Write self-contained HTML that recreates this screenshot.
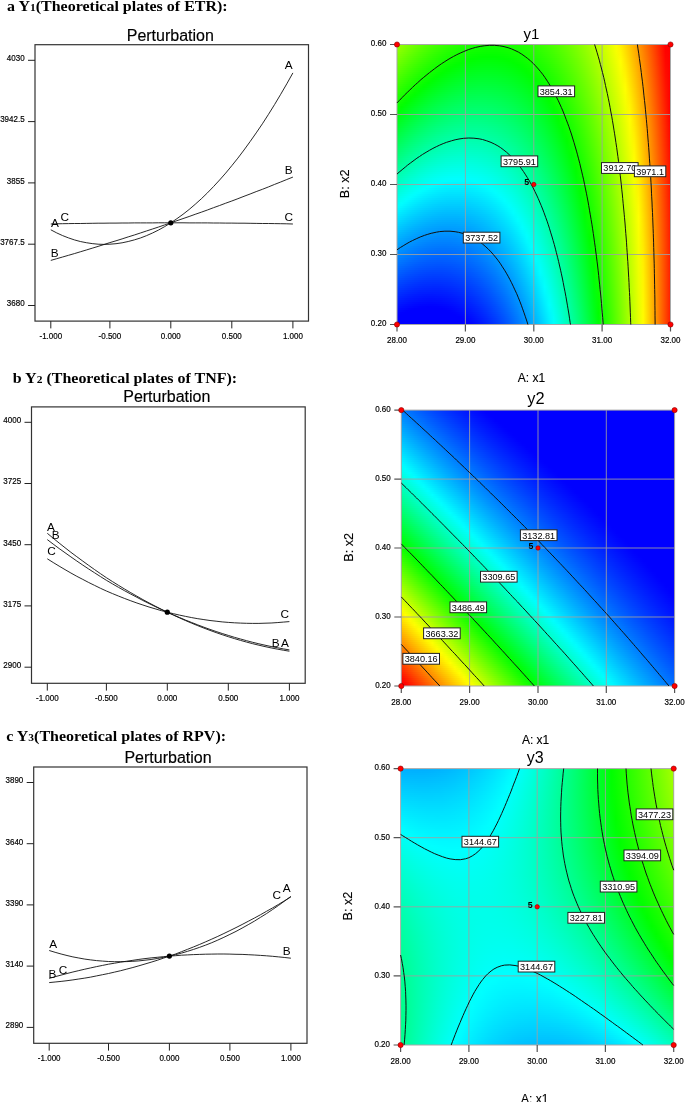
<!DOCTYPE html><html><head><meta charset="utf-8"><title>Perturbation and contour plots</title><style>
html,body{margin:0;padding:0;background:#fff}#r{position:relative;width:685px;height:1102px;overflow:hidden;background:#fff}.m{position:absolute;overflow:hidden}.m i{display:block;height:2px}svg{position:absolute;left:0;top:0}text{font-family:'Liberation Sans',Arial,sans-serif;fill:#000}.h{font-family:"Liberation Serif","Times New Roman",serif;font-weight:bold;font-size:16px}.t{font-size:8.7px;stroke:#000;stroke-width:.18px}.ti{font-size:16px;stroke:#000;stroke-width:.15px}.cl{font-size:9.4px}.ax{font-size:12px;stroke:#000;stroke-width:.12px}.pl{font-size:11.8px}.ct{font-size:15px}
</style></head><body><div id="r">
<div class="m" style="left:397px;top:44px;width:273px;height:280px">
<i style="background:linear-gradient(90deg,#9bff00,#8fff00,#83ff00,#78ff00,#6dff00,#63ff00,#5aff00,#51ff00,#49ff00,#41ff00,#3aff00,#34ff00,#2eff00,#29ff00,#24ff00,#20ff00,#1cff00,#1aff00,#17ff00,#16ff00,#15ff00,#14ff00,#14ff00,#15ff00,#17ff00,#19ff00,#1bff00,#1eff00,#2f0,#26ff00,#2bff00,#31ff00,#37ff00,#3eff00,#45ff00,#4dff00,#56ff00,#5fff00,#69ff00,#73ff00,#7eff00,#89ff00,#96ff00,#a2ff00,#b0ff00,#beff00,#cf0,#dbff00,#ebff00,#fbff00,#ffef00,#ffda00,#ffc500,#ffae00,#ff9700,#ff8000,#ff6700,#ff4e00,#ff3400,#ff1a00,#f00,#f00)"></i>
<i style="background:linear-gradient(90deg,#97ff00,#8aff00,#7eff00,#73ff00,#69ff00,#5fff00,#5f0,#4dff00,#4f0,#3dff00,#36ff00,#30ff00,#2aff00,#25ff00,#20ff00,#1cff00,#19ff00,#16ff00,#14ff00,#12ff00,#1f0,#1f0,#1f0,#12ff00,#13ff00,#15ff00,#18ff00,#1bff00,#1fff00,#23ff00,#28ff00,#2eff00,#34ff00,#3bff00,#43ff00,#4bff00,#53ff00,#5cff00,#6f0,#71ff00,#7cff00,#87ff00,#93ff00,#a0ff00,#aeff00,#bcff00,#caff00,#d9ff00,#e9ff00,#faff00,#fff100,#ffdc00,#ffc600,#ffb000,#f90,#ff8100,#ff6900,#ff4f00,#ff3500,#ff1b00,#f00,#f00)"></i>
<i style="background:linear-gradient(90deg,#92ff00,#86ff00,#7aff00,#6fff00,#64ff00,#5aff00,#51ff00,#48ff00,#40ff00,#39ff00,#32ff00,#2cff00,#26ff00,#21ff00,#1cff00,#18ff00,#15ff00,#12ff00,#10ff00,#0fff00,#0eff00,#0dff00,#0eff00,#0fff00,#10ff00,#12ff00,#15ff00,#18ff00,#1cff00,#21ff00,#26ff00,#2bff00,#32ff00,#38ff00,#40ff00,#48ff00,#51ff00,#5aff00,#64ff00,#6eff00,#79ff00,#85ff00,#91ff00,#9eff00,#acff00,#baff00,#c8ff00,#d8ff00,#e8ff00,#f8ff00,#fff300,#ffde00,#ffc800,#ffb200,#ff9b00,#ff8300,#ff6a00,#ff5100,#ff3700,#ff1c00,#ff0100,#f00)"></i>
<i style="background:linear-gradient(90deg,#8dff00,#81ff00,#75ff00,#6aff00,#60ff00,#56ff00,#4dff00,#4f0,#3cff00,#35ff00,#2eff00,#27ff00,#2f0,#1dff00,#18ff00,#14ff00,#1f0,#0fff00,#0dff00,#0bff00,#0aff00,#0aff00,#0aff00,#0bff00,#0dff00,#0fff00,#12ff00,#15ff00,#19ff00,#1eff00,#23ff00,#28ff00,#2fff00,#36ff00,#3dff00,#45ff00,#4eff00,#58ff00,#62ff00,#6cff00,#7f0,#83ff00,#8fff00,#9cff00,#af0,#b8ff00,#c7ff00,#d6ff00,#e6ff00,#f6ff00,#fff500,#ffe000,#ffca00,#ffb300,#ff9c00,#ff8400,#ff6b00,#ff5200,#ff3800,#ff1d00,#ff0200,#f00)"></i>
<i style="background:linear-gradient(90deg,#8f0,#7cff00,#71ff00,#6f0,#5bff00,#51ff00,#48ff00,#40ff00,#38ff00,#30ff00,#2aff00,#23ff00,#1eff00,#19ff00,#14ff00,#1f0,#0eff00,#0bff00,#09ff00,#08ff00,#07ff00,#07ff00,#07ff00,#08ff00,#0aff00,#0cff00,#0fff00,#12ff00,#16ff00,#1bff00,#20ff00,#26ff00,#2cff00,#3f0,#3bff00,#43ff00,#4cff00,#5f0,#5fff00,#6aff00,#75ff00,#81ff00,#8dff00,#9aff00,#a8ff00,#b6ff00,#c5ff00,#d4ff00,#e4ff00,#f5ff00,#fff700,#ffe100,#fc0,#ffb500,#ff9e00,#ff8600,#ff6d00,#ff5300,#ff3900,#ff1e00,#ff0300,#f00)"></i>
<i style="background:linear-gradient(90deg,#84ff00,#7f0,#6cff00,#61ff00,#57ff00,#4dff00,#4f0,#3bff00,#3f0,#2cff00,#25ff00,#1fff00,#1aff00,#15ff00,#1f0,#0dff00,#0aff00,#07ff00,#05ff00,#04ff00,#03ff00,#03ff00,#04ff00,#05ff00,#06ff00,#09ff00,#0cff00,#0fff00,#13ff00,#18ff00,#1dff00,#23ff00,#29ff00,#31ff00,#38ff00,#40ff00,#49ff00,#53ff00,#5dff00,#68ff00,#73ff00,#7fff00,#8bff00,#98ff00,#a6ff00,#b4ff00,#c3ff00,#d2ff00,#e3ff00,#f3ff00,#fff800,#ffe300,#ffcd00,#ffb700,#ff9f00,#ff8700,#ff6e00,#f50,#ff3a00,#ff1f00,#ff0400,#f00)"></i>
<i style="background:linear-gradient(90deg,#7fff00,#73ff00,#67ff00,#5cff00,#52ff00,#49ff00,#40ff00,#37ff00,#2fff00,#28ff00,#21ff00,#1bff00,#16ff00,#1f0,#0dff00,#09ff00,#06ff00,#04ff00,#02ff00,#0f0,#0f0,#0f0,#0f0,#01ff00,#03ff00,#06ff00,#09ff00,#0cff00,#10ff00,#15ff00,#1aff00,#20ff00,#27ff00,#2eff00,#36ff00,#3eff00,#47ff00,#50ff00,#5bff00,#65ff00,#71ff00,#7dff00,#89ff00,#96ff00,#a4ff00,#b2ff00,#c1ff00,#d1ff00,#e1ff00,#f2ff00,#fffa00,#ffe500,#ffcf00,#ffb800,#ffa100,#f80,#ff7000,#ff5600,#ff3c00,#ff2100,#ff0500,#f00)"></i>
<i style="background:linear-gradient(90deg,#7aff00,#6eff00,#63ff00,#58ff00,#4eff00,#4f0,#3bff00,#3f0,#2bff00,#24ff00,#1dff00,#17ff00,#12ff00,#0dff00,#09ff00,#05ff00,#02ff00,#0f0,#00ff02,#00ff04,#00ff04,#00ff04,#00ff04,#00ff02,#0f0,#02ff00,#05ff00,#09ff00,#0dff00,#12ff00,#17ff00,#1dff00,#24ff00,#2bff00,#3f0,#3bff00,#4f0,#4eff00,#58ff00,#63ff00,#6eff00,#7aff00,#87ff00,#94ff00,#a2ff00,#b0ff00,#bfff00,#cfff00,#dfff00,#f0ff00,#fffc00,#ffe700,#ffd100,#ffba00,#ffa200,#ff8a00,#ff7100,#ff5700,#ff3d00,#f20,#ff0600,#f00)"></i>
<i style="background:linear-gradient(90deg,#75ff00,#69ff00,#5eff00,#53ff00,#49ff00,#40ff00,#37ff00,#2fff00,#27ff00,#20ff00,#19ff00,#13ff00,#0eff00,#09ff00,#05ff00,#02ff00,#00ff02,#00ff04,#00ff07,#00ff08,#00ff09,#00ff09,#00ff08,#00ff06,#00ff04,#00ff01,#02ff00,#06ff00,#0aff00,#0fff00,#15ff00,#1bff00,#21ff00,#29ff00,#31ff00,#39ff00,#42ff00,#4cff00,#56ff00,#61ff00,#6cff00,#78ff00,#85ff00,#92ff00,#a0ff00,#afff00,#beff00,#cdff00,#deff00,#ef0,#fffe00,#ffe800,#ffd200,#fb0,#ffa400,#ff8b00,#ff7200,#ff5900,#ff3e00,#ff2300,#ff0700,#f00)"></i>
<i style="background:linear-gradient(90deg,#71ff00,#65ff00,#5aff00,#4fff00,#45ff00,#3bff00,#3f0,#2aff00,#23ff00,#1cff00,#15ff00,#0fff00,#0aff00,#05ff00,#01ff00,#00ff03,#00ff06,#00ff09,#00ff0b,#00ff0c,#00ff0d,#00ff0d,#00ff0c,#00ff0a,#00ff08,#00ff05,#00ff01,#03ff00,#07ff00,#0cff00,#12ff00,#18ff00,#1fff00,#26ff00,#2eff00,#37ff00,#40ff00,#49ff00,#54ff00,#5fff00,#6aff00,#76ff00,#83ff00,#90ff00,#9eff00,#adff00,#bcff00,#cf0,#dcff00,#edff00,#feff00,#ffea00,#ffd400,#ffbd00,#ffa500,#ff8d00,#ff7400,#ff5a00,#ff3f00,#ff2400,#ff0800,#f00)"></i>
<i style="background:linear-gradient(90deg,#6cff00,#60ff00,#5f0,#4aff00,#40ff00,#37ff00,#2eff00,#26ff00,#1eff00,#17ff00,#1f0,#0bff00,#06ff00,#01ff00,#00ff03,#00ff07,#00ff0b,#00ff0d,#00ff0f,#0f1,#0f1,#0f1,#00ff10,#00ff0e,#00ff0c,#00ff08,#00ff05,#0f0,#04ff00,#09ff00,#0fff00,#15ff00,#1cff00,#23ff00,#2bff00,#34ff00,#3dff00,#47ff00,#51ff00,#5cff00,#68ff00,#74ff00,#81ff00,#8eff00,#9cff00,#abff00,#baff00,#caff00,#daff00,#ebff00,#fdff00,#ffec00,#ffd600,#ffbe00,#ffa700,#ff8e00,#ff7500,#ff5b00,#ff4000,#ff2500,#ff0900,#f00)"></i>
<i style="background:linear-gradient(90deg,#67ff00,#5bff00,#50ff00,#46ff00,#3cff00,#3f0,#2aff00,#2f0,#1aff00,#13ff00,#0dff00,#07ff00,#02ff00,#00ff03,#00ff08,#00ff0c,#00ff0f,#00ff12,#00ff14,#00ff15,#00ff15,#00ff15,#00ff14,#00ff12,#00ff10,#00ff0c,#00ff08,#00ff04,#02ff00,#07ff00,#0cff00,#13ff00,#19ff00,#21ff00,#29ff00,#32ff00,#3bff00,#45ff00,#4fff00,#5aff00,#6f0,#72ff00,#7fff00,#8cff00,#9aff00,#a9ff00,#b8ff00,#c8ff00,#d9ff00,#eaff00,#fbff00,#fe0,#ffd700,#ffc000,#ffa800,#ff9000,#ff7600,#ff5c00,#ff4200,#ff2600,#ff0a00,#f00)"></i>
<i style="background:linear-gradient(90deg,#63ff00,#57ff00,#4cff00,#41ff00,#37ff00,#2eff00,#26ff00,#1dff00,#16ff00,#0fff00,#09ff00,#03ff00,#00ff02,#00ff08,#00ff0c,#00ff10,#00ff14,#00ff16,#00ff18,#00ff19,#00ff19,#00ff19,#00ff18,#00ff16,#00ff13,#00ff10,#00ff0c,#00ff07,#00ff02,#04ff00,#09ff00,#10ff00,#17ff00,#1eff00,#26ff00,#2fff00,#38ff00,#42ff00,#4dff00,#58ff00,#64ff00,#70ff00,#7dff00,#8aff00,#9f0,#a7ff00,#b7ff00,#c7ff00,#d7ff00,#e8ff00,#faff00,#ffef00,#ffd900,#ffc200,#fa0,#ff9100,#ff7800,#ff5e00,#ff4300,#ff2700,#ff0b00,#f00)"></i>
<i style="background:linear-gradient(90deg,#5eff00,#52ff00,#47ff00,#3dff00,#3f0,#2aff00,#21ff00,#19ff00,#12ff00,#0bff00,#05ff00,#00ff01,#00ff07,#00ff0c,#0f1,#00ff15,#00ff18,#00ff1b,#00ff1c,#00ff1d,#00ff1e,#00ff1d,#00ff1c,#00ff1a,#00ff17,#00ff14,#00ff10,#00ff0b,#00ff05,#01ff00,#07ff00,#0dff00,#14ff00,#1cff00,#24ff00,#2dff00,#36ff00,#40ff00,#4bff00,#56ff00,#62ff00,#6eff00,#7bff00,#89ff00,#97ff00,#a6ff00,#b5ff00,#c5ff00,#d5ff00,#e7ff00,#f8ff00,#fff100,#ffda00,#ffc300,#ffab00,#ff9200,#ff7900,#ff5f00,#f40,#ff2800,#ff0c00,#f00)"></i>
<i style="background:linear-gradient(90deg,#59ff00,#4eff00,#43ff00,#38ff00,#2fff00,#25ff00,#1dff00,#15ff00,#0eff00,#07ff00,#01ff00,#00ff06,#00ff0c,#0f1,#00ff16,#00ff1a,#00ff1d,#00ff1f,#00ff21,#0f2,#0f2,#00ff21,#00ff20,#00ff1e,#00ff1b,#00ff18,#00ff13,#00ff0e,#00ff09,#00ff02,#04ff00,#0aff00,#1f0,#19ff00,#21ff00,#2aff00,#34ff00,#3eff00,#48ff00,#54ff00,#5fff00,#6cff00,#79ff00,#87ff00,#95ff00,#a4ff00,#b3ff00,#c3ff00,#d4ff00,#e5ff00,#f7ff00,#fff300,#ffdc00,#ffc500,#ffad00,#ff9400,#ff7a00,#ff6000,#ff4500,#ff2900,#ff0d00,#f00)"></i>
<i style="background:linear-gradient(90deg,#54ff00,#49ff00,#3eff00,#34ff00,#2aff00,#21ff00,#19ff00,#1f0,#09ff00,#03ff00,#00ff04,#00ff0b,#0f1,#00ff16,#00ff1a,#00ff1e,#00ff21,#00ff23,#00ff25,#00ff26,#00ff26,#00ff25,#00ff24,#0f2,#00ff1f,#00ff1b,#00ff17,#00ff12,#00ff0c,#00ff06,#01ff00,#08ff00,#0fff00,#17ff00,#1fff00,#28ff00,#31ff00,#3bff00,#46ff00,#51ff00,#5dff00,#6aff00,#7f0,#85ff00,#93ff00,#a2ff00,#b1ff00,#c2ff00,#d2ff00,#e4ff00,#f5ff00,#fff400,#ffde00,#ffc600,#ffae00,#ff9500,#ff7c00,#ff6100,#ff4600,#ff2a00,#ff0e00,#f00)"></i>
<i style="background:linear-gradient(90deg,#50ff00,#4f0,#3aff00,#2fff00,#26ff00,#1dff00,#14ff00,#0dff00,#05ff00,#00ff02,#00ff09,#00ff0f,#00ff15,#00ff1a,#00ff1f,#00ff23,#00ff26,#00ff28,#00ff29,#00ff2a,#00ff2a,#00ff29,#00ff28,#00ff26,#00ff23,#00ff1f,#00ff1b,#00ff16,#00ff10,#00ff09,#00ff02,#05ff00,#0cff00,#14ff00,#1cff00,#25ff00,#2fff00,#39ff00,#4f0,#4fff00,#5bff00,#68ff00,#75ff00,#83ff00,#91ff00,#a0ff00,#b0ff00,#c0ff00,#d1ff00,#e2ff00,#f4ff00,#fff600,#ffdf00,#ffc800,#ffaf00,#ff9600,#ff7d00,#ff6200,#ff4700,#ff2c00,#ff0f00,#f00)"></i>
<i style="background:linear-gradient(90deg,#4bff00,#40ff00,#35ff00,#2bff00,#21ff00,#18ff00,#10ff00,#08ff00,#01ff00,#00ff07,#00ff0e,#00ff14,#00ff1a,#00ff1f,#00ff24,#00ff27,#00ff2a,#00ff2c,#00ff2d,#00ff2e,#00ff2e,#00ff2d,#00ff2c,#00ff2a,#00ff27,#00ff23,#00ff1e,#00ff19,#00ff13,#00ff0d,#00ff05,#02ff00,#0aff00,#1f0,#1aff00,#23ff00,#2dff00,#37ff00,#42ff00,#4dff00,#59ff00,#6f0,#73ff00,#81ff00,#8fff00,#9eff00,#aeff00,#beff00,#cfff00,#e1ff00,#f3ff00,#fff800,#ffe100,#ffc900,#ffb100,#ff9800,#ff7e00,#ff6400,#ff4800,#ff2d00,#ff1000,#f00)"></i>
<i style="background:linear-gradient(90deg,#46ff00,#3bff00,#30ff00,#26ff00,#1dff00,#14ff00,#0cff00,#04ff00,#00ff04,#00ff0c,#00ff13,#00ff19,#00ff1f,#00ff24,#00ff28,#00ff2c,#00ff2e,#00ff30,#00ff32,#00ff32,#00ff32,#00ff31,#00ff30,#00ff2d,#00ff2a,#00ff27,#0f2,#00ff1d,#00ff17,#00ff10,#00ff09,#0f0,#07ff00,#0fff00,#17ff00,#21ff00,#2aff00,#35ff00,#3fff00,#4bff00,#57ff00,#64ff00,#71ff00,#7fff00,#8dff00,#9dff00,#acff00,#bdff00,#cdff00,#dfff00,#f1ff00,#fff900,#ffe200,#ffcb00,#ffb200,#f90,#ff7f00,#ff6500,#ff4a00,#ff2e00,#f10,#f00)"></i>
<i style="background:linear-gradient(90deg,#42ff00,#37ff00,#2cff00,#2f0,#19ff00,#10ff00,#08ff00,#0f0,#00ff09,#0f1,#00ff18,#00ff1e,#00ff24,#00ff29,#00ff2d,#00ff30,#0f3,#00ff35,#00ff36,#00ff37,#00ff36,#00ff35,#00ff34,#00ff31,#00ff2e,#00ff2a,#00ff26,#00ff20,#00ff1a,#00ff13,#00ff0c,#00ff04,#04ff00,#0cff00,#15ff00,#1eff00,#28ff00,#32ff00,#3dff00,#49ff00,#5f0,#62ff00,#6fff00,#7dff00,#8cff00,#9bff00,#abff00,#bf0,#cf0,#df0,#f0ff00,#fffb00,#ffe400,#fc0,#ffb400,#ff9b00,#ff8100,#f60,#ff4b00,#ff2f00,#ff1200,#f00)"></i>
<i style="background:linear-gradient(90deg,#3dff00,#32ff00,#27ff00,#1eff00,#14ff00,#0bff00,#03ff00,#00ff05,#00ff0e,#00ff15,#00ff1c,#00ff23,#00ff28,#00ff2d,#00ff31,#00ff35,#00ff37,#00ff39,#00ff3a,#00ff3b,#00ff3a,#00ff39,#00ff38,#00ff35,#00ff32,#00ff2e,#00ff29,#00ff24,#00ff1e,#00ff17,#00ff0f,#00ff07,#02ff00,#0aff00,#12ff00,#1cff00,#26ff00,#30ff00,#3bff00,#47ff00,#53ff00,#60ff00,#6dff00,#7bff00,#8aff00,#9f0,#a9ff00,#b9ff00,#caff00,#dcff00,#ef0,#fffd00,#ffe500,#ffce00,#ffb500,#ff9c00,#ff8200,#ff6700,#ff4c00,#ff3000,#ff1300,#f00)"></i>
<i style="background:linear-gradient(90deg,#39ff00,#2dff00,#23ff00,#19ff00,#10ff00,#07ff00,#00ff01,#00ff0a,#00ff13,#00ff1a,#00ff21,#00ff28,#00ff2d,#00ff32,#00ff36,#00ff39,#00ff3c,#00ff3d,#00ff3f,#00ff3f,#00ff3f,#00ff3d,#00ff3c,#00ff39,#00ff36,#00ff32,#00ff2d,#00ff27,#00ff21,#00ff1a,#00ff13,#00ff0a,#00ff01,#07ff00,#10ff00,#19ff00,#23ff00,#2eff00,#39ff00,#45ff00,#51ff00,#5eff00,#6bff00,#79ff00,#8f0,#97ff00,#a7ff00,#b8ff00,#c9ff00,#daff00,#edff00,#fffe00,#ffe700,#ffcf00,#ffb600,#ff9d00,#ff8300,#ff6800,#ff4d00,#ff3100,#ff1400,#f00)"></i>
<i style="background:linear-gradient(90deg,#34ff00,#29ff00,#1eff00,#15ff00,#0bff00,#03ff00,#00ff06,#00ff0f,#00ff18,#00ff1f,#00ff26,#00ff2c,#00ff32,#00ff36,#00ff3a,#00ff3e,#00ff40,#00ff42,#00ff43,#00ff43,#00ff43,#00ff41,#00ff40,#00ff3d,#00ff39,#00ff35,#00ff31,#00ff2b,#00ff25,#00ff1e,#00ff16,#00ff0d,#00ff04,#05ff00,#0eff00,#17ff00,#21ff00,#2bff00,#37ff00,#42ff00,#4fff00,#5cff00,#69ff00,#7f0,#86ff00,#96ff00,#a6ff00,#b6ff00,#c7ff00,#d9ff00,#ebff00,#feff00,#ffe900,#ffd100,#ffb800,#ff9e00,#ff8400,#ff6a00,#ff4e00,#ff3200,#ff1500,#f00)"></i>
<i style="background:linear-gradient(90deg,#2fff00,#24ff00,#1aff00,#10ff00,#07ff00,#00ff02,#00ff0c,#00ff15,#00ff1d,#00ff24,#00ff2b,#00ff31,#00ff36,#00ff3b,#00ff3f,#00ff42,#0f4,#00ff46,#00ff47,#00ff47,#00ff47,#00ff45,#00ff43,#00ff41,#00ff3d,#00ff39,#00ff34,#00ff2e,#00ff28,#00ff21,#00ff19,#0f1,#00ff07,#02ff00,#0bff00,#15ff00,#1fff00,#29ff00,#34ff00,#40ff00,#4dff00,#5aff00,#67ff00,#76ff00,#84ff00,#94ff00,#a4ff00,#b4ff00,#c6ff00,#d8ff00,#eaff00,#fdff00,#ffea00,#ffd200,#ffb900,#ffa000,#ff8600,#ff6b00,#ff4f00,#f30,#ff1600,#f00)"></i>
<i style="background:linear-gradient(90deg,#2bff00,#20ff00,#15ff00,#0cff00,#03ff00,#00ff07,#0f1,#00ff1a,#0f2,#00ff29,#00ff30,#00ff36,#00ff3b,#00ff40,#00ff43,#00ff47,#00ff49,#00ff4a,#00ff4b,#00ff4b,#00ff4b,#00ff49,#00ff47,#00ff45,#00ff41,#00ff3d,#00ff38,#00ff32,#00ff2c,#00ff24,#00ff1c,#00ff14,#00ff0a,#0f0,#09ff00,#12ff00,#1cff00,#27ff00,#32ff00,#3eff00,#4bff00,#58ff00,#65ff00,#74ff00,#83ff00,#92ff00,#a2ff00,#b3ff00,#c4ff00,#d6ff00,#e9ff00,#fcff00,#ffec00,#ffd300,#fb0,#ffa100,#ff8700,#ff6c00,#ff5000,#ff3400,#ff1700,#f00)"></i>
<i style="background:linear-gradient(90deg,#26ff00,#1bff00,#1f0,#07ff00,#00ff02,#00ff0c,#00ff16,#00ff1f,#00ff27,#00ff2e,#00ff35,#00ff3b,#00ff40,#0f4,#00ff48,#00ff4b,#00ff4d,#00ff4f,#00ff4f,#00ff50,#00ff4f,#00ff4d,#00ff4b,#00ff48,#00ff45,#00ff40,#00ff3b,#00ff36,#00ff2f,#00ff28,#00ff20,#00ff17,#00ff0d,#00ff03,#06ff00,#10ff00,#1aff00,#25ff00,#30ff00,#3cff00,#49ff00,#56ff00,#64ff00,#72ff00,#81ff00,#90ff00,#a1ff00,#b1ff00,#c3ff00,#d5ff00,#e7ff00,#faff00,#ffed00,#ffd500,#ffbc00,#ffa200,#f80,#ff6d00,#ff5100,#ff3500,#ff1700,#f00)"></i>
<i style="background:linear-gradient(90deg,#21ff00,#17ff00,#0cff00,#03ff00,#00ff07,#00ff12,#00ff1b,#00ff24,#00ff2c,#0f3,#00ff3a,#00ff3f,#00ff45,#00ff49,#00ff4d,#00ff4f,#00ff52,#00ff53,#00ff54,#00ff54,#00ff53,#00ff51,#00ff4f,#00ff4c,#00ff48,#0f4,#00ff3f,#00ff39,#00ff32,#00ff2b,#00ff23,#00ff1a,#0f1,#00ff06,#04ff00,#0dff00,#18ff00,#23ff00,#2eff00,#3aff00,#47ff00,#54ff00,#62ff00,#70ff00,#7fff00,#8fff00,#9fff00,#b0ff00,#c1ff00,#d3ff00,#e6ff00,#f9ff00,#ffef00,#ffd600,#ffbd00,#ffa400,#ff8900,#ff6e00,#ff5200,#ff3600,#ff1800,#f00)"></i>
<i style="background:linear-gradient(90deg,#1dff00,#12ff00,#08ff00,#00ff02,#00ff0d,#00ff17,#00ff20,#00ff29,#00ff31,#00ff38,#00ff3e,#0f4,#00ff49,#00ff4d,#00ff51,#00ff54,#00ff56,#00ff57,#00ff58,#00ff58,#00ff57,#0f5,#00ff53,#00ff50,#00ff4c,#00ff48,#00ff42,#00ff3d,#00ff36,#00ff2e,#00ff26,#00ff1d,#00ff14,#00ff09,#01ff00,#0bff00,#15ff00,#20ff00,#2cff00,#38ff00,#45ff00,#52ff00,#60ff00,#6eff00,#7dff00,#8dff00,#9dff00,#aeff00,#c0ff00,#d2ff00,#e4ff00,#f8ff00,#fff000,#ffd800,#ffbf00,#ffa500,#ff8a00,#ff6f00,#ff5300,#ff3700,#ff1900,#f00)"></i>
<i style="background:linear-gradient(90deg,#18ff00,#0eff00,#04ff00,#00ff07,#00ff12,#00ff1c,#00ff25,#00ff2e,#00ff36,#00ff3d,#00ff43,#00ff49,#00ff4e,#00ff52,#00ff56,#00ff58,#00ff5a,#00ff5c,#00ff5c,#00ff5c,#00ff5b,#00ff59,#00ff57,#00ff54,#00ff50,#00ff4b,#00ff46,#00ff40,#00ff39,#00ff32,#00ff29,#00ff20,#00ff17,#00ff0c,#00ff01,#09ff00,#13ff00,#1eff00,#2aff00,#36ff00,#43ff00,#50ff00,#5eff00,#6cff00,#7cff00,#8bff00,#9cff00,#adff00,#beff00,#d0ff00,#e3ff00,#f6ff00,#fff200,#ffd900,#ffc000,#ffa600,#ff8c00,#ff7000,#ff5400,#ff3800,#ff1a00,#f00)"></i>
<i style="background:linear-gradient(90deg,#14ff00,#09ff00,#00ff01,#00ff0d,#00ff17,#00ff21,#00ff2a,#0f3,#00ff3b,#00ff42,#00ff48,#00ff4e,#00ff53,#00ff57,#00ff5a,#00ff5d,#00ff5f,#00ff60,#00ff60,#00ff60,#00ff5f,#00ff5d,#00ff5b,#00ff58,#00ff54,#00ff4f,#00ff4a,#00ff43,#00ff3d,#00ff35,#00ff2d,#00ff24,#00ff1a,#00ff0f,#00ff04,#06ff00,#1f0,#1cff00,#28ff00,#34ff00,#41ff00,#4eff00,#5cff00,#6bff00,#7aff00,#8aff00,#9aff00,#abff00,#bdff00,#cfff00,#e2ff00,#f5ff00,#fff300,#ffdb00,#ffc100,#ffa700,#ff8d00,#ff7100,#f50,#ff3800,#ff1b00,#f00)"></i>
<i style="background:linear-gradient(90deg,#0fff00,#05ff00,#00ff07,#00ff12,#00ff1c,#00ff26,#00ff30,#00ff38,#00ff40,#00ff47,#00ff4d,#00ff52,#00ff57,#00ff5b,#00ff5f,#00ff61,#00ff63,#00ff64,#00ff64,#00ff64,#00ff63,#00ff61,#00ff5f,#00ff5b,#00ff57,#00ff53,#00ff4d,#00ff47,#00ff40,#00ff38,#00ff30,#00ff27,#00ff1d,#00ff12,#00ff07,#04ff00,#0fff00,#1aff00,#25ff00,#32ff00,#3fff00,#4cff00,#5aff00,#69ff00,#78ff00,#8f0,#98ff00,#a9ff00,#bf0,#cdff00,#e0ff00,#f4ff00,#fff500,#ffdc00,#ffc300,#ffa900,#ff8e00,#ff7200,#ff5600,#ff3900,#ff1c00,#f00)"></i>
<i style="background:linear-gradient(90deg,#0bff00,#0f0,#00ff0c,#00ff17,#0f2,#00ff2c,#00ff35,#00ff3d,#00ff45,#00ff4c,#00ff52,#00ff57,#00ff5c,#00ff60,#00ff63,#00ff65,#00ff67,#00ff68,#00ff69,#00ff68,#00ff67,#00ff65,#00ff62,#00ff5f,#00ff5b,#00ff56,#00ff51,#00ff4a,#00ff43,#00ff3c,#0f3,#00ff2a,#00ff20,#00ff15,#00ff0a,#02ff00,#0cff00,#18ff00,#23ff00,#30ff00,#3dff00,#4aff00,#58ff00,#67ff00,#76ff00,#86ff00,#97ff00,#a8ff00,#baff00,#cf0,#dfff00,#f2ff00,#fff600,#fd0,#ffc400,#fa0,#ff8f00,#ff7400,#ff5700,#ff3a00,#ff1d00,#f00)"></i>
<i style="background:linear-gradient(90deg,#06ff00,#00ff05,#0f1,#00ff1d,#00ff27,#00ff31,#00ff3a,#00ff42,#00ff4a,#00ff50,#00ff56,#00ff5c,#00ff60,#00ff64,#00ff67,#00ff6a,#00ff6c,#00ff6d,#00ff6d,#00ff6c,#00ff6b,#00ff69,#0f6,#00ff63,#00ff5f,#00ff5a,#00ff54,#00ff4e,#00ff47,#00ff3f,#00ff36,#00ff2d,#00ff23,#00ff18,#00ff0d,#00ff01,#0aff00,#15ff00,#21ff00,#2eff00,#3bff00,#48ff00,#56ff00,#65ff00,#75ff00,#85ff00,#95ff00,#a6ff00,#b8ff00,#cbff00,#deff00,#f1ff00,#fff700,#ffdf00,#ffc500,#ffab00,#ff9000,#ff7500,#ff5800,#ff3b00,#ff1e00,#f00)"></i>
<i style="background:linear-gradient(90deg,#01ff00,#00ff0b,#00ff17,#0f2,#00ff2c,#00ff36,#00ff3f,#00ff47,#00ff4f,#0f5,#00ff5b,#00ff61,#00ff65,#00ff69,#00ff6c,#00ff6e,#00ff70,#00ff71,#00ff71,#00ff70,#00ff6f,#00ff6d,#00ff6a,#00ff67,#00ff62,#00ff5d,#00ff58,#00ff51,#00ff4a,#00ff42,#00ff3a,#00ff30,#00ff26,#00ff1b,#00ff10,#00ff03,#08ff00,#13ff00,#1fff00,#2bff00,#39ff00,#46ff00,#54ff00,#63ff00,#73ff00,#83ff00,#94ff00,#a5ff00,#b7ff00,#c9ff00,#dcff00,#f0ff00,#fff900,#ffe000,#ffc700,#ffac00,#ff9100,#ff7600,#ff5900,#ff3c00,#ff1e00,#f00)"></i>
<i style="background:linear-gradient(90deg,#00ff04,#00ff10,#00ff1c,#00ff27,#00ff31,#00ff3b,#0f4,#00ff4c,#00ff53,#00ff5a,#00ff60,#00ff65,#00ff6a,#00ff6d,#00ff70,#00ff73,#00ff74,#00ff75,#00ff75,#00ff74,#00ff73,#00ff71,#00ff6e,#00ff6a,#0f6,#00ff61,#00ff5b,#0f5,#00ff4d,#00ff45,#00ff3d,#0f3,#00ff29,#00ff1e,#00ff13,#00ff06,#06ff00,#1f0,#1dff00,#29ff00,#37ff00,#4f0,#53ff00,#62ff00,#71ff00,#81ff00,#92ff00,#a3ff00,#b5ff00,#c8ff00,#dbff00,#efff00,#fffa00,#ffe100,#ffc800,#ffae00,#ff9200,#f70,#ff5a00,#ff3d00,#ff1f00,#ff0100)"></i>
<i style="background:linear-gradient(90deg,#00ff09,#00ff16,#0f2,#00ff2c,#00ff37,#00ff40,#00ff49,#00ff51,#00ff58,#00ff5f,#00ff65,#00ff6a,#00ff6e,#00ff72,#00ff75,#0f7,#00ff78,#00ff79,#00ff79,#00ff78,#0f7,#00ff75,#00ff72,#00ff6e,#00ff6a,#00ff65,#00ff5f,#00ff58,#00ff51,#00ff49,#00ff40,#00ff36,#00ff2c,#00ff21,#00ff15,#00ff09,#03ff00,#0fff00,#1bff00,#27ff00,#35ff00,#42ff00,#51ff00,#60ff00,#6fff00,#80ff00,#90ff00,#a2ff00,#b4ff00,#c6ff00,#daff00,#edff00,#fffc00,#ffe300,#ffc900,#ffaf00,#ff9400,#ff7800,#ff5b00,#ff3e00,#ff2000,#ff0100)"></i>
<i style="background:linear-gradient(90deg,#00ff0f,#00ff1b,#00ff27,#00ff32,#00ff3c,#00ff45,#00ff4e,#00ff56,#00ff5d,#00ff64,#00ff6a,#00ff6f,#00ff73,#00ff76,#00ff79,#00ff7b,#00ff7d,#00ff7d,#00ff7d,#00ff7c,#00ff7b,#00ff79,#00ff76,#00ff72,#00ff6d,#00ff68,#00ff62,#00ff5c,#00ff54,#00ff4c,#00ff43,#00ff3a,#00ff2f,#00ff24,#00ff18,#00ff0c,#01ff00,#0dff00,#19ff00,#25ff00,#3f0,#40ff00,#4fff00,#5eff00,#6eff00,#7eff00,#8fff00,#a0ff00,#b2ff00,#c5ff00,#d8ff00,#ecff00,#fffd00,#ffe400,#ffca00,#ffb000,#ff9500,#ff7900,#ff5c00,#ff3f00,#ff2100,#ff0200)"></i>
<i style="background:linear-gradient(90deg,#00ff14,#00ff21,#00ff2c,#00ff37,#00ff41,#00ff4a,#00ff53,#00ff5b,#00ff62,#00ff69,#00ff6e,#00ff73,#0f7,#00ff7b,#00ff7e,#00ff80,#00ff81,#00ff82,#00ff81,#00ff80,#00ff7f,#00ff7d,#00ff79,#00ff76,#00ff71,#00ff6c,#0f6,#00ff5f,#00ff57,#00ff4f,#00ff46,#00ff3d,#00ff32,#00ff27,#00ff1b,#00ff0f,#00ff01,#0bff00,#17ff00,#23ff00,#31ff00,#3fff00,#4dff00,#5cff00,#6cff00,#7cff00,#8dff00,#9fff00,#b1ff00,#c4ff00,#d7ff00,#ebff00,#ff0,#ffe500,#fc0,#ffb100,#ff9600,#ff7a00,#ff5d00,#ff4000,#f20,#ff0300)"></i>
<i style="background:linear-gradient(90deg,#00ff1a,#00ff26,#00ff32,#00ff3c,#00ff46,#00ff50,#00ff58,#00ff60,#00ff67,#00ff6d,#00ff73,#00ff78,#00ff7c,#00ff7f,#00ff82,#00ff84,#00ff85,#00ff86,#00ff86,#00ff85,#00ff83,#00ff80,#00ff7d,#00ff79,#00ff75,#00ff6f,#00ff69,#00ff62,#00ff5b,#00ff53,#00ff49,#00ff40,#00ff35,#00ff2a,#00ff1e,#0f1,#00ff04,#08ff00,#15ff00,#21ff00,#2fff00,#3dff00,#4bff00,#5aff00,#6aff00,#7bff00,#8cff00,#9dff00,#afff00,#c2ff00,#d6ff00,#eaff00,#feff00,#ffe700,#ffcd00,#ffb200,#ff9700,#ff7b00,#ff5e00,#ff4100,#f20,#ff0300)"></i>
<i style="background:linear-gradient(90deg,#00ff1f,#00ff2c,#00ff37,#00ff42,#00ff4c,#0f5,#00ff5d,#00ff65,#00ff6c,#00ff72,#00ff78,#00ff7c,#00ff81,#00ff84,#00ff86,#0f8,#00ff8a,#00ff8a,#00ff8a,#00ff89,#00ff87,#00ff84,#00ff81,#00ff7d,#00ff78,#00ff73,#00ff6d,#0f6,#00ff5e,#00ff56,#00ff4d,#00ff43,#00ff38,#00ff2d,#00ff21,#00ff14,#00ff07,#06ff00,#12ff00,#1fff00,#2dff00,#3bff00,#49ff00,#59ff00,#69ff00,#79ff00,#8aff00,#9cff00,#aeff00,#c1ff00,#d4ff00,#e8ff00,#fdff00,#ffe800,#ffce00,#ffb300,#ff9800,#ff7c00,#ff5f00,#ff4100,#ff2300,#ff0400)"></i>
<i style="background:linear-gradient(90deg,#00ff25,#00ff31,#00ff3c,#00ff47,#00ff51,#00ff5a,#00ff62,#00ff6a,#00ff71,#0f7,#00ff7c,#00ff81,#00ff85,#0f8,#00ff8b,#00ff8d,#00ff8e,#00ff8e,#00ff8e,#00ff8d,#00ff8b,#0f8,#00ff85,#00ff81,#00ff7c,#00ff76,#00ff70,#00ff69,#00ff61,#00ff59,#00ff50,#00ff46,#00ff3b,#00ff30,#00ff24,#00ff17,#00ff09,#04ff00,#10ff00,#1dff00,#2bff00,#39ff00,#48ff00,#57ff00,#67ff00,#7f0,#89ff00,#9aff00,#adff00,#bfff00,#d3ff00,#e7ff00,#fcff00,#ffe900,#ffcf00,#ffb500,#f90,#ff7d00,#ff6000,#ff4200,#ff2400,#ff0500)"></i>
<i style="background:linear-gradient(90deg,#00ff2a,#00ff36,#00ff42,#00ff4c,#00ff56,#00ff5f,#00ff67,#00ff6f,#00ff76,#00ff7c,#00ff81,#00ff86,#00ff8a,#00ff8d,#00ff8f,#00ff91,#00ff92,#00ff92,#00ff92,#00ff91,#00ff8f,#00ff8c,#00ff89,#00ff84,#00ff80,#00ff7a,#00ff74,#00ff6d,#00ff65,#00ff5c,#00ff53,#00ff49,#00ff3e,#0f3,#00ff27,#00ff1a,#00ff0c,#02ff00,#0eff00,#1bff00,#29ff00,#37ff00,#46ff00,#5f0,#65ff00,#76ff00,#87ff00,#9f0,#abff00,#beff00,#d2ff00,#e6ff00,#fbff00,#ffeb00,#ffd100,#ffb600,#ff9a00,#ff7e00,#ff6100,#ff4300,#ff2500,#ff0600)"></i>
<i style="background:linear-gradient(90deg,#00ff30,#00ff3c,#00ff47,#00ff51,#00ff5b,#00ff64,#00ff6c,#00ff74,#00ff7a,#00ff81,#00ff86,#00ff8a,#00ff8e,#00ff91,#00ff94,#00ff95,#00ff96,#00ff96,#00ff96,#00ff95,#00ff93,#00ff90,#00ff8c,#0f8,#00ff83,#00ff7d,#0f7,#00ff70,#00ff68,#00ff5f,#00ff56,#00ff4c,#00ff41,#00ff36,#00ff29,#00ff1c,#00ff0f,#0f0,#0cff00,#19ff00,#27ff00,#35ff00,#4f0,#54ff00,#64ff00,#74ff00,#85ff00,#97ff00,#af0,#bdff00,#d0ff00,#e5ff00,#faff00,#ffec00,#ffd200,#ffb700,#ff9b00,#ff7f00,#ff6200,#f40,#ff2500,#ff0600)"></i>
<i style="background:linear-gradient(90deg,#00ff35,#00ff41,#00ff4c,#00ff57,#00ff60,#00ff69,#00ff71,#00ff79,#00ff7f,#00ff85,#00ff8a,#00ff8f,#00ff93,#00ff96,#00ff98,#00ff9a,#00ff9a,#00ff9b,#00ff9a,#0f9,#00ff96,#00ff94,#00ff90,#00ff8c,#00ff87,#00ff81,#00ff7a,#00ff73,#00ff6b,#00ff63,#00ff59,#00ff4f,#0f4,#00ff39,#00ff2c,#00ff1f,#0f1,#00ff03,#0aff00,#17ff00,#25ff00,#3f0,#42ff00,#52ff00,#62ff00,#73ff00,#84ff00,#96ff00,#a8ff00,#bf0,#cfff00,#e3ff00,#f8ff00,#ffed00,#ffd300,#ffb800,#ff9c00,#ff8000,#ff6300,#ff4500,#ff2600,#ff0700)"></i>
<i style="background:linear-gradient(90deg,#00ff3b,#00ff47,#00ff52,#00ff5c,#00ff65,#00ff6e,#00ff76,#00ff7e,#00ff84,#00ff8a,#00ff8f,#00ff94,#00ff97,#00ff9a,#00ff9c,#00ff9e,#00ff9f,#00ff9f,#00ff9e,#00ff9c,#00ff9a,#00ff97,#00ff94,#00ff8f,#00ff8a,#00ff84,#00ff7e,#0f7,#00ff6f,#0f6,#00ff5c,#00ff52,#00ff47,#00ff3b,#00ff2f,#0f2,#00ff14,#00ff05,#08ff00,#15ff00,#23ff00,#32ff00,#41ff00,#50ff00,#60ff00,#71ff00,#82ff00,#94ff00,#a7ff00,#baff00,#ceff00,#e2ff00,#f7ff00,#ffef00,#ffd400,#ffb900,#ff9d00,#ff8100,#ff6400,#ff4600,#ff2700,#ff0800)"></i>
<i style="background:linear-gradient(90deg,#00ff40,#00ff4c,#00ff57,#00ff61,#00ff6b,#00ff73,#00ff7b,#00ff82,#00ff89,#00ff8f,#00ff94,#00ff98,#00ff9c,#00ff9f,#00ffa1,#00ffa2,#00ffa3,#00ffa3,#00ffa2,#00ffa0,#00ff9e,#00ff9b,#00ff97,#00ff93,#00ff8e,#0f8,#00ff81,#00ff7a,#00ff72,#00ff69,#00ff5f,#0f5,#00ff4a,#00ff3e,#00ff32,#00ff25,#00ff17,#00ff08,#06ff00,#13ff00,#21ff00,#30ff00,#3fff00,#4eff00,#5fff00,#6fff00,#81ff00,#93ff00,#a6ff00,#b9ff00,#cdff00,#e1ff00,#f6ff00,#fff000,#ffd500,#ffba00,#ff9e00,#ff8200,#ff6400,#ff4600,#ff2800,#ff0800)"></i>
<i style="background:linear-gradient(90deg,#00ff46,#00ff51,#00ff5c,#0f6,#00ff70,#00ff78,#00ff80,#00ff87,#00ff8e,#00ff94,#0f9,#00ff9d,#00ffa0,#00ffa3,#00ffa5,#00ffa6,#00ffa7,#00ffa7,#00ffa6,#00ffa4,#00ffa2,#00ff9f,#00ff9b,#00ff97,#00ff91,#00ff8b,#00ff85,#00ff7d,#00ff75,#00ff6c,#00ff62,#00ff58,#00ff4d,#00ff41,#00ff35,#00ff27,#00ff19,#00ff0a,#04ff00,#1f0,#1fff00,#2eff00,#3dff00,#4dff00,#5dff00,#6eff00,#7fff00,#92ff00,#a4ff00,#b7ff00,#cbff00,#e0ff00,#f5ff00,#fff100,#ffd700,#fb0,#ff9f00,#ff8300,#ff6500,#ff4700,#ff2800,#ff0900)"></i>
<i style="background:linear-gradient(90deg,#00ff4b,#00ff57,#00ff61,#00ff6b,#00ff75,#00ff7d,#00ff85,#00ff8c,#00ff93,#00ff98,#00ff9d,#00ffa1,#00ffa5,#00ffa7,#00ffa9,#00ffab,#00ffab,#00ffab,#0fa,#00ffa8,#00ffa6,#00ffa3,#00ff9f,#00ff9a,#00ff95,#00ff8f,#0f8,#00ff81,#00ff78,#00ff6f,#0f6,#00ff5b,#00ff50,#0f4,#00ff37,#00ff2a,#00ff1c,#00ff0d,#02ff00,#10ff00,#1eff00,#2cff00,#3bff00,#4bff00,#5bff00,#6cff00,#7eff00,#90ff00,#a3ff00,#b6ff00,#caff00,#dfff00,#f4ff00,#fff200,#ffd800,#ffbc00,#ffa000,#ff8400,#f60,#ff4800,#ff2900,#ff0a00)"></i>
<i style="background:linear-gradient(90deg,#00ff51,#00ff5c,#00ff67,#00ff71,#00ff7a,#00ff82,#00ff8a,#00ff91,#00ff97,#00ff9d,#00ffa2,#00ffa6,#00ffa9,#00ffac,#00ffae,#00ffaf,#00ffaf,#00ffaf,#00ffae,#00ffac,#0fa,#00ffa7,#00ffa3,#00ff9e,#0f9,#00ff92,#00ff8b,#00ff84,#00ff7c,#00ff72,#00ff69,#00ff5e,#00ff53,#00ff47,#00ff3a,#00ff2d,#00ff1e,#00ff0f,#0f0,#0eff00,#1cff00,#2aff00,#39ff00,#49ff00,#5aff00,#6bff00,#7cff00,#8fff00,#a1ff00,#b5ff00,#c9ff00,#deff00,#f3ff00,#fff400,#ffd900,#ffbe00,#ffa100,#ff8500,#ff6700,#ff4900,#ff2a00,#ff0a00)"></i>
<i style="background:linear-gradient(90deg,#00ff56,#00ff61,#00ff6c,#00ff76,#00ff7f,#00ff87,#00ff8f,#00ff96,#00ff9c,#00ffa2,#00ffa6,#0fa,#00ffae,#00ffb0,#00ffb2,#00ffb3,#00ffb4,#00ffb3,#00ffb2,#00ffb0,#00ffae,#0fa,#00ffa6,#00ffa2,#00ff9c,#00ff96,#00ff8f,#00ff87,#00ff7f,#00ff76,#00ff6c,#00ff61,#00ff56,#00ff4a,#00ff3d,#00ff2f,#00ff21,#00ff12,#00ff02,#0cff00,#1aff00,#28ff00,#38ff00,#48ff00,#58ff00,#69ff00,#7bff00,#8dff00,#a0ff00,#b4ff00,#c8ff00,#dcff00,#f2ff00,#fff500,#ffda00,#ffbf00,#ffa200,#ff8600,#ff6800,#ff4a00,#ff2b00,#ff0b00)"></i>
<i style="background:linear-gradient(90deg,#00ff5b,#00ff67,#00ff71,#00ff7b,#00ff84,#00ff8c,#00ff94,#00ff9b,#00ffa1,#00ffa6,#00ffab,#00ffaf,#00ffb2,#00ffb5,#00ffb6,#00ffb7,#00ffb8,#00ffb7,#00ffb6,#00ffb4,#00ffb1,#00ffae,#0fa,#00ffa5,#00ffa0,#0f9,#00ff92,#00ff8a,#00ff82,#00ff79,#00ff6f,#00ff64,#00ff59,#00ff4c,#00ff40,#00ff32,#00ff24,#00ff14,#00ff05,#0aff00,#18ff00,#27ff00,#36ff00,#46ff00,#57ff00,#68ff00,#79ff00,#8cff00,#9fff00,#b2ff00,#c6ff00,#dbff00,#f1ff00,#fff600,#ffdb00,#ffc000,#ffa300,#ff8600,#ff6900,#ff4a00,#ff2b00,#ff0b00)"></i>
<i style="background:linear-gradient(90deg,#00ff61,#00ff6c,#00ff76,#00ff80,#00ff89,#00ff91,#0f9,#00ffa0,#00ffa6,#00ffab,#00ffb0,#00ffb4,#00ffb7,#00ffb9,#0fb,#00ffbc,#00ffbc,#0fb,#00ffba,#00ffb8,#00ffb5,#00ffb2,#00ffae,#00ffa9,#00ffa3,#00ff9d,#00ff96,#00ff8e,#00ff85,#00ff7c,#00ff72,#00ff67,#00ff5c,#00ff4f,#00ff42,#00ff35,#00ff26,#00ff17,#00ff07,#08ff00,#16ff00,#25ff00,#34ff00,#4f0,#5f0,#6f0,#78ff00,#8aff00,#9dff00,#b1ff00,#c5ff00,#daff00,#efff00,#fff700,#ffdc00,#ffc100,#ffa400,#ff8700,#ff6a00,#ff4b00,#ff2c00,#ff0c00)"></i>
<i style="background:linear-gradient(90deg,#0f6,#00ff71,#00ff7c,#00ff85,#00ff8e,#00ff96,#00ff9e,#00ffa5,#00ffab,#00ffb0,#00ffb4,#00ffb8,#0fb,#00ffbd,#00ffbf,#00ffc0,#00ffc0,#00ffbf,#00ffbe,#00ffbc,#00ffb9,#00ffb6,#00ffb1,#00ffac,#00ffa7,#00ffa0,#0f9,#00ff91,#0f8,#00ff7f,#00ff75,#00ff6a,#00ff5e,#00ff52,#00ff45,#00ff37,#00ff29,#00ff19,#00ff09,#06ff00,#14ff00,#23ff00,#3f0,#43ff00,#53ff00,#65ff00,#7f0,#89ff00,#9cff00,#b0ff00,#c4ff00,#d9ff00,#ef0,#fff800,#fd0,#ffc200,#ffa500,#f80,#ff6a00,#ff4c00,#ff2d00,#ff0d00)"></i>
<i style="background:linear-gradient(90deg,#00ff6c,#0f7,#00ff81,#00ff8a,#00ff93,#00ff9b,#00ffa3,#00ffa9,#00ffaf,#00ffb4,#00ffb9,#00ffbd,#00ffc0,#00ffc2,#00ffc3,#00ffc4,#00ffc4,#00ffc3,#00ffc2,#00ffc0,#00ffbd,#00ffb9,#00ffb5,#00ffb0,#0fa,#00ffa4,#00ff9c,#00ff94,#00ff8c,#00ff82,#00ff78,#00ff6d,#00ff61,#0f5,#00ff48,#00ff3a,#00ff2b,#00ff1c,#00ff0c,#04ff00,#12ff00,#21ff00,#31ff00,#41ff00,#52ff00,#63ff00,#75ff00,#8f0,#9bff00,#afff00,#c3ff00,#d8ff00,#edff00,#fffa00,#ffdf00,#ffc300,#ffa600,#ff8900,#ff6b00,#ff4d00,#ff2d00,#ff0d00)"></i>
<i style="background:linear-gradient(90deg,#00ff71,#00ff7c,#00ff86,#00ff90,#00ff98,#00ffa0,#00ffa8,#00ffae,#00ffb4,#00ffb9,#00ffbd,#00ffc1,#00ffc4,#00ffc6,#00ffc8,#00ffc8,#00ffc8,#00ffc7,#00ffc6,#00ffc4,#00ffc1,#00ffbd,#00ffb9,#00ffb3,#00ffae,#00ffa7,#00ffa0,#00ff98,#00ff8f,#00ff85,#00ff7b,#00ff70,#00ff64,#00ff58,#00ff4a,#00ff3d,#00ff2e,#00ff1e,#00ff0e,#02ff00,#1f0,#20ff00,#2fff00,#3fff00,#50ff00,#62ff00,#74ff00,#86ff00,#9f0,#adff00,#c2ff00,#d7ff00,#ecff00,#fffb00,#ffe000,#ffc400,#ffa700,#ff8a00,#ff6c00,#ff4d00,#ff2e00,#ff0e00)"></i>
<i style="background:linear-gradient(90deg,#00ff76,#00ff81,#00ff8b,#00ff95,#00ff9d,#00ffa5,#00ffad,#00ffb3,#00ffb9,#00ffbe,#00ffc2,#00ffc6,#00ffc8,#00ffca,#0fc,#0fc,#0fc,#00ffcb,#00ffca,#00ffc8,#00ffc5,#00ffc1,#00ffbc,#00ffb7,#00ffb1,#0fa,#00ffa3,#00ff9b,#00ff92,#0f8,#00ff7e,#00ff73,#00ff67,#00ff5a,#00ff4d,#00ff3f,#00ff30,#00ff21,#0f1,#0f0,#0fff00,#1eff00,#2dff00,#3eff00,#4fff00,#60ff00,#72ff00,#85ff00,#98ff00,#acff00,#c0ff00,#d6ff00,#ebff00,#fffc00,#ffe100,#ffc500,#ffa800,#ff8b00,#ff6d00,#ff4e00,#ff2f00,#ff0e00)"></i>
<i style="background:linear-gradient(90deg,#00ff7c,#00ff86,#00ff91,#00ff9a,#00ffa2,#0fa,#00ffb1,#00ffb8,#00ffbd,#00ffc2,#00ffc7,#00ffca,#00ffcd,#00ffcf,#00ffd0,#00ffd1,#00ffd0,#00ffd0,#00ffce,#00ffcb,#00ffc8,#00ffc5,#00ffc0,#0fb,#00ffb5,#00ffae,#00ffa6,#00ff9e,#00ff95,#00ff8b,#00ff81,#00ff76,#00ff6a,#00ff5d,#00ff50,#00ff42,#0f3,#00ff23,#00ff13,#00ff02,#0dff00,#1cff00,#2cff00,#3cff00,#4dff00,#5fff00,#71ff00,#83ff00,#97ff00,#abff00,#bfff00,#d4ff00,#eaff00,#fffd00,#ffe200,#ffc600,#ffa900,#ff8c00,#ff6e00,#ff4f00,#ff2f00,#ff0f00)"></i>
<i style="background:linear-gradient(90deg,#00ff81,#00ff8c,#00ff96,#00ff9f,#00ffa7,#00ffaf,#00ffb6,#00ffbd,#00ffc2,#00ffc7,#00ffcb,#00ffcf,#00ffd1,#00ffd3,#00ffd4,#00ffd5,#00ffd5,#00ffd4,#00ffd2,#00ffcf,#0fc,#00ffc8,#00ffc4,#00ffbe,#00ffb8,#00ffb1,#0fa,#00ffa1,#00ff98,#00ff8e,#00ff84,#00ff79,#00ff6d,#00ff60,#00ff53,#0f4,#00ff35,#00ff26,#00ff15,#00ff04,#0bff00,#1aff00,#2aff00,#3aff00,#4bff00,#5dff00,#6fff00,#82ff00,#96ff00,#af0,#beff00,#d3ff00,#e9ff00,#fffe00,#ffe300,#ffc700,#fa0,#ff8d00,#ff6e00,#ff4f00,#ff3000,#ff0f00)"></i>
<i style="background:linear-gradient(90deg,#00ff86,#00ff91,#00ff9b,#00ffa4,#00ffad,#00ffb4,#0fb,#00ffc1,#00ffc7,#0fc,#00ffd0,#00ffd3,#00ffd6,#00ffd7,#00ffd9,#00ffd9,#00ffd9,#00ffd8,#00ffd6,#00ffd3,#00ffd0,#0fc,#00ffc7,#00ffc2,#0fb,#00ffb5,#00ffad,#00ffa4,#00ff9b,#00ff91,#00ff87,#00ff7c,#00ff70,#00ff63,#0f5,#00ff47,#00ff38,#00ff28,#00ff18,#00ff07,#09ff00,#19ff00,#28ff00,#39ff00,#4aff00,#5cff00,#6eff00,#81ff00,#94ff00,#a8ff00,#bdff00,#d2ff00,#e8ff00,#ff0,#ffe400,#ffc800,#ffab00,#ff8d00,#ff6f00,#ff5000,#ff3000,#ff1000)"></i>
<i style="background:linear-gradient(90deg,#00ff8c,#00ff96,#00ffa0,#00ffa9,#00ffb2,#00ffb9,#00ffc0,#00ffc6,#0fc,#00ffd0,#00ffd4,#00ffd8,#00ffda,#00ffdc,#0fd,#0fd,#0fd,#00ffdc,#00ffda,#00ffd7,#00ffd4,#00ffd0,#00ffcb,#00ffc5,#00ffbf,#00ffb8,#00ffb0,#00ffa8,#00ff9e,#00ff95,#00ff8a,#00ff7e,#00ff72,#00ff65,#00ff58,#00ff4a,#00ff3a,#00ff2b,#00ff1a,#00ff09,#07ff00,#17ff00,#27ff00,#37ff00,#48ff00,#5aff00,#6cff00,#7fff00,#93ff00,#a7ff00,#bcff00,#d1ff00,#e7ff00,#feff00,#ffe500,#ffc900,#ffac00,#ff8e00,#ff7000,#ff5100,#ff3100,#f10)"></i>
<i style="background:linear-gradient(90deg,#00ff91,#00ff9c,#00ffa5,#00ffae,#00ffb7,#00ffbe,#00ffc5,#00ffcb,#00ffd0,#00ffd5,#00ffd9,#00ffdc,#00ffde,#00ffe0,#00ffe1,#00ffe1,#00ffe1,#00ffe0,#00ffde,#00ffdb,#00ffd7,#00ffd3,#00ffce,#00ffc9,#00ffc2,#0fb,#00ffb3,#00ffab,#00ffa2,#00ff98,#00ff8d,#00ff81,#00ff75,#00ff68,#00ff5b,#00ff4c,#00ff3d,#00ff2d,#00ff1c,#00ff0b,#06ff00,#15ff00,#25ff00,#36ff00,#47ff00,#59ff00,#6bff00,#7eff00,#92ff00,#a6ff00,#bf0,#d0ff00,#e6ff00,#fdff00,#ffe600,#ffca00,#ffad00,#ff8f00,#ff7100,#ff5200,#ff3200,#f10)"></i>
<i style="background:linear-gradient(90deg,#00ff96,#00ffa1,#0fa,#00ffb3,#00ffbc,#00ffc3,#00ffca,#00ffd0,#00ffd5,#00ffda,#0fd,#00ffe0,#00ffe3,#00ffe4,#00ffe5,#00ffe5,#00ffe5,#00ffe4,#00ffe1,#00ffdf,#00ffdb,#00ffd7,#00ffd2,#0fc,#00ffc6,#00ffbf,#00ffb7,#00ffae,#00ffa5,#00ff9b,#00ff90,#00ff84,#00ff78,#00ff6b,#00ff5d,#00ff4f,#00ff3f,#00ff30,#00ff1f,#00ff0d,#04ff00,#13ff00,#23ff00,#34ff00,#45ff00,#57ff00,#6aff00,#7dff00,#90ff00,#a5ff00,#baff00,#cfff00,#e5ff00,#fcff00,#ffe700,#ffcb00,#ffae00,#ff9000,#ff7100,#ff5200,#ff3200,#ff1200)"></i>
<i style="background:linear-gradient(90deg,#00ff9c,#00ffa6,#00ffb0,#00ffb8,#00ffc1,#00ffc8,#00ffcf,#00ffd5,#00ffda,#00ffde,#00ffe2,#00ffe5,#00ffe7,#00ffe9,#00ffe9,#00ffea,#00ffe9,#00ffe7,#00ffe5,#00ffe3,#00ffdf,#00ffdb,#00ffd6,#00ffd0,#00ffc9,#00ffc2,#00ffba,#00ffb1,#00ffa8,#00ff9e,#00ff93,#00ff87,#00ff7b,#00ff6e,#00ff60,#00ff51,#00ff42,#00ff32,#00ff21,#00ff10,#02ff00,#12ff00,#2f0,#32ff00,#4f0,#56ff00,#68ff00,#7bff00,#8fff00,#a3ff00,#b8ff00,#ceff00,#e4ff00,#fbff00,#ffe800,#fc0,#ffaf00,#ff9100,#ff7200,#ff5300,#f30,#ff1200)"></i>
<i style="background:linear-gradient(90deg,#00ffa1,#00ffab,#00ffb5,#00ffbd,#00ffc6,#00ffcd,#00ffd3,#00ffd9,#00ffde,#00ffe3,#00ffe6,#00ffe9,#00ffeb,#00ffed,#0fe,#0fe,#00ffed,#00ffeb,#00ffe9,#00ffe6,#00ffe3,#00ffde,#00ffd9,#00ffd3,#00ffcd,#00ffc5,#00ffbd,#00ffb4,#00ffab,#00ffa1,#00ff96,#00ff8a,#00ff7e,#00ff70,#00ff62,#00ff54,#0f4,#00ff34,#00ff23,#00ff12,#0f0,#10ff00,#20ff00,#31ff00,#42ff00,#54ff00,#67ff00,#7aff00,#8eff00,#a2ff00,#b7ff00,#cdff00,#e3ff00,#faff00,#ffe900,#ffcd00,#ffb000,#ff9200,#ff7300,#ff5400,#f30,#ff1300)"></i>
<i style="background:linear-gradient(90deg,#00ffa6,#00ffb0,#00ffba,#00ffc3,#00ffca,#00ffd2,#00ffd8,#00ffde,#00ffe3,#00ffe7,#00ffeb,#0fe,#00fff0,#00fff1,#00fff2,#00fff2,#00fff1,#00ffef,#00ffed,#00ffea,#00ffe6,#00ffe2,#0fd,#00ffd7,#00ffd0,#00ffc9,#00ffc1,#00ffb8,#00ffae,#00ffa4,#0f9,#00ff8d,#00ff80,#00ff73,#00ff65,#00ff56,#00ff47,#00ff37,#00ff26,#00ff14,#00ff02,#0eff00,#1eff00,#2fff00,#41ff00,#53ff00,#6f0,#79ff00,#8dff00,#a1ff00,#b6ff00,#cf0,#e2ff00,#f9ff00,#ffea00,#ffce00,#ffb000,#ff9200,#ff7400,#ff5400,#ff3400,#ff1300)"></i>
<i style="background:linear-gradient(90deg,#00ffac,#00ffb6,#00ffbf,#00ffc8,#00ffcf,#00ffd7,#0fd,#00ffe3,#00ffe8,#00ffec,#00ffef,#00fff2,#00fff4,#00fff5,#00fff6,#00fff6,#00fff5,#00fff3,#00fff1,#0fe,#00ffea,#00ffe6,#00ffe0,#00ffda,#00ffd3,#0fc,#00ffc4,#0fb,#00ffb1,#00ffa7,#00ff9c,#00ff90,#00ff83,#00ff76,#00ff68,#00ff59,#00ff49,#00ff39,#00ff28,#00ff16,#00ff04,#0dff00,#1dff00,#2eff00,#3fff00,#51ff00,#64ff00,#7f0,#8bff00,#a0ff00,#b5ff00,#cbff00,#e1ff00,#f8ff00,#ffeb00,#ffcf00,#ffb100,#ff9300,#ff7400,#f50,#ff3500,#ff1400)"></i>
<i style="background:linear-gradient(90deg,#00ffb1,#0fb,#00ffc4,#00ffcd,#00ffd4,#00ffdb,#00ffe2,#00ffe7,#00ffec,#00fff0,#00fff4,#00fff7,#00fff9,#00fffa,#00fffa,#00fffa,#00fff9,#00fff7,#00fff5,#00fff2,#0fe,#00ffe9,#00ffe4,#00ffde,#00ffd7,#00ffcf,#00ffc7,#00ffbe,#00ffb4,#0fa,#00ff9e,#00ff93,#00ff86,#00ff78,#00ff6a,#00ff5b,#00ff4c,#00ff3b,#00ff2a,#00ff19,#00ff06,#0bff00,#1bff00,#2cff00,#3eff00,#50ff00,#63ff00,#76ff00,#8aff00,#9fff00,#b4ff00,#caff00,#e0ff00,#f7ff00,#ffec00,#ffd000,#ffb200,#ff9400,#ff7500,#f50,#ff3500,#ff1400)"></i>
<i style="background:linear-gradient(90deg,#00ffb6,#00ffc0,#00ffc9,#00ffd2,#00ffd9,#00ffe0,#00ffe7,#00ffec,#00fff1,#00fff5,#00fff8,#00fffb,#00fffd,#00fffe,#00fffe,#00fffe,#00fffd,#00fffb,#00fff9,#00fff5,#00fff1,#00ffed,#00ffe7,#00ffe1,#00ffda,#00ffd3,#00ffca,#00ffc1,#00ffb7,#00ffad,#00ffa1,#00ff95,#00ff89,#00ff7b,#00ff6d,#00ff5e,#00ff4e,#00ff3e,#00ff2d,#00ff1b,#00ff08,#09ff00,#1aff00,#2bff00,#3cff00,#4fff00,#61ff00,#75ff00,#89ff00,#9eff00,#b3ff00,#c9ff00,#dfff00,#f6ff00,#ffed00,#ffd100,#ffb300,#ff9500,#ff7600,#ff5600,#ff3600,#ff1500)"></i>
<i style="background:linear-gradient(90deg,#0fb,#00ffc5,#00ffce,#00ffd7,#00ffde,#00ffe5,#00ffeb,#00fff1,#00fff6,#00fffa,#00fffd,#0ff,#00fdff,#00fcff,#00fcff,#00fcff,#00fdff,#0ff,#00fffd,#00fff9,#00fff5,#00fff0,#00ffeb,#00ffe5,#00ffde,#00ffd6,#00ffcd,#00ffc4,#00ffba,#00ffb0,#00ffa4,#00ff98,#00ff8b,#00ff7e,#00ff6f,#00ff60,#00ff51,#00ff40,#00ff2f,#00ff1d,#00ff0a,#08ff00,#18ff00,#29ff00,#3bff00,#4dff00,#60ff00,#74ff00,#8f0,#9cff00,#b2ff00,#c8ff00,#deff00,#f5ff00,#fe0,#ffd100,#ffb400,#ff9500,#ff7600,#ff5700,#ff3600,#ff1500)"></i>
<i style="background:linear-gradient(90deg,#00ffc1,#00ffca,#00ffd3,#00ffdc,#00ffe3,#00ffea,#00fff0,#00fff6,#00fffa,#00fffe,#00fdff,#00faff,#00f9ff,#00f8ff,#00f8ff,#00f8ff,#00f9ff,#00fbff,#00feff,#00fffd,#00fff9,#00fff4,#0fe,#00ffe8,#00ffe1,#00ffd9,#00ffd1,#00ffc7,#00ffbd,#00ffb3,#00ffa7,#00ff9b,#00ff8e,#00ff80,#00ff72,#00ff63,#00ff53,#00ff43,#00ff31,#00ff1f,#00ff0c,#06ff00,#16ff00,#28ff00,#39ff00,#4cff00,#5fff00,#72ff00,#86ff00,#9bff00,#b1ff00,#c7ff00,#df0,#f4ff00,#ffef00,#ffd200,#ffb500,#ff9600,#f70,#ff5700,#ff3700,#ff1500)"></i>
<i style="background:linear-gradient(90deg,#00ffc6,#00ffcf,#00ffd8,#00ffe1,#00ffe8,#00ffef,#00fff5,#00fffa,#0ff,#00fcff,#00f9ff,#00f6ff,#00f5ff,#00f4ff,#00f4ff,#00f4ff,#00f5ff,#00f7ff,#00faff,#00fdff,#00fffc,#00fff8,#00fff2,#00ffeb,#00ffe4,#00ffdc,#00ffd4,#00ffca,#00ffc0,#00ffb6,#0fa,#00ff9e,#00ff91,#00ff83,#00ff75,#00ff65,#0f5,#00ff45,#0f3,#00ff21,#00ff0e,#04ff00,#15ff00,#26ff00,#38ff00,#4aff00,#5dff00,#71ff00,#85ff00,#9aff00,#b0ff00,#c6ff00,#dcff00,#f3ff00,#fff000,#ffd300,#ffb600,#ff9700,#ff7800,#ff5800,#ff3700,#ff1600)"></i>
<i style="background:linear-gradient(90deg,#00ffcb,#00ffd5,#00ffde,#00ffe6,#00ffed,#00fff4,#00fffa,#0ff,#00fbff,#00f7ff,#00f4ff,#00f2ff,#00f1ff,#00f0ff,#00f0ff,#00f0ff,#00f2ff,#00f4ff,#00f6ff,#00faff,#00feff,#00fffb,#00fff5,#00ffef,#00ffe8,#00ffe0,#00ffd7,#00ffce,#00ffc3,#00ffb9,#00ffad,#00ffa1,#00ff94,#00ff86,#0f7,#00ff68,#00ff58,#00ff47,#00ff36,#00ff23,#0f1,#03ff00,#13ff00,#25ff00,#36ff00,#49ff00,#5cff00,#70ff00,#84ff00,#9f0,#aeff00,#c5ff00,#dbff00,#f3ff00,#fff100,#ffd400,#ffb600,#ff9800,#ff7800,#ff5800,#ff3800,#ff1600)"></i>
<i style="background:linear-gradient(90deg,#00ffd0,#00ffda,#00ffe3,#00ffeb,#00fff2,#00fff9,#00fffe,#00fbff,#00f6ff,#00f3ff,#00f0ff,#0ef,#00ecff,#00ecff,#00ecff,#00ecff,#0ef,#00f0ff,#00f3ff,#00f6ff,#00faff,#0ff,#00fff9,#00fff2,#00ffeb,#00ffe3,#00ffda,#00ffd1,#00ffc6,#00ffbc,#00ffb0,#00ffa3,#00ff96,#0f8,#00ff7a,#00ff6a,#00ff5a,#00ff49,#00ff38,#00ff26,#00ff13,#01ff00,#12ff00,#23ff00,#35ff00,#48ff00,#5bff00,#6fff00,#83ff00,#98ff00,#adff00,#c4ff00,#daff00,#f2ff00,#fff200,#ffd500,#ffb700,#ff9800,#ff7900,#ff5900,#ff3800,#ff1700)"></i>
<i style="background:linear-gradient(90deg,#00ffd5,#00ffdf,#00ffe8,#00fff0,#00fff7,#00fffd,#00fbff,#00f6ff,#00f2ff,#0ef,#00ecff,#00eaff,#00e8ff,#00e8ff,#00e8ff,#00e8ff,#00eaff,#00ecff,#00efff,#00f3ff,#00f7ff,#00fcff,#00fffc,#00fff6,#0fe,#00ffe6,#0fd,#00ffd4,#00ffc9,#00ffbe,#00ffb3,#00ffa6,#0f9,#00ff8b,#00ff7c,#00ff6d,#00ff5d,#00ff4c,#00ff3a,#00ff28,#00ff15,#00ff01,#10ff00,#2f0,#34ff00,#46ff00,#59ff00,#6dff00,#82ff00,#97ff00,#acff00,#c3ff00,#d9ff00,#f1ff00,#fff300,#ffd600,#ffb800,#f90,#ff7a00,#ff5a00,#ff3900,#ff1700)"></i>
<i style="background:linear-gradient(90deg,#00ffdb,#00ffe4,#00ffed,#00fff5,#00fffc,#00fcff,#00f6ff,#00f2ff,#0ef,#00eaff,#00e7ff,#00e5ff,#00e4ff,#00e4ff,#00e4ff,#00e5ff,#00e6ff,#00e8ff,#00ebff,#00efff,#00f3ff,#00f8ff,#00feff,#00fff9,#00fff2,#00ffe9,#00ffe1,#00ffd7,#0fc,#00ffc1,#00ffb6,#00ffa9,#00ff9c,#00ff8e,#00ff7f,#00ff6f,#00ff5f,#00ff4e,#00ff3c,#00ff2a,#00ff17,#00ff03,#0fff00,#20ff00,#32ff00,#45ff00,#58ff00,#6cff00,#81ff00,#96ff00,#abff00,#c2ff00,#d9ff00,#f0ff00,#fff400,#ffd700,#ffb900,#ff9a00,#ff7a00,#ff5a00,#ff3900,#ff1800)"></i>
<i style="background:linear-gradient(90deg,#00ffe0,#00ffe9,#00fff2,#00fffa,#00fdff,#00f7ff,#00f2ff,#00edff,#00e9ff,#00e6ff,#00e3ff,#00e1ff,#00e0ff,#00e0ff,#00e0ff,#00e1ff,#00e2ff,#00e5ff,#00e8ff,#00ebff,#00f0ff,#00f5ff,#00fbff,#00fffc,#00fff5,#00ffed,#00ffe4,#00ffda,#00ffcf,#00ffc4,#00ffb8,#00ffac,#00ff9e,#00ff90,#00ff81,#00ff72,#00ff61,#00ff50,#00ff3f,#00ff2c,#00ff19,#00ff05,#0dff00,#1fff00,#31ff00,#43ff00,#57ff00,#6bff00,#7fff00,#95ff00,#af0,#c1ff00,#d8ff00,#efff00,#fff500,#ffd800,#ffb900,#ff9b00,#ff7b00,#ff5b00,#ff3a00,#ff1800)"></i>
<i style="background:linear-gradient(90deg,#00ffe5,#0fe,#00fff7,#00fffe,#00f9ff,#00f3ff,#00edff,#00e9ff,#00e5ff,#00e2ff,#00dfff,#0df,#00dcff,#00dcff,#00dcff,#0df,#00dfff,#00e1ff,#00e4ff,#00e8ff,#00ecff,#00f2ff,#00f8ff,#00feff,#00fff8,#00fff0,#00ffe7,#0fd,#00ffd2,#00ffc7,#0fb,#00ffae,#00ffa1,#00ff93,#00ff84,#00ff74,#00ff64,#00ff53,#00ff41,#00ff2e,#00ff1b,#00ff07,#0bff00,#1dff00,#2fff00,#42ff00,#56ff00,#6aff00,#7eff00,#93ff00,#a9ff00,#c0ff00,#d7ff00,#ef0,#fff600,#ffd900,#ffba00,#ff9b00,#ff7c00,#ff5b00,#ff3a00,#ff1800)"></i>
<i style="background:linear-gradient(90deg,#00ffea,#00fff3,#00fffc,#00fbff,#00f4ff,#0ef,#00e9ff,#00e4ff,#00e0ff,#0df,#00dbff,#00d9ff,#00d8ff,#00d8ff,#00d8ff,#00d9ff,#00dbff,#0df,#00e0ff,#00e4ff,#00e9ff,#0ef,#00f4ff,#00fbff,#00fffc,#00fff3,#00ffea,#00ffe0,#00ffd5,#00ffca,#00ffbe,#00ffb1,#00ffa4,#00ff95,#00ff86,#0f7,#0f6,#0f5,#00ff43,#00ff30,#00ff1d,#00ff09,#0aff00,#1cff00,#2eff00,#41ff00,#54ff00,#68ff00,#7dff00,#92ff00,#a8ff00,#bfff00,#d6ff00,#edff00,#fff700,#ffd900,#fb0,#ff9c00,#ff7c00,#ff5c00,#ff3b00,#ff1900)"></i>
<i style="background:linear-gradient(90deg,#00ffef,#00fff8,#00fdff,#00f6ff,#00efff,#00eaff,#00e4ff,#00e0ff,#00dcff,#00d9ff,#00d7ff,#00d5ff,#00d4ff,#00d4ff,#00d4ff,#00d5ff,#00d7ff,#00daff,#0df,#00e1ff,#00e5ff,#00ebff,#00f1ff,#00f8ff,#0ff,#00fff6,#00ffed,#00ffe3,#00ffd8,#00ffcd,#00ffc1,#00ffb4,#00ffa6,#00ff98,#00ff89,#00ff79,#00ff68,#00ff57,#00ff45,#00ff32,#00ff1f,#00ff0b,#08ff00,#1aff00,#2cff00,#3fff00,#53ff00,#67ff00,#7cff00,#91ff00,#a7ff00,#beff00,#d5ff00,#edff00,#fff800,#ffda00,#ffbc00,#ff9d00,#ff7d00,#ff5c00,#ff3b00,#ff1900)"></i>
<i style="background:linear-gradient(90deg,#00fff5,#00fffd,#00f9ff,#00f1ff,#00ebff,#00e5ff,#00e0ff,#00dbff,#00d8ff,#00d5ff,#00d2ff,#00d1ff,#00d0ff,#00d0ff,#00d0ff,#00d1ff,#00d3ff,#00d6ff,#00d9ff,#0df,#00e2ff,#00e7ff,#0ef,#00f4ff,#00fcff,#00fffa,#00fff0,#00ffe6,#00ffdb,#00ffd0,#00ffc4,#00ffb7,#00ffa9,#00ff9b,#00ff8b,#00ff7b,#00ff6b,#00ff59,#00ff47,#00ff35,#00ff21,#00ff0d,#07ff00,#19ff00,#2bff00,#3eff00,#52ff00,#6f0,#7bff00,#90ff00,#a6ff00,#bdff00,#d4ff00,#ecff00,#fff900,#ffdb00,#ffbd00,#ff9d00,#ff7d00,#ff5d00,#ff3b00,#ff1900)"></i>
<i style="background:linear-gradient(90deg,#00fffa,#00fcff,#00f4ff,#00edff,#00e6ff,#00e0ff,#00dbff,#00d7ff,#00d3ff,#00d0ff,#00ceff,#00cdff,#0cf,#0cf,#0cf,#00ceff,#00d0ff,#00d2ff,#00d6ff,#00daff,#00dfff,#00e4ff,#00eaff,#00f1ff,#00f9ff,#00fffd,#00fff3,#00ffe9,#00ffde,#00ffd3,#00ffc6,#00ffb9,#00ffac,#00ff9d,#00ff8e,#00ff7e,#00ff6d,#00ff5c,#00ff4a,#00ff37,#00ff23,#00ff0f,#05ff00,#17ff00,#2aff00,#3dff00,#50ff00,#65ff00,#7aff00,#8fff00,#a5ff00,#bcff00,#d3ff00,#ebff00,#fffa00,#ffdc00,#ffbd00,#ff9e00,#ff7e00,#ff5d00,#ff3c00,#ff1a00)"></i>
<i style="background:linear-gradient(90deg,#0ff,#00f7ff,#00efff,#00e8ff,#00e1ff,#00dcff,#00d7ff,#00d3ff,#00cfff,#0cf,#00caff,#00c8ff,#00c8ff,#00c8ff,#00c8ff,#00caff,#0cf,#00cfff,#00d2ff,#00d6ff,#00dbff,#00e1ff,#00e7ff,#0ef,#00f6ff,#00feff,#00fff6,#00ffec,#00ffe1,#00ffd6,#00ffc9,#00ffbc,#00ffae,#00ffa0,#00ff90,#00ff80,#00ff6f,#00ff5e,#00ff4c,#00ff39,#00ff25,#0f1,#04ff00,#16ff00,#28ff00,#3bff00,#4fff00,#64ff00,#78ff00,#8eff00,#a4ff00,#bf0,#d2ff00,#eaff00,#fffb00,#fd0,#ffbe00,#ff9f00,#ff7f00,#ff5e00,#ff3c00,#ff1a00)"></i>
<i style="background:linear-gradient(90deg,#00faff,#00f2ff,#00eaff,#00e3ff,#0df,#00d7ff,#00d2ff,#00ceff,#00cbff,#00c8ff,#00c6ff,#00c4ff,#00c4ff,#00c4ff,#00c4ff,#00c6ff,#00c8ff,#00cbff,#00ceff,#00d3ff,#00d8ff,#0df,#00e4ff,#00ebff,#00f3ff,#00fbff,#00fffa,#00ffef,#00ffe4,#00ffd8,#0fc,#00ffbf,#00ffb1,#00ffa2,#00ff93,#00ff83,#00ff72,#00ff60,#00ff4e,#00ff3b,#00ff27,#00ff12,#02ff00,#14ff00,#27ff00,#3aff00,#4eff00,#62ff00,#7f0,#8dff00,#a3ff00,#baff00,#d1ff00,#e9ff00,#fffb00,#fd0,#ffbf00,#ff9f00,#ff7f00,#ff5e00,#ff3d00,#ff1b00)"></i>
<i style="background:linear-gradient(90deg,#00f5ff,#00edff,#00e5ff,#00deff,#00d8ff,#00d3ff,#00ceff,#00caff,#00c6ff,#00c4ff,#00c2ff,#00c0ff,#00c0ff,#00c0ff,#00c1ff,#00c2ff,#00c4ff,#00c7ff,#00cbff,#00cfff,#00d4ff,#00daff,#00e0ff,#00e8ff,#00efff,#00f8ff,#00fffd,#00fff2,#00ffe7,#00ffdb,#00ffcf,#00ffc1,#00ffb3,#00ffa5,#00ff95,#00ff85,#00ff74,#00ff62,#00ff50,#00ff3d,#00ff29,#00ff14,#01ff00,#13ff00,#26ff00,#39ff00,#4dff00,#61ff00,#76ff00,#8cff00,#a2ff00,#b9ff00,#d1ff00,#e9ff00,#fffc00,#ffde00,#ffbf00,#ffa000,#ff8000,#ff5f00,#ff3d00,#ff1b00)"></i>
<i style="background:linear-gradient(90deg,#00f0ff,#00e8ff,#00e1ff,#00daff,#00d4ff,#00ceff,#00c9ff,#00c5ff,#00c2ff,#00bfff,#00bdff,#00bcff,#00bcff,#00bcff,#00bdff,#00beff,#00c1ff,#00c4ff,#00c7ff,#0cf,#00d1ff,#00d7ff,#0df,#00e4ff,#00ecff,#00f5ff,#00feff,#00fff5,#00ffea,#00ffde,#00ffd2,#00ffc4,#00ffb6,#00ffa7,#00ff98,#00ff87,#00ff76,#00ff65,#00ff52,#00ff3f,#00ff2b,#00ff16,#00ff01,#1f0,#24ff00,#38ff00,#4bff00,#60ff00,#75ff00,#8bff00,#a1ff00,#b8ff00,#d0ff00,#e8ff00,#fffd00,#ffdf00,#ffc000,#ffa100,#ff8000,#ff5f00,#ff3e00,#ff1b00)"></i>
<i style="background:linear-gradient(90deg,#00ebff,#00e3ff,#00dcff,#00d5ff,#00cfff,#00caff,#00c5ff,#00c1ff,#00beff,#0bf,#00b9ff,#00b8ff,#00b8ff,#00b8ff,#00b9ff,#0bf,#00bdff,#00c0ff,#00c4ff,#00c8ff,#00cdff,#00d3ff,#00daff,#00e1ff,#00e9ff,#00f2ff,#00fbff,#00fff8,#00ffed,#00ffe1,#00ffd4,#00ffc7,#00ffb9,#0fa,#00ff9a,#00ff8a,#00ff79,#00ff67,#00ff54,#00ff41,#00ff2d,#00ff18,#00ff03,#10ff00,#23ff00,#36ff00,#4aff00,#5fff00,#74ff00,#8aff00,#a0ff00,#b7ff00,#cfff00,#e7ff00,#fffe00,#ffe000,#ffc100,#ffa100,#ff8100,#ff6000,#ff3e00,#ff1b00)"></i>
<i style="background:linear-gradient(90deg,#00e7ff,#00deff,#00d7ff,#00d0ff,#00caff,#00c5ff,#00c0ff,#00bdff,#00b9ff,#00b7ff,#00b5ff,#00b4ff,#00b4ff,#00b4ff,#00b5ff,#00b7ff,#00b9ff,#00bcff,#00c0ff,#00c5ff,#00caff,#00d0ff,#00d7ff,#00deff,#00e6ff,#00efff,#00f8ff,#00fffb,#00fff0,#00ffe4,#00ffd7,#00ffca,#0fb,#00ffac,#00ff9d,#00ff8c,#00ff7b,#00ff69,#00ff56,#00ff43,#00ff2f,#00ff1a,#00ff04,#0fff00,#21ff00,#35ff00,#49ff00,#5eff00,#73ff00,#89ff00,#9fff00,#b6ff00,#ceff00,#e6ff00,#ff0,#ffe100,#ffc200,#ffa200,#ff8100,#ff6000,#ff3e00,#ff1c00)"></i>
<i style="background:linear-gradient(90deg,#00e2ff,#00daff,#00d2ff,#0cf,#00c6ff,#00c1ff,#00bcff,#00b8ff,#00b5ff,#00b3ff,#00b1ff,#00b0ff,#00b0ff,#00b0ff,#00b1ff,#00b3ff,#00b6ff,#00b9ff,#00bdff,#00c1ff,#00c7ff,#00cdff,#00d3ff,#00dbff,#00e3ff,#00ecff,#00f6ff,#00fffe,#00fff3,#00ffe7,#00ffda,#0fc,#00ffbe,#00ffaf,#00ff9f,#00ff8e,#00ff7d,#00ff6b,#00ff58,#00ff45,#00ff31,#00ff1c,#00ff06,#0dff00,#20ff00,#34ff00,#48ff00,#5dff00,#72ff00,#8f0,#9eff00,#b5ff00,#cdff00,#e6ff00,#feff00,#ffe100,#ffc200,#ffa200,#ff8200,#ff6100,#ff3f00,#ff1c00)"></i>
<i style="background:linear-gradient(90deg,#0df,#00d5ff,#00ceff,#00c7ff,#00c1ff,#00bcff,#00b8ff,#00b4ff,#00b1ff,#00aeff,#00adff,#00acff,#00acff,#00acff,#00adff,#00afff,#00b2ff,#00b5ff,#00b9ff,#00beff,#00c3ff,#00c9ff,#00d0ff,#00d8ff,#00e0ff,#00e9ff,#00f3ff,#00fdff,#00fff6,#00ffe9,#00ffdc,#00ffcf,#00ffc0,#00ffb1,#00ffa1,#00ff91,#00ff7f,#00ff6d,#00ff5b,#00ff47,#0f3,#00ff1e,#00ff08,#0cff00,#1fff00,#32ff00,#47ff00,#5bff00,#71ff00,#87ff00,#9dff00,#b5ff00,#cf0,#e5ff00,#feff00,#ffe200,#ffc300,#ffa300,#ff8200,#ff6100,#ff3f00,#ff1c00)"></i>
<i style="background:linear-gradient(90deg,#00d8ff,#00d0ff,#00c9ff,#00c2ff,#00bdff,#00b8ff,#00b3ff,#00afff,#00adff,#0af,#00a9ff,#00a8ff,#00a8ff,#00a8ff,#0af,#00acff,#00aeff,#00b2ff,#00b6ff,#00baff,#00c0ff,#00c6ff,#00cdff,#00d5ff,#0df,#00e6ff,#00f0ff,#00faff,#00fff9,#00ffec,#00ffdf,#00ffd1,#00ffc3,#00ffb4,#00ffa4,#00ff93,#00ff82,#00ff70,#00ff5d,#00ff49,#00ff35,#00ff20,#00ff0a,#0aff00,#1dff00,#31ff00,#45ff00,#5aff00,#70ff00,#86ff00,#9cff00,#b4ff00,#cf0,#e4ff00,#fdff00,#ffe300,#ffc400,#ffa400,#ff8300,#ff6200,#ff3f00,#ff1d00)"></i>
<i style="background:linear-gradient(90deg,#00d3ff,#00cbff,#00c4ff,#00beff,#00b8ff,#00b3ff,#00afff,#00abff,#00a8ff,#00a6ff,#00a5ff,#00a4ff,#00a4ff,#00a4ff,#00a6ff,#00a8ff,#00abff,#00aeff,#00b2ff,#00b7ff,#00bdff,#00c3ff,#00caff,#00d2ff,#00daff,#00e3ff,#00edff,#00f7ff,#00fffb,#00ffef,#00ffe2,#00ffd4,#00ffc6,#00ffb6,#00ffa6,#00ff95,#00ff84,#00ff72,#00ff5f,#00ff4b,#00ff37,#00ff21,#00ff0c,#09ff00,#1cff00,#30ff00,#4f0,#59ff00,#6fff00,#85ff00,#9bff00,#b3ff00,#cbff00,#e3ff00,#fcff00,#ffe400,#ffc400,#ffa400,#ff8300,#ff6200,#ff4000,#ff1d00)"></i>
<i style="background:linear-gradient(90deg,#00ceff,#00c6ff,#00bfff,#00b9ff,#00b3ff,#00afff,#0af,#00a7ff,#00a4ff,#00a2ff,#00a0ff,#00a0ff,#00a0ff,#00a1ff,#00a2ff,#00a4ff,#00a7ff,#0af,#00afff,#00b4ff,#00b9ff,#00c0ff,#00c7ff,#00ceff,#00d7ff,#00e0ff,#00eaff,#00f4ff,#00fffe,#00fff2,#00ffe5,#00ffd7,#00ffc8,#00ffb9,#00ffa9,#00ff98,#00ff86,#00ff74,#00ff61,#00ff4d,#00ff39,#00ff23,#00ff0d,#08ff00,#1bff00,#2fff00,#43ff00,#58ff00,#6eff00,#84ff00,#9bff00,#b2ff00,#caff00,#e3ff00,#fcff00,#ffe400,#ffc500,#ffa500,#ff8400,#ff6200,#ff4000,#ff1d00)"></i>
<i style="background:linear-gradient(90deg,#00c9ff,#00c2ff,#0bf,#00b4ff,#00afff,#0af,#00a6ff,#00a2ff,#00a0ff,#009eff,#009cff,#009cff,#009cff,#009dff,#009eff,#00a0ff,#00a3ff,#00a7ff,#00abff,#00b0ff,#00b6ff,#00bcff,#00c3ff,#00cbff,#00d4ff,#0df,#00e7ff,#00f2ff,#00fdff,#00fff5,#00ffe7,#00ffd9,#00ffcb,#0fb,#00ffab,#00ff9a,#0f8,#00ff76,#00ff63,#00ff4f,#00ff3a,#00ff25,#00ff0f,#06ff00,#1aff00,#2dff00,#42ff00,#57ff00,#6dff00,#83ff00,#9aff00,#b1ff00,#c9ff00,#e2ff00,#fbff00,#ffe500,#ffc500,#ffa500,#ff8400,#ff6300,#ff4000,#ff1d00)"></i>
<i style="background:linear-gradient(90deg,#00c5ff,#00bdff,#00b6ff,#00b0ff,#0af,#00a6ff,#00a2ff,#009eff,#009cff,#009aff,#0098ff,#0098ff,#0098ff,#09f,#009aff,#009dff,#00a0ff,#00a3ff,#00a8ff,#00adff,#00b3ff,#00b9ff,#00c0ff,#00c8ff,#00d1ff,#00daff,#00e4ff,#00efff,#00faff,#00fff7,#00ffea,#00ffdc,#00ffcd,#00ffbe,#00ffad,#00ff9c,#00ff8b,#00ff78,#00ff65,#00ff51,#00ff3c,#00ff27,#0f1,#05ff00,#18ff00,#2cff00,#41ff00,#56ff00,#6cff00,#82ff00,#9f0,#b0ff00,#c8ff00,#e1ff00,#faff00,#ffe600,#ffc600,#ffa600,#ff8500,#ff6300,#ff4100,#ff1e00)"></i>
<i style="background:linear-gradient(90deg,#00c0ff,#00b8ff,#00b1ff,#00abff,#00a6ff,#00a1ff,#009dff,#009aff,#0097ff,#0095ff,#0094ff,#0094ff,#0094ff,#0095ff,#0097ff,#09f,#009cff,#00a0ff,#00a4ff,#00a9ff,#00afff,#00b6ff,#00bdff,#00c5ff,#00ceff,#00d7ff,#00e1ff,#00ecff,#00f8ff,#00fffa,#00ffed,#00ffdf,#00ffd0,#00ffc0,#00ffb0,#00ff9f,#00ff8d,#00ff7a,#00ff67,#00ff53,#00ff3e,#00ff29,#00ff13,#04ff00,#17ff00,#2bff00,#40ff00,#5f0,#6aff00,#81ff00,#98ff00,#afff00,#c8ff00,#e0ff00,#faff00,#ffe600,#ffc700,#ffa600,#ff8500,#ff6400,#ff4100,#ff1e00)"></i>
<i style="background:linear-gradient(90deg,#0bf,#00b3ff,#00adff,#00a7ff,#00a1ff,#009dff,#09f,#0096ff,#0093ff,#0091ff,#0090ff,#0090ff,#0090ff,#0091ff,#0093ff,#0095ff,#0098ff,#009cff,#00a1ff,#00a6ff,#00acff,#00b3ff,#00baff,#00c2ff,#00cbff,#00d4ff,#00deff,#00e9ff,#00f5ff,#00fffd,#00ffef,#00ffe1,#00ffd2,#00ffc2,#00ffb2,#00ffa1,#00ff8f,#00ff7c,#00ff69,#0f5,#00ff40,#00ff2b,#00ff14,#02ff00,#16ff00,#2aff00,#3eff00,#54ff00,#69ff00,#80ff00,#97ff00,#afff00,#c7ff00,#e0ff00,#f9ff00,#ffe700,#ffc700,#ffa700,#ff8600,#ff6400,#ff4100,#ff1e00)"></i>
<i style="background:linear-gradient(90deg,#00b6ff,#00afff,#00a8ff,#00a2ff,#009dff,#0098ff,#0094ff,#0091ff,#008fff,#008dff,#008cff,#008cff,#008cff,#008dff,#008fff,#0092ff,#0095ff,#09f,#009dff,#00a3ff,#00a9ff,#00afff,#00b7ff,#00bfff,#00c8ff,#00d1ff,#00dcff,#00e6ff,#00f2ff,#00feff,#00fff2,#00ffe4,#00ffd5,#00ffc5,#00ffb4,#00ffa3,#00ff91,#00ff7e,#00ff6b,#00ff57,#00ff42,#00ff2c,#00ff16,#01ff00,#14ff00,#28ff00,#3dff00,#53ff00,#68ff00,#7fff00,#96ff00,#aeff00,#c6ff00,#dfff00,#f8ff00,#ffe800,#ffc800,#ffa700,#ff8600,#ff6400,#ff4200,#ff1e00)"></i>
<i style="background:linear-gradient(90deg,#00b1ff,#0af,#00a3ff,#009dff,#0098ff,#0094ff,#0090ff,#008dff,#008bff,#0089ff,#08f,#08f,#08f,#0089ff,#008bff,#008eff,#0091ff,#0095ff,#009aff,#009fff,#00a5ff,#00acff,#00b4ff,#00bcff,#00c5ff,#00ceff,#00d9ff,#00e4ff,#00efff,#00fcff,#00fff5,#00ffe6,#00ffd7,#00ffc7,#00ffb7,#00ffa5,#00ff93,#00ff81,#00ff6d,#00ff59,#0f4,#00ff2e,#00ff18,#00ff01,#13ff00,#27ff00,#3cff00,#51ff00,#67ff00,#7eff00,#95ff00,#adff00,#c5ff00,#deff00,#f8ff00,#ffe800,#ffc900,#ffa800,#ff8700,#ff6500,#ff4200,#ff1f00)"></i>
<i style="background:linear-gradient(90deg,#00acff,#00a5ff,#009fff,#09f,#0094ff,#008fff,#008cff,#0089ff,#0086ff,#0085ff,#0084ff,#0084ff,#0084ff,#0086ff,#08f,#008aff,#008eff,#0092ff,#0096ff,#009cff,#00a2ff,#00a9ff,#00b0ff,#00b9ff,#00c2ff,#00cbff,#00d6ff,#00e1ff,#00edff,#00f9ff,#00fff7,#00ffe9,#00ffda,#00ffca,#00ffb9,#00ffa8,#00ff96,#00ff83,#00ff6f,#00ff5b,#00ff46,#00ff30,#00ff19,#00ff02,#12ff00,#26ff00,#3bff00,#50ff00,#6f0,#7dff00,#94ff00,#acff00,#c5ff00,#deff00,#f7ff00,#ffe900,#ffc900,#ffa800,#ff8700,#ff6500,#ff4200,#ff1f00)"></i>
<i style="background:linear-gradient(90deg,#00a8ff,#00a0ff,#009aff,#0094ff,#008fff,#008bff,#0087ff,#0084ff,#0082ff,#0081ff,#0080ff,#0080ff,#0080ff,#0082ff,#0084ff,#0087ff,#008aff,#008eff,#0093ff,#0098ff,#009fff,#00a6ff,#00adff,#00b6ff,#00bfff,#00c9ff,#00d3ff,#00deff,#00eaff,#00f7ff,#00fffa,#00ffeb,#00ffdc,#0fc,#0fb,#0fa,#00ff98,#00ff85,#00ff71,#00ff5d,#00ff48,#00ff32,#00ff1b,#00ff04,#1f0,#25ff00,#3aff00,#4fff00,#65ff00,#7cff00,#93ff00,#abff00,#c4ff00,#df0,#f7ff00,#ffea00,#ffca00,#ffa900,#f80,#ff6500,#ff4300,#ff1f00)"></i>
<i style="background:linear-gradient(90deg,#00a3ff,#009cff,#0095ff,#0090ff,#008bff,#0087ff,#0083ff,#0080ff,#007eff,#007dff,#007cff,#007cff,#007dff,#007eff,#0080ff,#0083ff,#0086ff,#008bff,#008fff,#0095ff,#009bff,#00a2ff,#0af,#00b3ff,#00bcff,#00c6ff,#00d0ff,#00dbff,#00e7ff,#00f4ff,#00fffd,#0fe,#00ffdf,#00ffce,#00ffbe,#00ffac,#00ff9a,#00ff87,#00ff73,#00ff5f,#00ff49,#0f3,#00ff1d,#00ff05,#0fff00,#24ff00,#39ff00,#4eff00,#64ff00,#7bff00,#93ff00,#abff00,#c3ff00,#dcff00,#f6ff00,#ffea00,#ffca00,#ffa900,#f80,#f60,#ff4300,#ff1f00)"></i>
<i style="background:linear-gradient(90deg,#009eff,#0097ff,#0091ff,#008bff,#0086ff,#0082ff,#007fff,#007cff,#007aff,#0079ff,#0078ff,#0078ff,#0079ff,#007aff,#007cff,#007fff,#0083ff,#0087ff,#008cff,#0092ff,#0098ff,#009fff,#00a7ff,#00b0ff,#00b9ff,#00c3ff,#00cdff,#00d9ff,#00e5ff,#00f1ff,#0ff,#00fff0,#00ffe1,#00ffd1,#00ffc0,#00ffae,#00ff9c,#00ff89,#00ff75,#00ff61,#00ff4b,#00ff35,#00ff1e,#00ff07,#0eff00,#23ff00,#38ff00,#4dff00,#63ff00,#7aff00,#92ff00,#af0,#c2ff00,#dcff00,#f5ff00,#ffeb00,#ffcb00,#fa0,#f80,#f60,#ff4300,#ff1f00)"></i>
<i style="background:linear-gradient(90deg,#09f,#0092ff,#008cff,#0087ff,#0082ff,#007eff,#007aff,#0078ff,#0076ff,#0074ff,#0074ff,#0074ff,#0075ff,#0076ff,#0079ff,#007cff,#007fff,#0084ff,#0089ff,#008eff,#0095ff,#009cff,#00a4ff,#00adff,#00b6ff,#00c0ff,#00cbff,#00d6ff,#00e2ff,#00efff,#00fcff,#00fff3,#00ffe3,#00ffd3,#00ffc2,#00ffb1,#00ff9e,#00ff8b,#0f7,#00ff62,#00ff4d,#00ff37,#00ff20,#00ff09,#0dff00,#21ff00,#36ff00,#4cff00,#62ff00,#79ff00,#91ff00,#a9ff00,#c2ff00,#dbff00,#f5ff00,#ffec00,#ffcb00,#fa0,#ff8900,#f60,#ff4300,#ff2000)"></i>
<i style="background:linear-gradient(90deg,#0095ff,#008eff,#08f,#0082ff,#007dff,#0079ff,#0076ff,#0073ff,#0072ff,#0070ff,#0070ff,#0070ff,#0071ff,#0073ff,#0075ff,#0078ff,#007cff,#0080ff,#0085ff,#008bff,#0092ff,#09f,#00a1ff,#0af,#00b3ff,#00bdff,#00c8ff,#00d3ff,#00dfff,#00ecff,#00faff,#00fff5,#00ffe6,#00ffd6,#00ffc5,#00ffb3,#00ffa0,#00ff8d,#00ff79,#00ff64,#00ff4f,#00ff39,#0f2,#00ff0a,#0cff00,#20ff00,#35ff00,#4bff00,#61ff00,#78ff00,#90ff00,#a8ff00,#c1ff00,#daff00,#f4ff00,#ffec00,#fc0,#ffab00,#ff8900,#ff6700,#f40,#ff2000)"></i>
<i style="background:linear-gradient(90deg,#0090ff,#0089ff,#0083ff,#007eff,#0079ff,#0075ff,#0072ff,#006fff,#006dff,#006cff,#006cff,#006cff,#006dff,#006fff,#0071ff,#0074ff,#0078ff,#007dff,#0082ff,#08f,#008eff,#0096ff,#009eff,#00a7ff,#00b0ff,#00baff,#00c5ff,#00d0ff,#0df,#00eaff,#00f7ff,#00fff8,#00ffe8,#00ffd8,#00ffc7,#00ffb5,#00ffa2,#00ff8f,#00ff7b,#0f6,#00ff51,#00ff3a,#00ff23,#00ff0c,#0aff00,#1fff00,#34ff00,#4aff00,#61ff00,#78ff00,#8fff00,#a7ff00,#c0ff00,#daff00,#f4ff00,#ffed00,#fc0,#ffab00,#ff8a00,#ff6700,#f40,#ff2000)"></i>
<i style="background:linear-gradient(90deg,#008bff,#0084ff,#007eff,#0079ff,#0075ff,#0071ff,#006dff,#006bff,#0069ff,#0068ff,#0068ff,#0068ff,#0069ff,#006bff,#006eff,#0071ff,#0075ff,#0079ff,#007eff,#0084ff,#008bff,#0093ff,#009bff,#00a3ff,#00adff,#00b7ff,#00c2ff,#00ceff,#00daff,#00e7ff,#00f5ff,#00fffa,#00ffeb,#00ffda,#00ffc9,#00ffb7,#00ffa4,#00ff91,#00ff7d,#00ff68,#00ff52,#00ff3c,#00ff25,#00ff0d,#09ff00,#1eff00,#3f0,#49ff00,#60ff00,#7f0,#8eff00,#a7ff00,#c0ff00,#d9ff00,#f3ff00,#ffed00,#ffcd00,#ffac00,#ff8a00,#ff6700,#f40,#ff2000)"></i>
<i style="background:linear-gradient(90deg,#0086ff,#0080ff,#007aff,#0075ff,#0070ff,#006cff,#0069ff,#0067ff,#0065ff,#0064ff,#0064ff,#0064ff,#0065ff,#0067ff,#006aff,#006dff,#0071ff,#0076ff,#007bff,#0081ff,#08f,#008fff,#0098ff,#00a0ff,#0af,#00b4ff,#00bfff,#00cbff,#00d7ff,#00e5ff,#00f2ff,#00fffd,#00ffed,#0fd,#00ffcb,#00ffb9,#00ffa7,#00ff93,#00ff7f,#00ff6a,#00ff54,#00ff3e,#00ff27,#00ff0f,#08ff00,#1dff00,#32ff00,#48ff00,#5fff00,#76ff00,#8eff00,#a6ff00,#bfff00,#d8ff00,#f3ff00,#fe0,#ffce00,#ffac00,#ff8a00,#ff6800,#f40,#ff2000)"></i>
<i style="background:linear-gradient(90deg,#0082ff,#007bff,#0075ff,#0070ff,#006cff,#0068ff,#0065ff,#0063ff,#0061ff,#0060ff,#0060ff,#0060ff,#0062ff,#0064ff,#06f,#006aff,#006eff,#0072ff,#0078ff,#007eff,#0085ff,#008cff,#0095ff,#009dff,#00a7ff,#00b2ff,#00bdff,#00c8ff,#00d5ff,#00e2ff,#00f0ff,#0ff,#00fff0,#00ffdf,#00ffce,#0fb,#00ffa9,#00ff95,#00ff81,#00ff6c,#00ff56,#00ff40,#00ff28,#00ff10,#07ff00,#1cff00,#31ff00,#47ff00,#5eff00,#75ff00,#8dff00,#a5ff00,#beff00,#d8ff00,#f2ff00,#ffef00,#ffce00,#ffad00,#ff8b00,#ff6800,#f40,#ff2000)"></i>
<i style="background:linear-gradient(90deg,#007dff,#0076ff,#0071ff,#006cff,#0067ff,#0064ff,#0061ff,#005eff,#005dff,#005cff,#005cff,#005dff,#005eff,#0060ff,#0063ff,#06f,#006aff,#006fff,#0074ff,#007bff,#0082ff,#0089ff,#0091ff,#009bff,#00a4ff,#00afff,#00baff,#00c6ff,#00d2ff,#00e0ff,#0ef,#00fcff,#00fff2,#00ffe1,#00ffd0,#00ffbe,#00ffab,#00ff97,#00ff83,#00ff6e,#00ff58,#00ff41,#00ff2a,#00ff12,#06ff00,#1aff00,#30ff00,#46ff00,#5dff00,#74ff00,#8cff00,#a4ff00,#bdff00,#d7ff00,#f1ff00,#ffef00,#ffcf00,#ffad00,#ff8b00,#ff6800,#ff4500,#ff2000)"></i>
<i style="background:linear-gradient(90deg,#0078ff,#0072ff,#006cff,#0067ff,#0063ff,#005fff,#005cff,#005aff,#0059ff,#0058ff,#0058ff,#0059ff,#005aff,#005cff,#005fff,#0062ff,#0067ff,#006bff,#0071ff,#07f,#007eff,#0086ff,#008eff,#0098ff,#00a1ff,#00acff,#00b7ff,#00c3ff,#00d0ff,#0df,#00ebff,#00faff,#00fff4,#00ffe4,#00ffd2,#00ffc0,#00ffad,#0f9,#00ff85,#00ff6f,#00ff5a,#00ff43,#00ff2c,#00ff13,#04ff00,#19ff00,#2fff00,#45ff00,#5cff00,#73ff00,#8bff00,#a4ff00,#bdff00,#d7ff00,#f1ff00,#fff000,#ffcf00,#ffae00,#ff8b00,#ff6800,#ff4500,#ff2000)"></i>
<i style="background:linear-gradient(90deg,#0073ff,#006dff,#0068ff,#0063ff,#005eff,#005bff,#0058ff,#0056ff,#05f,#0054ff,#0054ff,#05f,#0056ff,#0058ff,#005bff,#005fff,#0063ff,#0068ff,#006eff,#0074ff,#007bff,#0083ff,#008bff,#0095ff,#009eff,#00a9ff,#00b4ff,#00c0ff,#00cdff,#00dbff,#00e9ff,#00f7ff,#00fff7,#00ffe6,#00ffd4,#00ffc2,#00ffaf,#00ff9b,#00ff87,#00ff71,#00ff5b,#00ff45,#00ff2d,#00ff15,#03ff00,#18ff00,#2eff00,#4f0,#5bff00,#72ff00,#8aff00,#a3ff00,#bcff00,#d6ff00,#f0ff00,#fff000,#ffcf00,#ffae00,#ff8c00,#ff6900,#ff4500,#ff2100)"></i>
<i style="background:linear-gradient(90deg,#006fff,#0068ff,#0063ff,#005eff,#005aff,#0057ff,#0054ff,#0052ff,#0051ff,#0050ff,#0050ff,#0051ff,#0052ff,#05f,#0058ff,#005bff,#0060ff,#0065ff,#006aff,#0071ff,#0078ff,#0080ff,#08f,#0092ff,#009cff,#00a6ff,#00b2ff,#00beff,#00cbff,#00d8ff,#00e6ff,#00f5ff,#00fff9,#00ffe8,#00ffd6,#00ffc4,#00ffb1,#00ff9d,#0f8,#00ff73,#00ff5d,#00ff46,#00ff2f,#00ff16,#02ff00,#17ff00,#2dff00,#43ff00,#5aff00,#71ff00,#8aff00,#a2ff00,#bf0,#d5ff00,#f0ff00,#fff100,#ffd000,#ffae00,#ff8c00,#ff6900,#ff4500,#ff2100)"></i>
<i style="background:linear-gradient(90deg,#006aff,#0064ff,#005eff,#005aff,#0056ff,#0052ff,#0050ff,#004eff,#004dff,#004cff,#004cff,#004dff,#004fff,#0051ff,#0054ff,#0058ff,#005cff,#0061ff,#0067ff,#006eff,#0075ff,#007dff,#0085ff,#008fff,#09f,#00a3ff,#00afff,#0bf,#00c8ff,#00d5ff,#00e4ff,#00f3ff,#00fffb,#00ffea,#00ffd9,#00ffc6,#00ffb3,#00ff9f,#00ff8a,#00ff75,#00ff5f,#00ff48,#00ff30,#00ff18,#01ff00,#16ff00,#2cff00,#42ff00,#59ff00,#71ff00,#89ff00,#a1ff00,#bf0,#d5ff00,#efff00,#fff100,#ffd000,#ffaf00,#ff8c00,#ff6900,#ff4500,#ff2100)"></i>
<i style="background:linear-gradient(90deg,#0065ff,#005fff,#005aff,#05f,#0051ff,#004eff,#004bff,#004aff,#0048ff,#0048ff,#0048ff,#0049ff,#004bff,#004dff,#0050ff,#0054ff,#0059ff,#005eff,#0064ff,#006aff,#0072ff,#007aff,#0082ff,#008cff,#0096ff,#00a1ff,#00acff,#00b8ff,#00c5ff,#00d3ff,#00e1ff,#00f0ff,#00fffe,#00ffed,#00ffdb,#00ffc8,#00ffb5,#00ffa1,#00ff8c,#0f7,#00ff60,#00ff4a,#00ff32,#00ff19,#0f0,#15ff00,#2bff00,#41ff00,#58ff00,#70ff00,#8f0,#a1ff00,#baff00,#d4ff00,#efff00,#fff200,#ffd100,#ffaf00,#ff8d00,#ff6900,#ff4500,#ff2100)"></i>
<i style="background:linear-gradient(90deg,#0061ff,#005bff,#05f,#0051ff,#004dff,#004aff,#0047ff,#0045ff,#04f,#04f,#04f,#0045ff,#0047ff,#004aff,#004dff,#0051ff,#05f,#005aff,#0060ff,#0067ff,#006eff,#07f,#007fff,#0089ff,#0093ff,#009eff,#00a9ff,#00b6ff,#00c3ff,#00d1ff,#00dfff,#0ef,#00feff,#00ffef,#0fd,#00ffca,#00ffb7,#00ffa3,#00ff8e,#00ff79,#00ff62,#00ff4b,#0f3,#00ff1b,#00ff02,#14ff00,#2aff00,#40ff00,#57ff00,#6fff00,#87ff00,#a0ff00,#baff00,#d4ff00,#ef0,#fff200,#ffd100,#ffaf00,#ff8d00,#ff6a00,#ff4600,#ff2100)"></i>
<i style="background:linear-gradient(90deg,#005cff,#0056ff,#0051ff,#004cff,#0049ff,#0045ff,#0043ff,#0041ff,#0040ff,#0040ff,#0040ff,#0042ff,#0043ff,#0046ff,#0049ff,#004dff,#0052ff,#0057ff,#005dff,#0064ff,#006bff,#0073ff,#007cff,#0086ff,#0090ff,#009bff,#00a7ff,#00b3ff,#00c0ff,#00ceff,#0df,#00ecff,#00fcff,#00fff1,#00ffdf,#00ffcd,#00ffb9,#00ffa5,#00ff90,#00ff7a,#00ff64,#00ff4d,#00ff35,#00ff1c,#00ff03,#13ff00,#29ff00,#3fff00,#56ff00,#6eff00,#86ff00,#9fff00,#b9ff00,#d3ff00,#ef0,#fff300,#ffd200,#ffb000,#ff8d00,#ff6a00,#ff4600,#ff2100)"></i>
<i style="background:linear-gradient(90deg,#0057ff,#0052ff,#004cff,#0048ff,#04f,#0041ff,#003fff,#003dff,#003cff,#003cff,#003dff,#003eff,#0040ff,#0042ff,#0046ff,#004aff,#004eff,#0054ff,#005aff,#0061ff,#0068ff,#0070ff,#0079ff,#0083ff,#008dff,#0098ff,#00a4ff,#00b1ff,#00beff,#0cf,#00daff,#00e9ff,#00f9ff,#00fff3,#00ffe1,#00ffcf,#0fb,#00ffa7,#00ff92,#00ff7c,#0f6,#00ff4e,#00ff37,#00ff1e,#00ff04,#12ff00,#28ff00,#3eff00,#56ff00,#6dff00,#86ff00,#9fff00,#b8ff00,#d2ff00,#edff00,#fff400,#ffd200,#ffb000,#ff8d00,#ff6a00,#ff4600,#ff2100)"></i>
<i style="background:linear-gradient(90deg,#0053ff,#004dff,#0048ff,#04f,#0040ff,#003dff,#003bff,#0039ff,#0038ff,#0038ff,#0039ff,#003aff,#003cff,#003fff,#0042ff,#0046ff,#004bff,#0050ff,#0056ff,#005dff,#0065ff,#006dff,#0076ff,#0080ff,#008aff,#0096ff,#00a1ff,#00aeff,#0bf,#00c9ff,#00d8ff,#00e7ff,#00f7ff,#00fff6,#00ffe4,#00ffd1,#00ffbd,#00ffa9,#00ff94,#00ff7e,#00ff67,#00ff50,#00ff38,#00ff1f,#00ff06,#1f0,#27ff00,#3dff00,#5f0,#6dff00,#85ff00,#9eff00,#b8ff00,#d2ff00,#edff00,#fff400,#ffd300,#ffb100,#ff8e00,#ff6a00,#ff4600,#ff2100)"></i>
<i style="background:linear-gradient(90deg,#004eff,#0048ff,#0043ff,#003fff,#003cff,#0039ff,#0036ff,#0035ff,#0034ff,#0034ff,#0035ff,#0036ff,#0038ff,#003bff,#003eff,#0043ff,#0047ff,#004dff,#0053ff,#005aff,#0062ff,#006aff,#0073ff,#007dff,#08f,#0093ff,#009fff,#00abff,#00b9ff,#00c7ff,#00d5ff,#00e5ff,#00f5ff,#00fff8,#00ffe6,#00ffd3,#00ffbf,#00ffab,#00ff95,#00ff80,#00ff69,#00ff52,#00ff3a,#00ff21,#00ff07,#10ff00,#26ff00,#3cff00,#54ff00,#6cff00,#84ff00,#9dff00,#b7ff00,#d1ff00,#ecff00,#fff500,#ffd300,#ffb100,#ff8e00,#ff6a00,#ff4600,#ff2100)"></i>
<i style="background:linear-gradient(90deg,#0049ff,#04f,#003fff,#003bff,#0037ff,#0034ff,#0032ff,#0031ff,#0030ff,#0030ff,#0031ff,#0032ff,#0034ff,#0037ff,#003bff,#003fff,#04f,#004aff,#0050ff,#0057ff,#005fff,#0067ff,#0070ff,#007aff,#0085ff,#0090ff,#009cff,#00a9ff,#00b6ff,#00c4ff,#00d3ff,#00e3ff,#00f3ff,#00fffa,#00ffe8,#00ffd5,#00ffc1,#00ffad,#00ff97,#00ff81,#00ff6b,#00ff53,#00ff3b,#0f2,#00ff09,#0fff00,#25ff00,#3cff00,#53ff00,#6bff00,#83ff00,#9dff00,#b6ff00,#d1ff00,#ecff00,#fff500,#ffd300,#ffb100,#ff8e00,#ff6b00,#ff4600,#ff2100)"></i>
<i style="background:linear-gradient(90deg,#0045ff,#003fff,#003aff,#0036ff,#03f,#0030ff,#002eff,#002dff,#002cff,#002cff,#002dff,#002fff,#0031ff,#0034ff,#0037ff,#003cff,#0041ff,#0046ff,#004dff,#0054ff,#005cff,#0064ff,#006dff,#07f,#0082ff,#008dff,#09f,#00a6ff,#00b4ff,#00c2ff,#00d1ff,#00e0ff,#00f1ff,#00fffc,#00ffea,#00ffd7,#00ffc3,#00ffae,#0f9,#00ff83,#00ff6c,#0f5,#00ff3d,#00ff24,#00ff0a,#0eff00,#24ff00,#3bff00,#52ff00,#6aff00,#83ff00,#9cff00,#b6ff00,#d0ff00,#ebff00,#fff500,#ffd400,#ffb200,#ff8f00,#ff6b00,#ff4600,#ff2100)"></i>
<i style="background:linear-gradient(90deg,#0040ff,#003bff,#0036ff,#0032ff,#002fff,#002cff,#002aff,#0029ff,#0028ff,#0028ff,#0029ff,#002bff,#002dff,#0030ff,#0034ff,#0038ff,#003dff,#0043ff,#0049ff,#0051ff,#0059ff,#0061ff,#006aff,#0074ff,#007fff,#008bff,#0097ff,#00a4ff,#00b1ff,#00bfff,#00ceff,#00deff,#0ef,#0ff,#00ffec,#00ffd9,#00ffc5,#00ffb0,#00ff9b,#00ff85,#00ff6e,#00ff56,#00ff3e,#00ff25,#00ff0b,#0cff00,#23ff00,#3aff00,#51ff00,#69ff00,#82ff00,#9bff00,#b5ff00,#d0ff00,#ebff00,#fff600,#ffd400,#ffb200,#ff8f00,#ff6b00,#ff4600,#ff2100)"></i>
<i style="background:linear-gradient(90deg,#003cff,#0036ff,#0032ff,#002eff,#002aff,#0028ff,#0026ff,#0025ff,#0024ff,#0024ff,#0025ff,#0027ff,#0029ff,#002cff,#0030ff,#0035ff,#003aff,#0040ff,#0046ff,#004dff,#05f,#005eff,#0068ff,#0072ff,#007cff,#08f,#0094ff,#00a1ff,#00afff,#00bdff,#0cf,#00dcff,#00ecff,#00fdff,#0fe,#00ffdb,#00ffc7,#00ffb2,#00ff9d,#00ff87,#00ff70,#00ff58,#00ff40,#00ff26,#00ff0d,#0bff00,#2f0,#39ff00,#50ff00,#69ff00,#81ff00,#9bff00,#b5ff00,#cfff00,#eaff00,#fff600,#ffd500,#ffb200,#ff8f00,#ff6b00,#ff4600,#ff2100)"></i>
<i style="background:linear-gradient(90deg,#0037ff,#0032ff,#002dff,#0029ff,#0026ff,#0023ff,#02f,#0021ff,#0020ff,#0020ff,#0021ff,#0023ff,#0026ff,#0029ff,#002dff,#0031ff,#0036ff,#003cff,#0043ff,#004aff,#0052ff,#005bff,#0065ff,#006fff,#007aff,#0085ff,#0092ff,#009eff,#00acff,#0bf,#00caff,#00d9ff,#00eaff,#00fbff,#00fff0,#0fd,#00ffc9,#00ffb4,#00ff9f,#0f8,#00ff71,#00ff5a,#00ff41,#00ff28,#00ff0e,#0aff00,#21ff00,#38ff00,#50ff00,#68ff00,#81ff00,#9aff00,#b4ff00,#cfff00,#eaff00,#fff700,#ffd500,#ffb200,#ff8f00,#ff6b00,#ff4700,#ff2100)"></i>
<i style="background:linear-gradient(90deg,#0032ff,#002dff,#0029ff,#0025ff,#02f,#001fff,#001eff,#001dff,#001cff,#001dff,#001eff,#001fff,#02f,#0025ff,#0029ff,#002eff,#03f,#0039ff,#0040ff,#0047ff,#004fff,#0058ff,#0062ff,#006cff,#07f,#0083ff,#008fff,#009cff,#0af,#00b8ff,#00c7ff,#00d7ff,#00e8ff,#00f9ff,#00fff2,#00ffdf,#00ffcb,#00ffb6,#00ffa0,#00ff8a,#00ff73,#00ff5b,#00ff43,#00ff29,#00ff0f,#09ff00,#20ff00,#37ff00,#4fff00,#67ff00,#80ff00,#9f0,#b4ff00,#ceff00,#eaff00,#fff700,#ffd500,#ffb300,#ff8f00,#ff6b00,#ff4700,#ff2100)"></i>
<i style="background:linear-gradient(90deg,#002eff,#0029ff,#0024ff,#0020ff,#001dff,#001bff,#0019ff,#0018ff,#0018ff,#0019ff,#001aff,#001cff,#001eff,#02f,#0026ff,#002aff,#0030ff,#0036ff,#003dff,#04f,#004cff,#05f,#005fff,#0069ff,#0074ff,#0080ff,#008cff,#09f,#00a7ff,#00b6ff,#00c5ff,#00d5ff,#00e6ff,#00f7ff,#00fff5,#00ffe1,#00ffcd,#00ffb8,#00ffa2,#00ff8c,#00ff75,#00ff5d,#0f4,#00ff2b,#0f1,#08ff00,#1fff00,#36ff00,#4eff00,#6f0,#7fff00,#9f0,#b3ff00,#ceff00,#e9ff00,#fff800,#ffd600,#ffb300,#ff9000,#ff6b00,#ff4700,#ff2100)"></i>
<i style="background:linear-gradient(90deg,#0029ff,#0024ff,#0020ff,#001cff,#0019ff,#0017ff,#0015ff,#0014ff,#0014ff,#0015ff,#0016ff,#0018ff,#001bff,#001eff,#02f,#0027ff,#002cff,#0032ff,#0039ff,#0041ff,#0049ff,#0052ff,#005cff,#06f,#0071ff,#007dff,#008aff,#0097ff,#00a5ff,#00b3ff,#00c3ff,#00d3ff,#00e4ff,#00f5ff,#00fff7,#00ffe3,#00ffcf,#00ffba,#00ffa4,#00ff8d,#00ff76,#00ff5e,#00ff45,#00ff2c,#00ff12,#07ff00,#1eff00,#35ff00,#4dff00,#6f0,#7fff00,#98ff00,#b2ff00,#cdff00,#e9ff00,#fff800,#ffd600,#ffb300,#ff9000,#ff6c00,#ff4700,#ff2100)"></i>
<i style="background:linear-gradient(90deg,#0025ff,#0020ff,#001bff,#0018ff,#0015ff,#0013ff,#01f,#0010ff,#0010ff,#01f,#0012ff,#0014ff,#0017ff,#001aff,#001fff,#0023ff,#0029ff,#002fff,#0036ff,#003eff,#0046ff,#004fff,#0059ff,#0063ff,#006fff,#007aff,#0087ff,#0094ff,#00a2ff,#00b1ff,#00c0ff,#00d1ff,#00e1ff,#00f3ff,#00fff9,#00ffe5,#00ffd1,#0fb,#00ffa6,#00ff8f,#00ff78,#00ff60,#00ff47,#00ff2d,#00ff13,#06ff00,#1dff00,#34ff00,#4cff00,#65ff00,#7eff00,#98ff00,#b2ff00,#cdff00,#e8ff00,#fff900,#ffd600,#ffb400,#ff9000,#ff6c00,#ff4700,#ff2100)"></i>
<i style="background:linear-gradient(90deg,#0020ff,#001bff,#0017ff,#0013ff,#01f,#000fff,#000dff,#000cff,#000cff,#000dff,#000eff,#01f,#0013ff,#0017ff,#001bff,#0020ff,#0026ff,#002cff,#03f,#003bff,#0043ff,#004cff,#0056ff,#0061ff,#006cff,#0078ff,#0084ff,#0092ff,#00a0ff,#00afff,#00beff,#00ceff,#00dfff,#00f1ff,#00fffb,#00ffe7,#00ffd3,#00ffbd,#00ffa7,#00ff91,#00ff79,#00ff61,#00ff48,#00ff2f,#00ff14,#05ff00,#1cff00,#34ff00,#4cff00,#64ff00,#7dff00,#97ff00,#b1ff00,#cf0,#e8ff00,#fff900,#ffd700,#ffb400,#ff9000,#ff6c00,#ff4700,#ff2100)"></i>
<i style="background:linear-gradient(90deg,#001cff,#0017ff,#0013ff,#000fff,#000cff,#000aff,#0009ff,#0008ff,#0008ff,#0009ff,#000bff,#000dff,#0010ff,#0013ff,#0018ff,#001dff,#02f,#0029ff,#0030ff,#0038ff,#0040ff,#0049ff,#0053ff,#005eff,#0069ff,#0075ff,#0082ff,#008fff,#009dff,#00acff,#00bcff,#0cf,#0df,#00efff,#00fffd,#00ffe9,#00ffd4,#00ffbf,#00ffa9,#00ff92,#00ff7b,#00ff63,#00ff4a,#00ff30,#00ff16,#04ff00,#1bff00,#3f0,#4bff00,#63ff00,#7dff00,#96ff00,#b1ff00,#cf0,#e8ff00,#fff900,#ffd700,#ffb400,#ff9000,#ff6c00,#ff4700,#ff2100)"></i>
<i style="background:linear-gradient(90deg,#0017ff,#0012ff,#000eff,#000bff,#0008ff,#0006ff,#0005ff,#0004ff,#0004ff,#0005ff,#0007ff,#0009ff,#000cff,#0010ff,#0014ff,#0019ff,#001fff,#0025ff,#002dff,#0034ff,#003dff,#0046ff,#0050ff,#005bff,#06f,#0073ff,#007fff,#008dff,#009bff,#0af,#00baff,#00caff,#00dbff,#00edff,#0ff,#00ffeb,#00ffd6,#00ffc1,#00ffab,#00ff94,#00ff7c,#00ff64,#00ff4b,#00ff31,#00ff17,#04ff00,#1aff00,#32ff00,#4aff00,#63ff00,#7cff00,#96ff00,#b0ff00,#cbff00,#e7ff00,#fffa00,#ffd700,#ffb400,#ff9000,#ff6c00,#ff4700,#ff2100)"></i>
<i style="background:linear-gradient(90deg,#0013ff,#000eff,#000aff,#0007ff,#0004ff,#0002ff,#0001ff,#00f,#0001ff,#0001ff,#0003ff,#0005ff,#0008ff,#000cff,#01f,#0016ff,#001cff,#02f,#0029ff,#0031ff,#003aff,#0043ff,#004dff,#0058ff,#0064ff,#0070ff,#007dff,#008aff,#09f,#00a8ff,#00b7ff,#00c8ff,#00d9ff,#00ebff,#00fdff,#00ffed,#00ffd8,#00ffc3,#00ffad,#00ff96,#00ff7e,#0f6,#00ff4d,#0f3,#00ff18,#03ff00,#1aff00,#31ff00,#49ff00,#62ff00,#7bff00,#95ff00,#b0ff00,#cbff00,#e7ff00,#fffa00,#ffd800,#ffb500,#ff9100,#ff6c00,#ff4700,#ff2100)"></i>
<i style="background:linear-gradient(90deg,#000eff,#0009ff,#0006ff,#0002ff,#00f,#00f,#00f,#00f,#00f,#00f,#00f,#0002ff,#0005ff,#0009ff,#000dff,#0012ff,#0018ff,#001fff,#0026ff,#002eff,#0037ff,#0040ff,#004bff,#05f,#0061ff,#006dff,#007aff,#08f,#0096ff,#00a5ff,#00b5ff,#00c6ff,#00d7ff,#00e9ff,#00fbff,#00ffef,#00ffda,#00ffc5,#00ffae,#00ff97,#00ff80,#00ff67,#00ff4e,#00ff34,#00ff19,#02ff00,#19ff00,#30ff00,#48ff00,#61ff00,#7bff00,#95ff00,#afff00,#cbff00,#e6ff00,#fffb00,#ffd800,#ffb500,#ff9100,#ff6c00,#ff4700,#ff2100)"></i>
<i style="background:linear-gradient(90deg,#000aff,#0005ff,#0001ff,#00f,#00f,#00f,#00f,#00f,#00f,#00f,#00f,#00f,#0001ff,#0005ff,#000aff,#000fff,#0015ff,#001cff,#0023ff,#002bff,#0034ff,#003eff,#0048ff,#0053ff,#005eff,#006bff,#0078ff,#0085ff,#0094ff,#00a3ff,#00b3ff,#00c3ff,#00d5ff,#00e7ff,#00f9ff,#00fff1,#00ffdc,#00ffc6,#00ffb0,#0f9,#00ff81,#00ff69,#00ff4f,#00ff35,#00ff1b,#01ff00,#18ff00,#2fff00,#48ff00,#61ff00,#7aff00,#94ff00,#afff00,#caff00,#e6ff00,#fffb00,#ffd800,#ffb500,#ff9100,#ff6c00,#ff4700,#ff2100)"></i>
<i style="background:linear-gradient(90deg,#0005ff,#0001ff,#00f,#00f,#00f,#00f,#00f,#00f,#00f,#00f,#00f,#00f,#00f,#0002ff,#0006ff,#000cff,#0012ff,#0018ff,#0020ff,#0028ff,#0031ff,#003bff,#0045ff,#0050ff,#005cff,#0068ff,#0075ff,#0083ff,#0091ff,#00a1ff,#00b1ff,#00c1ff,#00d3ff,#00e5ff,#00f7ff,#00fff3,#00ffde,#00ffc8,#00ffb2,#00ff9b,#00ff83,#00ff6a,#00ff51,#00ff37,#00ff1c,#0f0,#17ff00,#2fff00,#47ff00,#60ff00,#79ff00,#94ff00,#aeff00,#caff00,#e6ff00,#fffb00,#ffd900,#ffb500,#ff9100,#ff6c00,#ff4700,#ff2000)"></i>
<i style="background:linear-gradient(90deg,#0001ff,#00f,#00f,#00f,#00f,#00f,#00f,#00f,#00f,#00f,#00f,#00f,#00f,#00f,#0003ff,#0008ff,#000eff,#0015ff,#001dff,#0025ff,#002eff,#0038ff,#0042ff,#004dff,#0059ff,#0065ff,#0073ff,#0080ff,#008fff,#009eff,#00aeff,#00bfff,#00d1ff,#00e3ff,#00f5ff,#00fff5,#00ffe0,#00ffca,#00ffb3,#00ff9c,#00ff84,#00ff6c,#00ff52,#00ff38,#00ff1d,#00ff02,#16ff00,#2eff00,#46ff00,#5fff00,#79ff00,#93ff00,#aeff00,#c9ff00,#e5ff00,#fffc00,#ffd900,#ffb500,#ff9100,#ff6c00,#ff4700,#ff2000)"></i>
<i style="background:linear-gradient(90deg,#00f,#00f,#00f,#00f,#00f,#00f,#00f,#00f,#00f,#00f,#00f,#00f,#00f,#00f,#00f,#0005ff,#000bff,#0012ff,#001aff,#02f,#002bff,#0035ff,#003fff,#004aff,#0056ff,#0063ff,#0070ff,#007eff,#008dff,#009cff,#00acff,#00bdff,#00ceff,#00e1ff,#00f4ff,#00fff7,#00ffe1,#0fc,#00ffb5,#00ff9e,#00ff86,#00ff6d,#00ff53,#00ff39,#00ff1e,#00ff03,#15ff00,#2dff00,#45ff00,#5fff00,#78ff00,#93ff00,#adff00,#c9ff00,#e5ff00,#fffc00,#ffd900,#ffb600,#ff9100,#ff6c00,#ff4700,#ff2000)"></i>
<i style="background:linear-gradient(90deg,#00f,#00f,#00f,#00f,#00f,#00f,#00f,#00f,#00f,#00f,#00f,#00f,#00f,#00f,#00f,#0002ff,#0008ff,#000fff,#0017ff,#001fff,#0028ff,#0032ff,#003cff,#0048ff,#0054ff,#0060ff,#006eff,#007cff,#008aff,#009aff,#0af,#0bf,#0cf,#00dfff,#00f2ff,#00fff8,#00ffe3,#00ffcd,#00ffb7,#00ff9f,#00ff87,#00ff6e,#0f5,#00ff3b,#00ff20,#00ff04,#14ff00,#2cff00,#45ff00,#5eff00,#78ff00,#92ff00,#adff00,#c8ff00,#e5ff00,#fffc00,#ffd900,#ffb600,#ff9100,#ff6c00,#ff4700,#ff2000)"></i>
<i style="background:linear-gradient(90deg,#00f,#00f,#00f,#00f,#00f,#00f,#00f,#00f,#00f,#00f,#00f,#00f,#00f,#00f,#00f,#00f,#0005ff,#000cff,#0013ff,#001cff,#0025ff,#002fff,#003aff,#0045ff,#0051ff,#005eff,#006bff,#0079ff,#08f,#0098ff,#00a8ff,#00b9ff,#00caff,#0df,#00f0ff,#00fffa,#00ffe5,#00ffcf,#00ffb8,#00ffa1,#00ff89,#00ff70,#00ff56,#00ff3c,#00ff21,#00ff05,#13ff00,#2bff00,#4f0,#5dff00,#7f0,#91ff00,#acff00,#c8ff00,#e4ff00,#fffd00,#ffda00,#ffb600,#ff9100,#ff6c00,#ff4700,#ff2000)"></i>
<i style="background:linear-gradient(90deg,#00f,#00f,#00f,#00f,#00f,#00f,#00f,#00f,#00f,#00f,#00f,#00f,#00f,#00f,#00f,#00f,#0001ff,#0008ff,#0010ff,#0019ff,#02f,#002cff,#0037ff,#0042ff,#004eff,#005bff,#0069ff,#07f,#0086ff,#0095ff,#00a6ff,#00b7ff,#00c8ff,#00dbff,#0ef,#00fffc,#00ffe7,#00ffd1,#00ffba,#00ffa3,#00ff8a,#00ff71,#00ff58,#00ff3d,#0f2,#00ff06,#13ff00,#2bff00,#43ff00,#5dff00,#76ff00,#91ff00,#acff00,#c8ff00,#e4ff00,#fffd00,#ffda00,#ffb600,#ff9200,#ff6c00,#ff4600,#ff2000)"></i>
</div>
<div class="m" style="left:401px;top:410px;width:274px;height:276px">
<i style="background:linear-gradient(90deg,#0081ff,#0079ff,#0070ff,#0068ff,#0060ff,#0058ff,#0050ff,#0049ff,#0041ff,#003aff,#03f,#002dff,#0026ff,#0020ff,#001aff,#0014ff,#000eff,#0009ff,#0003ff,#00f,#00f,#00f,#00f,#00f,#00f,#00f,#00f,#00f,#00f,#00f,#00f,#00f,#00f,#00f,#00f,#00f,#00f,#00f,#00f,#00f,#00f,#00f,#00f,#00f,#00f,#00f,#00f,#00f,#00f,#00f,#00f,#00f,#00f,#00f,#00f,#00f,#00f,#00f,#00f,#00f,#00f,#00f)"></i>
<i style="background:linear-gradient(90deg,#0086ff,#007dff,#0074ff,#006cff,#0064ff,#005cff,#0054ff,#004cff,#0045ff,#003eff,#0037ff,#0030ff,#0029ff,#0023ff,#001dff,#0017ff,#01f,#000cff,#0006ff,#0001ff,#00f,#00f,#00f,#00f,#00f,#00f,#00f,#00f,#00f,#00f,#00f,#00f,#00f,#00f,#00f,#00f,#00f,#00f,#00f,#00f,#00f,#00f,#00f,#00f,#00f,#00f,#00f,#00f,#00f,#00f,#00f,#00f,#00f,#00f,#00f,#00f,#00f,#00f,#00f,#00f,#00f,#00f)"></i>
<i style="background:linear-gradient(90deg,#008aff,#0081ff,#0078ff,#0070ff,#0068ff,#0060ff,#0058ff,#0050ff,#0049ff,#0041ff,#003aff,#03f,#002dff,#0026ff,#0020ff,#001aff,#0014ff,#000eff,#0009ff,#0004ff,#00f,#00f,#00f,#00f,#00f,#00f,#00f,#00f,#00f,#00f,#00f,#00f,#00f,#00f,#00f,#00f,#00f,#00f,#00f,#00f,#00f,#00f,#00f,#00f,#00f,#00f,#00f,#00f,#00f,#00f,#00f,#00f,#00f,#00f,#00f,#00f,#00f,#00f,#00f,#00f,#00f,#00f)"></i>
<i style="background:linear-gradient(90deg,#008eff,#0085ff,#007dff,#0074ff,#006cff,#0064ff,#005cff,#0054ff,#004cff,#0045ff,#003eff,#0037ff,#0030ff,#002aff,#0023ff,#001dff,#0017ff,#01f,#000cff,#0006ff,#0001ff,#00f,#00f,#00f,#00f,#00f,#00f,#00f,#00f,#00f,#00f,#00f,#00f,#00f,#00f,#00f,#00f,#00f,#00f,#00f,#00f,#00f,#00f,#00f,#00f,#00f,#00f,#00f,#00f,#00f,#00f,#00f,#00f,#00f,#00f,#00f,#00f,#00f,#00f,#00f,#00f,#00f)"></i>
<i style="background:linear-gradient(90deg,#0093ff,#008aff,#0081ff,#0078ff,#0070ff,#0068ff,#005fff,#0058ff,#0050ff,#0049ff,#0041ff,#003aff,#03f,#002dff,#0026ff,#0020ff,#001aff,#0014ff,#000fff,#0009ff,#0004ff,#00f,#00f,#00f,#00f,#00f,#00f,#00f,#00f,#00f,#00f,#00f,#00f,#00f,#00f,#00f,#00f,#00f,#00f,#00f,#00f,#00f,#00f,#00f,#00f,#00f,#00f,#00f,#00f,#00f,#00f,#00f,#00f,#00f,#00f,#00f,#00f,#00f,#00f,#00f,#00f,#00f)"></i>
<i style="background:linear-gradient(90deg,#0097ff,#008eff,#0085ff,#007cff,#0074ff,#006cff,#0063ff,#005bff,#0054ff,#004cff,#0045ff,#003eff,#0037ff,#0030ff,#002aff,#0023ff,#001dff,#0017ff,#01f,#000cff,#0007ff,#0001ff,#00f,#00f,#00f,#00f,#00f,#00f,#00f,#00f,#00f,#00f,#00f,#00f,#00f,#00f,#00f,#00f,#00f,#00f,#00f,#00f,#00f,#00f,#00f,#00f,#00f,#00f,#00f,#00f,#00f,#00f,#00f,#00f,#00f,#00f,#00f,#00f,#00f,#00f,#00f,#00f)"></i>
<i style="background:linear-gradient(90deg,#009cff,#0092ff,#0089ff,#0081ff,#0078ff,#0070ff,#0067ff,#005fff,#0058ff,#0050ff,#0049ff,#0041ff,#003aff,#03f,#002dff,#0026ff,#0020ff,#001aff,#0014ff,#000fff,#0009ff,#0004ff,#00f,#00f,#00f,#00f,#00f,#00f,#00f,#00f,#00f,#00f,#00f,#00f,#00f,#00f,#00f,#00f,#00f,#00f,#00f,#00f,#00f,#00f,#00f,#00f,#00f,#00f,#00f,#00f,#00f,#00f,#00f,#00f,#00f,#00f,#00f,#00f,#00f,#00f,#00f,#00f)"></i>
<i style="background:linear-gradient(90deg,#00a0ff,#0097ff,#008eff,#0085ff,#007cff,#0074ff,#006bff,#0063ff,#005bff,#0054ff,#004cff,#0045ff,#003eff,#0037ff,#0030ff,#002aff,#0023ff,#001dff,#0017ff,#0012ff,#000cff,#0007ff,#0002ff,#00f,#00f,#00f,#00f,#00f,#00f,#00f,#00f,#00f,#00f,#00f,#00f,#00f,#00f,#00f,#00f,#00f,#00f,#00f,#00f,#00f,#00f,#00f,#00f,#00f,#00f,#00f,#00f,#00f,#00f,#00f,#00f,#00f,#00f,#00f,#00f,#00f,#00f,#00f)"></i>
<i style="background:linear-gradient(90deg,#00a5ff,#009bff,#0092ff,#0089ff,#0080ff,#0078ff,#006fff,#0067ff,#005fff,#0057ff,#0050ff,#0048ff,#0041ff,#003aff,#03f,#002dff,#0026ff,#0020ff,#001aff,#0014ff,#000fff,#0009ff,#0004ff,#00f,#00f,#00f,#00f,#00f,#00f,#00f,#00f,#00f,#00f,#00f,#00f,#00f,#00f,#00f,#00f,#00f,#00f,#00f,#00f,#00f,#00f,#00f,#00f,#00f,#00f,#00f,#00f,#00f,#00f,#00f,#00f,#00f,#00f,#00f,#00f,#00f,#00f,#00f)"></i>
<i style="background:linear-gradient(90deg,#00a9ff,#00a0ff,#0096ff,#008dff,#0085ff,#007cff,#0073ff,#006bff,#0063ff,#005bff,#0054ff,#004cff,#0045ff,#003eff,#0037ff,#0030ff,#002aff,#0023ff,#001dff,#0017ff,#0012ff,#000cff,#0007ff,#0002ff,#00f,#00f,#00f,#00f,#00f,#00f,#00f,#00f,#00f,#00f,#00f,#00f,#00f,#00f,#00f,#00f,#00f,#00f,#00f,#00f,#00f,#00f,#00f,#00f,#00f,#00f,#00f,#00f,#00f,#00f,#00f,#00f,#00f,#00f,#00f,#00f,#00f,#00f)"></i>
<i style="background:linear-gradient(90deg,#00aeff,#00a4ff,#009bff,#0092ff,#0089ff,#0080ff,#07f,#006fff,#0067ff,#005fff,#0057ff,#0050ff,#0048ff,#0041ff,#003aff,#03f,#002dff,#0026ff,#0020ff,#001aff,#0015ff,#000fff,#000aff,#0004ff,#00f,#00f,#00f,#00f,#00f,#00f,#00f,#00f,#00f,#00f,#00f,#00f,#00f,#00f,#00f,#00f,#00f,#00f,#00f,#00f,#00f,#00f,#00f,#00f,#00f,#00f,#00f,#00f,#00f,#00f,#00f,#00f,#00f,#00f,#00f,#00f,#00f,#00f)"></i>
<i style="background:linear-gradient(90deg,#00b2ff,#00a9ff,#009fff,#0096ff,#008dff,#0084ff,#007cff,#0073ff,#006bff,#0063ff,#005bff,#0053ff,#004cff,#0045ff,#003eff,#0037ff,#0030ff,#002aff,#0023ff,#001dff,#0017ff,#0012ff,#000cff,#0007ff,#0002ff,#00f,#00f,#00f,#00f,#00f,#00f,#00f,#00f,#00f,#00f,#00f,#00f,#00f,#00f,#00f,#00f,#00f,#00f,#00f,#00f,#00f,#00f,#00f,#00f,#00f,#00f,#00f,#00f,#00f,#00f,#00f,#00f,#00f,#00f,#00f,#00f,#00f)"></i>
<i style="background:linear-gradient(90deg,#00b7ff,#00adff,#00a4ff,#009aff,#0091ff,#08f,#0080ff,#07f,#006fff,#0067ff,#005fff,#0057ff,#004fff,#0048ff,#0041ff,#003aff,#03f,#002dff,#0026ff,#0020ff,#001aff,#0015ff,#000fff,#000aff,#0004ff,#00f,#00f,#00f,#00f,#00f,#00f,#00f,#00f,#00f,#00f,#00f,#00f,#00f,#00f,#00f,#00f,#00f,#00f,#00f,#00f,#00f,#00f,#00f,#00f,#00f,#00f,#00f,#00f,#00f,#00f,#00f,#00f,#00f,#00f,#00f,#00f,#00f)"></i>
<i style="background:linear-gradient(90deg,#00bcff,#00b2ff,#00a8ff,#009fff,#0096ff,#008dff,#0084ff,#007bff,#0073ff,#006bff,#0063ff,#005bff,#0053ff,#004cff,#04f,#003dff,#0037ff,#0030ff,#002aff,#0023ff,#001dff,#0017ff,#0012ff,#000cff,#0007ff,#0002ff,#00f,#00f,#00f,#00f,#00f,#00f,#00f,#00f,#00f,#00f,#00f,#00f,#00f,#00f,#00f,#00f,#00f,#00f,#00f,#00f,#00f,#00f,#00f,#00f,#00f,#00f,#00f,#00f,#00f,#00f,#00f,#00f,#00f,#00f,#00f,#00f)"></i>
<i style="background:linear-gradient(90deg,#00c0ff,#00b7ff,#00adff,#00a3ff,#009aff,#0091ff,#08f,#007fff,#07f,#006fff,#06f,#005fff,#0057ff,#004fff,#0048ff,#0041ff,#003aff,#03f,#002dff,#0026ff,#0020ff,#001aff,#0015ff,#000fff,#000aff,#0005ff,#00f,#00f,#00f,#00f,#00f,#00f,#00f,#00f,#00f,#00f,#00f,#00f,#00f,#00f,#00f,#00f,#00f,#00f,#00f,#00f,#00f,#00f,#00f,#00f,#00f,#00f,#00f,#00f,#00f,#00f,#00f,#00f,#00f,#00f,#00f,#00f)"></i>
<i style="background:linear-gradient(90deg,#00c5ff,#0bf,#00b1ff,#00a8ff,#009eff,#0095ff,#008cff,#0083ff,#007bff,#0072ff,#006aff,#0062ff,#005aff,#0053ff,#004bff,#04f,#003dff,#0036ff,#0030ff,#0029ff,#0023ff,#001dff,#0017ff,#0012ff,#000cff,#0007ff,#0002ff,#00f,#00f,#00f,#00f,#00f,#00f,#00f,#00f,#00f,#00f,#00f,#00f,#00f,#00f,#00f,#00f,#00f,#00f,#00f,#00f,#00f,#00f,#00f,#00f,#00f,#00f,#00f,#00f,#00f,#00f,#00f,#00f,#00f,#00f,#00f)"></i>
<i style="background:linear-gradient(90deg,#00caff,#00c0ff,#00b6ff,#00acff,#00a3ff,#009aff,#0091ff,#08f,#007fff,#0076ff,#006eff,#06f,#005eff,#0057ff,#004fff,#0048ff,#0041ff,#003aff,#03f,#002dff,#0026ff,#0020ff,#001aff,#0015ff,#000fff,#000aff,#0005ff,#00f,#00f,#00f,#00f,#00f,#00f,#00f,#00f,#00f,#00f,#00f,#00f,#00f,#00f,#00f,#00f,#00f,#00f,#00f,#00f,#00f,#00f,#00f,#00f,#00f,#00f,#00f,#00f,#00f,#00f,#00f,#00f,#00f,#00f,#00f)"></i>
<i style="background:linear-gradient(90deg,#00cfff,#00c5ff,#0bf,#00b1ff,#00a7ff,#009eff,#0095ff,#008cff,#0083ff,#007bff,#0072ff,#006aff,#0062ff,#005aff,#0053ff,#004bff,#04f,#003dff,#0036ff,#0030ff,#0029ff,#0023ff,#001dff,#0017ff,#0012ff,#000cff,#0007ff,#0002ff,#00f,#00f,#00f,#00f,#00f,#00f,#00f,#00f,#00f,#00f,#00f,#00f,#00f,#00f,#00f,#00f,#00f,#00f,#00f,#00f,#00f,#00f,#00f,#00f,#00f,#00f,#00f,#00f,#00f,#00f,#00f,#00f,#00f,#00f)"></i>
<i style="background:linear-gradient(90deg,#00d4ff,#00c9ff,#00bfff,#00b5ff,#00acff,#00a2ff,#09f,#0090ff,#0087ff,#007fff,#0076ff,#006eff,#06f,#005eff,#0056ff,#004fff,#0047ff,#0040ff,#003aff,#03f,#002cff,#0026ff,#0020ff,#001aff,#0014ff,#000fff,#000aff,#0005ff,#00f,#00f,#00f,#00f,#00f,#00f,#00f,#00f,#00f,#00f,#00f,#00f,#00f,#00f,#00f,#00f,#00f,#00f,#00f,#00f,#00f,#00f,#00f,#00f,#00f,#00f,#00f,#00f,#00f,#00f,#00f,#00f,#00f,#00f)"></i>
<i style="background:linear-gradient(90deg,#00d9ff,#00ceff,#00c4ff,#00baff,#00b0ff,#00a7ff,#009dff,#0094ff,#008bff,#0083ff,#007aff,#0072ff,#006aff,#0062ff,#005aff,#0052ff,#004bff,#04f,#003dff,#0036ff,#0030ff,#0029ff,#0023ff,#001dff,#0017ff,#0012ff,#000cff,#0007ff,#0002ff,#00f,#00f,#00f,#00f,#00f,#00f,#00f,#00f,#00f,#00f,#00f,#00f,#00f,#00f,#00f,#00f,#00f,#00f,#00f,#00f,#00f,#00f,#00f,#00f,#00f,#00f,#00f,#00f,#00f,#00f,#00f,#00f,#00f)"></i>
<i style="background:linear-gradient(90deg,#0df,#00d3ff,#00c9ff,#00bfff,#00b5ff,#00abff,#00a2ff,#09f,#0090ff,#0087ff,#007eff,#0076ff,#006dff,#0065ff,#005eff,#0056ff,#004eff,#0047ff,#0040ff,#0039ff,#03f,#002cff,#0026ff,#0020ff,#001aff,#0014ff,#000fff,#000aff,#0005ff,#00f,#00f,#00f,#00f,#00f,#00f,#00f,#00f,#00f,#00f,#00f,#00f,#00f,#00f,#00f,#00f,#00f,#00f,#00f,#00f,#00f,#00f,#00f,#00f,#00f,#00f,#00f,#00f,#00f,#00f,#00f,#00f,#00f)"></i>
<i style="background:linear-gradient(90deg,#00e2ff,#00d8ff,#00ceff,#00c3ff,#00baff,#00b0ff,#00a6ff,#009dff,#0094ff,#008bff,#0082ff,#007aff,#0071ff,#0069ff,#0061ff,#005aff,#0052ff,#004bff,#04f,#003dff,#0036ff,#002fff,#0029ff,#0023ff,#001dff,#0017ff,#0012ff,#000cff,#0007ff,#0002ff,#00f,#00f,#00f,#00f,#00f,#00f,#00f,#00f,#00f,#00f,#00f,#00f,#00f,#00f,#00f,#00f,#00f,#00f,#00f,#00f,#00f,#00f,#00f,#00f,#00f,#00f,#00f,#00f,#00f,#00f,#00f,#00f)"></i>
<i style="background:linear-gradient(90deg,#00e7ff,#0df,#00d2ff,#00c8ff,#00beff,#00b4ff,#00abff,#00a1ff,#0098ff,#008fff,#0086ff,#007eff,#0075ff,#006dff,#0065ff,#005dff,#0056ff,#004eff,#0047ff,#0040ff,#0039ff,#0032ff,#002cff,#0026ff,#0020ff,#001aff,#0014ff,#000fff,#000aff,#0005ff,#00f,#00f,#00f,#00f,#00f,#00f,#00f,#00f,#00f,#00f,#00f,#00f,#00f,#00f,#00f,#00f,#00f,#00f,#00f,#00f,#00f,#00f,#00f,#00f,#00f,#00f,#00f,#00f,#00f,#00f,#00f,#00f)"></i>
<i style="background:linear-gradient(90deg,#00ecff,#00e2ff,#00d7ff,#00cdff,#00c3ff,#00b9ff,#00afff,#00a6ff,#009cff,#0093ff,#008aff,#0082ff,#0079ff,#0071ff,#0069ff,#0061ff,#0059ff,#0052ff,#004aff,#0043ff,#003cff,#0036ff,#002fff,#0029ff,#0023ff,#001dff,#0017ff,#01f,#000cff,#0007ff,#0002ff,#00f,#00f,#00f,#00f,#00f,#00f,#00f,#00f,#00f,#00f,#00f,#00f,#00f,#00f,#00f,#00f,#00f,#00f,#00f,#00f,#00f,#00f,#00f,#00f,#00f,#00f,#00f,#00f,#00f,#00f,#00f)"></i>
<i style="background:linear-gradient(90deg,#00f1ff,#00e7ff,#00dcff,#00d2ff,#00c7ff,#00bdff,#00b4ff,#0af,#00a1ff,#0098ff,#008fff,#0086ff,#007dff,#0075ff,#006dff,#0065ff,#005dff,#05f,#004eff,#0047ff,#0040ff,#0039ff,#0032ff,#002cff,#0026ff,#0020ff,#001aff,#0014ff,#000fff,#0009ff,#0004ff,#00f,#00f,#00f,#00f,#00f,#00f,#00f,#00f,#00f,#00f,#00f,#00f,#00f,#00f,#00f,#00f,#00f,#00f,#00f,#00f,#00f,#00f,#00f,#00f,#00f,#00f,#00f,#00f,#00f,#00f,#00f)"></i>
<i style="background:linear-gradient(90deg,#00f6ff,#00ecff,#00e1ff,#00d6ff,#0cf,#00c2ff,#00b8ff,#00afff,#00a5ff,#009cff,#0093ff,#008aff,#0081ff,#0079ff,#0070ff,#0068ff,#0060ff,#0059ff,#0051ff,#004aff,#0043ff,#003cff,#0035ff,#002fff,#0029ff,#02f,#001dff,#0017ff,#01f,#000cff,#0007ff,#0002ff,#00f,#00f,#00f,#00f,#00f,#00f,#00f,#00f,#00f,#00f,#00f,#00f,#00f,#00f,#00f,#00f,#00f,#00f,#00f,#00f,#00f,#00f,#00f,#00f,#00f,#00f,#00f,#00f,#00f,#00f)"></i>
<i style="background:linear-gradient(90deg,#00fbff,#00f1ff,#00e6ff,#00dbff,#00d1ff,#00c7ff,#00bdff,#00b3ff,#00a9ff,#00a0ff,#0097ff,#008eff,#0085ff,#007dff,#0074ff,#006cff,#0064ff,#005cff,#05f,#004dff,#0046ff,#003fff,#0038ff,#0032ff,#002cff,#0025ff,#001fff,#001aff,#0014ff,#000fff,#0009ff,#0004ff,#00f,#00f,#00f,#00f,#00f,#00f,#00f,#00f,#00f,#00f,#00f,#00f,#00f,#00f,#00f,#00f,#00f,#00f,#00f,#00f,#00f,#00f,#00f,#00f,#00f,#00f,#00f,#00f,#00f,#00f)"></i>
<i style="background:linear-gradient(90deg,#00fffd,#00f6ff,#00ebff,#00e0ff,#00d6ff,#00cbff,#00c1ff,#00b8ff,#00aeff,#00a4ff,#009bff,#0092ff,#0089ff,#0081ff,#0078ff,#0070ff,#0068ff,#0060ff,#0058ff,#0051ff,#004aff,#0043ff,#003cff,#0035ff,#002fff,#0028ff,#02f,#001cff,#0017ff,#01f,#000cff,#0007ff,#0002ff,#00f,#00f,#00f,#00f,#00f,#00f,#00f,#00f,#00f,#00f,#00f,#00f,#00f,#00f,#00f,#00f,#00f,#00f,#00f,#00f,#00f,#00f,#00f,#00f,#00f,#00f,#00f,#00f,#00f)"></i>
<i style="background:linear-gradient(90deg,#00fff7,#00fbff,#00f0ff,#00e5ff,#00daff,#00d0ff,#00c6ff,#00bcff,#00b2ff,#00a9ff,#009fff,#0096ff,#008dff,#0085ff,#007cff,#0074ff,#006cff,#0064ff,#005cff,#0054ff,#004dff,#0046ff,#003fff,#0038ff,#0032ff,#002bff,#0025ff,#001fff,#0019ff,#0014ff,#000eff,#0009ff,#0004ff,#00f,#00f,#00f,#00f,#00f,#00f,#00f,#00f,#00f,#00f,#00f,#00f,#00f,#00f,#00f,#00f,#00f,#00f,#00f,#00f,#00f,#00f,#00f,#00f,#00f,#00f,#00f,#00f,#00f)"></i>
<i style="background:linear-gradient(90deg,#00fff2,#00fffe,#00f5ff,#00eaff,#00dfff,#00d5ff,#00cbff,#00c1ff,#00b7ff,#00adff,#00a4ff,#009bff,#0092ff,#0089ff,#0080ff,#0078ff,#006fff,#0067ff,#0060ff,#0058ff,#0050ff,#0049ff,#0042ff,#003bff,#0035ff,#002eff,#0028ff,#02f,#001cff,#0016ff,#01f,#000cff,#0007ff,#0002ff,#00f,#00f,#00f,#00f,#00f,#00f,#00f,#00f,#00f,#00f,#00f,#00f,#00f,#00f,#00f,#00f,#00f,#00f,#00f,#00f,#00f,#00f,#00f,#00f,#00f,#00f,#00f,#00f)"></i>
<i style="background:linear-gradient(90deg,#00ffec,#00fff8,#00faff,#00efff,#00e4ff,#00daff,#00cfff,#00c5ff,#0bf,#00b2ff,#00a8ff,#009fff,#0096ff,#008dff,#0084ff,#007cff,#0073ff,#006bff,#0063ff,#005bff,#0054ff,#004dff,#0045ff,#003fff,#0038ff,#0031ff,#002bff,#0025ff,#001fff,#0019ff,#0014ff,#000eff,#0009ff,#0004ff,#00f,#00f,#00f,#00f,#00f,#00f,#00f,#00f,#00f,#00f,#00f,#00f,#00f,#00f,#00f,#00f,#00f,#00f,#00f,#00f,#00f,#00f,#00f,#00f,#00f,#00f,#00f,#00f)"></i>
<i style="background:linear-gradient(90deg,#00ffe6,#00fff3,#0ff,#00f4ff,#00e9ff,#00deff,#00d4ff,#00caff,#00c0ff,#00b6ff,#00acff,#00a3ff,#009aff,#0091ff,#08f,#007fff,#07f,#006fff,#0067ff,#005fff,#0057ff,#0050ff,#0049ff,#0042ff,#003bff,#0034ff,#002eff,#0028ff,#02f,#001cff,#0016ff,#01f,#000bff,#0006ff,#0002ff,#00f,#00f,#00f,#00f,#00f,#00f,#00f,#00f,#00f,#00f,#00f,#00f,#00f,#00f,#00f,#00f,#00f,#00f,#00f,#00f,#00f,#00f,#00f,#00f,#00f,#00f,#00f)"></i>
<i style="background:linear-gradient(90deg,#00ffe0,#00ffed,#00fff9,#00f9ff,#0ef,#00e3ff,#00d9ff,#00cfff,#00c4ff,#0bf,#00b1ff,#00a7ff,#009eff,#0095ff,#008cff,#0083ff,#007bff,#0073ff,#006bff,#0063ff,#005bff,#0053ff,#004cff,#0045ff,#003eff,#0037ff,#0031ff,#002bff,#0024ff,#001fff,#0019ff,#0013ff,#000eff,#0009ff,#0004ff,#00f,#00f,#00f,#00f,#00f,#00f,#00f,#00f,#00f,#00f,#00f,#00f,#00f,#00f,#00f,#00f,#00f,#00f,#00f,#00f,#00f,#00f,#00f,#00f,#00f,#00f,#00f)"></i>
<i style="background:linear-gradient(90deg,#00ffda,#00ffe7,#00fff4,#00feff,#00f3ff,#00e8ff,#00deff,#00d3ff,#00c9ff,#00bfff,#00b5ff,#00acff,#00a2ff,#09f,#0090ff,#0087ff,#007fff,#0076ff,#006eff,#06f,#005eff,#0057ff,#004fff,#0048ff,#0041ff,#003aff,#0034ff,#002dff,#0027ff,#0021ff,#001bff,#0016ff,#0010ff,#000bff,#0006ff,#0001ff,#00f,#00f,#00f,#00f,#00f,#00f,#00f,#00f,#00f,#00f,#00f,#00f,#00f,#00f,#00f,#00f,#00f,#00f,#00f,#00f,#00f,#00f,#00f,#00f,#00f,#00f)"></i>
<i style="background:linear-gradient(90deg,#00ffd4,#00ffe1,#0fe,#00fffb,#00f8ff,#00edff,#00e2ff,#00d8ff,#00ceff,#00c4ff,#00baff,#00b0ff,#00a7ff,#009dff,#0094ff,#008bff,#0083ff,#007aff,#0072ff,#006aff,#0062ff,#005aff,#0053ff,#004cff,#0045ff,#003eff,#0037ff,#0030ff,#002aff,#0024ff,#001eff,#0018ff,#0013ff,#000eff,#0009ff,#0004ff,#00f,#00f,#00f,#00f,#00f,#00f,#00f,#00f,#00f,#00f,#00f,#00f,#00f,#00f,#00f,#00f,#00f,#00f,#00f,#00f,#00f,#00f,#00f,#00f,#00f,#00f)"></i>
<i style="background:linear-gradient(90deg,#00ffce,#00ffdb,#00ffe8,#00fff5,#00fdff,#00f2ff,#00e7ff,#0df,#00d2ff,#00c8ff,#00beff,#00b5ff,#00abff,#00a2ff,#0098ff,#008fff,#0087ff,#007eff,#0076ff,#006eff,#06f,#005eff,#0056ff,#004fff,#0048ff,#0041ff,#003aff,#03f,#002dff,#0027ff,#0021ff,#001bff,#0016ff,#0010ff,#000bff,#0006ff,#0001ff,#00f,#00f,#00f,#00f,#00f,#00f,#00f,#00f,#00f,#00f,#00f,#00f,#00f,#00f,#00f,#00f,#00f,#00f,#00f,#00f,#00f,#00f,#00f,#00f,#00f)"></i>
<i style="background:linear-gradient(90deg,#00ffc8,#00ffd5,#00ffe2,#00ffef,#00fffc,#00f7ff,#00ecff,#00e1ff,#00d7ff,#00cdff,#00c3ff,#00b9ff,#00afff,#00a6ff,#009dff,#0094ff,#008bff,#0082ff,#007aff,#0071ff,#0069ff,#0061ff,#005aff,#0052ff,#004bff,#04f,#003dff,#0037ff,#0030ff,#002aff,#0024ff,#001eff,#0018ff,#0013ff,#000dff,#0008ff,#0003ff,#00f,#00f,#00f,#00f,#00f,#00f,#00f,#00f,#00f,#00f,#00f,#00f,#00f,#00f,#00f,#00f,#00f,#00f,#00f,#00f,#00f,#00f,#00f,#00f,#00f)"></i>
<i style="background:linear-gradient(90deg,#00ffc1,#00ffcf,#00ffdc,#00ffe9,#00fff6,#00fcff,#00f1ff,#00e6ff,#00dcff,#00d1ff,#00c7ff,#00bdff,#00b4ff,#0af,#00a1ff,#0098ff,#008fff,#0086ff,#007dff,#0075ff,#006dff,#0065ff,#005dff,#0056ff,#004eff,#0047ff,#0040ff,#003aff,#03f,#002dff,#0027ff,#0021ff,#001bff,#0015ff,#0010ff,#000bff,#0006ff,#0001ff,#00f,#00f,#00f,#00f,#00f,#00f,#00f,#00f,#00f,#00f,#00f,#00f,#00f,#00f,#00f,#00f,#00f,#00f,#00f,#00f,#00f,#00f,#00f,#00f)"></i>
<i style="background:linear-gradient(90deg,#0fb,#00ffc9,#00ffd6,#00ffe3,#00fff0,#00fffd,#00f6ff,#00ebff,#00e1ff,#00d6ff,#0cf,#00c2ff,#00b8ff,#00aeff,#00a5ff,#009cff,#0093ff,#008aff,#0081ff,#0079ff,#0071ff,#0069ff,#0061ff,#0059ff,#0052ff,#004bff,#04f,#003dff,#0036ff,#0030ff,#0029ff,#0023ff,#001dff,#0018ff,#0012ff,#000dff,#0008ff,#0003ff,#00f,#00f,#00f,#00f,#00f,#00f,#00f,#00f,#00f,#00f,#00f,#00f,#00f,#00f,#00f,#00f,#00f,#00f,#00f,#00f,#00f,#00f,#00f,#00f)"></i>
<i style="background:linear-gradient(90deg,#00ffb5,#00ffc3,#00ffd0,#0fd,#00ffea,#00fff7,#00fbff,#00f0ff,#00e5ff,#00dbff,#00d1ff,#00c6ff,#00bdff,#00b3ff,#00a9ff,#00a0ff,#0097ff,#008eff,#0085ff,#007dff,#0074ff,#006cff,#0064ff,#005dff,#05f,#004eff,#0047ff,#0040ff,#0039ff,#03f,#002cff,#0026ff,#0020ff,#001aff,#0015ff,#0010ff,#000aff,#0005ff,#0001ff,#00f,#00f,#00f,#00f,#00f,#00f,#00f,#00f,#00f,#00f,#00f,#00f,#00f,#00f,#00f,#00f,#00f,#00f,#00f,#00f,#00f,#00f,#00f)"></i>
<i style="background:linear-gradient(90deg,#00ffaf,#00ffbd,#00ffca,#00ffd7,#00ffe4,#00fff1,#00fffe,#00f5ff,#00eaff,#00e0ff,#00d5ff,#00cbff,#00c1ff,#00b7ff,#00aeff,#00a4ff,#009bff,#0092ff,#0089ff,#0081ff,#0078ff,#0070ff,#0068ff,#0060ff,#0059ff,#0051ff,#004aff,#0043ff,#003cff,#0036ff,#002fff,#0029ff,#0023ff,#001dff,#0017ff,#0012ff,#000dff,#0008ff,#0003ff,#00f,#00f,#00f,#00f,#00f,#00f,#00f,#00f,#00f,#00f,#00f,#00f,#00f,#00f,#00f,#00f,#00f,#00f,#00f,#00f,#00f,#00f,#00f)"></i>
<i style="background:linear-gradient(90deg,#00ffa9,#00ffb6,#00ffc4,#00ffd1,#00ffdf,#00ffec,#00fff8,#00faff,#00efff,#00e4ff,#00daff,#00d0ff,#00c6ff,#00bcff,#00b2ff,#00a8ff,#009fff,#0096ff,#008dff,#0085ff,#007cff,#0074ff,#006cff,#0064ff,#005cff,#05f,#004dff,#0046ff,#003fff,#0039ff,#0032ff,#002cff,#0026ff,#0020ff,#001aff,#0014ff,#000fff,#000aff,#0005ff,#00f,#00f,#00f,#00f,#00f,#00f,#00f,#00f,#00f,#00f,#00f,#00f,#00f,#00f,#00f,#00f,#00f,#00f,#00f,#00f,#00f,#00f,#00f)"></i>
<i style="background:linear-gradient(90deg,#00ffa2,#00ffb0,#00ffbe,#00ffcb,#00ffd9,#00ffe6,#00fff3,#0ff,#00f4ff,#00e9ff,#00dfff,#00d4ff,#00caff,#00c0ff,#00b6ff,#00adff,#00a3ff,#009aff,#0091ff,#08f,#0080ff,#07f,#006fff,#0067ff,#0060ff,#0058ff,#0051ff,#0049ff,#0042ff,#003cff,#0035ff,#002fff,#0028ff,#02f,#001dff,#0017ff,#0012ff,#000cff,#0007ff,#0003ff,#00f,#00f,#00f,#00f,#00f,#00f,#00f,#00f,#00f,#00f,#00f,#00f,#00f,#00f,#00f,#00f,#00f,#00f,#00f,#00f,#00f,#00f)"></i>
<i style="background:linear-gradient(90deg,#00ff9c,#0fa,#00ffb8,#00ffc5,#00ffd3,#00ffe0,#00ffed,#00fffa,#00f9ff,#0ef,#00e3ff,#00d9ff,#00cfff,#00c5ff,#0bf,#00b1ff,#00a8ff,#009eff,#0095ff,#008cff,#0084ff,#007bff,#0073ff,#006bff,#0063ff,#005bff,#0054ff,#004dff,#0046ff,#003fff,#0038ff,#0031ff,#002bff,#0025ff,#001fff,#001aff,#0014ff,#000fff,#000aff,#0005ff,#00f,#00f,#00f,#00f,#00f,#00f,#00f,#00f,#00f,#00f,#00f,#00f,#00f,#00f,#00f,#00f,#00f,#00f,#00f,#00f,#00f,#00f)"></i>
<i style="background:linear-gradient(90deg,#00ff96,#00ffa4,#00ffb2,#00ffbf,#00ffcd,#00ffda,#00ffe7,#00fff4,#00feff,#00f3ff,#00e8ff,#00deff,#00d3ff,#00c9ff,#00bfff,#00b5ff,#00acff,#00a2ff,#09f,#0090ff,#08f,#007fff,#07f,#006fff,#0067ff,#005fff,#0057ff,#0050ff,#0049ff,#0042ff,#003bff,#0034ff,#002eff,#0028ff,#02f,#001cff,#0017ff,#01f,#000cff,#0007ff,#0002ff,#00f,#00f,#00f,#00f,#00f,#00f,#00f,#00f,#00f,#00f,#00f,#00f,#00f,#00f,#00f,#00f,#00f,#00f,#00f,#00f,#00f)"></i>
<i style="background:linear-gradient(90deg,#00ff8f,#00ff9d,#00ffab,#00ffb9,#00ffc7,#00ffd4,#00ffe1,#0fe,#00fffb,#00f8ff,#00edff,#00e2ff,#00d8ff,#00ceff,#00c4ff,#00baff,#00b0ff,#00a7ff,#009dff,#0094ff,#008cff,#0083ff,#007aff,#0072ff,#006aff,#0062ff,#005bff,#0053ff,#004cff,#0045ff,#003eff,#0037ff,#0031ff,#002bff,#0025ff,#001fff,#0019ff,#0014ff,#000eff,#0009ff,#0004ff,#00f,#00f,#00f,#00f,#00f,#00f,#00f,#00f,#00f,#00f,#00f,#00f,#00f,#00f,#00f,#00f,#00f,#00f,#00f,#00f,#00f)"></i>
<i style="background:linear-gradient(90deg,#00ff89,#00ff97,#00ffa5,#00ffb3,#00ffc1,#00ffce,#00ffdb,#00ffe8,#00fff5,#00fdff,#00f2ff,#00e7ff,#00dcff,#00d2ff,#00c8ff,#00beff,#00b4ff,#00abff,#00a2ff,#0098ff,#008fff,#0087ff,#007eff,#0076ff,#006eff,#06f,#005eff,#0057ff,#004fff,#0048ff,#0041ff,#003aff,#0034ff,#002dff,#0027ff,#0021ff,#001cff,#0016ff,#01f,#000cff,#0007ff,#0002ff,#00f,#00f,#00f,#00f,#00f,#00f,#00f,#00f,#00f,#00f,#00f,#00f,#00f,#00f,#00f,#00f,#00f,#00f,#00f,#00f)"></i>
<i style="background:linear-gradient(90deg,#00ff82,#00ff91,#00ff9f,#00ffad,#0fb,#00ffc8,#00ffd5,#00ffe3,#00ffef,#00fffc,#00f7ff,#00ecff,#00e1ff,#00d7ff,#00cdff,#00c3ff,#00b9ff,#00afff,#00a6ff,#009cff,#0093ff,#008bff,#0082ff,#007aff,#0071ff,#0069ff,#0062ff,#005aff,#0052ff,#004bff,#04f,#003dff,#0037ff,#0030ff,#002aff,#0024ff,#001eff,#0019ff,#0013ff,#000eff,#0009ff,#0004ff,#00f,#00f,#00f,#00f,#00f,#00f,#00f,#00f,#00f,#00f,#00f,#00f,#00f,#00f,#00f,#00f,#00f,#00f,#00f,#00f)"></i>
<i style="background:linear-gradient(90deg,#00ff7c,#00ff8a,#0f9,#00ffa7,#00ffb4,#00ffc2,#00ffd0,#0fd,#00ffea,#00fff6,#00fbff,#00f1ff,#00e6ff,#00dbff,#00d1ff,#00c7ff,#00bdff,#00b3ff,#0af,#00a1ff,#0097ff,#008fff,#0086ff,#007dff,#0075ff,#006dff,#0065ff,#005dff,#0056ff,#004eff,#0047ff,#0040ff,#003aff,#03f,#002dff,#0027ff,#0021ff,#001bff,#0016ff,#0010ff,#000bff,#0006ff,#0001ff,#00f,#00f,#00f,#00f,#00f,#00f,#00f,#00f,#00f,#00f,#00f,#00f,#00f,#00f,#00f,#00f,#00f,#00f,#00f)"></i>
<i style="background:linear-gradient(90deg,#00ff75,#00ff84,#00ff92,#00ffa0,#00ffae,#00ffbc,#00ffca,#00ffd7,#00ffe4,#00fff1,#00fffd,#00f5ff,#00ebff,#00e0ff,#00d6ff,#00cbff,#00c1ff,#00b8ff,#00aeff,#00a5ff,#009cff,#0093ff,#008aff,#0081ff,#0079ff,#0071ff,#0069ff,#0061ff,#0059ff,#0052ff,#004bff,#04f,#003dff,#0036ff,#0030ff,#0029ff,#0023ff,#001eff,#0018ff,#0013ff,#000dff,#0008ff,#0004ff,#00f,#00f,#00f,#00f,#00f,#00f,#00f,#00f,#00f,#00f,#00f,#00f,#00f,#00f,#00f,#00f,#00f,#00f,#00f)"></i>
<i style="background:linear-gradient(90deg,#00ff6f,#00ff7d,#00ff8c,#00ff9a,#00ffa8,#00ffb6,#00ffc4,#00ffd1,#00ffde,#00ffeb,#00fff8,#00faff,#00efff,#00e5ff,#00daff,#00d0ff,#00c6ff,#00bcff,#00b2ff,#00a9ff,#00a0ff,#0097ff,#008eff,#0085ff,#007cff,#0074ff,#006cff,#0064ff,#005dff,#05f,#004eff,#0047ff,#0040ff,#0039ff,#03f,#002cff,#0026ff,#0020ff,#001bff,#0015ff,#0010ff,#000bff,#0006ff,#0001ff,#00f,#00f,#00f,#00f,#00f,#00f,#00f,#00f,#00f,#00f,#00f,#00f,#00f,#00f,#00f,#00f,#00f,#00f)"></i>
<i style="background:linear-gradient(90deg,#00ff68,#0f7,#00ff85,#00ff94,#00ffa2,#00ffb0,#00ffbe,#00ffcb,#00ffd8,#00ffe5,#00fff2,#0ff,#00f4ff,#00e9ff,#00dfff,#00d5ff,#00caff,#00c0ff,#00b7ff,#00adff,#00a4ff,#009bff,#0092ff,#0089ff,#0080ff,#0078ff,#0070ff,#0068ff,#0060ff,#0058ff,#0051ff,#004aff,#0043ff,#003cff,#0035ff,#002fff,#0029ff,#0023ff,#001dff,#0017ff,#0012ff,#000dff,#0008ff,#0003ff,#00f,#00f,#00f,#00f,#00f,#00f,#00f,#00f,#00f,#00f,#00f,#00f,#00f,#00f,#00f,#00f,#00f,#00f)"></i>
<i style="background:linear-gradient(90deg,#00ff61,#00ff70,#00ff7f,#00ff8d,#00ff9c,#0fa,#00ffb8,#00ffc5,#00ffd2,#00ffe0,#00ffed,#00fff9,#00f9ff,#0ef,#00e4ff,#00d9ff,#00cfff,#00c5ff,#0bf,#00b1ff,#00a8ff,#009fff,#0096ff,#008dff,#0084ff,#007cff,#0073ff,#006bff,#0063ff,#005cff,#0054ff,#004dff,#0046ff,#003fff,#0038ff,#0032ff,#002cff,#0026ff,#0020ff,#001aff,#0014ff,#000fff,#000aff,#0005ff,#00f,#00f,#00f,#00f,#00f,#00f,#00f,#00f,#00f,#00f,#00f,#00f,#00f,#00f,#00f,#00f,#00f,#00f)"></i>
<i style="background:linear-gradient(90deg,#00ff5b,#00ff6a,#00ff78,#00ff87,#00ff95,#00ffa3,#00ffb1,#00ffbf,#00ffcd,#00ffda,#00ffe7,#00fff4,#00feff,#00f3ff,#00e8ff,#00deff,#00d3ff,#00c9ff,#00bfff,#00b6ff,#00acff,#00a3ff,#009aff,#0091ff,#08f,#007fff,#07f,#006fff,#0067ff,#005fff,#0058ff,#0050ff,#0049ff,#0042ff,#003bff,#0035ff,#002eff,#0028ff,#02f,#001cff,#0017ff,#0012ff,#000cff,#0007ff,#0003ff,#00f,#00f,#00f,#00f,#00f,#00f,#00f,#00f,#00f,#00f,#00f,#00f,#00f,#00f,#00f,#00f,#00f)"></i>
<i style="background:linear-gradient(90deg,#00ff54,#00ff63,#00ff72,#00ff81,#00ff8f,#00ff9d,#00ffab,#00ffb9,#00ffc7,#00ffd4,#00ffe1,#0fe,#00fffb,#00f8ff,#00edff,#00e2ff,#00d8ff,#00ceff,#00c4ff,#00baff,#00b0ff,#00a7ff,#009eff,#0095ff,#008cff,#0083ff,#007bff,#0072ff,#006aff,#0063ff,#005bff,#0053ff,#004cff,#0045ff,#003eff,#0038ff,#0031ff,#002bff,#0025ff,#001fff,#0019ff,#0014ff,#000fff,#000aff,#0005ff,#00f,#00f,#00f,#00f,#00f,#00f,#00f,#00f,#00f,#00f,#00f,#00f,#00f,#00f,#00f,#00f,#00f)"></i>
<i style="background:linear-gradient(90deg,#00ff4d,#00ff5c,#00ff6b,#00ff7a,#00ff89,#00ff97,#00ffa5,#00ffb3,#00ffc1,#00ffce,#00ffdb,#00ffe8,#00fff5,#00fdff,#00f2ff,#00e7ff,#0df,#00d2ff,#00c8ff,#00beff,#00b4ff,#00abff,#00a2ff,#09f,#0090ff,#0087ff,#007eff,#0076ff,#006eff,#06f,#005eff,#0057ff,#004fff,#0048ff,#0041ff,#003bff,#0034ff,#002eff,#0028ff,#02f,#001cff,#0016ff,#01f,#000cff,#0007ff,#0002ff,#00f,#00f,#00f,#00f,#00f,#00f,#00f,#00f,#00f,#00f,#00f,#00f,#00f,#00f,#00f,#00f)"></i>
<i style="background:linear-gradient(90deg,#00ff46,#00ff56,#00ff65,#00ff74,#00ff82,#00ff91,#00ff9f,#00ffad,#0fb,#00ffc8,#00ffd6,#00ffe3,#00ffef,#00fffc,#00f7ff,#00ecff,#00e1ff,#00d7ff,#00cdff,#00c3ff,#00b9ff,#00afff,#00a6ff,#009dff,#0094ff,#008bff,#0082ff,#007aff,#0071ff,#0069ff,#0062ff,#005aff,#0053ff,#004bff,#04f,#003dff,#0037ff,#0030ff,#002aff,#0024ff,#001eff,#0019ff,#0013ff,#000eff,#0009ff,#0004ff,#00f,#00f,#00f,#00f,#00f,#00f,#00f,#00f,#00f,#00f,#00f,#00f,#00f,#00f,#00f,#00f)"></i>
<i style="background:linear-gradient(90deg,#00ff3f,#00ff4f,#00ff5e,#00ff6d,#00ff7c,#00ff8a,#0f9,#00ffa7,#00ffb5,#00ffc2,#00ffd0,#0fd,#00ffea,#00fff7,#00fbff,#00f0ff,#00e6ff,#00dbff,#00d1ff,#00c7ff,#00bdff,#00b3ff,#0af,#00a1ff,#0097ff,#008fff,#0086ff,#007dff,#0075ff,#006dff,#0065ff,#005dff,#0056ff,#004fff,#0047ff,#0040ff,#003aff,#03f,#002dff,#0027ff,#0021ff,#001bff,#0016ff,#0010ff,#000bff,#0006ff,#0001ff,#00f,#00f,#00f,#00f,#00f,#00f,#00f,#00f,#00f,#00f,#00f,#00f,#00f,#00f,#00f)"></i>
<i style="background:linear-gradient(90deg,#00ff39,#00ff48,#00ff57,#0f6,#00ff75,#00ff84,#00ff92,#00ffa1,#00ffaf,#00ffbc,#00ffca,#00ffd7,#00ffe4,#00fff1,#00fffe,#00f5ff,#00eaff,#00e0ff,#00d6ff,#00cbff,#00c1ff,#00b8ff,#00aeff,#00a5ff,#009bff,#0092ff,#008aff,#0081ff,#0079ff,#0070ff,#0068ff,#0061ff,#0059ff,#0052ff,#004aff,#0043ff,#003dff,#0036ff,#0030ff,#0029ff,#0023ff,#001eff,#0018ff,#0013ff,#000dff,#0008ff,#0004ff,#00f,#00f,#00f,#00f,#00f,#00f,#00f,#00f,#00f,#00f,#00f,#00f,#00f,#00f,#00f)"></i>
<i style="background:linear-gradient(90deg,#00ff32,#00ff41,#00ff51,#00ff60,#00ff6f,#00ff7e,#00ff8c,#00ff9a,#00ffa8,#00ffb6,#00ffc4,#00ffd1,#00ffde,#00ffeb,#00fff8,#00faff,#00efff,#00e5ff,#00daff,#00d0ff,#00c6ff,#00bcff,#00b2ff,#00a9ff,#009fff,#0096ff,#008dff,#0085ff,#007cff,#0074ff,#006cff,#0064ff,#005cff,#05f,#004eff,#0047ff,#0040ff,#0039ff,#0032ff,#002cff,#0026ff,#0020ff,#001aff,#0015ff,#0010ff,#000bff,#0006ff,#0001ff,#00f,#00f,#00f,#00f,#00f,#00f,#00f,#00f,#00f,#00f,#00f,#00f,#00f,#00f)"></i>
<i style="background:linear-gradient(90deg,#00ff2b,#00ff3a,#00ff4a,#00ff59,#00ff68,#0f7,#00ff86,#00ff94,#00ffa2,#00ffb0,#00ffbe,#00ffcb,#00ffd9,#00ffe6,#00fff3,#0ff,#00f4ff,#00e9ff,#00dfff,#00d4ff,#00caff,#00c0ff,#00b6ff,#00adff,#00a3ff,#009aff,#0091ff,#0089ff,#0080ff,#0078ff,#006fff,#0068ff,#0060ff,#0058ff,#0051ff,#004aff,#0043ff,#003cff,#0035ff,#002fff,#0029ff,#0023ff,#001dff,#0017ff,#0012ff,#000dff,#0008ff,#0003ff,#00f,#00f,#00f,#00f,#00f,#00f,#00f,#00f,#00f,#00f,#00f,#00f,#00f,#00f)"></i>
<i style="background:linear-gradient(90deg,#00ff24,#00ff34,#00ff43,#00ff53,#00ff62,#00ff71,#00ff7f,#00ff8e,#00ff9c,#0fa,#00ffb8,#00ffc6,#00ffd3,#00ffe0,#00ffed,#00fffa,#00f9ff,#0ef,#00e3ff,#00d9ff,#00cfff,#00c4ff,#0bf,#00b1ff,#00a8ff,#009eff,#0095ff,#008cff,#0084ff,#007bff,#0073ff,#006bff,#0063ff,#005bff,#0054ff,#004dff,#0046ff,#003fff,#0038ff,#0032ff,#002bff,#0025ff,#001fff,#001aff,#0014ff,#000fff,#000aff,#0005ff,#00f,#00f,#00f,#00f,#00f,#00f,#00f,#00f,#00f,#00f,#00f,#00f,#00f,#00f)"></i>
<i style="background:linear-gradient(90deg,#00ff1d,#00ff2d,#00ff3c,#00ff4c,#00ff5b,#00ff6a,#00ff79,#0f8,#00ff96,#00ffa4,#00ffb2,#00ffc0,#00ffcd,#00ffda,#00ffe7,#00fff4,#00fdff,#00f3ff,#00e8ff,#0df,#00d3ff,#00c9ff,#00bfff,#00b5ff,#00acff,#00a2ff,#09f,#0090ff,#0087ff,#007fff,#07f,#006eff,#0067ff,#005fff,#0057ff,#0050ff,#0049ff,#0042ff,#003bff,#0034ff,#002eff,#0028ff,#02f,#001cff,#0017ff,#01f,#000cff,#0007ff,#0002ff,#00f,#00f,#00f,#00f,#00f,#00f,#00f,#00f,#00f,#00f,#00f,#00f,#00f)"></i>
<i style="background:linear-gradient(90deg,#00ff16,#00ff26,#00ff36,#00ff45,#00ff54,#00ff64,#00ff73,#00ff81,#00ff90,#00ff9e,#00ffac,#00ffba,#00ffc7,#00ffd5,#00ffe2,#00ffef,#00fffb,#00f7ff,#00ecff,#00e2ff,#00d7ff,#00cdff,#00c3ff,#00b9ff,#00b0ff,#00a6ff,#009dff,#0094ff,#008bff,#0083ff,#007aff,#0072ff,#006aff,#0062ff,#005aff,#0053ff,#004cff,#0045ff,#003eff,#0037ff,#0031ff,#002bff,#0024ff,#001fff,#0019ff,#0014ff,#000eff,#0009ff,#0004ff,#00f,#00f,#00f,#00f,#00f,#00f,#00f,#00f,#00f,#00f,#00f,#00f,#00f)"></i>
<i style="background:linear-gradient(90deg,#00ff0f,#00ff1f,#00ff2f,#00ff3e,#00ff4e,#00ff5d,#00ff6c,#00ff7b,#00ff89,#00ff98,#00ffa6,#00ffb4,#00ffc1,#00ffcf,#00ffdc,#00ffe9,#00fff6,#00fcff,#00f1ff,#00e6ff,#00dcff,#00d2ff,#00c8ff,#00beff,#00b4ff,#0af,#00a1ff,#0098ff,#008fff,#0086ff,#007eff,#0076ff,#006dff,#0065ff,#005eff,#0056ff,#004fff,#0048ff,#0041ff,#003aff,#0034ff,#002dff,#0027ff,#0021ff,#001bff,#0016ff,#0010ff,#000bff,#0006ff,#0002ff,#00f,#00f,#00f,#00f,#00f,#00f,#00f,#00f,#00f,#00f,#00f,#00f)"></i>
<i style="background:linear-gradient(90deg,#00ff08,#00ff18,#00ff28,#00ff38,#00ff47,#00ff56,#0f6,#00ff74,#00ff83,#00ff91,#00ffa0,#00ffae,#0fb,#00ffc9,#00ffd6,#00ffe3,#00fff0,#00fffd,#00f6ff,#00ebff,#00e1ff,#00d6ff,#0cf,#00c2ff,#00b8ff,#00afff,#00a5ff,#009cff,#0093ff,#008aff,#0082ff,#0079ff,#0071ff,#0069ff,#0061ff,#0059ff,#0052ff,#004bff,#04f,#003dff,#0036ff,#0030ff,#002aff,#0024ff,#001eff,#0018ff,#0013ff,#000eff,#0008ff,#0004ff,#00f,#00f,#00f,#00f,#00f,#00f,#00f,#00f,#00f,#00f,#00f,#00f)"></i>
<i style="background:linear-gradient(90deg,#0f0,#0f1,#00ff21,#00ff31,#00ff40,#00ff50,#00ff5f,#00ff6e,#00ff7d,#00ff8b,#00ff9a,#00ffa8,#00ffb5,#00ffc3,#00ffd1,#00ffde,#00ffeb,#00fff7,#00fbff,#00f0ff,#00e5ff,#00dbff,#00d0ff,#00c6ff,#00bcff,#00b3ff,#00a9ff,#00a0ff,#0097ff,#008eff,#0085ff,#007dff,#0074ff,#006cff,#0064ff,#005dff,#05f,#004eff,#0047ff,#0040ff,#0039ff,#03f,#002cff,#0026ff,#0020ff,#001bff,#0015ff,#0010ff,#000bff,#0006ff,#0001ff,#00f,#00f,#00f,#00f,#00f,#00f,#00f,#00f,#00f,#00f,#00f)"></i>
<i style="background:linear-gradient(90deg,#07ff00,#00ff0a,#00ff1a,#00ff2a,#00ff3a,#00ff49,#00ff58,#00ff67,#00ff76,#00ff85,#00ff93,#00ffa2,#00ffaf,#00ffbd,#00ffcb,#00ffd8,#00ffe5,#00fff2,#0ff,#00f4ff,#00eaff,#00dfff,#00d5ff,#00cbff,#00c1ff,#00b7ff,#00adff,#00a4ff,#009bff,#0092ff,#0089ff,#0080ff,#0078ff,#0070ff,#0068ff,#0060ff,#0058ff,#0051ff,#004aff,#0043ff,#003cff,#0035ff,#002fff,#0029ff,#0023ff,#001dff,#0017ff,#0012ff,#000dff,#0008ff,#0003ff,#00f,#00f,#00f,#00f,#00f,#00f,#00f,#00f,#00f,#00f,#00f)"></i>
<i style="background:linear-gradient(90deg,#0eff00,#00ff03,#00ff13,#00ff23,#0f3,#00ff42,#00ff52,#00ff61,#00ff70,#00ff7f,#00ff8d,#00ff9b,#00ffa9,#00ffb7,#00ffc5,#00ffd2,#00ffdf,#00ffec,#00fff9,#00f9ff,#0ef,#00e4ff,#00d9ff,#00cfff,#00c5ff,#0bf,#00b1ff,#00a8ff,#009fff,#0096ff,#008dff,#0084ff,#007cff,#0073ff,#006bff,#0063ff,#005cff,#0054ff,#004dff,#0046ff,#003fff,#0038ff,#0032ff,#002bff,#0025ff,#001fff,#001aff,#0014ff,#000fff,#000aff,#0005ff,#00f,#00f,#00f,#00f,#00f,#00f,#00f,#00f,#00f,#00f,#00f)"></i>
<i style="background:linear-gradient(90deg,#15ff00,#05ff00,#00ff0c,#00ff1c,#00ff2c,#00ff3c,#00ff4b,#00ff5a,#00ff69,#00ff78,#00ff87,#00ff95,#00ffa3,#00ffb1,#00ffbf,#00ffcd,#00ffda,#00ffe7,#00fff4,#00feff,#00f3ff,#00e8ff,#00deff,#00d3ff,#00c9ff,#00bfff,#00b6ff,#00acff,#00a3ff,#09f,#0090ff,#08f,#007fff,#07f,#006fff,#0067ff,#005fff,#0057ff,#0050ff,#0049ff,#0042ff,#003bff,#0034ff,#002eff,#0028ff,#02f,#001cff,#0017ff,#01f,#000cff,#0007ff,#0002ff,#00f,#00f,#00f,#00f,#00f,#00f,#00f,#00f,#00f,#00f)"></i>
<i style="background:linear-gradient(90deg,#1cff00,#0cff00,#00ff05,#00ff15,#00ff25,#00ff35,#0f4,#00ff54,#00ff63,#00ff72,#00ff81,#00ff8f,#00ff9d,#00ffab,#00ffb9,#00ffc7,#00ffd4,#00ffe1,#0fe,#00fffb,#00f8ff,#00edff,#00e2ff,#00d8ff,#00ceff,#00c4ff,#00baff,#00b0ff,#00a7ff,#009dff,#0094ff,#008bff,#0083ff,#007aff,#0072ff,#006aff,#0062ff,#005bff,#0053ff,#004cff,#0045ff,#003eff,#0037ff,#0031ff,#002bff,#0024ff,#001fff,#0019ff,#0013ff,#000eff,#0009ff,#0004ff,#00f,#00f,#00f,#00f,#00f,#00f,#00f,#00f,#00f,#00f)"></i>
<i style="background:linear-gradient(90deg,#23ff00,#13ff00,#02ff00,#00ff0e,#00ff1e,#00ff2e,#00ff3e,#00ff4d,#00ff5c,#00ff6b,#00ff7a,#00ff89,#00ff97,#00ffa5,#00ffb3,#00ffc1,#00ffce,#00ffdc,#00ffe9,#00fff5,#00fcff,#00f1ff,#00e7ff,#00dcff,#00d2ff,#00c8ff,#00beff,#00b4ff,#00abff,#00a1ff,#0098ff,#008fff,#0086ff,#007eff,#0076ff,#006dff,#06f,#005eff,#0056ff,#004fff,#0048ff,#0041ff,#003aff,#03f,#002dff,#0027ff,#0021ff,#001bff,#0016ff,#0010ff,#000bff,#0006ff,#0001ff,#00f,#00f,#00f,#00f,#00f,#00f,#00f,#00f,#00f)"></i>
<i style="background:linear-gradient(90deg,#2aff00,#1aff00,#09ff00,#00ff07,#00ff17,#00ff27,#00ff37,#00ff46,#00ff56,#00ff65,#00ff74,#00ff83,#00ff91,#00ff9f,#00ffad,#0fb,#00ffc9,#00ffd6,#00ffe3,#00fff0,#00fffd,#00f6ff,#00ebff,#00e1ff,#00d6ff,#0cf,#00c2ff,#00b8ff,#00afff,#00a5ff,#009cff,#0093ff,#008aff,#0082ff,#0079ff,#0071ff,#0069ff,#0061ff,#0059ff,#0052ff,#004bff,#04f,#003dff,#0036ff,#0030ff,#002aff,#0023ff,#001eff,#0018ff,#0013ff,#000dff,#0008ff,#0003ff,#00f,#00f,#00f,#00f,#00f,#00f,#00f,#00f,#00f)"></i>
<i style="background:linear-gradient(90deg,#32ff00,#21ff00,#1f0,#0f0,#00ff10,#00ff20,#00ff30,#00ff40,#00ff4f,#00ff5e,#00ff6d,#00ff7c,#00ff8b,#0f9,#00ffa7,#00ffb5,#00ffc3,#00ffd0,#0fd,#00ffea,#00fff7,#00fbff,#00f0ff,#00e5ff,#00dbff,#00d0ff,#00c6ff,#00bcff,#00b3ff,#00a9ff,#00a0ff,#0097ff,#008eff,#0085ff,#007dff,#0074ff,#006cff,#0064ff,#005dff,#05f,#004eff,#0047ff,#0040ff,#0039ff,#0032ff,#002cff,#0026ff,#0020ff,#001aff,#0015ff,#000fff,#000aff,#0005ff,#0001ff,#00f,#00f,#00f,#00f,#00f,#00f,#00f,#00f)"></i>
<i style="background:linear-gradient(90deg,#39ff00,#28ff00,#18ff00,#07ff00,#00ff09,#00ff19,#00ff29,#00ff39,#00ff49,#00ff58,#00ff67,#00ff76,#00ff85,#00ff93,#00ffa1,#00ffaf,#00ffbd,#00ffca,#00ffd8,#00ffe5,#00fff2,#00fffe,#00f5ff,#00eaff,#00dfff,#00d5ff,#00cbff,#00c1ff,#00b7ff,#00adff,#00a4ff,#009bff,#0092ff,#0089ff,#0080ff,#0078ff,#0070ff,#0068ff,#0060ff,#0058ff,#0051ff,#004aff,#0043ff,#003cff,#0035ff,#002fff,#0029ff,#0023ff,#001dff,#0017ff,#0012ff,#000cff,#0007ff,#0003ff,#00f,#00f,#00f,#00f,#00f,#00f,#00f,#00f)"></i>
<i style="background:linear-gradient(90deg,#40ff00,#2fff00,#1fff00,#0eff00,#00ff02,#00ff12,#0f2,#00ff32,#00ff42,#00ff51,#00ff61,#00ff70,#00ff7e,#00ff8d,#00ff9b,#00ffa9,#00ffb7,#00ffc5,#00ffd2,#00ffdf,#00ffec,#00fff9,#00f9ff,#0ef,#00e4ff,#00d9ff,#00cfff,#00c5ff,#0bf,#00b1ff,#00a8ff,#009fff,#0096ff,#008dff,#0084ff,#007bff,#0073ff,#006bff,#0063ff,#005bff,#0054ff,#004dff,#0046ff,#003fff,#0038ff,#0031ff,#002bff,#0025ff,#001fff,#0019ff,#0014ff,#000fff,#0009ff,#0005ff,#00f,#00f,#00f,#00f,#00f,#00f,#00f,#00f)"></i>
<i style="background:linear-gradient(90deg,#48ff00,#37ff00,#26ff00,#15ff00,#05ff00,#00ff0b,#00ff1c,#00ff2b,#00ff3b,#00ff4b,#00ff5a,#00ff69,#00ff78,#00ff87,#00ff95,#00ffa3,#00ffb1,#00ffbf,#0fc,#00ffda,#00ffe7,#00fff4,#00feff,#00f3ff,#00e8ff,#00deff,#00d3ff,#00c9ff,#00bfff,#00b5ff,#00acff,#00a3ff,#09f,#0090ff,#08f,#007fff,#07f,#006eff,#06f,#005fff,#0057ff,#0050ff,#0049ff,#0042ff,#003bff,#0034ff,#002eff,#0028ff,#02f,#001cff,#0016ff,#01f,#000cff,#0007ff,#0002ff,#00f,#00f,#00f,#00f,#00f,#00f,#00f)"></i>
<i style="background:linear-gradient(90deg,#4fff00,#3eff00,#2dff00,#1cff00,#0cff00,#00ff04,#00ff15,#00ff25,#00ff35,#0f4,#00ff54,#00ff63,#00ff72,#00ff80,#00ff8f,#00ff9d,#00ffab,#00ffb9,#00ffc7,#00ffd4,#00ffe1,#0fe,#00fffb,#00f8ff,#00edff,#00e2ff,#00d8ff,#00cdff,#00c3ff,#00baff,#00b0ff,#00a6ff,#009dff,#0094ff,#008bff,#0083ff,#007aff,#0072ff,#006aff,#0062ff,#005aff,#0053ff,#004cff,#04f,#003eff,#0037ff,#0030ff,#002aff,#0024ff,#001eff,#0018ff,#0013ff,#000eff,#0009ff,#0004ff,#00f,#00f,#00f,#00f,#00f,#00f,#00f)"></i>
<i style="background:linear-gradient(90deg,#57ff00,#45ff00,#34ff00,#24ff00,#13ff00,#03ff00,#00ff0e,#00ff1e,#00ff2e,#00ff3d,#00ff4d,#00ff5c,#00ff6b,#00ff7a,#00ff89,#00ff97,#00ffa5,#00ffb3,#00ffc1,#00ffce,#00ffdc,#00ffe9,#00fff5,#00fcff,#00f1ff,#00e7ff,#00dcff,#00d2ff,#00c8ff,#00beff,#00b4ff,#0af,#00a1ff,#0098ff,#008fff,#0086ff,#007eff,#0075ff,#006dff,#0065ff,#005dff,#0056ff,#004fff,#0047ff,#0040ff,#003aff,#03f,#002dff,#0026ff,#0021ff,#001bff,#0015ff,#0010ff,#000bff,#0006ff,#0001ff,#00f,#00f,#00f,#00f,#00f,#00f)"></i>
<i style="background:linear-gradient(90deg,#5eff00,#4dff00,#3cff00,#2bff00,#1aff00,#0aff00,#00ff07,#00ff17,#00ff27,#00ff37,#00ff46,#00ff56,#00ff65,#00ff74,#00ff82,#00ff91,#00ff9f,#00ffad,#0fb,#00ffc9,#00ffd6,#00ffe3,#00fff0,#00fffd,#00f6ff,#00ebff,#00e1ff,#00d6ff,#0cf,#00c2ff,#00b8ff,#00aeff,#00a5ff,#009cff,#0093ff,#008aff,#0081ff,#0079ff,#0071ff,#0069ff,#0061ff,#0059ff,#0052ff,#004aff,#0043ff,#003cff,#0036ff,#002fff,#0029ff,#0023ff,#001dff,#0017ff,#0012ff,#000dff,#0008ff,#0003ff,#00f,#00f,#00f,#00f,#00f,#00f)"></i>
<i style="background:linear-gradient(90deg,#65ff00,#54ff00,#43ff00,#32ff00,#21ff00,#1f0,#0f0,#00ff10,#00ff20,#00ff30,#00ff40,#00ff4f,#00ff5e,#00ff6d,#00ff7c,#00ff8b,#0f9,#00ffa7,#00ffb5,#00ffc3,#00ffd0,#00ffde,#00ffeb,#00fff7,#00fbff,#00f0ff,#00e5ff,#00dbff,#00d0ff,#00c6ff,#00bcff,#00b2ff,#00a9ff,#00a0ff,#0097ff,#008eff,#0085ff,#007cff,#0074ff,#006cff,#0064ff,#005cff,#05f,#004dff,#0046ff,#003fff,#0038ff,#0032ff,#002cff,#0025ff,#001fff,#001aff,#0014ff,#000fff,#000aff,#0005ff,#00f,#00f,#00f,#00f,#00f,#00f)"></i>
<i style="background:linear-gradient(90deg,#6dff00,#5cff00,#4aff00,#39ff00,#28ff00,#18ff00,#07ff00,#00ff09,#00ff19,#00ff29,#00ff39,#00ff49,#00ff58,#00ff67,#00ff76,#00ff85,#00ff93,#00ffa1,#00ffaf,#00ffbd,#00ffcb,#00ffd8,#00ffe5,#00fff2,#0ff,#00f4ff,#00eaff,#00dfff,#00d5ff,#00caff,#00c0ff,#00b7ff,#00adff,#00a4ff,#009aff,#0091ff,#08f,#0080ff,#07f,#006fff,#0067ff,#005fff,#0058ff,#0050ff,#0049ff,#0042ff,#003bff,#0035ff,#002eff,#0028ff,#02f,#001cff,#0016ff,#01f,#000cff,#0007ff,#0002ff,#00f,#00f,#00f,#00f,#00f)"></i>
<i style="background:linear-gradient(90deg,#75ff00,#63ff00,#52ff00,#40ff00,#30ff00,#1fff00,#0eff00,#00ff02,#00ff12,#0f2,#00ff32,#00ff42,#00ff51,#00ff61,#00ff70,#00ff7e,#00ff8d,#00ff9b,#00ffa9,#00ffb7,#00ffc5,#00ffd2,#00ffdf,#00ffec,#00fff9,#00f9ff,#0ef,#00e3ff,#00d9ff,#00cfff,#00c5ff,#0bf,#00b1ff,#00a7ff,#009eff,#0095ff,#008cff,#0083ff,#007bff,#0073ff,#006bff,#0063ff,#005bff,#0053ff,#004cff,#0045ff,#003eff,#0037ff,#0031ff,#002aff,#0024ff,#001eff,#0019ff,#0013ff,#000eff,#0009ff,#0004ff,#00f,#00f,#00f,#00f,#00f)"></i>
<i style="background:linear-gradient(90deg,#7cff00,#6aff00,#59ff00,#48ff00,#37ff00,#26ff00,#15ff00,#05ff00,#00ff0b,#00ff1c,#00ff2c,#00ff3b,#00ff4b,#00ff5a,#00ff69,#00ff78,#00ff87,#00ff95,#00ffa3,#00ffb1,#00ffbf,#00ffcd,#00ffda,#00ffe7,#00fff4,#00feff,#00f3ff,#00e8ff,#0df,#00d3ff,#00c9ff,#00bfff,#00b5ff,#00abff,#00a2ff,#09f,#0090ff,#0087ff,#007eff,#0076ff,#006eff,#06f,#005eff,#0056ff,#004fff,#0048ff,#0041ff,#003aff,#03f,#002dff,#0027ff,#0021ff,#001bff,#0015ff,#0010ff,#000bff,#0006ff,#0001ff,#00f,#00f,#00f,#00f)"></i>
<i style="background:linear-gradient(90deg,#84ff00,#72ff00,#60ff00,#4fff00,#3eff00,#2dff00,#1cff00,#0cff00,#00ff04,#00ff15,#00ff25,#00ff35,#0f4,#00ff54,#00ff63,#00ff72,#00ff81,#00ff8f,#00ff9d,#00ffab,#00ffb9,#00ffc7,#00ffd4,#00ffe2,#0fe,#00fffb,#00f7ff,#00ecff,#00e2ff,#00d7ff,#00cdff,#00c3ff,#00b9ff,#00afff,#00a6ff,#009dff,#0094ff,#008bff,#0082ff,#007aff,#0071ff,#0069ff,#0061ff,#005aff,#0052ff,#004bff,#04f,#003dff,#0036ff,#0030ff,#0029ff,#0023ff,#001dff,#0018ff,#0012ff,#000dff,#0008ff,#0003ff,#00f,#00f,#00f,#00f)"></i>
<i style="background:linear-gradient(90deg,#8bff00,#7aff00,#68ff00,#57ff00,#45ff00,#34ff00,#23ff00,#13ff00,#03ff00,#00ff0e,#00ff1e,#00ff2e,#00ff3e,#00ff4d,#00ff5c,#00ff6c,#00ff7a,#00ff89,#00ff97,#00ffa6,#00ffb3,#00ffc1,#00ffcf,#00ffdc,#00ffe9,#00fff6,#00fcff,#00f1ff,#00e6ff,#00dcff,#00d1ff,#00c7ff,#00bdff,#00b3ff,#0af,#00a1ff,#0097ff,#008eff,#0086ff,#007dff,#0075ff,#006cff,#0065ff,#005dff,#05f,#004eff,#0047ff,#0040ff,#0039ff,#0032ff,#002cff,#0026ff,#0020ff,#001aff,#0014ff,#000fff,#000aff,#0005ff,#00f,#00f,#00f,#00f)"></i>
<i style="background:linear-gradient(90deg,#93ff00,#81ff00,#6fff00,#5eff00,#4dff00,#3bff00,#2bff00,#1aff00,#0aff00,#00ff07,#00ff17,#00ff27,#00ff37,#00ff47,#00ff56,#00ff65,#00ff74,#00ff83,#00ff91,#00ffa0,#00ffae,#0fb,#00ffc9,#00ffd6,#00ffe4,#00fff0,#00fffd,#00f6ff,#00ebff,#00e0ff,#00d6ff,#00cbff,#00c1ff,#00b7ff,#00aeff,#00a4ff,#009bff,#0092ff,#0089ff,#0081ff,#0078ff,#0070ff,#0068ff,#0060ff,#0058ff,#0051ff,#0049ff,#0042ff,#003cff,#0035ff,#002eff,#0028ff,#02f,#001cff,#0016ff,#01f,#000cff,#0007ff,#0002ff,#00f,#00f,#00f)"></i>
<i style="background:linear-gradient(90deg,#9bff00,#89ff00,#7f0,#65ff00,#54ff00,#43ff00,#32ff00,#21ff00,#10ff00,#0f0,#00ff10,#00ff20,#00ff30,#00ff40,#00ff50,#00ff5f,#00ff6e,#00ff7d,#00ff8b,#00ff9a,#00ffa8,#00ffb6,#00ffc3,#00ffd1,#00ffde,#00ffeb,#00fff8,#00faff,#00efff,#00e5ff,#00daff,#00d0ff,#00c6ff,#00bcff,#00b2ff,#00a8ff,#009fff,#0096ff,#008dff,#0084ff,#007cff,#0073ff,#006bff,#0063ff,#005bff,#0054ff,#004cff,#0045ff,#003eff,#0038ff,#0031ff,#002bff,#0024ff,#001eff,#0019ff,#0013ff,#000eff,#0009ff,#0004ff,#00f,#00f,#00f)"></i>
<i style="background:linear-gradient(90deg,#a3ff00,#91ff00,#7fff00,#6dff00,#5bff00,#4aff00,#39ff00,#28ff00,#17ff00,#07ff00,#00ff09,#00ff1a,#00ff2a,#00ff39,#00ff49,#00ff58,#00ff67,#00ff76,#00ff85,#00ff94,#00ffa2,#00ffb0,#00ffbe,#00ffcb,#00ffd9,#00ffe6,#00fff3,#0ff,#00f4ff,#00e9ff,#00deff,#00d4ff,#00caff,#00c0ff,#00b6ff,#00acff,#00a3ff,#009aff,#0091ff,#08f,#007fff,#07f,#006eff,#06f,#005fff,#0057ff,#004fff,#0048ff,#0041ff,#003aff,#0034ff,#002dff,#0027ff,#0021ff,#001bff,#0015ff,#0010ff,#000bff,#0006ff,#0001ff,#00f,#00f)"></i>
<i style="background:linear-gradient(90deg,#abff00,#98ff00,#86ff00,#74ff00,#63ff00,#51ff00,#40ff00,#2fff00,#1fff00,#0eff00,#00ff02,#00ff13,#00ff23,#0f3,#00ff42,#00ff52,#00ff61,#00ff70,#00ff7f,#00ff8d,#00ff9c,#0fa,#00ffb8,#00ffc6,#00ffd3,#00ffe0,#00ffed,#00fffa,#00f8ff,#00edff,#00e3ff,#00d8ff,#00ceff,#00c4ff,#00baff,#00b0ff,#00a7ff,#009dff,#0094ff,#008bff,#0083ff,#007aff,#0072ff,#006aff,#0062ff,#005aff,#0052ff,#004bff,#04f,#003dff,#0036ff,#0030ff,#0029ff,#0023ff,#001dff,#0018ff,#0012ff,#000dff,#0007ff,#0003ff,#00f,#00f)"></i>
<i style="background:linear-gradient(90deg,#b2ff00,#a0ff00,#8eff00,#7cff00,#6aff00,#59ff00,#47ff00,#36ff00,#26ff00,#15ff00,#05ff00,#00ff0c,#00ff1c,#00ff2c,#00ff3c,#00ff4b,#00ff5b,#00ff6a,#00ff79,#00ff87,#00ff96,#00ffa4,#00ffb2,#00ffc0,#00ffcd,#00ffdb,#00ffe8,#00fff5,#00fdff,#00f2ff,#00e7ff,#0df,#00d2ff,#00c8ff,#00beff,#00b4ff,#00abff,#00a1ff,#0098ff,#008fff,#0086ff,#007eff,#0075ff,#006dff,#0065ff,#005dff,#05f,#004eff,#0047ff,#0040ff,#0039ff,#0032ff,#002cff,#0026ff,#0020ff,#001aff,#0014ff,#000fff,#0009ff,#0004ff,#00f,#00f)"></i>
<i style="background:linear-gradient(90deg,#baff00,#a8ff00,#96ff00,#83ff00,#72ff00,#60ff00,#4fff00,#3eff00,#2dff00,#1cff00,#0bff00,#00ff05,#00ff15,#00ff25,#00ff35,#00ff45,#00ff54,#00ff63,#00ff72,#00ff81,#00ff90,#00ff9e,#00ffac,#00ffba,#00ffc8,#00ffd5,#00ffe2,#00ffef,#00fffc,#00f7ff,#00ecff,#00e1ff,#00d7ff,#0cf,#00c2ff,#00b8ff,#00afff,#00a5ff,#009cff,#0093ff,#008aff,#0081ff,#0079ff,#0070ff,#0068ff,#0060ff,#0059ff,#0051ff,#004aff,#0043ff,#003cff,#0035ff,#002eff,#0028ff,#02f,#001cff,#0016ff,#01f,#000bff,#0006ff,#0001ff,#00f)"></i>
<i style="background:linear-gradient(90deg,#c2ff00,#b0ff00,#9dff00,#8bff00,#79ff00,#68ff00,#56ff00,#45ff00,#34ff00,#23ff00,#12ff00,#02ff00,#00ff0e,#00ff1f,#00ff2f,#00ff3e,#00ff4e,#00ff5d,#00ff6c,#00ff7b,#00ff8a,#00ff98,#00ffa6,#00ffb4,#00ffc2,#00ffd0,#0fd,#00ffea,#00fff7,#00fbff,#00f0ff,#00e5ff,#00dbff,#00d0ff,#00c6ff,#00bcff,#00b3ff,#00a9ff,#00a0ff,#0096ff,#008dff,#0085ff,#007cff,#0074ff,#006bff,#0063ff,#005cff,#0054ff,#004dff,#0045ff,#003eff,#0038ff,#0031ff,#002bff,#0024ff,#001eff,#0019ff,#0013ff,#000eff,#0008ff,#0003ff,#00f)"></i>
<i style="background:linear-gradient(90deg,#caff00,#b7ff00,#a5ff00,#93ff00,#81ff00,#6fff00,#5dff00,#4cff00,#3bff00,#2aff00,#19ff00,#09ff00,#00ff07,#00ff18,#00ff28,#00ff38,#00ff47,#00ff57,#0f6,#00ff75,#00ff84,#00ff92,#00ffa0,#00ffae,#00ffbc,#00ffca,#00ffd7,#00ffe4,#00fff1,#00fffe,#00f5ff,#00eaff,#00dfff,#00d5ff,#00caff,#00c0ff,#00b7ff,#00adff,#00a3ff,#009aff,#0091ff,#08f,#007fff,#07f,#006fff,#0067ff,#005fff,#0057ff,#0050ff,#0048ff,#0041ff,#003aff,#0034ff,#002dff,#0027ff,#0021ff,#001bff,#0015ff,#0010ff,#000aff,#0005ff,#00f)"></i>
<i style="background:linear-gradient(90deg,#d2ff00,#bfff00,#adff00,#9aff00,#8f0,#76ff00,#65ff00,#53ff00,#42ff00,#31ff00,#20ff00,#10ff00,#00ff01,#0f1,#00ff21,#00ff31,#00ff41,#00ff50,#00ff60,#00ff6f,#00ff7d,#00ff8c,#00ff9a,#00ffa9,#00ffb7,#00ffc4,#00ffd2,#00ffdf,#00ffec,#00fff9,#00f9ff,#0ef,#00e4ff,#00d9ff,#00cfff,#00c5ff,#0bf,#00b1ff,#00a7ff,#009eff,#0095ff,#008cff,#0083ff,#007aff,#0072ff,#006aff,#0062ff,#005aff,#0053ff,#004bff,#04f,#003dff,#0036ff,#0030ff,#0029ff,#0023ff,#001dff,#0017ff,#0012ff,#000cff,#0007ff,#0002ff)"></i>
<i style="background:linear-gradient(90deg,#daff00,#c7ff00,#b5ff00,#a2ff00,#90ff00,#7eff00,#6cff00,#5bff00,#49ff00,#38ff00,#27ff00,#17ff00,#06ff00,#00ff0a,#00ff1a,#00ff2a,#00ff3a,#00ff4a,#00ff59,#00ff68,#0f7,#00ff86,#00ff94,#00ffa3,#00ffb1,#00ffbf,#0fc,#00ffda,#00ffe7,#00fff4,#00feff,#00f3ff,#00e8ff,#0df,#00d3ff,#00c9ff,#00bfff,#00b5ff,#00abff,#00a2ff,#0098ff,#008fff,#0087ff,#007eff,#0075ff,#006dff,#0065ff,#005dff,#0056ff,#004eff,#0047ff,#0040ff,#0039ff,#0032ff,#002cff,#0026ff,#001fff,#001aff,#0014ff,#000eff,#0009ff,#0004ff)"></i>
<i style="background:linear-gradient(90deg,#e2ff00,#cfff00,#bcff00,#af0,#98ff00,#86ff00,#74ff00,#62ff00,#51ff00,#3fff00,#2fff00,#1eff00,#0dff00,#00ff03,#00ff14,#00ff24,#00ff34,#00ff43,#00ff53,#00ff62,#00ff71,#00ff80,#00ff8e,#00ff9d,#00ffab,#00ffb9,#00ffc7,#00ffd4,#00ffe1,#0fe,#00fffb,#00f7ff,#00ecff,#00e2ff,#00d7ff,#00cdff,#00c3ff,#00b9ff,#00afff,#00a6ff,#009cff,#0093ff,#008aff,#0081ff,#0079ff,#0070ff,#0068ff,#0060ff,#0059ff,#0051ff,#004aff,#0043ff,#003cff,#0035ff,#002eff,#0028ff,#02f,#001cff,#0016ff,#0010ff,#000bff,#0006ff)"></i>
<i style="background:linear-gradient(90deg,#eaff00,#d7ff00,#c4ff00,#b2ff00,#9fff00,#8dff00,#7bff00,#69ff00,#58ff00,#47ff00,#36ff00,#25ff00,#14ff00,#04ff00,#00ff0d,#00ff1d,#00ff2d,#00ff3d,#00ff4c,#00ff5c,#00ff6b,#00ff7a,#0f8,#00ff97,#00ffa5,#00ffb3,#00ffc1,#00ffce,#00ffdc,#00ffe9,#00fff6,#00fcff,#00f1ff,#00e6ff,#00dbff,#00d1ff,#00c7ff,#00bdff,#00b3ff,#00a9ff,#00a0ff,#0097ff,#008eff,#0085ff,#007cff,#0074ff,#006cff,#0064ff,#005cff,#0054ff,#004dff,#0045ff,#003eff,#0038ff,#0031ff,#002aff,#0024ff,#001eff,#0018ff,#0013ff,#000dff,#0008ff)"></i>
<i style="background:linear-gradient(90deg,#f2ff00,#dfff00,#cf0,#baff00,#a7ff00,#95ff00,#83ff00,#71ff00,#5fff00,#4eff00,#3dff00,#2cff00,#1bff00,#0bff00,#00ff06,#00ff16,#00ff26,#00ff36,#00ff46,#0f5,#00ff65,#00ff74,#00ff82,#00ff91,#00ff9f,#00ffad,#0fb,#00ffc9,#00ffd6,#00ffe4,#00fff1,#00fffd,#00f5ff,#00ebff,#00e0ff,#00d5ff,#00cbff,#00c1ff,#00b7ff,#00adff,#00a4ff,#009aff,#0091ff,#08f,#0080ff,#07f,#006fff,#0067ff,#005fff,#0057ff,#0050ff,#0048ff,#0041ff,#003aff,#03f,#002dff,#0027ff,#0020ff,#001aff,#0015ff,#000fff,#000aff)"></i>
<i style="background:linear-gradient(90deg,#faff00,#e7ff00,#d4ff00,#c1ff00,#afff00,#9cff00,#8aff00,#78ff00,#67ff00,#5f0,#4f0,#3f0,#2f0,#1f0,#01ff00,#00ff0f,#00ff20,#00ff30,#00ff3f,#00ff4f,#00ff5e,#00ff6d,#00ff7c,#00ff8b,#0f9,#00ffa8,#00ffb5,#00ffc3,#00ffd1,#00ffde,#00ffeb,#00fff8,#00faff,#00efff,#00e4ff,#00daff,#00cfff,#00c5ff,#0bf,#00b1ff,#00a8ff,#009eff,#0095ff,#008cff,#0083ff,#007bff,#0072ff,#006aff,#0062ff,#005aff,#0053ff,#004bff,#04f,#003dff,#0036ff,#002fff,#0029ff,#0023ff,#001dff,#0017ff,#01f,#000cff)"></i>
<i style="background:linear-gradient(90deg,#fffc00,#efff00,#dcff00,#c9ff00,#b7ff00,#a4ff00,#92ff00,#80ff00,#6eff00,#5dff00,#4bff00,#3aff00,#29ff00,#18ff00,#08ff00,#00ff08,#00ff19,#00ff29,#00ff39,#00ff48,#00ff58,#00ff67,#00ff76,#00ff85,#00ff93,#00ffa2,#00ffb0,#00ffbe,#00ffcb,#00ffd9,#00ffe6,#00fff3,#0ff,#00f3ff,#00e9ff,#00deff,#00d3ff,#00c9ff,#00bfff,#00b5ff,#00abff,#00a2ff,#09f,#0090ff,#0087ff,#007eff,#0076ff,#006dff,#0065ff,#005dff,#0056ff,#004eff,#0047ff,#0040ff,#0039ff,#0032ff,#002bff,#0025ff,#001fff,#0019ff,#0013ff,#000eff)"></i>
<i style="background:linear-gradient(90deg,#fff500,#f7ff00,#e4ff00,#d1ff00,#beff00,#acff00,#9aff00,#87ff00,#76ff00,#64ff00,#52ff00,#41ff00,#30ff00,#1fff00,#0fff00,#00ff02,#00ff12,#0f2,#00ff32,#00ff42,#00ff51,#00ff61,#00ff70,#00ff7f,#00ff8d,#00ff9c,#0fa,#00ffb8,#00ffc6,#00ffd3,#00ffe0,#00ffed,#00fffa,#00f8ff,#00edff,#00e2ff,#00d8ff,#00cdff,#00c3ff,#00b9ff,#00afff,#00a6ff,#009cff,#0093ff,#008aff,#0081ff,#0079ff,#0071ff,#0068ff,#0060ff,#0059ff,#0051ff,#004aff,#0042ff,#003bff,#0035ff,#002eff,#0028ff,#0021ff,#001bff,#0016ff,#0010ff)"></i>
<i style="background:linear-gradient(90deg,#fe0,#ff0,#ecff00,#d9ff00,#c6ff00,#b4ff00,#a1ff00,#8fff00,#7dff00,#6bff00,#5aff00,#48ff00,#37ff00,#26ff00,#16ff00,#05ff00,#00ff0b,#00ff1c,#00ff2c,#00ff3b,#00ff4b,#00ff5a,#00ff6a,#00ff79,#00ff87,#00ff96,#00ffa4,#00ffb2,#00ffc0,#00ffce,#00ffdb,#00ffe8,#00fff5,#00fdff,#00f1ff,#00e7ff,#00dcff,#00d2ff,#00c7ff,#00bdff,#00b3ff,#0af,#00a0ff,#0097ff,#008eff,#0085ff,#007cff,#0074ff,#006cff,#0063ff,#005cff,#0054ff,#004cff,#0045ff,#003eff,#0037ff,#0031ff,#002aff,#0024ff,#001eff,#0018ff,#0012ff)"></i>
<i style="background:linear-gradient(90deg,#ffe700,#fff800,#f4ff00,#e1ff00,#ceff00,#bf0,#a9ff00,#97ff00,#85ff00,#73ff00,#61ff00,#50ff00,#3eff00,#2dff00,#1dff00,#0cff00,#00ff04,#00ff15,#00ff25,#00ff35,#00ff45,#00ff54,#00ff63,#00ff72,#00ff81,#00ff90,#00ff9e,#00ffac,#00ffba,#00ffc8,#00ffd6,#00ffe3,#00fff0,#00fffd,#00f6ff,#00ebff,#00e0ff,#00d6ff,#00cbff,#00c1ff,#00b7ff,#00aeff,#00a4ff,#009bff,#0091ff,#0089ff,#0080ff,#07f,#006fff,#0067ff,#005fff,#0057ff,#004fff,#0048ff,#0041ff,#003aff,#03f,#002cff,#0026ff,#0020ff,#001aff,#0014ff)"></i>
<i style="background:linear-gradient(90deg,#ffe000,#fff100,#fcff00,#e9ff00,#d6ff00,#c3ff00,#b1ff00,#9eff00,#8cff00,#7aff00,#68ff00,#57ff00,#46ff00,#34ff00,#24ff00,#13ff00,#02ff00,#00ff0e,#00ff1e,#00ff2e,#00ff3e,#00ff4e,#00ff5d,#00ff6c,#00ff7b,#00ff8a,#00ff98,#00ffa7,#00ffb5,#00ffc2,#00ffd0,#0fd,#00ffeb,#00fff7,#00faff,#00efff,#00e5ff,#00daff,#00d0ff,#00c5ff,#0bf,#00b1ff,#00a8ff,#009eff,#0095ff,#008cff,#0083ff,#007bff,#0072ff,#006aff,#0062ff,#005aff,#0052ff,#004bff,#04f,#003dff,#0036ff,#002fff,#0029ff,#02f,#001cff,#0016ff)"></i>
<i style="background:linear-gradient(90deg,#ffda00,#ffea00,#fffa00,#f1ff00,#deff00,#cbff00,#b8ff00,#a6ff00,#94ff00,#82ff00,#70ff00,#5eff00,#4dff00,#3cff00,#2bff00,#1aff00,#09ff00,#00ff07,#00ff18,#00ff28,#00ff38,#00ff47,#00ff57,#0f6,#00ff75,#00ff84,#00ff92,#00ffa1,#00ffaf,#00ffbd,#00ffca,#00ffd8,#00ffe5,#00fff2,#0ff,#00f4ff,#00e9ff,#00deff,#00d4ff,#00c9ff,#00bfff,#00b5ff,#00acff,#00a2ff,#09f,#0090ff,#0087ff,#007eff,#0075ff,#006dff,#0065ff,#005dff,#05f,#004eff,#0046ff,#003fff,#0038ff,#0032ff,#002bff,#0025ff,#001eff,#0019ff)"></i>
<i style="background:linear-gradient(90deg,#ffd300,#ffe300,#fff400,#f9ff00,#e6ff00,#d3ff00,#c0ff00,#aeff00,#9bff00,#89ff00,#7f0,#65ff00,#54ff00,#43ff00,#32ff00,#21ff00,#10ff00,#0f0,#0f1,#00ff21,#00ff31,#00ff41,#00ff50,#00ff60,#00ff6f,#00ff7e,#00ff8c,#00ff9b,#00ffa9,#00ffb7,#00ffc5,#00ffd2,#00ffe0,#00ffed,#00fffa,#00f8ff,#00edff,#00e3ff,#00d8ff,#00ceff,#00c3ff,#00b9ff,#00b0ff,#00a6ff,#009cff,#0093ff,#008aff,#0081ff,#0079ff,#0070ff,#0068ff,#0060ff,#0058ff,#0051ff,#0049ff,#0042ff,#003bff,#0034ff,#002dff,#0027ff,#0021ff,#001bff)"></i>
<i style="background:linear-gradient(90deg,#fc0,#ffdc00,#ffed00,#fffd00,#ef0,#dbff00,#c8ff00,#b5ff00,#a3ff00,#91ff00,#7fff00,#6dff00,#5bff00,#4aff00,#39ff00,#28ff00,#17ff00,#06ff00,#00ff0a,#00ff1a,#00ff2a,#00ff3a,#00ff4a,#00ff59,#00ff69,#00ff78,#00ff86,#00ff95,#00ffa3,#00ffb1,#00ffbf,#00ffcd,#00ffda,#00ffe8,#00fff5,#00fdff,#00f2ff,#00e7ff,#00dcff,#00d2ff,#00c7ff,#00bdff,#00b3ff,#0af,#00a0ff,#0097ff,#008eff,#0085ff,#007cff,#0074ff,#006bff,#0063ff,#005bff,#0054ff,#004cff,#0045ff,#003eff,#0037ff,#0030ff,#0029ff,#0023ff,#001dff)"></i>
<i style="background:linear-gradient(90deg,#ffc500,#ffd500,#ffe600,#fff600,#f6ff00,#e3ff00,#d0ff00,#bdff00,#abff00,#98ff00,#86ff00,#74ff00,#62ff00,#51ff00,#40ff00,#2fff00,#1eff00,#0dff00,#00ff03,#00ff14,#00ff24,#00ff34,#0f4,#00ff53,#00ff62,#00ff72,#00ff80,#00ff8f,#00ff9d,#00ffac,#00ffba,#00ffc7,#00ffd5,#00ffe2,#00ffef,#00fffc,#00f6ff,#00ebff,#00e1ff,#00d6ff,#0cf,#00c1ff,#00b7ff,#00aeff,#00a4ff,#009bff,#0091ff,#08f,#0080ff,#07f,#006fff,#06f,#005eff,#0057ff,#004fff,#0048ff,#0040ff,#0039ff,#03f,#002cff,#0025ff,#001fff)"></i>
<i style="background:linear-gradient(90deg,#ffbd00,#ffce00,#ffdf00,#ffef00,#feff00,#ebff00,#d8ff00,#c5ff00,#b2ff00,#a0ff00,#8eff00,#7cff00,#6aff00,#58ff00,#47ff00,#36ff00,#25ff00,#14ff00,#04ff00,#00ff0d,#00ff1d,#00ff2d,#00ff3d,#00ff4d,#00ff5c,#00ff6b,#00ff7a,#00ff89,#00ff98,#00ffa6,#00ffb4,#00ffc2,#00ffcf,#0fd,#00ffea,#00fff7,#00fbff,#00f0ff,#00e5ff,#00daff,#00d0ff,#00c5ff,#0bf,#00b1ff,#00a8ff,#009eff,#0095ff,#008cff,#0083ff,#007aff,#0072ff,#006aff,#0061ff,#005aff,#0052ff,#004aff,#0043ff,#003cff,#0035ff,#002eff,#0028ff,#02f)"></i>
<i style="background:linear-gradient(90deg,#ffb600,#ffc700,#ffd800,#ffe800,#fff900,#f3ff00,#e0ff00,#cdff00,#baff00,#a7ff00,#95ff00,#83ff00,#71ff00,#5fff00,#4eff00,#3dff00,#2cff00,#1bff00,#0aff00,#00ff06,#00ff16,#00ff27,#00ff37,#00ff46,#00ff56,#00ff65,#00ff74,#00ff83,#00ff92,#00ffa0,#00ffae,#00ffbc,#00ffca,#00ffd7,#00ffe5,#00fff2,#0ff,#00f4ff,#00e9ff,#00deff,#00d4ff,#00caff,#00bfff,#00b5ff,#00acff,#00a2ff,#09f,#0090ff,#0087ff,#007eff,#0075ff,#006dff,#0065ff,#005dff,#05f,#004dff,#0046ff,#003fff,#0038ff,#0031ff,#002aff,#0024ff)"></i>
<i style="background:linear-gradient(90deg,#ffaf00,#ffc000,#ffd100,#ffe200,#fff200,#fbff00,#e8ff00,#d5ff00,#c2ff00,#afff00,#9dff00,#8bff00,#79ff00,#67ff00,#5f0,#4f0,#3f0,#2f0,#1f0,#01ff00,#00ff10,#00ff20,#00ff30,#00ff40,#00ff50,#00ff5f,#00ff6e,#00ff7d,#00ff8c,#00ff9a,#00ffa9,#00ffb7,#00ffc4,#00ffd2,#00ffdf,#00ffed,#00fff9,#00f9ff,#0ef,#00e3ff,#00d8ff,#00ceff,#00c3ff,#00b9ff,#00afff,#00a6ff,#009cff,#0093ff,#008aff,#0081ff,#0079ff,#0070ff,#0068ff,#0060ff,#0058ff,#0050ff,#0049ff,#0041ff,#003aff,#03f,#002dff,#0026ff)"></i>
<i style="background:linear-gradient(90deg,#ffa800,#ffb900,#ffca00,#ffdb00,#ffeb00,#fffc00,#f0ff00,#df0,#caff00,#b7ff00,#a4ff00,#92ff00,#80ff00,#6eff00,#5cff00,#4bff00,#3aff00,#29ff00,#18ff00,#08ff00,#00ff09,#00ff19,#00ff29,#00ff39,#00ff49,#00ff59,#00ff68,#0f7,#00ff86,#00ff94,#00ffa3,#00ffb1,#00ffbf,#00ffcd,#00ffda,#00ffe7,#00fff4,#00fdff,#00f2ff,#00e7ff,#00dcff,#00d2ff,#00c7ff,#00bdff,#00b3ff,#0af,#00a0ff,#0097ff,#008eff,#0085ff,#007cff,#0073ff,#006bff,#0063ff,#005bff,#0053ff,#004cff,#04f,#003dff,#0036ff,#002fff,#0029ff)"></i>
<i style="background:linear-gradient(90deg,#ffa100,#ffb200,#ffc300,#ffd400,#ffe400,#fff500,#f8ff00,#e5ff00,#d1ff00,#bfff00,#acff00,#9aff00,#87ff00,#75ff00,#64ff00,#52ff00,#41ff00,#30ff00,#1fff00,#0eff00,#00ff02,#00ff13,#00ff23,#0f3,#00ff43,#00ff52,#00ff62,#00ff71,#00ff80,#00ff8e,#00ff9d,#00ffab,#00ffb9,#00ffc7,#00ffd5,#00ffe2,#00ffef,#00fffc,#00f6ff,#00ebff,#00e1ff,#00d6ff,#0cf,#00c1ff,#00b7ff,#00adff,#00a4ff,#009aff,#0091ff,#08f,#007fff,#07f,#006eff,#06f,#005eff,#0056ff,#004eff,#0047ff,#0040ff,#0039ff,#0032ff,#002bff)"></i>
<i style="background:linear-gradient(90deg,#ff9a00,#ffab00,#ffbc00,#ffcd00,#fd0,#fe0,#fffe00,#edff00,#d9ff00,#c6ff00,#b4ff00,#a1ff00,#8fff00,#7dff00,#6bff00,#59ff00,#48ff00,#37ff00,#26ff00,#15ff00,#05ff00,#00ff0c,#00ff1c,#00ff2c,#00ff3c,#00ff4c,#00ff5b,#00ff6b,#00ff7a,#00ff89,#00ff97,#00ffa5,#00ffb4,#00ffc1,#00ffcf,#0fd,#00ffea,#00fff7,#00fbff,#00f0ff,#00e5ff,#00daff,#00d0ff,#00c5ff,#0bf,#00b1ff,#00a8ff,#009eff,#0095ff,#008cff,#0083ff,#007aff,#0071ff,#0069ff,#0061ff,#0059ff,#0051ff,#004aff,#0042ff,#003bff,#0034ff,#002eff)"></i>
<i style="background:linear-gradient(90deg,#ff9300,#ffa400,#ffb500,#ffc600,#ffd700,#ffe700,#fff800,#f5ff00,#e1ff00,#ceff00,#bf0,#a9ff00,#96ff00,#84ff00,#72ff00,#61ff00,#4fff00,#3eff00,#2dff00,#1cff00,#0bff00,#00ff05,#00ff16,#00ff26,#00ff36,#00ff46,#0f5,#00ff65,#00ff74,#00ff83,#00ff91,#00ffa0,#00ffae,#00ffbc,#00ffca,#00ffd7,#00ffe5,#00fff2,#00fffe,#00f4ff,#00e9ff,#00deff,#00d4ff,#00c9ff,#00bfff,#00b5ff,#00abff,#00a2ff,#0098ff,#008fff,#0086ff,#007dff,#0075ff,#006cff,#0064ff,#005cff,#0054ff,#004dff,#0045ff,#003eff,#0037ff,#0030ff)"></i>
<i style="background:linear-gradient(90deg,#ff8b00,#ff9d00,#ffae00,#ffbf00,#ffd000,#ffe000,#fff100,#fdff00,#e9ff00,#d6ff00,#c3ff00,#b0ff00,#9eff00,#8cff00,#7aff00,#68ff00,#56ff00,#45ff00,#34ff00,#23ff00,#12ff00,#02ff00,#00ff0f,#00ff1f,#00ff2f,#00ff3f,#00ff4f,#00ff5e,#00ff6e,#00ff7d,#00ff8b,#00ff9a,#00ffa8,#00ffb6,#00ffc4,#00ffd2,#00ffdf,#00ffec,#00fff9,#00f9ff,#0ef,#00e3ff,#00d8ff,#00ceff,#00c3ff,#00b9ff,#00afff,#00a6ff,#009cff,#0093ff,#008aff,#0081ff,#0078ff,#0070ff,#0067ff,#005fff,#0057ff,#004fff,#0048ff,#0041ff,#003aff,#03f)"></i>
<i style="background:linear-gradient(90deg,#ff8400,#ff9500,#ffa700,#ffb800,#ffc900,#ffd900,#ffea00,#fffa00,#f1ff00,#deff00,#cbff00,#b8ff00,#a6ff00,#93ff00,#81ff00,#6fff00,#5eff00,#4cff00,#3bff00,#2aff00,#19ff00,#08ff00,#00ff08,#00ff19,#00ff29,#00ff39,#00ff49,#00ff58,#00ff67,#00ff76,#00ff85,#00ff94,#00ffa2,#00ffb1,#00ffbf,#0fc,#00ffda,#00ffe7,#00fff4,#00fdff,#00f2ff,#00e7ff,#00dcff,#00d2ff,#00c7ff,#00bdff,#00b3ff,#00a9ff,#00a0ff,#0096ff,#008dff,#0084ff,#007bff,#0073ff,#006aff,#0062ff,#005aff,#0052ff,#004bff,#0043ff,#003cff,#0035ff)"></i>
<i style="background:linear-gradient(90deg,#ff7d00,#ff8e00,#ffa000,#ffb100,#ffc200,#ffd200,#ffe300,#fff400,#f9ff00,#e6ff00,#d3ff00,#c0ff00,#adff00,#9bff00,#89ff00,#7f0,#65ff00,#53ff00,#42ff00,#31ff00,#20ff00,#0fff00,#00ff01,#00ff12,#0f2,#00ff32,#00ff42,#00ff52,#00ff61,#00ff70,#00ff7f,#00ff8e,#00ff9d,#00ffab,#00ffb9,#00ffc7,#00ffd4,#00ffe2,#00ffef,#00fffc,#00f6ff,#00ebff,#00e1ff,#00d6ff,#00cbff,#00c1ff,#00b7ff,#00adff,#00a3ff,#009aff,#0091ff,#08f,#007fff,#0076ff,#006eff,#0065ff,#005dff,#05f,#004eff,#0046ff,#003fff,#0038ff)"></i>
<i style="background:linear-gradient(90deg,#ff7500,#ff8700,#ff9800,#fa0,#fb0,#fc0,#ffdc00,#ffed00,#fffd00,#ef0,#dbff00,#c8ff00,#b5ff00,#a2ff00,#90ff00,#7eff00,#6cff00,#5aff00,#49ff00,#38ff00,#27ff00,#16ff00,#05ff00,#00ff0b,#00ff1c,#00ff2c,#00ff3c,#00ff4b,#00ff5b,#00ff6a,#00ff79,#0f8,#00ff97,#00ffa5,#00ffb3,#00ffc1,#00ffcf,#00ffdc,#00ffea,#00fff7,#00fbff,#00f0ff,#00e5ff,#00daff,#00cfff,#00c5ff,#0bf,#00b1ff,#00a7ff,#009eff,#0094ff,#008bff,#0082ff,#0079ff,#0071ff,#0068ff,#0060ff,#0058ff,#0051ff,#0049ff,#0042ff,#003aff)"></i>
<i style="background:linear-gradient(90deg,#ff6e00,#ff8000,#ff9100,#ffa200,#ffb400,#ffc500,#ffd500,#ffe600,#fff600,#f6ff00,#e3ff00,#cfff00,#bdff00,#af0,#98ff00,#85ff00,#73ff00,#62ff00,#50ff00,#3fff00,#2eff00,#1dff00,#0cff00,#00ff04,#00ff15,#00ff25,#00ff35,#00ff45,#0f5,#00ff64,#00ff73,#00ff82,#00ff91,#00ff9f,#00ffae,#00ffbc,#00ffca,#00ffd7,#00ffe4,#00fff2,#0ff,#00f4ff,#00e9ff,#00deff,#00d4ff,#00c9ff,#00bfff,#00b5ff,#00abff,#00a1ff,#0098ff,#008fff,#0086ff,#007dff,#0074ff,#006cff,#0063ff,#005bff,#0053ff,#004cff,#04f,#003dff)"></i>
<i style="background:linear-gradient(90deg,#ff6700,#ff7800,#ff8a00,#ff9b00,#ffad00,#ffbe00,#ffce00,#ffdf00,#fff000,#feff00,#eaff00,#d7ff00,#c4ff00,#b2ff00,#9fff00,#8dff00,#7bff00,#69ff00,#57ff00,#46ff00,#35ff00,#24ff00,#13ff00,#02ff00,#00ff0e,#00ff1f,#00ff2f,#00ff3f,#00ff4e,#00ff5e,#00ff6d,#00ff7c,#00ff8b,#00ff9a,#00ffa8,#00ffb6,#00ffc4,#00ffd2,#00ffdf,#00ffec,#00fff9,#00f9ff,#00edff,#00e3ff,#00d8ff,#00cdff,#00c3ff,#00b9ff,#00afff,#00a5ff,#009cff,#0092ff,#0089ff,#0080ff,#07f,#006fff,#06f,#005eff,#0056ff,#004fff,#0047ff,#0040ff)"></i>
<i style="background:linear-gradient(90deg,#ff5f00,#ff7100,#ff8300,#ff9400,#ffa500,#ffb700,#ffc700,#ffd800,#ffe900,#fff900,#f2ff00,#dfff00,#cf0,#b9ff00,#a7ff00,#94ff00,#82ff00,#70ff00,#5eff00,#4dff00,#3cff00,#2bff00,#1aff00,#09ff00,#00ff07,#00ff18,#00ff28,#00ff38,#00ff48,#00ff58,#00ff67,#00ff76,#00ff85,#00ff94,#00ffa2,#00ffb0,#00ffbe,#0fc,#00ffda,#00ffe7,#00fff4,#00fdff,#00f2ff,#00e7ff,#00dcff,#00d1ff,#00c7ff,#00bdff,#00b3ff,#00a9ff,#009fff,#0096ff,#008dff,#0084ff,#007bff,#0072ff,#006aff,#0061ff,#0059ff,#0052ff,#004aff,#0042ff)"></i>
<i style="background:linear-gradient(90deg,#ff5800,#ff6a00,#ff7b00,#ff8d00,#ff9e00,#ffaf00,#ffc100,#ffd100,#ffe200,#fff200,#faff00,#e7ff00,#d4ff00,#c1ff00,#aeff00,#9cff00,#8aff00,#7f0,#6f0,#54ff00,#43ff00,#31ff00,#21ff00,#10ff00,#00ff01,#0f1,#0f2,#00ff32,#00ff42,#00ff51,#00ff61,#00ff70,#00ff7f,#00ff8e,#00ff9c,#00ffab,#00ffb9,#00ffc7,#00ffd4,#00ffe2,#00ffef,#00fffc,#00f6ff,#00ebff,#00e0ff,#00d6ff,#00cbff,#00c1ff,#00b7ff,#00adff,#00a3ff,#09f,#0090ff,#0087ff,#007eff,#0075ff,#006dff,#0064ff,#005cff,#0054ff,#004dff,#0045ff)"></i>
<i style="background:linear-gradient(90deg,#ff5000,#ff6200,#ff7400,#ff8600,#ff9700,#ffa800,#ffba00,#ffca00,#ffdb00,#ffec00,#fffc00,#efff00,#dcff00,#c9ff00,#b6ff00,#a3ff00,#91ff00,#7fff00,#6dff00,#5bff00,#4aff00,#38ff00,#27ff00,#17ff00,#06ff00,#00ff0b,#00ff1b,#00ff2b,#00ff3b,#00ff4b,#00ff5b,#00ff6a,#00ff79,#0f8,#00ff97,#00ffa5,#00ffb3,#00ffc1,#00ffcf,#0fd,#00ffea,#00fff7,#00fbff,#00efff,#00e4ff,#00daff,#00cfff,#00c5ff,#00baff,#00b0ff,#00a7ff,#009dff,#0094ff,#008aff,#0081ff,#0079ff,#0070ff,#0068ff,#005fff,#0057ff,#0050ff,#0048ff)"></i>
<i style="background:linear-gradient(90deg,#ff4900,#ff5b00,#ff6d00,#ff7e00,#ff9000,#ffa100,#ffb200,#ffc300,#ffd400,#ffe500,#fff500,#f7ff00,#e4ff00,#d1ff00,#beff00,#abff00,#98ff00,#86ff00,#74ff00,#62ff00,#51ff00,#3fff00,#2eff00,#1dff00,#0dff00,#00ff04,#00ff14,#00ff25,#00ff35,#00ff45,#00ff54,#00ff64,#00ff73,#00ff82,#00ff91,#00ff9f,#00ffae,#00ffbc,#00ffca,#00ffd7,#00ffe5,#00fff2,#0ff,#00f4ff,#00e9ff,#00deff,#00d3ff,#00c9ff,#00beff,#00b4ff,#0af,#00a1ff,#0097ff,#008eff,#0085ff,#007cff,#0073ff,#006bff,#0062ff,#005aff,#0052ff,#004bff)"></i>
<i style="background:linear-gradient(90deg,#ff4100,#ff5300,#ff6500,#f70,#ff8900,#ff9a00,#ffab00,#ffbd00,#ffcd00,#ffde00,#ffef00,#ff0,#ecff00,#d8ff00,#c5ff00,#b3ff00,#a0ff00,#8eff00,#7cff00,#6aff00,#58ff00,#46ff00,#35ff00,#24ff00,#13ff00,#03ff00,#00ff0e,#00ff1e,#00ff2e,#00ff3e,#00ff4e,#00ff5e,#00ff6d,#00ff7c,#00ff8b,#00ff9a,#00ffa8,#00ffb6,#00ffc4,#00ffd2,#00ffdf,#00ffed,#00fffa,#00f8ff,#00edff,#00e2ff,#00d7ff,#00cdff,#00c2ff,#00b8ff,#00aeff,#00a4ff,#009bff,#0092ff,#08f,#007fff,#07f,#006eff,#06f,#005dff,#05f,#004eff)"></i>
<i style="background:linear-gradient(90deg,#ff3a00,#ff4c00,#ff5e00,#ff7000,#ff8100,#ff9300,#ffa400,#ffb600,#ffc600,#ffd700,#ffe800,#fff800,#f3ff00,#e0ff00,#cdff00,#baff00,#a8ff00,#95ff00,#83ff00,#71ff00,#5fff00,#4eff00,#3cff00,#2bff00,#1aff00,#0aff00,#00ff07,#00ff18,#00ff28,#00ff38,#00ff48,#00ff57,#00ff67,#00ff76,#00ff85,#00ff94,#00ffa2,#00ffb1,#00ffbf,#0fc,#00ffda,#00ffe7,#00fff5,#00fdff,#00f1ff,#00e6ff,#00dcff,#00d1ff,#00c6ff,#00bcff,#00b2ff,#00a8ff,#009fff,#0095ff,#008cff,#0083ff,#007aff,#0071ff,#0069ff,#0060ff,#0058ff,#0050ff)"></i>
<i style="background:linear-gradient(90deg,#ff3200,#f40,#ff5600,#ff6800,#ff7a00,#ff8c00,#ff9d00,#ffae00,#ffc000,#ffd000,#ffe100,#fff200,#fbff00,#e8ff00,#d5ff00,#c2ff00,#afff00,#9dff00,#8aff00,#78ff00,#6f0,#5f0,#43ff00,#32ff00,#21ff00,#10ff00,#0f0,#0f1,#00ff21,#00ff32,#00ff42,#00ff51,#00ff61,#00ff70,#00ff7f,#00ff8e,#00ff9d,#00ffab,#00ffb9,#00ffc7,#00ffd5,#00ffe2,#00ffef,#00fffd,#00f6ff,#00ebff,#00e0ff,#00d5ff,#00caff,#00c0ff,#00b6ff,#00acff,#00a2ff,#09f,#008fff,#0086ff,#007dff,#0074ff,#006cff,#0063ff,#005bff,#0053ff)"></i>
<i style="background:linear-gradient(90deg,#ff2a00,#ff3d00,#ff4f00,#ff6100,#ff7300,#ff8500,#ff9600,#ffa700,#ffb900,#ffca00,#ffda00,#ffeb00,#fffb00,#f0ff00,#df0,#caff00,#b7ff00,#a4ff00,#92ff00,#7fff00,#6eff00,#5cff00,#4aff00,#39ff00,#28ff00,#17ff00,#06ff00,#00ff0a,#00ff1b,#00ff2b,#00ff3b,#00ff4b,#00ff5b,#00ff6a,#00ff79,#0f8,#00ff97,#00ffa5,#00ffb4,#00ffc2,#00ffcf,#0fd,#00ffea,#00fff7,#00faff,#00efff,#00e4ff,#00d9ff,#00cfff,#00c4ff,#00baff,#00b0ff,#00a6ff,#009cff,#0093ff,#008aff,#0081ff,#0078ff,#006fff,#0067ff,#005eff,#0056ff)"></i>
<i style="background:linear-gradient(90deg,#ff2300,#ff3500,#ff4700,#ff5a00,#ff6c00,#ff7d00,#ff8f00,#ffa000,#ffb200,#ffc300,#ffd300,#ffe400,#fff500,#f8ff00,#e5ff00,#d1ff00,#beff00,#acff00,#9f0,#87ff00,#75ff00,#63ff00,#51ff00,#40ff00,#2fff00,#1eff00,#0dff00,#00ff04,#00ff14,#00ff25,#00ff35,#00ff45,#00ff54,#00ff64,#00ff73,#00ff82,#00ff91,#00ffa0,#00ffae,#00ffbc,#00ffca,#00ffd8,#00ffe5,#00fff2,#0ff,#00f3ff,#00e8ff,#0df,#00d3ff,#00c8ff,#00beff,#00b4ff,#0af,#00a0ff,#0096ff,#008dff,#0084ff,#007bff,#0072ff,#006aff,#0061ff,#0059ff)"></i>
<i style="background:linear-gradient(90deg,#ff1b00,#ff2e00,#ff4000,#ff5200,#ff6400,#ff7600,#f80,#f90,#fa0,#ffbc00,#ffcd00,#fd0,#fe0,#fffe00,#ecff00,#d9ff00,#c6ff00,#b3ff00,#a1ff00,#8eff00,#7cff00,#6aff00,#58ff00,#47ff00,#36ff00,#25ff00,#14ff00,#03ff00,#00ff0e,#00ff1e,#00ff2e,#00ff3e,#00ff4e,#00ff5e,#00ff6d,#00ff7c,#00ff8b,#00ff9a,#00ffa8,#00ffb6,#00ffc4,#00ffd2,#00ffe0,#00ffed,#00fffa,#00f8ff,#00edff,#00e2ff,#00d7ff,#0cf,#00c2ff,#00b7ff,#00adff,#00a4ff,#009aff,#0091ff,#0087ff,#007eff,#0076ff,#006dff,#0064ff,#005cff)"></i>
<i style="background:linear-gradient(90deg,#ff1300,#ff2600,#ff3800,#ff4b00,#ff5d00,#ff6f00,#ff8000,#ff9200,#ffa300,#ffb500,#ffc600,#ffd600,#ffe700,#fff800,#f4ff00,#e1ff00,#ceff00,#bf0,#a8ff00,#96ff00,#83ff00,#71ff00,#60ff00,#4eff00,#3dff00,#2bff00,#1aff00,#0aff00,#00ff07,#00ff17,#00ff28,#00ff38,#00ff48,#00ff58,#00ff67,#00ff76,#00ff85,#00ff94,#00ffa3,#00ffb1,#00ffbf,#00ffcd,#00ffdb,#00ffe8,#00fff5,#00fcff,#00f1ff,#00e6ff,#00dbff,#00d0ff,#00c6ff,#0bf,#00b1ff,#00a7ff,#009eff,#0094ff,#008bff,#0082ff,#0079ff,#0070ff,#0068ff,#005fff)"></i>
<i style="background:linear-gradient(90deg,#ff0b00,#ff1e00,#ff3100,#ff4300,#f50,#ff6700,#ff7900,#ff8b00,#ff9c00,#ffae00,#ffbf00,#ffd000,#ffe000,#fff100,#fcff00,#e9ff00,#d6ff00,#c3ff00,#b0ff00,#9dff00,#8bff00,#79ff00,#67ff00,#5f0,#4f0,#32ff00,#21ff00,#10ff00,#0f0,#0f1,#00ff21,#00ff32,#00ff42,#00ff51,#00ff61,#00ff70,#00ff7f,#00ff8e,#00ff9d,#00ffab,#00ffb9,#00ffc7,#00ffd5,#00ffe3,#00fff0,#00fffd,#00f5ff,#00eaff,#00dfff,#00d4ff,#00caff,#00bfff,#00b5ff,#00abff,#00a1ff,#0098ff,#008eff,#0085ff,#007cff,#0073ff,#006bff,#0062ff)"></i>
<i style="background:linear-gradient(90deg,#ff0400,#ff1700,#ff2900,#ff3c00,#ff4e00,#ff6000,#ff7200,#ff8400,#ff9500,#ffa700,#ffb800,#ffc900,#ffda00,#ffea00,#fffb00,#f1ff00,#df0,#caff00,#b7ff00,#a5ff00,#92ff00,#80ff00,#6eff00,#5cff00,#4bff00,#39ff00,#28ff00,#17ff00,#06ff00,#00ff0a,#00ff1b,#00ff2b,#00ff3b,#00ff4b,#00ff5b,#00ff6a,#00ff79,#0f8,#00ff97,#00ffa6,#00ffb4,#00ffc2,#00ffd0,#0fd,#00ffeb,#00fff8,#00faff,#0ef,#00e3ff,#00d8ff,#00ceff,#00c3ff,#00b9ff,#00afff,#00a5ff,#009bff,#0092ff,#0089ff,#007fff,#07f,#006eff,#0065ff)"></i>
<i style="background:linear-gradient(90deg,#f00,#ff0f00,#f20,#ff3400,#ff4600,#ff5900,#ff6b00,#ff7c00,#ff8e00,#ff9f00,#ffb100,#ffc200,#ffd300,#ffe300,#fff400,#f9ff00,#e5ff00,#d2ff00,#bfff00,#acff00,#9aff00,#87ff00,#75ff00,#63ff00,#52ff00,#40ff00,#2fff00,#1eff00,#0dff00,#00ff04,#00ff14,#00ff25,#00ff35,#00ff45,#0f5,#00ff64,#00ff73,#00ff82,#00ff91,#00ffa0,#00ffae,#00ffbc,#00ffca,#00ffd8,#00ffe6,#00fff3,#00feff,#00f3ff,#00e8ff,#0df,#00d2ff,#00c7ff,#00bdff,#00b3ff,#00a9ff,#009fff,#0095ff,#008cff,#0083ff,#007aff,#0071ff,#0068ff)"></i>
<i style="background:linear-gradient(90deg,#f00,#ff0700,#ff1a00,#ff2d00,#ff3f00,#ff5100,#ff6300,#ff7500,#ff8700,#ff9800,#fa0,#fb0,#fc0,#fd0,#ffed00,#fffe00,#edff00,#daff00,#c7ff00,#b4ff00,#a1ff00,#8fff00,#7cff00,#6aff00,#59ff00,#47ff00,#36ff00,#25ff00,#14ff00,#03ff00,#00ff0e,#00ff1e,#00ff2e,#00ff3e,#00ff4e,#00ff5e,#00ff6d,#00ff7c,#00ff8b,#00ff9a,#00ffa9,#00ffb7,#00ffc5,#00ffd3,#00ffe0,#0fe,#00fffb,#00f7ff,#00ecff,#00e1ff,#00d6ff,#00cbff,#00c1ff,#00b7ff,#00acff,#00a3ff,#09f,#0090ff,#0086ff,#007dff,#0074ff,#006cff)"></i>
<i style="background:linear-gradient(90deg,#f00,#f00,#ff1200,#ff2500,#ff3700,#ff4a00,#ff5c00,#ff6e00,#ff8000,#ff9100,#ffa300,#ffb400,#ffc500,#ffd600,#ffe700,#fff700,#f5ff00,#e2ff00,#ceff00,#bf0,#a9ff00,#96ff00,#84ff00,#72ff00,#60ff00,#4eff00,#3dff00,#2cff00,#1bff00,#0aff00,#00ff07,#00ff18,#00ff28,#00ff38,#00ff48,#00ff58,#00ff67,#0f7,#00ff86,#00ff94,#00ffa3,#00ffb1,#00ffc0,#00ffcd,#00ffdb,#00ffe9,#00fff6,#00fbff,#00f0ff,#00e5ff,#00daff,#00cfff,#00c5ff,#00baff,#00b0ff,#00a6ff,#009dff,#0093ff,#008aff,#0081ff,#0078ff,#006fff)"></i>
</div>
<div class="m" style="left:401px;top:769px;width:273px;height:276px">
<i style="background:linear-gradient(90deg,#00b1ff,#00b0ff,#00b0ff,#00b0ff,#00b0ff,#00b0ff,#00b1ff,#00b2ff,#00b3ff,#00b5ff,#00b7ff,#00b9ff,#00bcff,#00bfff,#00c2ff,#00c6ff,#00c9ff,#00ceff,#00d2ff,#00d7ff,#00dcff,#00e1ff,#00e7ff,#00edff,#00f4ff,#00faff,#00fffc,#00fff4,#00ffeb,#00ffe2,#00ffd9,#00ffcf,#00ffc5,#00ffba,#00ffaf,#00ffa4,#00ff98,#00ff8c,#00ff80,#00ff73,#0f6,#00ff58,#00ff4b,#00ff3d,#00ff2e,#00ff1f,#00ff10,#0f0,#0aff00,#15ff00,#1fff00,#2bff00,#36ff00,#41ff00,#4dff00,#59ff00,#65ff00,#71ff00,#7eff00,#8bff00,#98ff00,#a5ff00)"></i>
<i style="background:linear-gradient(90deg,#00b4ff,#00b3ff,#00b3ff,#00b2ff,#00b2ff,#00b3ff,#00b3ff,#00b4ff,#00b6ff,#00b7ff,#00b9ff,#0bf,#00beff,#00c1ff,#00c4ff,#00c7ff,#00cbff,#00cfff,#00d4ff,#00d9ff,#00deff,#00e3ff,#00e9ff,#00efff,#00f5ff,#00fcff,#00fffb,#00fff3,#00ffea,#00ffe1,#00ffd8,#00ffce,#00ffc4,#00ffb9,#00ffae,#00ffa3,#00ff98,#00ff8c,#00ff7f,#00ff73,#0f6,#00ff58,#00ff4b,#00ff3c,#00ff2e,#00ff1f,#00ff10,#0f0,#0aff00,#14ff00,#1fff00,#2aff00,#35ff00,#41ff00,#4cff00,#58ff00,#64ff00,#71ff00,#7dff00,#8aff00,#97ff00,#a5ff00)"></i>
<i style="background:linear-gradient(90deg,#00b7ff,#00b6ff,#00b5ff,#00b5ff,#00b5ff,#00b5ff,#00b6ff,#00b7ff,#00b8ff,#00baff,#0bf,#00beff,#00c0ff,#00c3ff,#00c6ff,#00c9ff,#00cdff,#00d1ff,#00d6ff,#00daff,#00dfff,#00e4ff,#00eaff,#00f0ff,#00f6ff,#00fdff,#00fffa,#00fff1,#00ffe9,#00ffe0,#00ffd7,#00ffcd,#00ffc3,#00ffb8,#00ffae,#00ffa2,#00ff97,#00ff8b,#00ff7f,#00ff72,#00ff65,#00ff58,#00ff4a,#00ff3c,#00ff2e,#00ff1f,#00ff10,#00ff01,#0aff00,#14ff00,#1fff00,#2aff00,#35ff00,#40ff00,#4cff00,#58ff00,#64ff00,#70ff00,#7dff00,#89ff00,#96ff00,#a4ff00)"></i>
<i style="background:linear-gradient(90deg,#00baff,#00b9ff,#00b8ff,#00b8ff,#00b8ff,#00b8ff,#00b8ff,#00b9ff,#00baff,#00bcff,#00beff,#00c0ff,#00c2ff,#00c5ff,#00c8ff,#00cbff,#00cfff,#00d3ff,#00d7ff,#00dcff,#00e1ff,#00e6ff,#00ebff,#00f1ff,#00f8ff,#00feff,#00fff8,#00fff0,#00ffe8,#00ffdf,#00ffd5,#0fc,#00ffc2,#00ffb8,#00ffad,#00ffa2,#00ff96,#00ff8b,#00ff7e,#00ff72,#00ff65,#00ff58,#00ff4a,#00ff3c,#00ff2e,#00ff1f,#00ff10,#00ff01,#09ff00,#14ff00,#1fff00,#29ff00,#34ff00,#40ff00,#4bff00,#57ff00,#63ff00,#6fff00,#7cff00,#89ff00,#96ff00,#a3ff00)"></i>
<i style="background:linear-gradient(90deg,#00bdff,#00bcff,#0bf,#00baff,#00baff,#00baff,#0bf,#00bcff,#00bdff,#00beff,#00c0ff,#00c2ff,#00c4ff,#00c7ff,#00caff,#00cdff,#00d1ff,#00d5ff,#00d9ff,#0df,#00e2ff,#00e7ff,#00edff,#00f3ff,#00f9ff,#0ff,#00fff7,#00ffef,#00ffe6,#00ffde,#00ffd4,#00ffcb,#00ffc1,#00ffb7,#00ffac,#00ffa1,#00ff96,#00ff8a,#00ff7e,#00ff72,#00ff65,#00ff58,#00ff4a,#00ff3c,#00ff2e,#00ff20,#0f1,#00ff01,#09ff00,#14ff00,#1eff00,#29ff00,#34ff00,#3fff00,#4bff00,#57ff00,#63ff00,#6fff00,#7bff00,#8f0,#95ff00,#a2ff00)"></i>
<i style="background:linear-gradient(90deg,#00c0ff,#00beff,#00beff,#00bdff,#00bdff,#00bdff,#00bdff,#00beff,#00bfff,#00c0ff,#00c2ff,#00c4ff,#00c6ff,#00c9ff,#0cf,#00cfff,#00d3ff,#00d6ff,#00dbff,#00dfff,#00e4ff,#00e9ff,#0ef,#00f4ff,#00faff,#00fffd,#00fff6,#0fe,#00ffe5,#0fd,#00ffd4,#00ffca,#00ffc0,#00ffb6,#00ffac,#00ffa1,#00ff95,#00ff8a,#00ff7e,#00ff71,#00ff65,#00ff58,#00ff4a,#00ff3c,#00ff2e,#00ff20,#0f1,#00ff02,#09ff00,#13ff00,#1eff00,#29ff00,#34ff00,#3fff00,#4aff00,#56ff00,#62ff00,#6eff00,#7aff00,#87ff00,#94ff00,#a1ff00)"></i>
<i style="background:linear-gradient(90deg,#00c2ff,#00c1ff,#00c0ff,#00c0ff,#00bfff,#00bfff,#00c0ff,#00c0ff,#00c1ff,#00c3ff,#00c4ff,#00c6ff,#00c8ff,#00cbff,#00ceff,#00d1ff,#00d4ff,#00d8ff,#00dcff,#00e1ff,#00e5ff,#00eaff,#00f0ff,#00f5ff,#00fbff,#00fffc,#00fff5,#00ffed,#00ffe4,#00ffdc,#00ffd3,#00ffc9,#00ffbf,#00ffb5,#00ffab,#00ffa0,#00ff95,#00ff89,#00ff7d,#00ff71,#00ff65,#00ff58,#00ff4a,#00ff3c,#00ff2e,#00ff20,#0f1,#00ff02,#09ff00,#13ff00,#1dff00,#28ff00,#3f0,#3eff00,#4aff00,#5f0,#61ff00,#6dff00,#7aff00,#86ff00,#93ff00,#a0ff00)"></i>
<i style="background:linear-gradient(90deg,#00c5ff,#00c4ff,#00c3ff,#00c2ff,#00c2ff,#00c2ff,#00c2ff,#00c3ff,#00c4ff,#00c5ff,#00c6ff,#00c8ff,#00caff,#00cdff,#00d0ff,#00d3ff,#00d6ff,#00daff,#00deff,#00e2ff,#00e7ff,#00ecff,#00f1ff,#00f7ff,#00fcff,#00fffb,#00fff3,#00ffeb,#00ffe3,#00ffdb,#00ffd2,#00ffc8,#00ffbf,#00ffb5,#0fa,#00ffa0,#00ff94,#00ff89,#00ff7d,#00ff71,#00ff64,#00ff57,#00ff4a,#00ff3d,#00ff2f,#00ff20,#00ff12,#00ff02,#08ff00,#13ff00,#1dff00,#28ff00,#3f0,#3eff00,#49ff00,#5f0,#60ff00,#6dff00,#79ff00,#85ff00,#92ff00,#9fff00)"></i>
<i style="background:linear-gradient(90deg,#00c8ff,#00c7ff,#00c6ff,#00c5ff,#00c4ff,#00c4ff,#00c4ff,#00c5ff,#00c6ff,#00c7ff,#00c8ff,#00caff,#0cf,#00cfff,#00d1ff,#00d4ff,#00d8ff,#00dbff,#00dfff,#00e4ff,#00e8ff,#00edff,#00f2ff,#00f8ff,#00feff,#00fffa,#00fff2,#00ffea,#00ffe2,#00ffda,#00ffd1,#00ffc8,#00ffbe,#00ffb4,#0fa,#00ff9f,#00ff94,#00ff89,#00ff7d,#00ff71,#00ff64,#00ff57,#00ff4a,#00ff3d,#00ff2f,#00ff21,#00ff12,#00ff03,#08ff00,#12ff00,#1dff00,#27ff00,#32ff00,#3dff00,#48ff00,#54ff00,#60ff00,#6cff00,#78ff00,#84ff00,#91ff00,#9eff00)"></i>
<i style="background:linear-gradient(90deg,#00cbff,#00c9ff,#00c8ff,#00c7ff,#00c7ff,#00c7ff,#00c7ff,#00c7ff,#00c8ff,#00c9ff,#00cbff,#0cf,#00ceff,#00d1ff,#00d3ff,#00d6ff,#00d9ff,#0df,#00e1ff,#00e5ff,#00eaff,#0ef,#00f4ff,#00f9ff,#0ff,#00fff8,#00fff1,#00ffe9,#00ffe1,#00ffd9,#00ffd0,#00ffc7,#00ffbd,#00ffb3,#00ffa9,#00ff9f,#00ff94,#0f8,#00ff7d,#00ff71,#00ff64,#00ff57,#00ff4a,#00ff3d,#00ff2f,#00ff21,#00ff12,#00ff03,#08ff00,#12ff00,#1cff00,#27ff00,#31ff00,#3dff00,#48ff00,#53ff00,#5fff00,#6bff00,#7f0,#84ff00,#90ff00,#9dff00)"></i>
<i style="background:linear-gradient(90deg,#00cdff,#0cf,#00cbff,#00caff,#00c9ff,#00c9ff,#00c9ff,#00caff,#00caff,#00cbff,#00cdff,#00ceff,#00d0ff,#00d2ff,#00d5ff,#00d8ff,#00dbff,#00dfff,#00e2ff,#00e6ff,#00ebff,#00f0ff,#00f5ff,#00faff,#00fffe,#00fff7,#00fff0,#00ffe8,#00ffe0,#00ffd8,#00ffcf,#00ffc6,#00ffbd,#00ffb3,#00ffa9,#00ff9e,#00ff93,#0f8,#00ff7c,#00ff70,#00ff64,#00ff57,#00ff4a,#00ff3d,#00ff2f,#00ff21,#00ff13,#00ff04,#07ff00,#1f0,#1cff00,#26ff00,#31ff00,#3cff00,#47ff00,#53ff00,#5eff00,#6aff00,#76ff00,#83ff00,#8fff00,#9cff00)"></i>
<i style="background:linear-gradient(90deg,#00d0ff,#00cfff,#00cdff,#0cf,#0cf,#00cbff,#00cbff,#0cf,#0cf,#00cdff,#00cfff,#00d0ff,#00d2ff,#00d4ff,#00d7ff,#00daff,#0df,#00e0ff,#00e4ff,#00e8ff,#00ecff,#00f1ff,#00f6ff,#00fbff,#00fffd,#00fff6,#00ffef,#00ffe7,#00ffdf,#00ffd7,#00ffce,#00ffc5,#00ffbc,#00ffb2,#00ffa8,#00ff9e,#00ff93,#0f8,#00ff7c,#00ff70,#00ff64,#00ff58,#00ff4b,#00ff3d,#00ff30,#0f2,#00ff13,#00ff04,#07ff00,#1f0,#1bff00,#26ff00,#30ff00,#3bff00,#46ff00,#52ff00,#5dff00,#69ff00,#75ff00,#82ff00,#8eff00,#9bff00)"></i>
<i style="background:linear-gradient(90deg,#00d3ff,#00d1ff,#00d0ff,#00cfff,#00ceff,#00ceff,#00ceff,#00ceff,#00cfff,#00cfff,#00d1ff,#00d2ff,#00d4ff,#00d6ff,#00d8ff,#00dbff,#00deff,#00e2ff,#00e5ff,#00e9ff,#0ef,#00f2ff,#00f7ff,#00fcff,#00fffc,#00fff5,#0fe,#00ffe6,#00ffde,#00ffd6,#00ffce,#00ffc5,#0fb,#00ffb2,#00ffa8,#00ff9d,#00ff93,#0f8,#00ff7c,#00ff70,#00ff64,#00ff58,#00ff4b,#00ff3d,#00ff30,#0f2,#00ff14,#00ff05,#07ff00,#10ff00,#1bff00,#25ff00,#30ff00,#3bff00,#46ff00,#51ff00,#5dff00,#68ff00,#75ff00,#81ff00,#8dff00,#9aff00)"></i>
<i style="background:linear-gradient(90deg,#00d5ff,#00d4ff,#00d2ff,#00d1ff,#00d1ff,#00d0ff,#00d0ff,#00d0ff,#00d1ff,#00d1ff,#00d3ff,#00d4ff,#00d6ff,#00d8ff,#00daff,#0df,#00e0ff,#00e3ff,#00e7ff,#00ebff,#00efff,#00f4ff,#00f8ff,#00feff,#00fffa,#00fff4,#00ffed,#00ffe5,#0fd,#00ffd5,#00ffcd,#00ffc4,#0fb,#00ffb1,#00ffa7,#00ff9d,#00ff92,#00ff87,#00ff7c,#00ff70,#00ff64,#00ff58,#00ff4b,#00ff3e,#00ff30,#0f2,#00ff14,#00ff05,#06ff00,#10ff00,#1aff00,#25ff00,#2fff00,#3aff00,#45ff00,#50ff00,#5cff00,#68ff00,#74ff00,#80ff00,#8cff00,#9f0)"></i>
<i style="background:linear-gradient(90deg,#00d8ff,#00d6ff,#00d5ff,#00d4ff,#00d3ff,#00d2ff,#00d2ff,#00d2ff,#00d3ff,#00d3ff,#00d5ff,#00d6ff,#00d8ff,#00daff,#00dcff,#00deff,#00e1ff,#00e5ff,#00e8ff,#00ecff,#00f0ff,#00f5ff,#00faff,#0ff,#00fff9,#00fff3,#00ffec,#00ffe4,#0fd,#00ffd5,#0fc,#00ffc3,#00ffba,#00ffb1,#00ffa7,#00ff9d,#00ff92,#00ff87,#00ff7c,#00ff70,#00ff64,#00ff58,#00ff4b,#00ff3e,#00ff31,#00ff23,#00ff15,#00ff06,#06ff00,#10ff00,#1aff00,#24ff00,#2eff00,#39ff00,#4f0,#50ff00,#5bff00,#67ff00,#73ff00,#7fff00,#8bff00,#98ff00)"></i>
<i style="background:linear-gradient(90deg,#00dbff,#00d9ff,#00d7ff,#00d6ff,#00d5ff,#00d5ff,#00d4ff,#00d4ff,#00d5ff,#00d5ff,#00d6ff,#00d8ff,#00d9ff,#00dbff,#00deff,#00e0ff,#00e3ff,#00e6ff,#00eaff,#00edff,#00f2ff,#00f6ff,#00fbff,#00fffe,#00fff8,#00fff1,#00ffeb,#00ffe3,#00ffdc,#00ffd4,#00ffcb,#00ffc3,#00ffba,#00ffb0,#00ffa6,#00ff9c,#00ff92,#00ff87,#00ff7c,#00ff70,#00ff64,#00ff58,#00ff4b,#00ff3e,#00ff31,#00ff23,#00ff15,#00ff07,#05ff00,#0fff00,#19ff00,#23ff00,#2eff00,#39ff00,#4f0,#4fff00,#5aff00,#6f0,#72ff00,#7eff00,#8aff00,#97ff00)"></i>
<i style="background:linear-gradient(90deg,#0df,#00dbff,#00daff,#00d9ff,#00d8ff,#00d7ff,#00d7ff,#00d7ff,#00d7ff,#00d7ff,#00d8ff,#00daff,#00dbff,#0df,#00dfff,#00e2ff,#00e4ff,#00e8ff,#00ebff,#00efff,#00f3ff,#00f7ff,#00fcff,#00fffd,#00fff7,#00fff0,#00ffea,#00ffe2,#00ffdb,#00ffd3,#00ffcb,#00ffc2,#00ffb9,#00ffb0,#00ffa6,#00ff9c,#00ff92,#00ff87,#00ff7c,#00ff70,#00ff64,#00ff58,#00ff4c,#00ff3f,#00ff31,#00ff24,#00ff16,#00ff07,#05ff00,#0fff00,#18ff00,#23ff00,#2dff00,#38ff00,#43ff00,#4eff00,#59ff00,#65ff00,#71ff00,#7dff00,#89ff00,#96ff00)"></i>
<i style="background:linear-gradient(90deg,#00e0ff,#00deff,#00dcff,#00dbff,#00daff,#00d9ff,#00d9ff,#00d9ff,#00d9ff,#00d9ff,#00daff,#00dbff,#0df,#00dfff,#00e1ff,#00e3ff,#00e6ff,#00e9ff,#00ecff,#00f0ff,#00f4ff,#00f8ff,#00fdff,#00fffc,#00fff6,#00ffef,#00ffe9,#00ffe2,#00ffda,#00ffd2,#00ffca,#00ffc2,#00ffb9,#00ffaf,#00ffa6,#00ff9c,#00ff92,#00ff87,#00ff7c,#00ff70,#00ff65,#00ff58,#00ff4c,#00ff3f,#00ff32,#00ff24,#00ff16,#00ff08,#04ff00,#0eff00,#18ff00,#2f0,#2cff00,#37ff00,#42ff00,#4dff00,#58ff00,#64ff00,#70ff00,#7cff00,#8f0,#95ff00)"></i>
<i style="background:linear-gradient(90deg,#00e2ff,#00e0ff,#00dfff,#0df,#00dcff,#00dbff,#00dbff,#00dbff,#00dbff,#00dbff,#00dcff,#0df,#00dfff,#00e0ff,#00e2ff,#00e5ff,#00e7ff,#00eaff,#0ef,#00f1ff,#00f5ff,#00f9ff,#00feff,#00fffb,#00fff5,#0fe,#00ffe8,#00ffe1,#00ffd9,#00ffd2,#00ffca,#00ffc1,#00ffb8,#00ffaf,#00ffa6,#00ff9c,#00ff91,#00ff87,#00ff7c,#00ff70,#00ff65,#00ff59,#00ff4c,#00ff3f,#00ff32,#00ff25,#00ff17,#00ff09,#04ff00,#0dff00,#17ff00,#21ff00,#2cff00,#36ff00,#41ff00,#4cff00,#57ff00,#63ff00,#6fff00,#7bff00,#87ff00,#93ff00)"></i>
<i style="background:linear-gradient(90deg,#00e5ff,#00e3ff,#00e1ff,#00e0ff,#00deff,#00deff,#0df,#0df,#0df,#0df,#00deff,#00dfff,#00e0ff,#00e2ff,#00e4ff,#00e6ff,#00e9ff,#00ecff,#00efff,#00f2ff,#00f6ff,#00faff,#0ff,#00fffa,#00fff4,#00ffed,#00ffe7,#00ffe0,#00ffd9,#00ffd1,#00ffc9,#00ffc1,#00ffb8,#00ffaf,#00ffa5,#00ff9b,#00ff91,#00ff87,#00ff7c,#00ff71,#00ff65,#00ff59,#00ff4d,#00ff40,#0f3,#00ff25,#00ff18,#00ff0a,#03ff00,#0dff00,#17ff00,#21ff00,#2bff00,#36ff00,#40ff00,#4bff00,#57ff00,#62ff00,#6eff00,#7aff00,#86ff00,#92ff00)"></i>
<i style="background:linear-gradient(90deg,#00e7ff,#00e5ff,#00e3ff,#00e2ff,#00e1ff,#00e0ff,#00dfff,#00dfff,#00dfff,#00dfff,#00e0ff,#00e1ff,#00e2ff,#00e4ff,#00e6ff,#00e8ff,#00eaff,#00edff,#00f0ff,#00f4ff,#00f7ff,#00fcff,#00fffe,#00fff8,#00fff3,#00ffed,#00ffe6,#00ffdf,#00ffd8,#00ffd0,#00ffc8,#00ffc0,#00ffb7,#00ffae,#00ffa5,#00ff9b,#00ff91,#00ff87,#00ff7c,#00ff71,#00ff65,#00ff59,#00ff4d,#00ff40,#0f3,#00ff26,#00ff18,#00ff0a,#03ff00,#0cff00,#16ff00,#20ff00,#2aff00,#35ff00,#3fff00,#4aff00,#56ff00,#61ff00,#6dff00,#79ff00,#85ff00,#91ff00)"></i>
<i style="background:linear-gradient(90deg,#00eaff,#00e8ff,#00e6ff,#00e4ff,#00e3ff,#00e2ff,#00e1ff,#00e1ff,#00e1ff,#00e1ff,#00e2ff,#00e2ff,#00e4ff,#00e5ff,#00e7ff,#00e9ff,#00ecff,#0ef,#00f1ff,#00f5ff,#00f9ff,#00fdff,#00fffd,#00fff7,#00fff2,#00ffec,#00ffe5,#00ffde,#00ffd7,#00ffd0,#00ffc8,#00ffc0,#00ffb7,#00ffae,#00ffa5,#00ff9b,#00ff91,#00ff87,#00ff7c,#00ff71,#00ff65,#00ff5a,#00ff4d,#00ff41,#00ff34,#00ff27,#00ff19,#00ff0b,#02ff00,#0cff00,#15ff00,#1fff00,#2aff00,#34ff00,#3fff00,#4aff00,#5f0,#60ff00,#6cff00,#7f0,#83ff00,#90ff00)"></i>
<i style="background:linear-gradient(90deg,#00ecff,#00eaff,#00e8ff,#00e6ff,#00e5ff,#00e4ff,#00e3ff,#00e3ff,#00e3ff,#00e3ff,#00e3ff,#00e4ff,#00e5ff,#00e7ff,#00e9ff,#00ebff,#00edff,#00f0ff,#00f3ff,#00f6ff,#00faff,#00feff,#00fffc,#00fff6,#00fff1,#00ffeb,#00ffe4,#00ffde,#00ffd7,#00ffcf,#00ffc7,#00ffbf,#00ffb7,#00ffae,#00ffa5,#00ff9b,#00ff91,#00ff87,#00ff7c,#00ff71,#0f6,#00ff5a,#00ff4e,#00ff41,#00ff35,#00ff27,#00ff1a,#00ff0c,#02ff00,#0bff00,#15ff00,#1fff00,#29ff00,#3f0,#3eff00,#49ff00,#54ff00,#5fff00,#6bff00,#76ff00,#82ff00,#8fff00)"></i>
<i style="background:linear-gradient(90deg,#00efff,#00ecff,#00eaff,#00e8ff,#00e7ff,#00e6ff,#00e5ff,#00e5ff,#00e4ff,#00e5ff,#00e5ff,#00e6ff,#00e7ff,#00e8ff,#00eaff,#00ecff,#0ef,#00f1ff,#00f4ff,#00f7ff,#00fbff,#0ff,#00fffb,#00fff5,#00fff0,#00ffea,#00ffe4,#0fd,#00ffd6,#00ffcf,#00ffc7,#00ffbf,#00ffb6,#00ffae,#00ffa4,#00ff9b,#00ff91,#00ff87,#00ff7c,#00ff71,#0f6,#00ff5a,#00ff4e,#00ff42,#00ff35,#00ff28,#00ff1b,#00ff0d,#01ff00,#0aff00,#14ff00,#1eff00,#28ff00,#32ff00,#3dff00,#48ff00,#53ff00,#5eff00,#69ff00,#75ff00,#81ff00,#8dff00)"></i>
<i style="background:linear-gradient(90deg,#00f1ff,#00efff,#00ecff,#00ebff,#00e9ff,#00e8ff,#00e7ff,#00e7ff,#00e6ff,#00e6ff,#00e7ff,#00e7ff,#00e8ff,#00eaff,#00ebff,#00edff,#00f0ff,#00f2ff,#00f5ff,#00f8ff,#00fcff,#00fffe,#00fffa,#00fff4,#00ffef,#00ffe9,#00ffe3,#00ffdc,#00ffd5,#00ffce,#00ffc7,#00ffbf,#00ffb6,#00ffad,#00ffa4,#00ff9b,#00ff91,#00ff87,#00ff7c,#00ff72,#0f6,#00ff5b,#00ff4f,#00ff42,#00ff36,#00ff29,#00ff1b,#00ff0e,#0f0,#0aff00,#13ff00,#1dff00,#27ff00,#31ff00,#3cff00,#47ff00,#52ff00,#5dff00,#68ff00,#74ff00,#80ff00,#8cff00)"></i>
<i style="background:linear-gradient(90deg,#00f3ff,#00f1ff,#00efff,#00edff,#00ebff,#00eaff,#00e9ff,#00e8ff,#00e8ff,#00e8ff,#00e8ff,#00e9ff,#00eaff,#00ebff,#00edff,#00efff,#00f1ff,#00f3ff,#00f6ff,#00f9ff,#00fdff,#00fffd,#00fff9,#00fff3,#0fe,#00ffe8,#00ffe2,#00ffdc,#00ffd5,#00ffce,#00ffc6,#00ffbe,#00ffb6,#00ffad,#00ffa4,#00ff9b,#00ff91,#00ff87,#00ff7d,#00ff72,#00ff67,#00ff5b,#00ff4f,#00ff43,#00ff36,#00ff2a,#00ff1c,#00ff0f,#0f0,#09ff00,#13ff00,#1cff00,#26ff00,#31ff00,#3bff00,#46ff00,#51ff00,#5cff00,#67ff00,#73ff00,#7fff00,#8bff00)"></i>
<i style="background:linear-gradient(90deg,#00f6ff,#00f3ff,#00f1ff,#00efff,#00edff,#00ecff,#00ebff,#00eaff,#00eaff,#00eaff,#00eaff,#00ebff,#00ecff,#00edff,#0ef,#00f0ff,#00f2ff,#00f5ff,#00f7ff,#00faff,#00feff,#00fffc,#00fff8,#00fff3,#00ffed,#00ffe8,#00ffe1,#00ffdb,#00ffd4,#00ffcd,#00ffc6,#00ffbe,#00ffb6,#00ffad,#00ffa4,#00ff9b,#00ff91,#00ff87,#00ff7d,#00ff72,#00ff67,#00ff5c,#00ff50,#0f4,#00ff37,#00ff2a,#00ff1d,#00ff0f,#00ff02,#08ff00,#12ff00,#1bff00,#25ff00,#30ff00,#3aff00,#45ff00,#50ff00,#5bff00,#6f0,#72ff00,#7dff00,#89ff00)"></i>
<i style="background:linear-gradient(90deg,#00f8ff,#00f5ff,#00f3ff,#00f1ff,#00efff,#0ef,#00edff,#00ecff,#00ecff,#00ecff,#00ecff,#00ecff,#00edff,#0ef,#00f0ff,#00f1ff,#00f3ff,#00f6ff,#00f8ff,#00fbff,#0ff,#00fffb,#00fff7,#00fff2,#00ffec,#00ffe7,#00ffe1,#00ffdb,#00ffd4,#00ffcd,#00ffc5,#00ffbe,#00ffb5,#00ffad,#00ffa4,#00ff9b,#00ff91,#00ff87,#00ff7d,#00ff73,#00ff68,#00ff5c,#00ff50,#0f4,#00ff38,#00ff2b,#00ff1e,#00ff10,#00ff03,#08ff00,#1f0,#1bff00,#25ff00,#2fff00,#39ff00,#4f0,#4eff00,#5aff00,#65ff00,#70ff00,#7cff00,#8f0)"></i>
<i style="background:linear-gradient(90deg,#00faff,#00f8ff,#00f5ff,#00f3ff,#00f1ff,#00f0ff,#00efff,#0ef,#0ef,#00edff,#00edff,#0ef,#00efff,#00f0ff,#00f1ff,#00f3ff,#00f5ff,#00f7ff,#00faff,#00fdff,#00fffe,#00fffa,#00fff6,#00fff1,#00ffec,#00ffe6,#00ffe0,#00ffda,#00ffd3,#0fc,#00ffc5,#00ffbd,#00ffb5,#00ffad,#00ffa4,#00ff9b,#00ff92,#0f8,#00ff7d,#00ff73,#00ff68,#00ff5d,#00ff51,#00ff45,#00ff39,#00ff2c,#00ff1f,#0f1,#00ff04,#07ff00,#10ff00,#1aff00,#24ff00,#2eff00,#38ff00,#43ff00,#4dff00,#58ff00,#64ff00,#6fff00,#7bff00,#87ff00)"></i>
<i style="background:linear-gradient(90deg,#00fdff,#00faff,#00f7ff,#00f5ff,#00f3ff,#00f2ff,#00f1ff,#00f0ff,#00efff,#00efff,#00efff,#00efff,#00f0ff,#00f1ff,#00f2ff,#00f4ff,#00f6ff,#00f8ff,#00fbff,#00fdff,#00fffd,#00fff9,#00fff5,#00fff0,#00ffeb,#00ffe5,#00ffe0,#00ffd9,#00ffd3,#0fc,#00ffc5,#00ffbd,#00ffb5,#00ffad,#00ffa4,#00ff9b,#00ff92,#0f8,#00ff7e,#00ff73,#00ff68,#00ff5d,#00ff52,#00ff46,#00ff39,#00ff2d,#00ff20,#00ff12,#00ff05,#06ff00,#0fff00,#19ff00,#23ff00,#2dff00,#37ff00,#42ff00,#4cff00,#57ff00,#62ff00,#6eff00,#7aff00,#85ff00)"></i>
<i style="background:linear-gradient(90deg,#0ff,#00fcff,#00f9ff,#00f7ff,#00f5ff,#00f4ff,#00f3ff,#00f2ff,#00f1ff,#00f1ff,#00f1ff,#00f1ff,#00f1ff,#00f2ff,#00f4ff,#00f5ff,#00f7ff,#00f9ff,#00fcff,#00feff,#00fffc,#00fff8,#00fff4,#00ffef,#00ffea,#00ffe5,#00ffdf,#00ffd9,#00ffd2,#0fc,#00ffc4,#00ffbd,#00ffb5,#00ffad,#00ffa4,#00ff9b,#00ff92,#0f8,#00ff7e,#00ff74,#00ff69,#00ff5e,#00ff52,#00ff46,#00ff3a,#00ff2e,#00ff21,#00ff13,#00ff06,#05ff00,#0fff00,#18ff00,#2f0,#2cff00,#36ff00,#40ff00,#4bff00,#56ff00,#61ff00,#6dff00,#78ff00,#84ff00)"></i>
<i style="background:linear-gradient(90deg,#00fffd,#00feff,#00fcff,#00f9ff,#00f7ff,#00f6ff,#00f4ff,#00f3ff,#00f3ff,#00f2ff,#00f2ff,#00f2ff,#00f3ff,#00f4ff,#00f5ff,#00f6ff,#00f8ff,#00faff,#00fdff,#0ff,#00fffb,#00fff7,#00fff3,#0fe,#00ffe9,#00ffe4,#00ffde,#00ffd8,#00ffd2,#00ffcb,#00ffc4,#00ffbd,#00ffb5,#00ffad,#00ffa4,#00ff9b,#00ff92,#00ff89,#00ff7f,#00ff74,#00ff69,#00ff5e,#00ff53,#00ff47,#00ff3b,#00ff2f,#0f2,#00ff15,#00ff07,#04ff00,#0eff00,#17ff00,#21ff00,#2bff00,#35ff00,#3fff00,#4aff00,#5f0,#60ff00,#6bff00,#7f0,#83ff00)"></i>
<i style="background:linear-gradient(90deg,#00fffa,#00fffe,#00feff,#00fbff,#00f9ff,#00f8ff,#00f6ff,#00f5ff,#00f4ff,#00f4ff,#00f4ff,#00f4ff,#00f4ff,#00f5ff,#00f6ff,#00f8ff,#00f9ff,#00fbff,#00feff,#00fffd,#00fffa,#00fff6,#00fff2,#0fe,#00ffe9,#00ffe4,#00ffde,#00ffd8,#00ffd2,#00ffcb,#00ffc4,#00ffbd,#00ffb5,#00ffad,#00ffa4,#00ff9c,#00ff92,#00ff89,#00ff7f,#00ff75,#00ff6a,#00ff5f,#00ff54,#00ff48,#00ff3c,#00ff30,#00ff23,#00ff16,#00ff08,#04ff00,#0dff00,#16ff00,#20ff00,#2aff00,#34ff00,#3eff00,#49ff00,#54ff00,#5fff00,#6aff00,#76ff00,#81ff00)"></i>
<i style="background:linear-gradient(90deg,#00fff8,#00fffb,#00fffe,#00fdff,#00fbff,#00f9ff,#00f8ff,#00f7ff,#00f6ff,#00f5ff,#00f5ff,#00f5ff,#00f6ff,#00f6ff,#00f7ff,#00f9ff,#00faff,#00fcff,#0ff,#00fffc,#00fff9,#00fff5,#00fff1,#00ffed,#00ffe8,#00ffe3,#0fd,#00ffd8,#00ffd1,#00ffcb,#00ffc4,#00ffbd,#00ffb5,#00ffad,#00ffa4,#00ff9c,#00ff93,#00ff89,#00ff7f,#00ff75,#00ff6b,#00ff60,#00ff54,#00ff49,#00ff3d,#00ff31,#00ff24,#00ff17,#00ff09,#03ff00,#0cff00,#15ff00,#1fff00,#29ff00,#3f0,#3dff00,#48ff00,#52ff00,#5dff00,#69ff00,#74ff00,#80ff00)"></i>
<i style="background:linear-gradient(90deg,#00fff5,#00fff9,#00fffc,#0ff,#00fdff,#00fbff,#00faff,#00f8ff,#00f8ff,#00f7ff,#00f7ff,#00f7ff,#00f7ff,#00f8ff,#00f9ff,#00faff,#00fbff,#00fdff,#00fffe,#00fffb,#00fff8,#00fff5,#00fff1,#00ffec,#00ffe7,#00ffe2,#0fd,#00ffd7,#00ffd1,#00ffcb,#00ffc4,#00ffbc,#00ffb5,#00ffad,#00ffa5,#00ff9c,#00ff93,#00ff8a,#00ff80,#00ff76,#00ff6b,#00ff60,#0f5,#00ff4a,#00ff3e,#00ff32,#00ff25,#00ff18,#00ff0b,#02ff00,#0bff00,#14ff00,#1eff00,#28ff00,#32ff00,#3cff00,#46ff00,#51ff00,#5cff00,#67ff00,#73ff00,#7eff00)"></i>
<i style="background:linear-gradient(90deg,#00fff3,#00fff6,#00fffa,#00fffd,#0ff,#00fdff,#00fbff,#00faff,#00f9ff,#00f8ff,#00f8ff,#00f8ff,#00f8ff,#00f9ff,#00faff,#00fbff,#00fdff,#00feff,#00fffd,#00fffa,#00fff7,#00fff4,#00fff0,#00ffec,#00ffe7,#00ffe2,#0fd,#00ffd7,#00ffd1,#00ffca,#00ffc4,#00ffbc,#00ffb5,#00ffad,#00ffa5,#00ff9c,#00ff93,#00ff8a,#00ff80,#00ff76,#00ff6c,#00ff61,#00ff56,#00ff4b,#00ff3f,#0f3,#00ff26,#00ff19,#00ff0c,#01ff00,#0aff00,#13ff00,#1dff00,#27ff00,#31ff00,#3bff00,#45ff00,#50ff00,#5bff00,#6f0,#71ff00,#7dff00)"></i>
<i style="background:linear-gradient(90deg,#00fff0,#00fff4,#00fff7,#00fffa,#00fffd,#0ff,#00fdff,#00fcff,#00fbff,#00faff,#00faff,#00f9ff,#00faff,#00faff,#00fbff,#00fcff,#00feff,#0ff,#00fffc,#00fffa,#00fff6,#00fff3,#00ffef,#00ffeb,#00ffe6,#00ffe1,#00ffdc,#00ffd7,#00ffd1,#00ffca,#00ffc3,#00ffbc,#00ffb5,#00ffad,#00ffa5,#00ff9d,#00ff94,#00ff8a,#00ff81,#0f7,#00ff6d,#00ff62,#00ff57,#00ff4b,#00ff40,#00ff34,#00ff27,#00ff1a,#00ff0d,#0f0,#09ff00,#12ff00,#1cff00,#26ff00,#30ff00,#3aff00,#4f0,#4fff00,#59ff00,#65ff00,#70ff00,#7bff00)"></i>
<i style="background:linear-gradient(90deg,#0fe,#00fff2,#00fff5,#00fff8,#00fffb,#00fffd,#0ff,#00fdff,#00fcff,#00fbff,#00fbff,#00fbff,#00fbff,#00fbff,#00fcff,#00fdff,#0ff,#00fffe,#00fffb,#00fff9,#00fff6,#00fff2,#0fe,#00ffea,#00ffe6,#00ffe1,#00ffdc,#00ffd6,#00ffd0,#00ffca,#00ffc3,#00ffbc,#00ffb5,#00ffad,#00ffa5,#00ff9d,#00ff94,#00ff8b,#00ff81,#00ff78,#00ff6d,#00ff63,#00ff58,#00ff4c,#00ff41,#00ff35,#00ff28,#00ff1c,#00ff0e,#00ff01,#08ff00,#1f0,#1bff00,#24ff00,#2eff00,#38ff00,#43ff00,#4dff00,#58ff00,#63ff00,#6eff00,#7aff00)"></i>
<i style="background:linear-gradient(90deg,#00ffec,#00ffef,#00fff3,#00fff6,#00fff9,#00fffb,#00fffd,#0ff,#00feff,#00fdff,#00fcff,#00fcff,#00fcff,#00fcff,#00fdff,#00feff,#00fffe,#00fffd,#00fffa,#00fff8,#00fff5,#00fff1,#0fe,#00ffea,#00ffe5,#00ffe1,#00ffdb,#00ffd6,#00ffd0,#00ffca,#00ffc3,#00ffbc,#00ffb5,#00ffae,#00ffa6,#00ff9d,#00ff94,#00ff8b,#00ff82,#00ff78,#00ff6e,#00ff63,#00ff59,#00ff4d,#00ff42,#00ff36,#00ff2a,#00ff1d,#00ff10,#00ff02,#07ff00,#10ff00,#1aff00,#23ff00,#2dff00,#37ff00,#42ff00,#4cff00,#57ff00,#62ff00,#6dff00,#78ff00)"></i>
<i style="background:linear-gradient(90deg,#00ffe9,#00ffed,#00fff1,#00fff4,#00fff7,#00fff9,#00fffc,#00fffd,#0ff,#00feff,#00feff,#00fdff,#00fdff,#00feff,#00feff,#0ff,#00fffd,#00fffc,#00fff9,#00fff7,#00fff4,#00fff1,#00ffed,#00ffe9,#00ffe5,#00ffe0,#00ffdb,#00ffd6,#00ffd0,#00ffca,#00ffc3,#00ffbd,#00ffb5,#00ffae,#00ffa6,#00ff9e,#00ff95,#00ff8c,#00ff83,#00ff79,#00ff6f,#00ff64,#00ff5a,#00ff4e,#00ff43,#00ff37,#00ff2b,#00ff1e,#0f1,#00ff04,#06ff00,#0fff00,#19ff00,#2f0,#2cff00,#36ff00,#40ff00,#4bff00,#5f0,#60ff00,#6bff00,#7f0)"></i>
<i style="background:linear-gradient(90deg,#00ffe7,#00ffeb,#00ffef,#00fff2,#00fff5,#00fff7,#00fffa,#00fffc,#00fffd,#00fffe,#0ff,#0ff,#0ff,#0ff,#0ff,#00fffe,#00fffc,#00fffb,#00fff8,#00fff6,#00fff3,#00fff0,#00ffec,#00ffe9,#00ffe4,#00ffe0,#00ffdb,#00ffd5,#00ffd0,#00ffca,#00ffc3,#00ffbd,#00ffb5,#00ffae,#00ffa6,#00ff9e,#00ff95,#00ff8c,#00ff83,#00ff7a,#00ff70,#00ff65,#00ff5a,#00ff4f,#0f4,#00ff38,#00ff2c,#00ff1f,#00ff13,#00ff05,#05ff00,#0eff00,#18ff00,#21ff00,#2bff00,#35ff00,#3fff00,#49ff00,#54ff00,#5fff00,#6aff00,#75ff00)"></i>
<i style="background:linear-gradient(90deg,#00ffe5,#00ffe9,#00ffec,#00fff0,#00fff3,#00fff6,#00fff8,#00fffa,#00fffb,#00fffd,#00fffe,#00fffe,#00fffe,#00fffe,#00fffd,#00fffc,#00fffb,#00fffa,#00fff8,#00fff5,#00fff2,#00ffef,#00ffec,#00ffe8,#00ffe4,#00ffdf,#00ffdb,#00ffd5,#00ffd0,#00ffca,#00ffc3,#00ffbd,#00ffb6,#00ffae,#00ffa7,#00ff9e,#00ff96,#00ff8d,#00ff84,#00ff7a,#00ff70,#0f6,#00ff5b,#00ff50,#00ff45,#00ff39,#00ff2d,#00ff21,#00ff14,#00ff07,#04ff00,#0dff00,#16ff00,#20ff00,#2aff00,#3f0,#3eff00,#48ff00,#53ff00,#5dff00,#68ff00,#74ff00)"></i>
<i style="background:linear-gradient(90deg,#00ffe2,#00ffe7,#00ffea,#0fe,#00fff1,#00fff4,#00fff6,#00fff8,#00fffa,#00fffb,#00fffc,#00fffd,#00fffd,#00fffd,#00fffc,#00fffb,#00fffa,#00fff9,#00fff7,#00fff4,#00fff2,#00ffef,#00ffeb,#00ffe8,#00ffe4,#00ffdf,#00ffda,#00ffd5,#00ffd0,#00ffca,#00ffc3,#00ffbd,#00ffb6,#00ffaf,#00ffa7,#00ff9f,#00ff96,#00ff8e,#00ff85,#00ff7b,#00ff71,#00ff67,#00ff5c,#00ff52,#00ff46,#00ff3b,#00ff2f,#0f2,#00ff15,#00ff08,#03ff00,#0cff00,#15ff00,#1fff00,#28ff00,#32ff00,#3cff00,#47ff00,#51ff00,#5cff00,#67ff00,#72ff00)"></i>
<i style="background:linear-gradient(90deg,#00ffe0,#00ffe4,#00ffe8,#00ffec,#00ffef,#00fff2,#00fff4,#00fff6,#00fff8,#00fffa,#00fffb,#00fffb,#00fffc,#00fffc,#00fffb,#00fffa,#00fff9,#00fff8,#00fff6,#00fff4,#00fff1,#0fe,#00ffeb,#00ffe7,#00ffe3,#00ffdf,#00ffda,#00ffd5,#00ffd0,#00ffca,#00ffc4,#00ffbd,#00ffb6,#00ffaf,#00ffa7,#00ff9f,#00ff97,#00ff8e,#00ff85,#00ff7c,#00ff72,#00ff68,#00ff5d,#00ff53,#00ff47,#00ff3c,#00ff30,#00ff24,#00ff17,#00ff0a,#02ff00,#0bff00,#14ff00,#1dff00,#27ff00,#31ff00,#3bff00,#45ff00,#50ff00,#5aff00,#65ff00,#71ff00)"></i>
<i style="background:linear-gradient(90deg,#00ffde,#00ffe2,#00ffe6,#00ffea,#00ffed,#00fff0,#00fff3,#00fff5,#00fff7,#00fff8,#00fff9,#00fffa,#00fffa,#00fffa,#00fffa,#00fff9,#00fff8,#00fff7,#00fff5,#00fff3,#00fff0,#0fe,#00ffea,#00ffe7,#00ffe3,#00ffdf,#00ffda,#00ffd5,#00ffd0,#00ffca,#00ffc4,#00ffbd,#00ffb6,#00ffaf,#00ffa8,#00ffa0,#00ff98,#00ff8f,#00ff86,#00ff7d,#00ff73,#00ff69,#00ff5f,#00ff54,#00ff49,#00ff3d,#00ff31,#00ff25,#00ff18,#00ff0c,#01ff00,#0aff00,#13ff00,#1cff00,#26ff00,#30ff00,#3aff00,#4f0,#4eff00,#59ff00,#64ff00,#6fff00)"></i>
<i style="background:linear-gradient(90deg,#00ffdc,#00ffe0,#00ffe4,#00ffe8,#00ffeb,#0fe,#00fff1,#00fff3,#00fff5,#00fff7,#00fff8,#00fff9,#00fff9,#00fff9,#00fff9,#00fff8,#00fff7,#00fff6,#00fff4,#00fff2,#00fff0,#00ffed,#00ffea,#00ffe6,#00ffe3,#00ffde,#00ffda,#00ffd5,#00ffd0,#00ffca,#00ffc4,#00ffbd,#00ffb7,#00ffb0,#00ffa8,#00ffa0,#00ff98,#00ff90,#00ff87,#00ff7e,#00ff74,#00ff6a,#00ff60,#0f5,#00ff4a,#00ff3e,#0f3,#00ff27,#00ff1a,#00ff0d,#0f0,#09ff00,#12ff00,#1bff00,#24ff00,#2eff00,#38ff00,#42ff00,#4dff00,#57ff00,#62ff00,#6dff00)"></i>
<i style="background:linear-gradient(90deg,#00ffda,#00ffde,#00ffe2,#00ffe6,#00ffe9,#00ffed,#00ffef,#00fff2,#00fff4,#00fff5,#00fff6,#00fff7,#00fff8,#00fff8,#00fff8,#00fff7,#00fff6,#00fff5,#00fff4,#00fff2,#00ffef,#00ffed,#00ffe9,#00ffe6,#00ffe2,#00ffde,#00ffda,#00ffd5,#00ffd0,#00ffca,#00ffc4,#00ffbe,#00ffb7,#00ffb0,#00ffa9,#00ffa1,#0f9,#00ff90,#0f8,#00ff7e,#00ff75,#00ff6b,#00ff61,#00ff56,#00ff4b,#00ff40,#00ff34,#00ff28,#00ff1c,#00ff0f,#00ff02,#08ff00,#1f0,#1aff00,#23ff00,#2dff00,#37ff00,#41ff00,#4bff00,#56ff00,#61ff00,#6cff00)"></i>
<i style="background:linear-gradient(90deg,#00ffd8,#00ffdc,#00ffe0,#00ffe4,#00ffe8,#00ffeb,#0fe,#00fff0,#00fff2,#00fff4,#00fff5,#00fff6,#00fff7,#00fff7,#00fff7,#00fff6,#00fff6,#00fff4,#00fff3,#00fff1,#00ffef,#00ffec,#00ffe9,#00ffe6,#00ffe2,#00ffde,#00ffda,#00ffd5,#00ffd0,#00ffca,#00ffc4,#00ffbe,#00ffb7,#00ffb0,#00ffa9,#00ffa2,#00ff9a,#00ff91,#0f8,#00ff7f,#00ff76,#00ff6c,#00ff62,#00ff57,#00ff4c,#00ff41,#00ff36,#00ff2a,#00ff1d,#0f1,#00ff03,#06ff00,#0fff00,#18ff00,#2f0,#2bff00,#35ff00,#3fff00,#4aff00,#54ff00,#5fff00,#6aff00)"></i>
<i style="background:linear-gradient(90deg,#00ffd5,#00ffda,#00ffde,#00ffe2,#00ffe6,#00ffe9,#00ffec,#0fe,#00fff1,#00fff2,#00fff4,#00fff5,#00fff6,#00fff6,#00fff6,#00fff5,#00fff5,#00fff4,#00fff2,#00fff0,#0fe,#00ffec,#00ffe9,#00ffe5,#00ffe2,#00ffde,#00ffd9,#00ffd5,#00ffd0,#00ffca,#00ffc4,#00ffbe,#00ffb8,#00ffb1,#0fa,#00ffa2,#00ff9a,#00ff92,#00ff89,#00ff80,#0f7,#00ff6d,#00ff63,#00ff59,#00ff4e,#00ff43,#00ff37,#00ff2b,#00ff1f,#00ff12,#00ff05,#05ff00,#0eff00,#17ff00,#20ff00,#2aff00,#34ff00,#3eff00,#48ff00,#53ff00,#5dff00,#68ff00)"></i>
<i style="background:linear-gradient(90deg,#00ffd3,#00ffd8,#0fd,#00ffe1,#00ffe4,#00ffe7,#00ffea,#00ffed,#00ffef,#00fff1,#00fff2,#00fff4,#00fff4,#00fff5,#00fff5,#00fff5,#00fff4,#00fff3,#00fff1,#00fff0,#0fe,#00ffeb,#00ffe8,#00ffe5,#00ffe2,#00ffde,#00ffd9,#00ffd5,#00ffd0,#00ffca,#00ffc5,#00ffbf,#00ffb8,#00ffb1,#0fa,#00ffa3,#00ff9b,#00ff93,#00ff8a,#00ff81,#00ff78,#00ff6e,#00ff64,#00ff5a,#00ff4f,#0f4,#00ff38,#00ff2d,#00ff20,#00ff14,#00ff07,#04ff00,#0dff00,#16ff00,#1fff00,#29ff00,#32ff00,#3cff00,#47ff00,#51ff00,#5cff00,#67ff00)"></i>
<i style="background:linear-gradient(90deg,#00ffd1,#00ffd6,#00ffdb,#00ffdf,#00ffe2,#00ffe6,#00ffe9,#00ffeb,#0fe,#00fff0,#00fff1,#00fff2,#00fff3,#00fff4,#00fff4,#00fff4,#00fff3,#00fff2,#00fff1,#00ffef,#00ffed,#00ffeb,#00ffe8,#00ffe5,#00ffe1,#00ffde,#00ffd9,#00ffd5,#00ffd0,#00ffcb,#00ffc5,#00ffbf,#00ffb9,#00ffb2,#00ffab,#00ffa3,#00ff9c,#00ff94,#00ff8b,#00ff82,#00ff79,#00ff6f,#00ff65,#00ff5b,#00ff50,#00ff45,#00ff3a,#00ff2e,#0f2,#00ff16,#00ff09,#03ff00,#0cff00,#15ff00,#1eff00,#27ff00,#31ff00,#3bff00,#45ff00,#4fff00,#5aff00,#65ff00)"></i>
<i style="background:linear-gradient(90deg,#00ffcf,#00ffd4,#00ffd9,#0fd,#00ffe1,#00ffe4,#00ffe7,#00ffea,#00ffec,#0fe,#00fff0,#00fff1,#00fff2,#00fff3,#00fff3,#00fff3,#00fff2,#00fff1,#00fff0,#00ffef,#00ffed,#00ffea,#00ffe8,#00ffe5,#00ffe1,#00ffde,#00ffd9,#00ffd5,#00ffd0,#00ffcb,#00ffc5,#00ffbf,#00ffb9,#00ffb3,#00ffac,#00ffa4,#00ff9c,#00ff94,#00ff8c,#00ff83,#00ff7a,#00ff71,#00ff67,#00ff5c,#00ff52,#00ff47,#00ff3c,#00ff30,#00ff24,#00ff17,#00ff0b,#02ff00,#0aff00,#13ff00,#1cff00,#26ff00,#2fff00,#39ff00,#43ff00,#4eff00,#58ff00,#63ff00)"></i>
<i style="background:linear-gradient(90deg,#00ffcd,#00ffd2,#00ffd7,#00ffdb,#00ffdf,#00ffe3,#00ffe6,#00ffe9,#00ffeb,#00ffed,#00ffef,#00fff0,#00fff1,#00fff2,#00fff2,#00fff2,#00fff2,#00fff1,#00fff0,#0fe,#00ffec,#00ffea,#00ffe7,#00ffe4,#00ffe1,#0fd,#00ffd9,#00ffd5,#00ffd0,#00ffcb,#00ffc6,#00ffc0,#00ffba,#00ffb3,#00ffac,#00ffa5,#00ff9d,#00ff95,#00ff8d,#00ff84,#00ff7b,#00ff72,#00ff68,#00ff5e,#00ff53,#00ff48,#00ff3d,#00ff32,#00ff26,#00ff19,#00ff0d,#0f0,#09ff00,#12ff00,#1bff00,#24ff00,#2eff00,#38ff00,#42ff00,#4cff00,#57ff00,#61ff00)"></i>
<i style="background:linear-gradient(90deg,#00ffcb,#00ffd1,#00ffd5,#00ffda,#0fd,#00ffe1,#00ffe4,#00ffe7,#00ffea,#00ffec,#0fe,#00ffef,#00fff0,#00fff1,#00fff1,#00fff1,#00fff1,#00fff0,#00ffef,#0fe,#00ffec,#00ffea,#00ffe7,#00ffe4,#00ffe1,#0fd,#00ffd9,#00ffd5,#00ffd0,#00ffcb,#00ffc6,#00ffc0,#00ffba,#00ffb4,#00ffad,#00ffa6,#00ff9e,#00ff96,#00ff8e,#00ff85,#00ff7c,#00ff73,#00ff69,#00ff5f,#0f5,#00ff4a,#00ff3f,#0f3,#00ff27,#00ff1b,#00ff0f,#00ff02,#08ff00,#10ff00,#19ff00,#23ff00,#2cff00,#36ff00,#40ff00,#4aff00,#5f0,#5fff00)"></i>
<i style="background:linear-gradient(90deg,#00ffca,#00ffcf,#00ffd3,#00ffd8,#00ffdc,#00ffe0,#00ffe3,#00ffe6,#00ffe8,#00ffeb,#00ffed,#0fe,#00ffef,#00fff0,#00fff0,#00fff0,#00fff0,#00fff0,#00ffef,#00ffed,#00ffeb,#00ffe9,#00ffe7,#00ffe4,#00ffe1,#0fd,#00ffda,#00ffd5,#00ffd1,#0fc,#00ffc6,#00ffc1,#0fb,#00ffb4,#00ffae,#00ffa6,#00ff9f,#00ff97,#00ff8f,#00ff86,#00ff7d,#00ff74,#00ff6b,#00ff61,#00ff56,#00ff4b,#00ff40,#00ff35,#00ff29,#00ff1d,#00ff10,#00ff04,#06ff00,#0fff00,#18ff00,#21ff00,#2bff00,#34ff00,#3eff00,#49ff00,#53ff00,#5eff00)"></i>
<i style="background:linear-gradient(90deg,#00ffc8,#00ffcd,#00ffd2,#00ffd6,#00ffda,#00ffde,#00ffe1,#00ffe4,#00ffe7,#00ffe9,#00ffeb,#00ffed,#0fe,#00ffef,#00fff0,#00fff0,#00fff0,#00ffef,#0fe,#00ffed,#00ffeb,#00ffe9,#00ffe7,#00ffe4,#00ffe1,#00ffde,#00ffda,#00ffd6,#00ffd1,#0fc,#00ffc7,#00ffc1,#0fb,#00ffb5,#00ffae,#00ffa7,#00ffa0,#00ff98,#00ff90,#0f8,#00ff7f,#00ff75,#00ff6c,#00ff62,#00ff58,#00ff4d,#00ff42,#00ff37,#00ff2b,#00ff1f,#00ff12,#00ff06,#05ff00,#0eff00,#17ff00,#20ff00,#29ff00,#3f0,#3dff00,#47ff00,#51ff00,#5cff00)"></i>
<i style="background:linear-gradient(90deg,#00ffc6,#00ffcb,#00ffd0,#00ffd5,#00ffd9,#0fd,#00ffe0,#00ffe3,#00ffe6,#00ffe8,#00ffea,#00ffec,#00ffed,#0fe,#00ffef,#00ffef,#00ffef,#0fe,#0fe,#00ffec,#00ffeb,#00ffe9,#00ffe7,#00ffe4,#00ffe1,#00ffde,#00ffda,#00ffd6,#00ffd1,#00ffcd,#00ffc7,#00ffc2,#00ffbc,#00ffb6,#00ffaf,#00ffa8,#00ffa1,#0f9,#00ff91,#00ff89,#00ff80,#0f7,#00ff6d,#00ff63,#00ff59,#00ff4f,#0f4,#00ff38,#00ff2d,#00ff21,#00ff14,#00ff08,#03ff00,#0cff00,#15ff00,#1eff00,#28ff00,#31ff00,#3bff00,#45ff00,#4fff00,#5aff00)"></i>
<i style="background:linear-gradient(90deg,#00ffc4,#00ffc9,#00ffce,#00ffd3,#00ffd7,#00ffdb,#00ffdf,#00ffe2,#00ffe5,#00ffe7,#00ffe9,#00ffeb,#00ffec,#00ffed,#0fe,#0fe,#0fe,#0fe,#00ffed,#00ffec,#00ffeb,#00ffe9,#00ffe6,#00ffe4,#00ffe1,#00ffde,#00ffda,#00ffd6,#00ffd2,#00ffcd,#00ffc8,#00ffc2,#00ffbd,#00ffb6,#00ffb0,#00ffa9,#00ffa2,#00ff9a,#00ff92,#00ff8a,#00ff81,#00ff78,#00ff6f,#00ff65,#00ff5b,#00ff50,#00ff45,#00ff3a,#00ff2f,#00ff23,#00ff17,#00ff0a,#02ff00,#0bff00,#14ff00,#1dff00,#26ff00,#30ff00,#39ff00,#43ff00,#4eff00,#58ff00)"></i>
<i style="background:linear-gradient(90deg,#00ffc2,#00ffc8,#00ffcd,#00ffd1,#00ffd6,#00ffda,#0fd,#00ffe1,#00ffe3,#00ffe6,#00ffe8,#00ffea,#00ffec,#00ffed,#00ffed,#0fe,#0fe,#00ffed,#00ffed,#00ffec,#00ffea,#00ffe9,#00ffe6,#00ffe4,#00ffe1,#00ffde,#00ffda,#00ffd6,#00ffd2,#00ffcd,#00ffc8,#00ffc3,#00ffbd,#00ffb7,#00ffb1,#0fa,#00ffa3,#00ff9b,#00ff93,#00ff8b,#00ff82,#00ff79,#00ff70,#0f6,#00ff5c,#00ff52,#00ff47,#00ff3c,#00ff31,#00ff25,#00ff19,#00ff0c,#01ff00,#09ff00,#12ff00,#1bff00,#24ff00,#2eff00,#38ff00,#42ff00,#4cff00,#56ff00)"></i>
<i style="background:linear-gradient(90deg,#00ffc0,#00ffc6,#00ffcb,#00ffd0,#00ffd4,#00ffd8,#00ffdc,#00ffdf,#00ffe2,#00ffe5,#00ffe7,#00ffe9,#00ffeb,#00ffec,#00ffed,#00ffed,#00ffed,#00ffed,#00ffec,#00ffeb,#00ffea,#00ffe8,#00ffe6,#00ffe4,#00ffe1,#00ffde,#00ffda,#00ffd7,#00ffd2,#00ffce,#00ffc9,#00ffc4,#00ffbe,#00ffb8,#00ffb2,#00ffab,#00ffa4,#00ff9c,#00ff94,#00ff8c,#00ff84,#00ff7b,#00ff72,#00ff68,#00ff5e,#00ff54,#00ff49,#00ff3e,#0f3,#00ff27,#00ff1b,#00ff0e,#00ff01,#08ff00,#10ff00,#19ff00,#23ff00,#2cff00,#36ff00,#40ff00,#4aff00,#54ff00)"></i>
<i style="background:linear-gradient(90deg,#00ffbf,#00ffc4,#00ffc9,#00ffce,#00ffd3,#00ffd7,#00ffdb,#00ffde,#00ffe1,#00ffe4,#00ffe6,#00ffe8,#00ffea,#00ffeb,#00ffec,#00ffed,#00ffed,#00ffed,#00ffec,#00ffeb,#00ffea,#00ffe8,#00ffe6,#00ffe4,#00ffe1,#00ffde,#00ffdb,#00ffd7,#00ffd3,#00ffce,#00ffc9,#00ffc4,#00ffbf,#00ffb9,#00ffb2,#00ffac,#00ffa5,#00ff9d,#00ff96,#00ff8e,#00ff85,#00ff7c,#00ff73,#00ff6a,#00ff60,#0f5,#00ff4b,#00ff40,#00ff35,#00ff29,#00ff1d,#00ff10,#00ff04,#06ff00,#0fff00,#18ff00,#21ff00,#2aff00,#34ff00,#3eff00,#48ff00,#52ff00)"></i>
<i style="background:linear-gradient(90deg,#00ffbd,#00ffc3,#00ffc8,#00ffcd,#00ffd1,#00ffd6,#00ffd9,#0fd,#00ffe0,#00ffe3,#00ffe5,#00ffe7,#00ffe9,#00ffea,#00ffeb,#00ffec,#00ffec,#00ffec,#00ffec,#00ffeb,#00ffea,#00ffe8,#00ffe6,#00ffe4,#00ffe1,#00ffde,#00ffdb,#00ffd7,#00ffd3,#00ffcf,#00ffca,#00ffc5,#00ffbf,#00ffba,#00ffb3,#00ffad,#00ffa6,#00ff9f,#00ff97,#00ff8f,#00ff86,#00ff7e,#00ff75,#00ff6b,#00ff61,#00ff57,#00ff4d,#00ff42,#00ff37,#00ff2b,#00ff1f,#00ff13,#00ff06,#05ff00,#0dff00,#16ff00,#1fff00,#29ff00,#32ff00,#3cff00,#46ff00,#50ff00)"></i>
<i style="background:linear-gradient(90deg,#0fb,#00ffc1,#00ffc6,#00ffcb,#00ffd0,#00ffd4,#00ffd8,#00ffdc,#00ffdf,#00ffe2,#00ffe4,#00ffe7,#00ffe8,#00ffea,#00ffeb,#00ffeb,#00ffec,#00ffec,#00ffeb,#00ffeb,#00ffea,#00ffe8,#00ffe6,#00ffe4,#00ffe2,#00ffdf,#00ffdb,#00ffd8,#00ffd4,#00ffcf,#00ffcb,#00ffc6,#00ffc0,#00ffba,#00ffb4,#00ffae,#00ffa7,#00ffa0,#00ff98,#00ff90,#0f8,#00ff7f,#00ff76,#00ff6d,#00ff63,#00ff59,#00ff4f,#0f4,#00ff39,#00ff2d,#00ff21,#00ff15,#00ff08,#03ff00,#0cff00,#15ff00,#1eff00,#27ff00,#31ff00,#3aff00,#4f0,#4fff00)"></i>
<i style="background:linear-gradient(90deg,#00ffba,#00ffbf,#00ffc5,#00ffca,#00ffcf,#00ffd3,#00ffd7,#00ffdb,#00ffde,#00ffe1,#00ffe3,#00ffe6,#00ffe8,#00ffe9,#00ffea,#00ffeb,#00ffeb,#00ffeb,#00ffeb,#00ffea,#00ffe9,#00ffe8,#00ffe6,#00ffe4,#00ffe2,#00ffdf,#00ffdc,#00ffd8,#00ffd4,#00ffd0,#00ffcb,#00ffc6,#00ffc1,#0fb,#00ffb5,#00ffaf,#00ffa8,#00ffa1,#0f9,#00ff92,#00ff89,#00ff81,#00ff78,#00ff6e,#00ff65,#00ff5b,#00ff50,#00ff46,#00ff3b,#00ff2f,#00ff23,#00ff17,#00ff0b,#02ff00,#0aff00,#13ff00,#1cff00,#25ff00,#2fff00,#38ff00,#42ff00,#4dff00)"></i>
<i style="background:linear-gradient(90deg,#00ffb8,#00ffbe,#00ffc3,#00ffc9,#00ffcd,#00ffd2,#00ffd6,#00ffda,#0fd,#00ffe0,#00ffe3,#00ffe5,#00ffe7,#00ffe8,#00ffea,#00ffea,#00ffeb,#00ffeb,#00ffeb,#00ffea,#00ffe9,#00ffe8,#00ffe6,#00ffe4,#00ffe2,#00ffdf,#00ffdc,#00ffd9,#00ffd5,#00ffd1,#0fc,#00ffc7,#00ffc2,#00ffbc,#00ffb6,#00ffb0,#00ffa9,#00ffa2,#00ff9b,#00ff93,#00ff8b,#00ff82,#00ff79,#00ff70,#00ff67,#00ff5d,#00ff52,#00ff48,#00ff3d,#00ff31,#00ff26,#00ff19,#00ff0d,#0f0,#08ff00,#1f0,#1aff00,#23ff00,#2dff00,#37ff00,#40ff00,#4bff00)"></i>
<i style="background:linear-gradient(90deg,#00ffb6,#00ffbc,#00ffc2,#00ffc7,#0fc,#00ffd1,#00ffd5,#00ffd9,#00ffdc,#00ffdf,#00ffe2,#00ffe4,#00ffe6,#00ffe8,#00ffe9,#00ffea,#00ffeb,#00ffeb,#00ffeb,#00ffea,#00ffe9,#00ffe8,#00ffe6,#00ffe4,#00ffe2,#00ffdf,#00ffdc,#00ffd9,#00ffd5,#00ffd1,#00ffcd,#00ffc8,#00ffc3,#00ffbd,#00ffb7,#00ffb1,#0fa,#00ffa3,#00ff9c,#00ff94,#00ff8c,#00ff84,#00ff7b,#00ff72,#00ff68,#00ff5e,#00ff54,#00ff4a,#00ff3f,#0f3,#00ff28,#00ff1c,#00ff0f,#00ff03,#07ff00,#0fff00,#18ff00,#2f0,#2bff00,#35ff00,#3eff00,#49ff00)"></i>
<i style="background:linear-gradient(90deg,#00ffb5,#0fb,#00ffc1,#00ffc6,#00ffcb,#00ffcf,#00ffd4,#00ffd8,#00ffdb,#00ffde,#00ffe1,#00ffe3,#00ffe6,#00ffe7,#00ffe9,#00ffea,#00ffea,#00ffeb,#00ffea,#00ffea,#00ffe9,#00ffe8,#00ffe7,#00ffe5,#00ffe2,#00ffe0,#0fd,#00ffda,#00ffd6,#00ffd2,#00ffcd,#00ffc9,#00ffc4,#00ffbe,#00ffb8,#00ffb2,#00ffac,#00ffa5,#00ff9d,#00ff96,#00ff8e,#00ff85,#00ff7d,#00ff74,#00ff6a,#00ff60,#00ff56,#00ff4c,#00ff41,#00ff36,#00ff2a,#00ff1e,#00ff12,#00ff05,#05ff00,#0eff00,#17ff00,#20ff00,#29ff00,#3f0,#3dff00,#47ff00)"></i>
<i style="background:linear-gradient(90deg,#00ffb3,#00ffb9,#00ffbf,#00ffc5,#00ffca,#00ffce,#00ffd3,#00ffd6,#00ffda,#0fd,#00ffe0,#00ffe3,#00ffe5,#00ffe7,#00ffe8,#00ffe9,#00ffea,#00ffea,#00ffea,#00ffea,#00ffe9,#00ffe8,#00ffe7,#00ffe5,#00ffe3,#00ffe0,#0fd,#00ffda,#00ffd7,#00ffd3,#00ffce,#00ffca,#00ffc5,#00ffbf,#00ffb9,#00ffb3,#00ffad,#00ffa6,#00ff9f,#00ff97,#00ff8f,#00ff87,#00ff7e,#00ff75,#00ff6c,#00ff62,#00ff58,#00ff4e,#00ff43,#00ff38,#00ff2c,#00ff20,#00ff14,#00ff08,#03ff00,#0cff00,#15ff00,#1eff00,#27ff00,#31ff00,#3bff00,#45ff00)"></i>
<i style="background:linear-gradient(90deg,#00ffb2,#00ffb8,#00ffbe,#00ffc3,#00ffc8,#00ffcd,#00ffd1,#00ffd6,#00ffd9,#0fd,#00ffdf,#00ffe2,#00ffe4,#00ffe6,#00ffe8,#00ffe9,#00ffea,#00ffea,#00ffea,#00ffea,#00ffe9,#00ffe8,#00ffe7,#00ffe5,#00ffe3,#00ffe1,#00ffde,#00ffdb,#00ffd7,#00ffd3,#00ffcf,#00ffca,#00ffc5,#00ffc0,#00ffba,#00ffb4,#00ffae,#00ffa7,#00ffa0,#0f9,#00ff91,#00ff89,#00ff80,#0f7,#00ff6e,#00ff64,#00ff5a,#00ff50,#00ff45,#00ff3a,#00ff2f,#00ff23,#00ff17,#00ff0a,#02ff00,#0aff00,#13ff00,#1cff00,#25ff00,#2fff00,#39ff00,#42ff00)"></i>
<i style="background:linear-gradient(90deg,#00ffb0,#00ffb6,#00ffbc,#00ffc2,#00ffc7,#0fc,#00ffd0,#00ffd5,#00ffd8,#00ffdc,#00ffdf,#00ffe1,#00ffe4,#00ffe6,#00ffe7,#00ffe9,#00ffe9,#00ffea,#00ffea,#00ffea,#00ffe9,#00ffe8,#00ffe7,#00ffe5,#00ffe3,#00ffe1,#00ffde,#00ffdb,#00ffd8,#00ffd4,#00ffd0,#00ffcb,#00ffc6,#00ffc1,#00ffbc,#00ffb6,#00ffaf,#00ffa9,#00ffa2,#00ff9a,#00ff92,#00ff8a,#00ff82,#00ff79,#00ff70,#0f6,#00ff5c,#00ff52,#00ff47,#00ff3c,#00ff31,#00ff25,#00ff19,#00ff0d,#0f0,#08ff00,#1f0,#1aff00,#23ff00,#2dff00,#36ff00,#40ff00)"></i>
<i style="background:linear-gradient(90deg,#00ffaf,#00ffb5,#0fb,#00ffc1,#00ffc6,#00ffcb,#00ffcf,#00ffd4,#00ffd7,#00ffdb,#00ffde,#00ffe1,#00ffe3,#00ffe5,#00ffe7,#00ffe8,#00ffe9,#00ffea,#00ffea,#00ffea,#00ffe9,#00ffe9,#00ffe7,#00ffe6,#00ffe4,#00ffe2,#00ffdf,#00ffdc,#00ffd9,#00ffd5,#00ffd1,#0fc,#00ffc7,#00ffc2,#00ffbd,#00ffb7,#00ffb1,#0fa,#00ffa3,#00ff9c,#00ff94,#00ff8c,#00ff84,#00ff7b,#00ff72,#00ff68,#00ff5e,#00ff54,#00ff4a,#00ff3f,#0f3,#00ff28,#00ff1c,#00ff0f,#00ff03,#07ff00,#0fff00,#18ff00,#21ff00,#2bff00,#34ff00,#3eff00)"></i>
<i style="background:linear-gradient(90deg,#00ffad,#00ffb4,#00ffba,#00ffc0,#00ffc5,#00ffca,#00ffce,#00ffd3,#00ffd7,#00ffda,#0fd,#00ffe0,#00ffe3,#00ffe5,#00ffe7,#00ffe8,#00ffe9,#00ffea,#00ffea,#00ffea,#00ffe9,#00ffe9,#00ffe8,#00ffe6,#00ffe4,#00ffe2,#00ffdf,#0fd,#00ffd9,#00ffd6,#00ffd2,#00ffcd,#00ffc8,#00ffc3,#00ffbe,#00ffb8,#00ffb2,#00ffab,#00ffa5,#00ff9d,#00ff96,#00ff8e,#00ff85,#00ff7d,#00ff74,#00ff6a,#00ff61,#00ff56,#00ff4c,#00ff41,#00ff36,#00ff2a,#00ff1e,#00ff12,#00ff05,#05ff00,#0eff00,#16ff00,#1fff00,#29ff00,#32ff00,#3cff00)"></i>
<i style="background:linear-gradient(90deg,#00ffac,#00ffb2,#00ffb9,#00ffbe,#00ffc4,#00ffc9,#00ffce,#00ffd2,#00ffd6,#00ffd9,#0fd,#00ffe0,#00ffe2,#00ffe4,#00ffe6,#00ffe8,#00ffe9,#00ffea,#00ffea,#00ffea,#00ffea,#00ffe9,#00ffe8,#00ffe6,#00ffe5,#00ffe3,#00ffe0,#0fd,#00ffda,#00ffd6,#00ffd2,#00ffce,#00ffca,#00ffc5,#00ffbf,#00ffb9,#00ffb3,#00ffad,#00ffa6,#00ff9f,#00ff97,#00ff90,#00ff87,#00ff7f,#00ff76,#00ff6c,#00ff63,#00ff59,#00ff4e,#00ff43,#00ff38,#00ff2d,#00ff21,#00ff15,#00ff08,#03ff00,#0cff00,#14ff00,#1dff00,#27ff00,#30ff00,#3aff00)"></i>
<i style="background:linear-gradient(90deg,#00ffab,#00ffb1,#00ffb7,#00ffbd,#00ffc3,#00ffc8,#00ffcd,#00ffd1,#00ffd5,#00ffd9,#00ffdc,#00ffdf,#00ffe2,#00ffe4,#00ffe6,#00ffe7,#00ffe9,#00ffe9,#00ffea,#00ffea,#00ffea,#00ffe9,#00ffe8,#00ffe7,#00ffe5,#00ffe3,#00ffe1,#00ffde,#00ffdb,#00ffd7,#00ffd3,#00ffcf,#00ffcb,#00ffc6,#00ffc0,#0fb,#00ffb5,#00ffae,#00ffa8,#00ffa1,#0f9,#00ff91,#00ff89,#00ff81,#00ff78,#00ff6e,#00ff65,#00ff5b,#00ff51,#00ff46,#00ff3b,#00ff2f,#00ff24,#00ff17,#00ff0b,#01ff00,#0aff00,#12ff00,#1bff00,#25ff00,#2eff00,#38ff00)"></i>
<i style="background:linear-gradient(90deg,#00ffa9,#00ffb0,#00ffb6,#00ffbc,#00ffc2,#00ffc7,#0fc,#00ffd0,#00ffd4,#00ffd8,#00ffdc,#00ffdf,#00ffe1,#00ffe4,#00ffe6,#00ffe7,#00ffe9,#00ffe9,#00ffea,#00ffea,#00ffea,#00ffe9,#00ffe9,#00ffe7,#00ffe6,#00ffe4,#00ffe1,#00ffdf,#00ffdc,#00ffd8,#00ffd4,#00ffd0,#0fc,#00ffc7,#00ffc2,#00ffbc,#00ffb6,#00ffb0,#00ffa9,#00ffa2,#00ff9b,#00ff93,#00ff8b,#00ff83,#00ff7a,#00ff71,#00ff67,#00ff5d,#00ff53,#00ff48,#00ff3d,#00ff32,#00ff26,#00ff1a,#00ff0e,#00ff01,#08ff00,#1f0,#19ff00,#23ff00,#2cff00,#36ff00)"></i>
<i style="background:linear-gradient(90deg,#00ffa8,#00ffaf,#00ffb5,#0fb,#00ffc1,#00ffc6,#00ffcb,#00ffcf,#00ffd4,#00ffd7,#00ffdb,#00ffde,#00ffe1,#00ffe3,#00ffe5,#00ffe7,#00ffe8,#00ffe9,#00ffea,#00ffea,#00ffea,#00ffea,#00ffe9,#00ffe8,#00ffe6,#00ffe4,#00ffe2,#00ffdf,#00ffdc,#00ffd9,#00ffd5,#00ffd1,#00ffcd,#00ffc8,#00ffc3,#00ffbd,#00ffb8,#00ffb1,#00ffab,#00ffa4,#00ff9d,#00ff95,#00ff8d,#00ff85,#00ff7c,#00ff73,#00ff69,#00ff5f,#0f5,#00ff4b,#00ff40,#00ff35,#00ff29,#00ff1d,#0f1,#00ff04,#06ff00,#0fff00,#17ff00,#21ff00,#2aff00,#34ff00)"></i>
<i style="background:linear-gradient(90deg,#00ffa7,#00ffad,#00ffb4,#00ffba,#00ffc0,#00ffc5,#00ffca,#00ffcf,#00ffd3,#00ffd7,#00ffda,#00ffde,#00ffe1,#00ffe3,#00ffe5,#00ffe7,#00ffe8,#00ffe9,#00ffea,#00ffea,#00ffea,#00ffea,#00ffe9,#00ffe8,#00ffe7,#00ffe5,#00ffe3,#00ffe0,#0fd,#00ffda,#00ffd6,#00ffd2,#00ffce,#00ffc9,#00ffc4,#00ffbf,#00ffb9,#00ffb3,#00ffac,#00ffa6,#00ff9e,#00ff97,#00ff8f,#00ff87,#00ff7e,#00ff75,#00ff6c,#00ff62,#00ff58,#00ff4d,#00ff42,#00ff37,#00ff2c,#00ff20,#00ff14,#00ff07,#04ff00,#0dff00,#15ff00,#1eff00,#28ff00,#31ff00)"></i>
<i style="background:linear-gradient(90deg,#00ffa5,#00ffac,#00ffb3,#00ffb9,#00ffbf,#00ffc4,#00ffc9,#00ffce,#00ffd2,#00ffd6,#00ffda,#0fd,#00ffe0,#00ffe3,#00ffe5,#00ffe7,#00ffe8,#00ffe9,#00ffea,#00ffeb,#00ffeb,#00ffea,#00ffea,#00ffe9,#00ffe7,#00ffe6,#00ffe3,#00ffe1,#00ffde,#00ffdb,#00ffd7,#00ffd4,#00ffcf,#00ffcb,#00ffc6,#00ffc0,#0fb,#00ffb5,#00ffae,#00ffa7,#00ffa0,#0f9,#00ff91,#00ff89,#00ff80,#0f7,#00ff6e,#00ff64,#00ff5a,#00ff50,#00ff45,#00ff3a,#00ff2e,#00ff23,#00ff16,#00ff0a,#02ff00,#0bff00,#13ff00,#1cff00,#26ff00,#2fff00)"></i>
<i style="background:linear-gradient(90deg,#00ffa4,#00ffab,#00ffb2,#00ffb8,#00ffbe,#00ffc3,#00ffc8,#00ffcd,#00ffd2,#00ffd6,#00ffd9,#0fd,#00ffe0,#00ffe3,#00ffe5,#00ffe7,#00ffe8,#00ffea,#00ffea,#00ffeb,#00ffeb,#00ffeb,#00ffea,#00ffe9,#00ffe8,#00ffe6,#00ffe4,#00ffe2,#00ffdf,#00ffdc,#00ffd9,#00ffd5,#00ffd0,#0fc,#00ffc7,#00ffc2,#00ffbc,#00ffb6,#00ffb0,#00ffa9,#00ffa2,#00ff9b,#00ff93,#00ff8b,#00ff82,#00ff79,#00ff70,#00ff67,#00ff5d,#00ff52,#00ff48,#00ff3d,#00ff31,#00ff25,#00ff19,#00ff0d,#0f0,#08ff00,#1f0,#1aff00,#23ff00,#2dff00)"></i>
<i style="background:linear-gradient(90deg,#00ffa3,#0fa,#00ffb1,#00ffb7,#00ffbd,#00ffc2,#00ffc8,#00ffcd,#00ffd1,#00ffd5,#00ffd9,#00ffdc,#00ffe0,#00ffe2,#00ffe5,#00ffe7,#00ffe8,#00ffea,#00ffeb,#00ffeb,#00ffeb,#00ffeb,#00ffeb,#00ffea,#00ffe9,#00ffe7,#00ffe5,#00ffe3,#00ffe0,#0fd,#00ffda,#00ffd6,#00ffd2,#00ffcd,#00ffc8,#00ffc3,#00ffbe,#00ffb8,#00ffb2,#00ffab,#00ffa4,#00ff9d,#00ff95,#00ff8d,#00ff84,#00ff7c,#00ff72,#00ff69,#00ff5f,#0f5,#00ff4a,#00ff3f,#00ff34,#00ff28,#00ff1c,#00ff10,#00ff03,#06ff00,#0fff00,#18ff00,#21ff00,#2bff00)"></i>
<i style="background:linear-gradient(90deg,#00ffa2,#00ffa9,#00ffaf,#00ffb6,#00ffbc,#00ffc2,#00ffc7,#0fc,#00ffd1,#00ffd5,#00ffd9,#00ffdc,#00ffdf,#00ffe2,#00ffe5,#00ffe7,#00ffe8,#00ffea,#00ffeb,#00ffeb,#00ffec,#00ffec,#00ffeb,#00ffea,#00ffe9,#00ffe8,#00ffe6,#00ffe4,#00ffe1,#00ffde,#00ffdb,#00ffd7,#00ffd3,#00ffcf,#00ffca,#00ffc5,#00ffbf,#00ffb9,#00ffb3,#00ffad,#00ffa6,#00ff9f,#00ff97,#00ff8f,#00ff87,#00ff7e,#00ff75,#00ff6b,#00ff62,#00ff57,#00ff4d,#00ff42,#00ff37,#00ff2b,#00ff1f,#00ff13,#00ff06,#04ff00,#0dff00,#16ff00,#1fff00,#28ff00)"></i>
<i style="background:linear-gradient(90deg,#00ffa0,#00ffa8,#00ffae,#00ffb5,#0fb,#00ffc1,#00ffc6,#00ffcb,#00ffd0,#00ffd4,#00ffd8,#00ffdc,#00ffdf,#00ffe2,#00ffe4,#00ffe7,#00ffe8,#00ffea,#00ffeb,#00ffec,#00ffec,#00ffec,#00ffec,#00ffeb,#00ffea,#00ffe8,#00ffe7,#00ffe5,#00ffe2,#00ffdf,#00ffdc,#00ffd8,#00ffd4,#00ffd0,#00ffcb,#00ffc6,#00ffc1,#0fb,#00ffb5,#00ffaf,#00ffa8,#00ffa1,#0f9,#00ff91,#00ff89,#00ff80,#0f7,#00ff6e,#00ff64,#00ff5a,#00ff50,#00ff45,#00ff3a,#00ff2e,#0f2,#00ff16,#00ff09,#02ff00,#0bff00,#14ff00,#1dff00,#26ff00)"></i>
<i style="background:linear-gradient(90deg,#00ff9f,#00ffa7,#00ffae,#00ffb4,#00ffba,#00ffc0,#00ffc6,#00ffcb,#00ffcf,#00ffd4,#00ffd8,#00ffdc,#00ffdf,#00ffe2,#00ffe4,#00ffe7,#00ffe9,#00ffea,#00ffeb,#00ffec,#00ffec,#00ffed,#00ffec,#00ffec,#00ffeb,#00ffe9,#00ffe8,#00ffe5,#00ffe3,#00ffe0,#0fd,#00ffda,#00ffd6,#00ffd1,#00ffcd,#00ffc8,#00ffc3,#00ffbd,#00ffb7,#00ffb0,#0fa,#00ffa3,#00ff9b,#00ff93,#00ff8b,#00ff83,#00ff7a,#00ff70,#00ff67,#00ff5d,#00ff52,#00ff48,#00ff3d,#00ff31,#00ff25,#00ff19,#00ff0d,#0f0,#09ff00,#1f0,#1aff00,#24ff00)"></i>
<i style="background:linear-gradient(90deg,#00ff9e,#00ffa6,#00ffad,#00ffb3,#00ffb9,#00ffbf,#00ffc5,#00ffca,#00ffcf,#00ffd3,#00ffd8,#00ffdb,#00ffdf,#00ffe2,#00ffe4,#00ffe7,#00ffe9,#00ffea,#00ffec,#00ffec,#00ffed,#00ffed,#00ffed,#00ffec,#00ffeb,#00ffea,#00ffe8,#00ffe6,#00ffe4,#00ffe1,#00ffde,#00ffdb,#00ffd7,#00ffd3,#00ffce,#00ffc9,#00ffc4,#00ffbf,#00ffb9,#00ffb2,#00ffac,#00ffa5,#00ff9d,#00ff96,#00ff8d,#00ff85,#00ff7c,#00ff73,#00ff69,#00ff5f,#0f5,#00ff4a,#00ff3f,#00ff34,#00ff28,#00ff1c,#00ff10,#00ff03,#06ff00,#0fff00,#18ff00,#21ff00)"></i>
<i style="background:linear-gradient(90deg,#00ff9d,#00ffa5,#00ffac,#00ffb2,#00ffb9,#00ffbf,#00ffc4,#00ffca,#00ffcf,#00ffd3,#00ffd7,#00ffdb,#00ffdf,#00ffe2,#00ffe4,#00ffe7,#00ffe9,#00ffeb,#00ffec,#00ffed,#00ffed,#0fe,#00ffed,#00ffed,#00ffec,#00ffeb,#00ffe9,#00ffe7,#00ffe5,#00ffe3,#00ffe0,#00ffdc,#00ffd8,#00ffd4,#00ffd0,#00ffcb,#00ffc6,#00ffc0,#0fb,#00ffb4,#00ffae,#00ffa7,#00ff9f,#00ff98,#00ff90,#00ff87,#00ff7f,#00ff75,#00ff6c,#00ff62,#00ff58,#00ff4d,#00ff42,#00ff37,#00ff2c,#00ff20,#00ff13,#00ff06,#04ff00,#0dff00,#16ff00,#1fff00)"></i>
<i style="background:linear-gradient(90deg,#00ff9c,#00ffa4,#00ffab,#00ffb2,#00ffb8,#00ffbe,#00ffc4,#00ffc9,#00ffce,#00ffd3,#00ffd7,#00ffdb,#00ffde,#00ffe2,#00ffe4,#00ffe7,#00ffe9,#00ffeb,#00ffec,#00ffed,#0fe,#0fe,#0fe,#0fe,#00ffed,#00ffec,#00ffea,#00ffe9,#00ffe6,#00ffe4,#00ffe1,#00ffde,#00ffda,#00ffd6,#00ffd2,#00ffcd,#00ffc8,#00ffc2,#00ffbc,#00ffb6,#00ffb0,#00ffa9,#00ffa2,#00ff9a,#00ff92,#00ff8a,#00ff81,#00ff78,#00ff6f,#00ff65,#00ff5b,#00ff50,#00ff45,#00ff3a,#00ff2f,#00ff23,#00ff16,#00ff0a,#02ff00,#0bff00,#14ff00,#1dff00)"></i>
<i style="background:linear-gradient(90deg,#00ff9b,#00ffa3,#0fa,#00ffb1,#00ffb7,#00ffbd,#00ffc3,#00ffc9,#00ffce,#00ffd2,#00ffd7,#00ffdb,#00ffde,#00ffe2,#00ffe5,#00ffe7,#00ffe9,#00ffeb,#00ffed,#0fe,#0fe,#00ffef,#00ffef,#0fe,#0fe,#00ffed,#00ffeb,#00ffea,#00ffe7,#00ffe5,#00ffe2,#00ffdf,#00ffdb,#00ffd7,#00ffd3,#00ffce,#00ffc9,#00ffc4,#00ffbe,#00ffb8,#00ffb2,#00ffab,#00ffa4,#00ff9c,#00ff94,#00ff8c,#00ff84,#00ff7b,#00ff71,#00ff68,#00ff5e,#00ff53,#00ff48,#00ff3d,#00ff32,#00ff26,#00ff1a,#00ff0d,#0f0,#08ff00,#1f0,#1aff00)"></i>
<i style="background:linear-gradient(90deg,#00ff9a,#00ffa2,#00ffa9,#00ffb0,#00ffb7,#00ffbd,#00ffc3,#00ffc8,#00ffcd,#00ffd2,#00ffd7,#00ffdb,#00ffde,#00ffe2,#00ffe5,#00ffe7,#00ffe9,#00ffeb,#00ffed,#0fe,#00ffef,#00ffef,#00fff0,#00ffef,#00ffef,#0fe,#00ffec,#00ffeb,#00ffe9,#00ffe6,#00ffe3,#00ffe0,#0fd,#00ffd9,#00ffd5,#00ffd0,#00ffcb,#00ffc6,#00ffc0,#00ffba,#00ffb4,#00ffad,#00ffa6,#00ff9f,#00ff97,#00ff8f,#00ff86,#00ff7d,#00ff74,#00ff6a,#00ff60,#00ff56,#00ff4b,#00ff40,#00ff35,#00ff29,#00ff1d,#0f1,#00ff04,#06ff00,#0fff00,#18ff00)"></i>
<i style="background:linear-gradient(90deg,#0f9,#00ffa1,#00ffa8,#00ffaf,#00ffb6,#00ffbc,#00ffc2,#00ffc8,#00ffcd,#00ffd2,#00ffd6,#00ffda,#00ffde,#00ffe2,#00ffe5,#00ffe7,#00ffea,#00ffec,#00ffed,#00ffef,#00fff0,#00fff0,#00fff0,#00fff0,#00fff0,#00ffef,#00ffed,#00ffec,#00ffea,#00ffe7,#00ffe5,#00ffe2,#00ffde,#00ffdb,#00ffd6,#00ffd2,#00ffcd,#00ffc8,#00ffc2,#00ffbc,#00ffb6,#00ffaf,#00ffa8,#00ffa1,#0f9,#00ff91,#00ff89,#00ff80,#0f7,#00ff6d,#00ff63,#00ff59,#00ff4e,#00ff43,#00ff38,#00ff2c,#00ff20,#00ff14,#00ff07,#04ff00,#0dff00,#15ff00)"></i>
<i style="background:linear-gradient(90deg,#00ff98,#00ffa0,#00ffa7,#00ffaf,#00ffb5,#00ffbc,#00ffc2,#00ffc7,#00ffcd,#00ffd2,#00ffd6,#00ffda,#00ffde,#00ffe2,#00ffe5,#00ffe8,#00ffea,#00ffec,#0fe,#00ffef,#00fff0,#00fff1,#00fff1,#00fff1,#00fff0,#00fff0,#0fe,#00ffed,#00ffeb,#00ffe9,#00ffe6,#00ffe3,#00ffe0,#00ffdc,#00ffd8,#00ffd4,#00ffcf,#00ffca,#00ffc4,#00ffbe,#00ffb8,#00ffb2,#00ffab,#00ffa3,#00ff9c,#00ff94,#00ff8b,#00ff83,#00ff7a,#00ff70,#0f6,#00ff5c,#00ff52,#00ff47,#00ff3b,#00ff30,#00ff24,#00ff17,#00ff0b,#01ff00,#0aff00,#13ff00)"></i>
<i style="background:linear-gradient(90deg,#00ff97,#00ff9f,#00ffa7,#00ffae,#00ffb5,#0fb,#00ffc1,#00ffc7,#0fc,#00ffd1,#00ffd6,#00ffda,#00ffde,#00ffe2,#00ffe5,#00ffe8,#00ffea,#00ffed,#0fe,#00fff0,#00fff1,#00fff1,#00fff2,#00fff2,#00fff1,#00fff1,#00fff0,#0fe,#00ffec,#00ffea,#00ffe8,#00ffe5,#00ffe1,#00ffde,#00ffda,#00ffd5,#00ffd1,#0fc,#00ffc6,#00ffc1,#00ffba,#00ffb4,#00ffad,#00ffa6,#00ff9e,#00ff96,#00ff8e,#00ff85,#00ff7c,#00ff73,#00ff69,#00ff5f,#0f5,#00ff4a,#00ff3f,#0f3,#00ff27,#00ff1b,#00ff0e,#00ff01,#08ff00,#1f0)"></i>
<i style="background:linear-gradient(90deg,#00ff96,#00ff9e,#00ffa6,#00ffad,#00ffb4,#0fb,#00ffc1,#00ffc7,#0fc,#00ffd1,#00ffd6,#00ffda,#00ffde,#00ffe2,#00ffe5,#00ffe8,#00ffeb,#00ffed,#00ffef,#00fff0,#00fff1,#00fff2,#00fff3,#00fff3,#00fff2,#00fff2,#00fff1,#00ffef,#0fe,#00ffeb,#00ffe9,#00ffe6,#00ffe3,#00ffdf,#00ffdc,#00ffd7,#00ffd3,#00ffce,#00ffc8,#00ffc3,#00ffbd,#00ffb6,#00ffaf,#00ffa8,#00ffa1,#0f9,#00ff91,#0f8,#00ff7f,#00ff76,#00ff6c,#00ff62,#00ff58,#00ff4d,#00ff42,#00ff36,#00ff2b,#00ff1e,#00ff12,#00ff05,#05ff00,#0eff00)"></i>
<i style="background:linear-gradient(90deg,#00ff96,#00ff9e,#00ffa5,#00ffad,#00ffb4,#00ffba,#00ffc0,#00ffc6,#0fc,#00ffd1,#00ffd6,#00ffda,#00ffde,#00ffe2,#00ffe5,#00ffe8,#00ffeb,#00ffed,#00ffef,#00fff1,#00fff2,#00fff3,#00fff3,#00fff4,#00fff3,#00fff3,#00fff2,#00fff1,#00ffef,#00ffed,#00ffea,#00ffe8,#00ffe5,#00ffe1,#0fd,#00ffd9,#00ffd5,#00ffd0,#00ffca,#00ffc5,#00ffbf,#00ffb8,#00ffb2,#00ffab,#00ffa3,#00ff9b,#00ff93,#00ff8b,#00ff82,#00ff79,#00ff6f,#00ff65,#00ff5b,#00ff50,#00ff45,#00ff3a,#00ff2e,#0f2,#00ff16,#00ff09,#03ff00,#0cff00)"></i>
<i style="background:linear-gradient(90deg,#00ff95,#00ff9d,#00ffa5,#00ffac,#00ffb3,#00ffba,#00ffc0,#00ffc6,#0fc,#00ffd1,#00ffd6,#00ffda,#00ffde,#00ffe2,#00ffe6,#00ffe9,#00ffec,#0fe,#00fff0,#00fff2,#00fff3,#00fff4,#00fff4,#00fff5,#00fff4,#00fff4,#00fff3,#00fff2,#00fff0,#0fe,#00ffec,#00ffe9,#00ffe6,#00ffe3,#00ffdf,#00ffdb,#00ffd7,#00ffd2,#00ffcd,#00ffc7,#00ffc1,#0fb,#00ffb4,#00ffad,#00ffa6,#00ff9e,#00ff96,#00ff8e,#00ff85,#00ff7c,#00ff72,#00ff68,#00ff5e,#00ff54,#00ff49,#00ff3d,#00ff32,#00ff26,#00ff19,#00ff0c,#0f0,#09ff00)"></i>
<i style="background:linear-gradient(90deg,#00ff94,#00ff9c,#00ffa4,#00ffab,#00ffb3,#00ffb9,#00ffc0,#00ffc6,#00ffcb,#00ffd1,#00ffd6,#00ffda,#00ffdf,#00ffe2,#00ffe6,#00ffe9,#00ffec,#0fe,#00fff1,#00fff2,#00fff4,#00fff5,#00fff5,#00fff6,#00fff5,#00fff5,#00fff4,#00fff3,#00fff2,#00fff0,#00ffed,#00ffeb,#00ffe8,#00ffe5,#00ffe1,#0fd,#00ffd9,#00ffd4,#00ffcf,#00ffc9,#00ffc3,#00ffbd,#00ffb7,#00ffb0,#00ffa8,#00ffa1,#0f9,#00ff90,#0f8,#00ff7f,#00ff75,#00ff6b,#00ff61,#00ff57,#00ff4c,#00ff41,#00ff35,#00ff29,#00ff1d,#00ff10,#00ff03,#07ff00)"></i>
<i style="background:linear-gradient(90deg,#00ff93,#00ff9b,#00ffa3,#00ffab,#00ffb2,#00ffb9,#00ffbf,#00ffc6,#00ffcb,#00ffd1,#00ffd6,#00ffda,#00ffdf,#00ffe3,#00ffe6,#00ffea,#00ffec,#00ffef,#00fff1,#00fff3,#00fff4,#00fff5,#00fff6,#00fff7,#00fff7,#00fff6,#00fff5,#00fff4,#00fff3,#00fff1,#00ffef,#00ffed,#00ffea,#00ffe6,#00ffe3,#00ffdf,#00ffdb,#00ffd6,#00ffd1,#00ffcb,#00ffc6,#00ffc0,#00ffb9,#00ffb2,#00ffab,#00ffa4,#00ff9c,#00ff93,#00ff8b,#00ff82,#00ff78,#00ff6f,#00ff65,#00ff5a,#00ff4f,#0f4,#00ff39,#00ff2d,#00ff21,#00ff14,#00ff07,#04ff00)"></i>
<i style="background:linear-gradient(90deg,#00ff92,#00ff9b,#00ffa3,#0fa,#00ffb2,#00ffb9,#00ffbf,#00ffc5,#00ffcb,#00ffd1,#00ffd6,#00ffdb,#00ffdf,#00ffe3,#00ffe7,#00ffea,#00ffed,#00fff0,#00fff2,#00fff4,#00fff5,#00fff6,#00fff7,#00fff8,#00fff8,#00fff7,#00fff7,#00fff6,#00fff4,#00fff3,#00fff1,#0fe,#00ffeb,#00ffe8,#00ffe5,#00ffe1,#0fd,#00ffd8,#00ffd3,#00ffce,#00ffc8,#00ffc2,#00ffbc,#00ffb5,#00ffae,#00ffa6,#00ff9e,#00ff96,#00ff8e,#00ff85,#00ff7b,#00ff72,#00ff68,#00ff5e,#00ff53,#00ff48,#00ff3c,#00ff31,#00ff24,#00ff18,#00ff0b,#01ff00)"></i>
<i style="background:linear-gradient(90deg,#00ff92,#00ff9a,#00ffa2,#0fa,#00ffb1,#00ffb8,#00ffbf,#00ffc5,#00ffcb,#00ffd1,#00ffd6,#00ffdb,#00ffdf,#00ffe3,#00ffe7,#00ffea,#00ffed,#00fff0,#00fff2,#00fff4,#00fff6,#00fff7,#00fff8,#00fff9,#00fff9,#00fff9,#00fff8,#00fff7,#00fff6,#00fff4,#00fff2,#00fff0,#00ffed,#00ffea,#00ffe7,#00ffe3,#00ffdf,#00ffda,#00ffd5,#00ffd0,#00ffca,#00ffc4,#00ffbe,#00ffb7,#00ffb0,#00ffa9,#00ffa1,#0f9,#00ff91,#0f8,#00ff7f,#00ff75,#00ff6b,#00ff61,#00ff56,#00ff4b,#00ff40,#00ff34,#00ff28,#00ff1c,#00ff0f,#00ff02)"></i>
<i style="background:linear-gradient(90deg,#00ff91,#00ff9a,#00ffa2,#00ffa9,#00ffb1,#00ffb8,#00ffbf,#00ffc5,#00ffcb,#00ffd1,#00ffd6,#00ffdb,#00ffdf,#00ffe4,#00ffe7,#00ffeb,#0fe,#00fff1,#00fff3,#00fff5,#00fff7,#00fff8,#00fff9,#00fffa,#00fffa,#00fffa,#00fff9,#00fff9,#00fff7,#00fff6,#00fff4,#00fff2,#00ffef,#00ffec,#00ffe9,#00ffe5,#00ffe1,#00ffdc,#00ffd7,#00ffd2,#00ffcd,#00ffc7,#00ffc1,#00ffba,#00ffb3,#00ffac,#00ffa4,#00ff9c,#00ff94,#00ff8b,#00ff82,#00ff78,#00ff6f,#00ff64,#00ff5a,#00ff4f,#0f4,#00ff38,#00ff2c,#00ff20,#00ff13,#00ff06)"></i>
<i style="background:linear-gradient(90deg,#00ff90,#0f9,#00ffa1,#00ffa9,#00ffb1,#00ffb8,#00ffbe,#00ffc5,#00ffcb,#00ffd1,#00ffd6,#00ffdb,#00ffe0,#00ffe4,#00ffe8,#00ffeb,#00ffef,#00fff1,#00fff4,#00fff6,#00fff8,#00fff9,#00fffa,#00fffb,#00fffb,#00fffb,#00fffb,#00fffa,#00fff9,#00fff7,#00fff5,#00fff3,#00fff1,#0fe,#00ffeb,#00ffe7,#00ffe3,#00ffde,#00ffda,#00ffd5,#00ffcf,#00ffc9,#00ffc3,#00ffbd,#00ffb6,#00ffaf,#00ffa7,#00ff9f,#00ff97,#00ff8e,#00ff85,#00ff7c,#00ff72,#00ff68,#00ff5d,#00ff52,#00ff47,#00ff3c,#00ff30,#00ff23,#00ff17,#00ff0a)"></i>
<i style="background:linear-gradient(90deg,#00ff90,#00ff98,#00ffa1,#00ffa9,#00ffb0,#00ffb7,#00ffbe,#00ffc5,#00ffcb,#00ffd1,#00ffd6,#00ffdb,#00ffe0,#00ffe4,#00ffe8,#00ffec,#00ffef,#00fff2,#00fff5,#00fff7,#00fff9,#00fffa,#00fffb,#00fffc,#00fffc,#00fffc,#00fffc,#00fffb,#00fffa,#00fff9,#00fff7,#00fff5,#00fff3,#00fff0,#00ffed,#00ffe9,#00ffe5,#00ffe1,#00ffdc,#00ffd7,#00ffd2,#0fc,#00ffc6,#00ffbf,#00ffb9,#00ffb1,#0fa,#00ffa2,#00ff9a,#00ff91,#0f8,#00ff7f,#00ff75,#00ff6b,#00ff61,#00ff56,#00ff4b,#00ff3f,#00ff34,#00ff27,#00ff1b,#00ff0e)"></i>
<i style="background:linear-gradient(90deg,#00ff8f,#00ff98,#00ffa0,#00ffa8,#00ffb0,#00ffb7,#00ffbe,#00ffc5,#00ffcb,#00ffd1,#00ffd6,#00ffdb,#00ffe0,#00ffe5,#00ffe9,#00ffec,#00fff0,#00fff3,#00fff5,#00fff8,#00fffa,#00fffb,#00fffc,#00fffd,#00fffe,#00fffe,#00fffd,#00fffd,#00fffc,#00fffb,#00fff9,#00fff7,#00fff4,#00fff2,#00ffef,#00ffeb,#00ffe7,#00ffe3,#00ffde,#00ffd9,#00ffd4,#00ffcf,#00ffc9,#00ffc2,#0fb,#00ffb4,#00ffad,#00ffa5,#00ff9d,#00ff94,#00ff8c,#00ff82,#00ff79,#00ff6f,#00ff64,#00ff5a,#00ff4f,#00ff43,#00ff37,#00ff2b,#00ff1f,#00ff12)"></i>
<i style="background:linear-gradient(90deg,#00ff8f,#00ff97,#00ffa0,#00ffa8,#00ffb0,#00ffb7,#00ffbe,#00ffc5,#00ffcb,#00ffd1,#00ffd7,#00ffdc,#00ffe1,#00ffe5,#00ffe9,#00ffed,#00fff0,#00fff4,#00fff6,#00fff9,#00fffb,#00fffc,#00fffd,#00fffe,#0ff,#0ff,#0ff,#00fffe,#00fffe,#00fffc,#00fffb,#00fff9,#00fff6,#00fff4,#00fff1,#00ffed,#00ffe9,#00ffe5,#00ffe1,#00ffdc,#00ffd7,#00ffd1,#00ffcb,#00ffc5,#00ffbe,#00ffb7,#00ffb0,#00ffa8,#00ffa0,#00ff98,#00ff8f,#00ff86,#00ff7c,#00ff72,#00ff68,#00ff5d,#00ff52,#00ff47,#00ff3b,#00ff2f,#00ff23,#00ff16)"></i>
<i style="background:linear-gradient(90deg,#00ff8e,#00ff97,#00ff9f,#00ffa8,#00ffaf,#00ffb7,#00ffbe,#00ffc5,#00ffcb,#00ffd1,#00ffd7,#00ffdc,#00ffe1,#00ffe6,#00ffea,#0fe,#00fff1,#00fff4,#00fff7,#00fffa,#00fffc,#00fffd,#0ff,#00feff,#00feff,#00feff,#00feff,#00feff,#0ff,#00fffe,#00fffc,#00fffb,#00fff8,#00fff6,#00fff3,#00ffef,#00ffec,#00ffe8,#00ffe3,#00ffde,#00ffd9,#00ffd4,#00ffce,#00ffc8,#00ffc1,#00ffba,#00ffb3,#00ffab,#00ffa3,#00ff9b,#00ff92,#00ff89,#00ff80,#00ff76,#00ff6c,#00ff61,#00ff56,#00ff4b,#00ff3f,#0f3,#00ff27,#00ff1a)"></i>
<i style="background:linear-gradient(90deg,#00ff8d,#00ff96,#00ff9f,#00ffa7,#00ffaf,#00ffb7,#00ffbe,#00ffc5,#00ffcb,#00ffd1,#00ffd7,#00ffdc,#00ffe1,#00ffe6,#00ffea,#0fe,#00fff2,#00fff5,#00fff8,#00fffa,#00fffd,#00fffe,#00feff,#00fdff,#00fdff,#00fcff,#00fcff,#00fdff,#00fdff,#00feff,#00fffe,#00fffc,#00fffa,#00fff8,#00fff5,#00fff2,#0fe,#00ffea,#00ffe6,#00ffe1,#00ffdc,#00ffd6,#00ffd1,#00ffca,#00ffc4,#00ffbd,#00ffb6,#00ffae,#00ffa6,#00ff9e,#00ff95,#00ff8c,#00ff83,#00ff79,#00ff6f,#00ff65,#00ff5a,#00ff4f,#00ff43,#00ff37,#00ff2b,#00ff1f)"></i>
<i style="background:linear-gradient(90deg,#00ff8d,#00ff96,#00ff9f,#00ffa7,#00ffaf,#00ffb7,#00ffbe,#00ffc5,#00ffcb,#00ffd1,#00ffd7,#0fd,#00ffe2,#00ffe7,#00ffeb,#00ffef,#00fff3,#00fff6,#00fff9,#00fffb,#00fffe,#0ff,#00fdff,#00fcff,#00fcff,#00fbff,#00fbff,#00fbff,#00fcff,#00fdff,#00feff,#00fffe,#00fffc,#00fffa,#00fff7,#00fff4,#00fff0,#00ffec,#00ffe8,#00ffe3,#00ffde,#00ffd9,#00ffd3,#00ffcd,#00ffc7,#00ffc0,#00ffb9,#00ffb1,#0fa,#00ffa1,#0f9,#00ff90,#00ff87,#00ff7d,#00ff73,#00ff69,#00ff5e,#00ff53,#00ff47,#00ff3b,#00ff2f,#00ff23)"></i>
<i style="background:linear-gradient(90deg,#00ff8d,#00ff96,#00ff9e,#00ffa7,#00ffaf,#00ffb7,#00ffbe,#00ffc5,#00ffcb,#00ffd2,#00ffd8,#0fd,#00ffe2,#00ffe7,#00ffec,#00fff0,#00fff3,#00fff7,#00fffa,#00fffc,#0ff,#00feff,#00fcff,#00fbff,#00faff,#00faff,#00faff,#00faff,#00fbff,#00fbff,#00fcff,#00feff,#00fffe,#00fffc,#00fff9,#00fff6,#00fff3,#00ffef,#00ffea,#00ffe6,#00ffe1,#00ffdc,#00ffd6,#00ffd0,#00ffca,#00ffc3,#00ffbc,#00ffb5,#00ffad,#00ffa5,#00ff9c,#00ff93,#00ff8a,#00ff81,#0f7,#00ff6c,#00ff62,#00ff57,#00ff4b,#00ff40,#0f3,#00ff27)"></i>
<i style="background:linear-gradient(90deg,#00ff8c,#00ff95,#00ff9e,#00ffa7,#00ffaf,#00ffb7,#00ffbe,#00ffc5,#0fc,#00ffd2,#00ffd8,#00ffde,#00ffe3,#00ffe8,#00ffec,#00fff0,#00fff4,#00fff8,#00fffb,#00fffd,#00feff,#00fdff,#00fbff,#00faff,#00f9ff,#00f9ff,#00f8ff,#00f9ff,#00f9ff,#00faff,#00fbff,#00fcff,#00feff,#00fffe,#00fffb,#00fff8,#00fff5,#00fff1,#00ffed,#00ffe9,#00ffe4,#00ffdf,#00ffd9,#00ffd3,#00ffcd,#00ffc6,#00ffbf,#00ffb8,#00ffb0,#00ffa8,#00ffa0,#00ff97,#00ff8e,#00ff84,#00ff7a,#00ff70,#0f6,#00ff5b,#00ff4f,#0f4,#00ff38,#00ff2b)"></i>
<i style="background:linear-gradient(90deg,#00ff8c,#00ff95,#00ff9e,#00ffa6,#00ffaf,#00ffb7,#00ffbe,#00ffc5,#0fc,#00ffd2,#00ffd8,#00ffde,#00ffe3,#00ffe8,#00ffed,#00fff1,#00fff5,#00fff9,#00fffc,#0ff,#00fdff,#00fbff,#00faff,#00f9ff,#00f8ff,#00f7ff,#00f7ff,#00f7ff,#00f8ff,#00f8ff,#00f9ff,#00fbff,#00fcff,#00feff,#00fffd,#00fffb,#00fff7,#00fff4,#00fff0,#00ffeb,#00ffe6,#00ffe1,#00ffdc,#00ffd6,#00ffd0,#00ffc9,#00ffc2,#0fb,#00ffb3,#00ffab,#00ffa3,#00ff9a,#00ff91,#0f8,#00ff7e,#00ff74,#00ff69,#00ff5f,#00ff53,#00ff48,#00ff3c,#00ff30)"></i>
<i style="background:linear-gradient(90deg,#00ff8b,#00ff95,#00ff9e,#00ffa6,#00ffaf,#00ffb7,#00ffbe,#00ffc5,#0fc,#00ffd3,#00ffd9,#00ffde,#00ffe4,#00ffe9,#0fe,#00fff2,#00fff6,#00fffa,#00fffd,#00feff,#00fcff,#00faff,#00f9ff,#00f8ff,#00f7ff,#00f6ff,#00f6ff,#00f6ff,#00f6ff,#00f7ff,#00f8ff,#00f9ff,#00faff,#00fcff,#00feff,#00fffd,#00fffa,#00fff6,#00fff2,#0fe,#00ffe9,#00ffe4,#00ffdf,#00ffd9,#00ffd3,#0fc,#00ffc6,#00ffbe,#00ffb7,#00ffaf,#00ffa7,#00ff9e,#00ff95,#00ff8c,#00ff82,#00ff78,#00ff6d,#00ff63,#00ff57,#00ff4c,#00ff40,#00ff34)"></i>
<i style="background:linear-gradient(90deg,#00ff8b,#00ff94,#00ff9d,#00ffa6,#00ffaf,#00ffb7,#00ffbe,#00ffc5,#0fc,#00ffd3,#00ffd9,#00ffdf,#00ffe4,#00ffea,#0fe,#00fff3,#00fff7,#00fffa,#00fffe,#00fdff,#00fbff,#00f9ff,#00f8ff,#00f6ff,#00f5ff,#00f5ff,#00f4ff,#00f4ff,#00f4ff,#00f5ff,#00f6ff,#00f7ff,#00f8ff,#00faff,#00fcff,#0ff,#00fffc,#00fff9,#00fff5,#00fff0,#00ffec,#00ffe7,#00ffe2,#00ffdc,#00ffd6,#00ffcf,#00ffc9,#00ffc2,#00ffba,#00ffb2,#0fa,#00ffa2,#0f9,#00ff8f,#00ff86,#00ff7c,#00ff71,#00ff67,#00ff5c,#00ff50,#0f4,#00ff38)"></i>
<i style="background:linear-gradient(90deg,#00ff8b,#00ff94,#00ff9d,#00ffa6,#00ffaf,#00ffb7,#00ffbe,#00ffc6,#00ffcd,#00ffd3,#00ffda,#00ffe0,#00ffe5,#00ffea,#00ffef,#00fff4,#00fff8,#00fffb,#0ff,#00fcff,#00faff,#00f8ff,#00f6ff,#00f5ff,#00f4ff,#00f3ff,#00f3ff,#00f3ff,#00f3ff,#00f3ff,#00f4ff,#00f5ff,#00f7ff,#00f8ff,#00faff,#00fdff,#0ff,#00fffb,#00fff7,#00fff3,#00ffef,#00ffea,#00ffe4,#00ffdf,#00ffd9,#00ffd3,#0fc,#00ffc5,#00ffbe,#00ffb6,#00ffae,#00ffa5,#00ff9c,#00ff93,#00ff8a,#00ff80,#00ff75,#00ff6b,#00ff60,#00ff54,#00ff49,#00ff3d)"></i>
<i style="background:linear-gradient(90deg,#00ff8a,#00ff94,#00ff9d,#00ffa6,#00ffaf,#00ffb7,#00ffbe,#00ffc6,#00ffcd,#00ffd4,#00ffda,#00ffe0,#00ffe6,#00ffeb,#00fff0,#00fff4,#00fff9,#00fffc,#00feff,#00fbff,#00f9ff,#00f7ff,#00f5ff,#00f4ff,#00f3ff,#00f2ff,#00f1ff,#00f1ff,#00f1ff,#00f2ff,#00f2ff,#00f3ff,#00f5ff,#00f6ff,#00f8ff,#00fbff,#00fdff,#00fffe,#00fffa,#00fff6,#00fff1,#00ffed,#00ffe7,#00ffe2,#00ffdc,#00ffd6,#00ffcf,#00ffc8,#00ffc1,#00ffb9,#00ffb1,#00ffa9,#00ffa0,#00ff97,#00ff8d,#00ff84,#00ff79,#00ff6f,#00ff64,#00ff59,#00ff4d,#00ff41)"></i>
<i style="background:linear-gradient(90deg,#00ff8a,#00ff94,#00ff9d,#00ffa6,#00ffaf,#00ffb7,#00ffbf,#00ffc6,#00ffcd,#00ffd4,#00ffdb,#00ffe1,#00ffe6,#00ffec,#00fff1,#00fff5,#00fffa,#00fffe,#00fdff,#00faff,#00f8ff,#00f6ff,#00f4ff,#00f2ff,#00f1ff,#00f0ff,#00f0ff,#00efff,#00f0ff,#00f0ff,#00f1ff,#00f2ff,#00f3ff,#00f4ff,#00f6ff,#00f9ff,#00fbff,#00feff,#00fffd,#00fff9,#00fff4,#00ffef,#00ffea,#00ffe5,#00ffdf,#00ffd9,#00ffd2,#0fc,#00ffc4,#00ffbd,#00ffb5,#00ffac,#00ffa4,#00ff9b,#00ff91,#0f8,#00ff7d,#00ff73,#00ff68,#00ff5d,#00ff51,#00ff45)"></i>
<i style="background:linear-gradient(90deg,#00ff8a,#00ff94,#00ff9d,#00ffa6,#00ffaf,#00ffb7,#00ffbf,#00ffc7,#00ffce,#00ffd5,#00ffdb,#00ffe1,#00ffe7,#00ffec,#00fff2,#00fff6,#00fffb,#0ff,#00fcff,#00f9ff,#00f7ff,#00f5ff,#00f3ff,#00f1ff,#00f0ff,#00efff,#0ef,#0ef,#0ef,#0ef,#00efff,#00f0ff,#00f1ff,#00f2ff,#00f4ff,#00f6ff,#00f9ff,#00fcff,#0ff,#00fffb,#00fff7,#00fff2,#00ffed,#00ffe8,#00ffe2,#00ffdc,#00ffd6,#00ffcf,#00ffc8,#00ffc0,#00ffb8,#00ffb0,#00ffa8,#00ff9f,#00ff95,#00ff8c,#00ff82,#0f7,#00ff6c,#00ff61,#00ff56,#00ff4a)"></i>
<i style="background:linear-gradient(90deg,#00ff8a,#00ff93,#00ff9d,#00ffa6,#00ffaf,#00ffb7,#00ffbf,#00ffc7,#00ffce,#00ffd5,#00ffdc,#00ffe2,#00ffe8,#00ffed,#00fff2,#00fff7,#00fffc,#00feff,#00fbff,#00f8ff,#00f6ff,#00f3ff,#00f1ff,#00f0ff,#0ef,#00edff,#00edff,#00ecff,#00ecff,#00ecff,#00edff,#0ef,#00efff,#00f0ff,#00f2ff,#00f4ff,#00f7ff,#00f9ff,#00fcff,#00fffe,#00fffa,#00fff5,#00fff0,#00ffeb,#00ffe6,#00ffe0,#00ffd9,#00ffd2,#00ffcb,#00ffc4,#00ffbc,#00ffb4,#00ffab,#00ffa2,#0f9,#00ff90,#00ff86,#00ff7b,#00ff71,#0f6,#00ff5a,#00ff4e)"></i>
<i style="background:linear-gradient(90deg,#00ff89,#00ff93,#00ff9d,#00ffa6,#00ffaf,#00ffb7,#00ffbf,#00ffc7,#00ffcf,#00ffd6,#00ffdc,#00ffe3,#00ffe9,#0fe,#00fff3,#00fff8,#00fffd,#00fdff,#00faff,#00f7ff,#00f4ff,#00f2ff,#00f0ff,#0ef,#00edff,#00ecff,#00ebff,#00ebff,#00eaff,#00ebff,#00ebff,#00ecff,#00edff,#0ef,#00f0ff,#00f2ff,#00f4ff,#00f7ff,#00faff,#00fdff,#00fffd,#00fff8,#00fff4,#0fe,#00ffe9,#00ffe3,#0fd,#00ffd6,#00ffcf,#00ffc7,#00ffc0,#00ffb8,#00ffaf,#00ffa6,#00ff9d,#00ff94,#00ff8a,#00ff80,#00ff75,#00ff6a,#00ff5f,#00ff53)"></i>
<i style="background:linear-gradient(90deg,#00ff89,#00ff93,#00ff9d,#00ffa6,#00ffaf,#00ffb8,#00ffc0,#00ffc8,#00ffcf,#00ffd6,#0fd,#00ffe3,#00ffe9,#00ffef,#00fff4,#00fff9,#00fffe,#00fcff,#00f9ff,#00f6ff,#00f3ff,#00f1ff,#00efff,#00edff,#00ecff,#00eaff,#00e9ff,#00e9ff,#00e9ff,#00e9ff,#00e9ff,#00eaff,#00ebff,#00ecff,#0ef,#00f0ff,#00f2ff,#00f5ff,#00f8ff,#00fbff,#00feff,#00fffb,#00fff7,#00fff1,#00ffec,#00ffe6,#00ffe0,#00ffd9,#00ffd2,#00ffcb,#00ffc3,#0fb,#00ffb3,#0fa,#00ffa1,#00ff98,#00ff8e,#00ff84,#00ff79,#00ff6e,#00ff63,#00ff58)"></i>
<i style="background:linear-gradient(90deg,#00ff89,#00ff93,#00ff9d,#00ffa6,#00ffaf,#00ffb8,#00ffc0,#00ffc8,#00ffd0,#00ffd7,#00ffde,#00ffe4,#00ffea,#00fff0,#00fff5,#00fffa,#0ff,#00fbff,#00f8ff,#00f5ff,#00f2ff,#00f0ff,#00edff,#00ecff,#00eaff,#00e9ff,#00e8ff,#00e7ff,#00e7ff,#00e7ff,#00e7ff,#00e8ff,#00e9ff,#00eaff,#00ecff,#0ef,#00f0ff,#00f2ff,#00f5ff,#00f8ff,#00fcff,#00fffe,#00fffa,#00fff5,#00ffef,#00ffe9,#00ffe3,#0fd,#00ffd6,#00ffcf,#00ffc7,#00ffbf,#00ffb7,#00ffae,#00ffa5,#00ff9c,#00ff92,#0f8,#00ff7e,#00ff73,#00ff68,#00ff5c)"></i>
<i style="background:linear-gradient(90deg,#00ff89,#00ff93,#00ff9d,#00ffa6,#00ffaf,#00ffb8,#00ffc0,#00ffc8,#00ffd0,#00ffd7,#00ffde,#00ffe5,#00ffeb,#00fff1,#00fff6,#00fffb,#00feff,#00faff,#00f7ff,#00f4ff,#00f1ff,#0ef,#00ecff,#00eaff,#00e8ff,#00e7ff,#00e6ff,#00e6ff,#00e5ff,#00e5ff,#00e5ff,#00e6ff,#00e7ff,#00e8ff,#00eaff,#00ebff,#00edff,#00f0ff,#00f3ff,#00f6ff,#00f9ff,#00fdff,#00fffd,#00fff8,#00fff3,#00ffed,#00ffe7,#00ffe0,#00ffda,#00ffd2,#00ffcb,#00ffc3,#0fb,#00ffb2,#00ffa9,#00ffa0,#00ff96,#00ff8c,#00ff82,#0f7,#00ff6c,#00ff61)"></i>
<i style="background:linear-gradient(90deg,#00ff89,#00ff93,#00ff9d,#00ffa7,#00ffb0,#00ffb8,#00ffc1,#00ffc9,#00ffd1,#00ffd8,#00ffdf,#00ffe6,#00ffec,#00fff2,#00fff7,#00fffc,#00fdff,#00f9ff,#00f6ff,#00f2ff,#00f0ff,#00edff,#00ebff,#00e9ff,#00e7ff,#00e6ff,#00e5ff,#00e4ff,#00e3ff,#00e3ff,#00e3ff,#00e4ff,#00e5ff,#00e6ff,#00e7ff,#00e9ff,#00ebff,#0ef,#00f0ff,#00f3ff,#00f7ff,#00faff,#00feff,#00fffb,#00fff6,#00fff0,#00ffea,#00ffe4,#0fd,#00ffd6,#00ffcf,#00ffc7,#00ffbf,#00ffb6,#00ffad,#00ffa4,#00ff9b,#00ff91,#00ff86,#00ff7c,#00ff71,#00ff65)"></i>
<i style="background:linear-gradient(90deg,#00ff89,#00ff93,#00ff9d,#00ffa7,#00ffb0,#00ffb9,#00ffc1,#00ffc9,#00ffd1,#00ffd9,#00ffe0,#00ffe6,#00ffed,#00fff3,#00fff8,#00fffd,#00fcff,#00f8ff,#00f5ff,#00f1ff,#0ef,#00ecff,#00e9ff,#00e7ff,#00e5ff,#00e4ff,#00e3ff,#00e2ff,#00e2ff,#00e1ff,#00e1ff,#00e2ff,#00e3ff,#00e4ff,#00e5ff,#00e7ff,#00e9ff,#00ebff,#0ef,#00f1ff,#00f4ff,#00f7ff,#00fbff,#00fffe,#00fff9,#00fff4,#0fe,#00ffe8,#00ffe1,#00ffda,#00ffd3,#00ffcb,#00ffc3,#00ffba,#00ffb2,#00ffa8,#00ff9f,#00ff95,#00ff8b,#00ff80,#00ff75,#00ff6a)"></i>
<i style="background:linear-gradient(90deg,#00ff89,#00ff93,#00ff9d,#00ffa7,#00ffb0,#00ffb9,#00ffc2,#00ffca,#00ffd2,#00ffd9,#00ffe0,#00ffe7,#0fe,#00fff4,#00fff9,#0ff,#00fbff,#00f7ff,#00f3ff,#00f0ff,#00edff,#00eaff,#00e8ff,#00e6ff,#00e4ff,#00e2ff,#00e1ff,#00e0ff,#00e0ff,#00dfff,#00dfff,#00e0ff,#00e1ff,#00e2ff,#00e3ff,#00e4ff,#00e6ff,#00e9ff,#00ebff,#0ef,#00f1ff,#00f5ff,#00f9ff,#00fdff,#00fffd,#00fff7,#00fff1,#00ffeb,#00ffe5,#00ffde,#00ffd6,#00ffcf,#00ffc7,#00ffbe,#00ffb6,#00ffad,#00ffa3,#0f9,#00ff8f,#00ff85,#00ff7a,#00ff6f)"></i>
<i style="background:linear-gradient(90deg,#00ff89,#00ff93,#00ff9d,#00ffa7,#00ffb1,#00ffba,#00ffc2,#00ffca,#00ffd2,#00ffda,#00ffe1,#00ffe8,#0fe,#00fff5,#00fffa,#00feff,#00faff,#00f6ff,#00f2ff,#00efff,#00ecff,#00e9ff,#00e6ff,#00e4ff,#00e2ff,#00e1ff,#00dfff,#00deff,#00deff,#0df,#0df,#00deff,#00deff,#00dfff,#00e1ff,#00e2ff,#00e4ff,#00e6ff,#00e9ff,#00ebff,#00efff,#00f2ff,#00f6ff,#00faff,#00feff,#00fffb,#00fff5,#00ffef,#00ffe8,#00ffe1,#00ffda,#00ffd3,#00ffcb,#00ffc3,#00ffba,#00ffb1,#00ffa8,#00ff9e,#00ff94,#00ff89,#00ff7f,#00ff73)"></i>
<i style="background:linear-gradient(90deg,#00ff89,#00ff93,#00ff9e,#00ffa7,#00ffb1,#00ffba,#00ffc3,#00ffcb,#00ffd3,#00ffdb,#00ffe2,#00ffe9,#00ffef,#00fff6,#00fffc,#00fdff,#00f9ff,#00f5ff,#00f1ff,#00edff,#00eaff,#00e7ff,#00e5ff,#00e2ff,#00e1ff,#00dfff,#00deff,#0df,#00dcff,#00dbff,#00dbff,#00dcff,#00dcff,#0df,#00deff,#00e0ff,#00e2ff,#00e4ff,#00e6ff,#00e9ff,#00ecff,#00efff,#00f3ff,#00f7ff,#00fbff,#00fffe,#00fff8,#00fff2,#00ffec,#00ffe5,#00ffde,#00ffd7,#00ffcf,#00ffc7,#00ffbe,#00ffb5,#00ffac,#00ffa2,#00ff98,#00ff8e,#00ff83,#00ff78)"></i>
<i style="background:linear-gradient(90deg,#00ff89,#00ff94,#00ff9e,#00ffa8,#00ffb1,#00ffba,#00ffc3,#0fc,#00ffd4,#00ffdb,#00ffe3,#00ffea,#00fff0,#00fff7,#00fffd,#00fcff,#00f8ff,#00f4ff,#00f0ff,#00ecff,#00e9ff,#00e6ff,#00e3ff,#00e1ff,#00dfff,#0df,#00dcff,#00dbff,#00daff,#00d9ff,#00d9ff,#00d9ff,#00daff,#00dbff,#00dcff,#0df,#00dfff,#00e1ff,#00e3ff,#00e6ff,#00e9ff,#00ecff,#00f0ff,#00f4ff,#00f8ff,#00fdff,#00fffc,#00fff6,#00fff0,#00ffe9,#00ffe2,#00ffdb,#00ffd3,#00ffcb,#00ffc2,#00ffba,#00ffb0,#00ffa7,#00ff9d,#00ff93,#0f8,#00ff7d)"></i>
<i style="background:linear-gradient(90deg,#00ff89,#00ff94,#00ff9e,#00ffa8,#00ffb2,#0fb,#00ffc4,#0fc,#00ffd4,#00ffdc,#00ffe4,#00ffeb,#00fff1,#00fff8,#00fffe,#00fbff,#00f7ff,#00f2ff,#0ef,#00ebff,#00e7ff,#00e4ff,#00e2ff,#00dfff,#0df,#00dbff,#00daff,#00d9ff,#00d8ff,#00d7ff,#00d7ff,#00d7ff,#00d8ff,#00d8ff,#00daff,#00dbff,#0df,#00dfff,#00e1ff,#00e3ff,#00e6ff,#00eaff,#00edff,#00f1ff,#00f5ff,#00faff,#00feff,#00fffa,#00fff4,#00ffed,#00ffe6,#00ffdf,#00ffd7,#00ffcf,#00ffc7,#00ffbe,#00ffb5,#00ffab,#00ffa1,#00ff97,#00ff8d,#00ff82)"></i>
<i style="background:linear-gradient(90deg,#00ff89,#00ff94,#00ff9e,#00ffa8,#00ffb2,#0fb,#00ffc4,#00ffcd,#00ffd5,#0fd,#00ffe5,#00ffec,#00fff3,#00fff9,#0ff,#00faff,#00f5ff,#00f1ff,#00edff,#00e9ff,#00e6ff,#00e3ff,#00e0ff,#00deff,#00dbff,#00daff,#00d8ff,#00d7ff,#00d6ff,#00d5ff,#00d5ff,#00d5ff,#00d5ff,#00d6ff,#00d7ff,#00d8ff,#00daff,#00dcff,#00deff,#00e1ff,#00e4ff,#00e7ff,#00eaff,#0ef,#00f2ff,#00f6ff,#00fbff,#00fffe,#00fff7,#00fff1,#00ffea,#00ffe3,#00ffdb,#00ffd3,#00ffcb,#00ffc2,#00ffb9,#00ffb0,#00ffa6,#00ff9c,#00ff91,#00ff87)"></i>
<i style="background:linear-gradient(90deg,#00ff89,#00ff94,#00ff9f,#00ffa9,#00ffb3,#00ffbc,#00ffc5,#00ffce,#00ffd6,#00ffde,#00ffe6,#00ffed,#00fff4,#00fffa,#00feff,#00f9ff,#00f4ff,#00f0ff,#00ecff,#00e8ff,#00e4ff,#00e1ff,#00deff,#00dcff,#00daff,#00d8ff,#00d6ff,#00d5ff,#00d4ff,#00d3ff,#00d3ff,#00d3ff,#00d3ff,#00d4ff,#00d5ff,#00d6ff,#00d7ff,#00d9ff,#00dbff,#00deff,#00e1ff,#00e4ff,#00e7ff,#00ebff,#00efff,#00f3ff,#00f8ff,#00fdff,#00fffb,#00fff5,#0fe,#00ffe7,#00ffdf,#00ffd8,#00ffcf,#00ffc7,#00ffbe,#00ffb4,#00ffab,#00ffa1,#00ff96,#00ff8b)"></i>
<i style="background:linear-gradient(90deg,#00ff8a,#00ff94,#00ff9f,#00ffa9,#00ffb3,#00ffbd,#00ffc6,#00ffce,#00ffd7,#00ffdf,#00ffe6,#0fe,#00fff5,#00fffb,#00fdff,#00f8ff,#00f3ff,#0ef,#00eaff,#00e6ff,#00e3ff,#00e0ff,#0df,#00daff,#00d8ff,#00d6ff,#00d4ff,#00d3ff,#00d2ff,#00d1ff,#00d1ff,#00d1ff,#00d1ff,#00d1ff,#00d2ff,#00d3ff,#00d5ff,#00d7ff,#00d9ff,#00dbff,#00deff,#00e1ff,#00e4ff,#00e8ff,#00ecff,#00f0ff,#00f5ff,#00faff,#0ff,#00fff9,#00fff2,#00ffeb,#00ffe4,#00ffdc,#00ffd4,#00ffcb,#00ffc2,#00ffb9,#00ffaf,#00ffa5,#00ff9b,#00ff90)"></i>
<i style="background:linear-gradient(90deg,#00ff8a,#00ff95,#00ff9f,#0fa,#00ffb4,#00ffbd,#00ffc6,#00ffcf,#00ffd8,#00ffe0,#00ffe7,#00ffef,#00fff6,#00fffd,#00fcff,#00f7ff,#00f2ff,#00edff,#00e9ff,#00e5ff,#00e1ff,#00deff,#00dbff,#00d8ff,#00d6ff,#00d4ff,#00d2ff,#00d1ff,#00d0ff,#00cfff,#00cfff,#00ceff,#00cfff,#00cfff,#00d0ff,#00d1ff,#00d2ff,#00d4ff,#00d6ff,#00d8ff,#00dbff,#00deff,#00e1ff,#00e5ff,#00e9ff,#00edff,#00f1ff,#00f6ff,#00fbff,#00fffd,#00fff6,#00ffef,#00ffe8,#00ffe0,#00ffd8,#00ffd0,#00ffc7,#00ffbe,#00ffb4,#0fa,#00ffa0,#00ff95)"></i>
<i style="background:linear-gradient(90deg,#00ff8a,#00ff95,#00ffa0,#0fa,#00ffb4,#00ffbe,#00ffc7,#00ffd0,#00ffd8,#00ffe1,#00ffe8,#00fff0,#00fff7,#00fffe,#00fbff,#00f5ff,#00f0ff,#00ecff,#00e8ff,#00e4ff,#00e0ff,#0df,#00d9ff,#00d7ff,#00d4ff,#00d2ff,#00d0ff,#00cfff,#00ceff,#00cdff,#0cf,#0cf,#0cf,#00cdff,#00cdff,#00ceff,#00d0ff,#00d1ff,#00d3ff,#00d6ff,#00d8ff,#00dbff,#00deff,#00e2ff,#00e6ff,#00eaff,#0ef,#00f3ff,#00f8ff,#00fdff,#00fffa,#00fff3,#00ffec,#00ffe4,#00ffdc,#00ffd4,#00ffcb,#00ffc2,#00ffb9,#00ffaf,#00ffa5,#00ff9a)"></i>
<i style="background:linear-gradient(90deg,#00ff8a,#00ff95,#00ffa0,#00ffab,#00ffb5,#00ffbe,#00ffc8,#00ffd1,#00ffd9,#00ffe2,#00ffe9,#00fff1,#00fff8,#0ff,#00f9ff,#00f4ff,#00efff,#00eaff,#00e6ff,#00e2ff,#00deff,#00dbff,#00d8ff,#00d5ff,#00d2ff,#00d0ff,#00ceff,#00cdff,#0cf,#00cbff,#00caff,#00caff,#00caff,#00caff,#00cbff,#0cf,#00cdff,#00cfff,#00d1ff,#00d3ff,#00d5ff,#00d8ff,#00dbff,#00dfff,#00e2ff,#00e6ff,#00ebff,#00f0ff,#00f5ff,#00faff,#00fffe,#00fff8,#00fff0,#00ffe9,#00ffe1,#00ffd9,#00ffd0,#00ffc7,#00ffbd,#00ffb4,#0fa,#00ff9f)"></i>
<i style="background:linear-gradient(90deg,#00ff8b,#00ff96,#00ffa1,#00ffab,#00ffb5,#00ffbf,#00ffc8,#00ffd2,#00ffda,#00ffe3,#00ffeb,#00fff2,#00fff9,#00feff,#00f8ff,#00f3ff,#0ef,#00e9ff,#00e5ff,#00e1ff,#0df,#00d9ff,#00d6ff,#00d3ff,#00d1ff,#00ceff,#0cf,#00cbff,#00caff,#00c9ff,#00c8ff,#00c8ff,#00c7ff,#00c8ff,#00c8ff,#00c9ff,#00caff,#0cf,#00ceff,#00d0ff,#00d2ff,#00d5ff,#00d8ff,#00dcff,#00dfff,#00e3ff,#00e8ff,#00ecff,#00f1ff,#00f6ff,#00fcff,#00fffc,#00fff5,#00ffed,#00ffe5,#0fd,#00ffd4,#0fc,#00ffc2,#00ffb9,#00ffaf,#00ffa4)"></i>
<i style="background:linear-gradient(90deg,#00ff8b,#00ff96,#00ffa1,#00ffac,#00ffb6,#00ffc0,#00ffc9,#00ffd2,#00ffdb,#00ffe4,#00ffec,#00fff3,#00fffb,#00fdff,#00f7ff,#00f2ff,#00ecff,#00e8ff,#00e3ff,#00dfff,#00dbff,#00d8ff,#00d4ff,#00d1ff,#00cfff,#0cf,#00caff,#00c9ff,#00c7ff,#00c6ff,#00c6ff,#00c5ff,#00c5ff,#00c5ff,#00c6ff,#00c7ff,#00c8ff,#00c9ff,#00cbff,#00cdff,#00cfff,#00d2ff,#00d5ff,#00d8ff,#00dcff,#00e0ff,#00e4ff,#00e9ff,#0ef,#00f3ff,#00f8ff,#00feff,#00fff9,#00fff2,#00ffea,#00ffe2,#00ffd9,#00ffd0,#00ffc7,#00ffbd,#00ffb4,#00ffa9)"></i>
<i style="background:linear-gradient(90deg,#00ff8b,#00ff97,#00ffa2,#00ffac,#00ffb7,#00ffc1,#00ffca,#00ffd3,#00ffdc,#00ffe5,#00ffed,#00fff5,#00fffc,#00fcff,#00f6ff,#00f0ff,#00ebff,#00e6ff,#00e2ff,#0df,#00d9ff,#00d6ff,#00d3ff,#00d0ff,#00cdff,#00caff,#00c8ff,#00c7ff,#00c5ff,#00c4ff,#00c3ff,#00c3ff,#00c3ff,#00c3ff,#00c3ff,#00c4ff,#00c5ff,#00c6ff,#00c8ff,#00caff,#0cf,#00cfff,#00d2ff,#00d5ff,#00d9ff,#0df,#00e1ff,#00e5ff,#00eaff,#00efff,#00f5ff,#00faff,#00fffd,#00fff6,#0fe,#00ffe6,#00ffde,#00ffd5,#0fc,#00ffc2,#00ffb9,#00ffae)"></i>
<i style="background:linear-gradient(90deg,#00ff8c,#00ff97,#00ffa2,#00ffad,#00ffb7,#00ffc1,#00ffcb,#00ffd4,#0fd,#00ffe6,#0fe,#00fff6,#00fffd,#00faff,#00f4ff,#00efff,#00eaff,#00e5ff,#00e0ff,#00dcff,#00d8ff,#00d4ff,#00d1ff,#00ceff,#00cbff,#00c8ff,#00c6ff,#00c5ff,#00c3ff,#00c2ff,#00c1ff,#00c0ff,#00c0ff,#00c0ff,#00c1ff,#00c1ff,#00c2ff,#00c4ff,#00c5ff,#00c7ff,#00c9ff,#0cf,#00cfff,#00d2ff,#00d5ff,#00d9ff,#0df,#00e2ff,#00e7ff,#00ecff,#00f1ff,#00f7ff,#00fdff,#00fffa,#00fff3,#00ffeb,#00ffe3,#00ffda,#00ffd1,#00ffc7,#00ffbe,#00ffb3)"></i>
<i style="background:linear-gradient(90deg,#00ff8c,#00ff98,#00ffa3,#00ffae,#00ffb8,#00ffc2,#0fc,#00ffd5,#00ffde,#00ffe7,#00ffef,#00fff7,#0ff,#00f9ff,#00f3ff,#0ef,#00e8ff,#00e3ff,#00dfff,#00daff,#00d6ff,#00d2ff,#00cfff,#0cf,#00c9ff,#00c6ff,#00c4ff,#00c2ff,#00c1ff,#00c0ff,#00bfff,#00beff,#00beff,#00beff,#00beff,#00bfff,#00bfff,#00c1ff,#00c2ff,#00c4ff,#00c6ff,#00c9ff,#0cf,#00cfff,#00d2ff,#00d6ff,#00daff,#00deff,#00e3ff,#00e8ff,#00edff,#00f3ff,#00f9ff,#0ff,#00fff7,#00fff0,#00ffe7,#00ffdf,#00ffd6,#0fc,#00ffc3,#00ffb9)"></i>
</div>
<svg width="685" height="1102" viewBox="0 0 685 1102">
<path d="M465.4 44.5V324.5M397.0 114.5H670.5M533.8 44.5V324.5M397.0 184.5H670.5M602.1 44.5V324.5M397.0 254.5H670.5" stroke="#a0a0a0" stroke-opacity=".85" stroke-width="1" fill="none"/>
<rect x="397.0" y="44.5" width="273.5" height="280.0" fill="none" stroke="#a8a8a8" stroke-width="1"/>
<path d="M397.0 249.8L400.4 247.5L403.2 245.8L406.1 244.0L409.3 242.2L412.6 240.5L416.2 238.8L420.2 237.0L424.4 235.4L427.8 234.3L431.2 233.3L436.3 232.2L439.7 231.6L444.9 231.2L450.0 231.2L455.1 231.7L458.5 232.3L463.2 233.5L467.1 234.9L470.5 236.3L473.9 238.1L477.3 240.2L480.3 242.2L482.5 244.0L485.9 246.9L488.4 249.2L491.0 251.9L493.3 254.5L496.1 257.9L497.9 260.2L500.1 263.2L502.4 266.8L504.6 270.2L506.4 273.2L508.1 276.2L509.8 279.4L511.5 282.7L513.2 286.2L514.9 289.9L516.7 293.7L518.4 297.8L520.0 301.8L521.3 305.2L522.6 308.8L523.8 312.2L525.2 316.2L526.8 321.0L527.9 324.5M397.0 174.1L399.1 172.2L402.1 169.7L405.4 167.0L407.5 165.2L410.7 162.8L414.1 160.3L416.9 158.2L419.5 156.5L422.6 154.4L426.1 152.3L429.5 150.3L432.9 148.4L436.3 146.7L439.7 145.1L443.2 143.6L446.6 142.3L451.5 140.8L455.1 139.8L459.0 139.0L463.7 138.3L468.8 138.0L473.9 138.2L479.1 138.8L482.5 139.5L486.7 140.8L491.0 142.4L494.4 144.0L497.9 145.9L500.7 147.7L503.1 149.5L506.4 152.1L509.4 154.8L511.5 156.9L514.5 160.0L516.7 162.5L518.9 165.2L521.5 168.8L523.5 171.6L525.2 174.2L527.3 177.5L529.4 181.0L531.3 184.5L533.2 188.0L534.9 191.5L536.6 195.0L538.2 198.5L539.7 202.0L541.2 205.5L542.6 209.0L544.0 212.7L545.7 217.4L547.1 221.2L548.3 224.8L549.4 228.2L550.8 232.9L552.1 237.0L553.1 240.5L554.3 244.6L555.5 249.2L556.4 252.7L557.7 257.8L558.6 261.5L559.4 265.0L560.6 270.2L561.4 273.8L562.5 279.0L563.2 282.5L564.2 287.8L564.9 291.2L565.9 296.5L566.5 300.0L567.4 305.2L568.0 308.8L568.9 314.0L569.6 318.8L570.2 322.8L570.5 324.5M397.0 102.9L399.3 100.5L402.1 97.6L404.4 95.2L407.3 92.4L409.8 90.0L412.4 87.5L415.3 84.7L417.5 82.8L420.9 79.7L423.3 77.7L426.1 75.4L429.5 72.6L431.9 70.8L434.6 68.7L438.0 66.2L441.4 63.8L444.2 62.0L447.0 60.2L450.0 58.4L453.4 56.5L456.8 54.7L460.2 53.1L463.8 51.5L468.2 49.7L472.2 48.4L475.6 47.4L480.8 46.3L484.2 45.8L489.3 45.3L494.4 45.3L499.6 45.8L503.0 46.4L508.1 47.7L511.5 48.9L514.9 50.4L518.4 52.1L521.8 54.2L525.2 56.6L527.7 58.5L530.3 60.7L533.5 63.7L535.5 65.8L538.4 69.0L540.6 71.7L542.6 74.2L545.1 77.7L547.4 81.2L549.1 83.9L550.8 86.7L552.7 90.0L554.6 93.5L556.4 97.0L558.2 100.5L559.8 104.0L561.4 107.5L562.9 111.0L564.5 115.1L566.2 119.5L567.6 123.2L568.9 126.7L570.1 130.2L571.4 134.0L572.9 139.0L574.0 142.5L575.0 146.0L576.5 151.1L577.5 154.8L578.4 158.2L579.8 163.5L580.6 167.0L581.6 171.1L582.7 175.8L583.5 179.2L584.6 184.5L585.3 188.0L586.4 193.2L587.1 196.8L588.1 202.0L588.7 205.5L589.6 210.8L590.2 214.2L591.1 219.5L591.9 224.2L592.5 228.2L593.3 233.5L593.8 237.0L594.5 242.2L595.3 247.5L595.7 251.0L596.4 256.2L597.0 261.2L597.5 265.0L598.1 270.2L598.7 275.5L599.0 279.0L599.6 284.2L600.1 289.5L600.5 293.0L601.0 298.2L601.5 303.5L601.9 308.8L602.2 312.2L602.7 317.5L603.1 322.8L603.2 324.5M594.6 44.5L595.7 48.0L597.0 52.3L598.3 56.7L599.3 60.2L600.4 64.5L601.6 69.0L602.5 72.5L603.8 77.7L604.6 81.2L605.5 85.5L606.5 90.0L607.3 93.5L608.4 98.8L609.1 102.2L610.1 107.5L610.7 111.0L611.7 116.2L612.4 120.3L613.2 125.0L614.0 130.2L614.6 133.8L615.4 139.0L615.9 142.5L616.7 147.7L617.4 153.0L617.9 156.5L618.6 161.8L619.2 167.0L619.6 170.5L620.3 175.8L620.9 181.0L621.3 184.5L621.8 189.8L622.4 195.0L622.7 198.5L623.2 203.8L623.7 209.0L624.2 214.2L624.5 217.7L625.0 223.0L625.4 228.2L625.8 233.5L626.1 237.0L626.5 242.2L626.8 247.5L627.2 252.7L627.5 258.0L627.8 261.5L628.1 266.8L628.4 272.0L628.7 277.2L629.0 282.5L629.2 287.8L629.5 292.6L629.7 296.5L629.9 301.8L630.1 307.0L630.3 312.2L630.5 317.5L630.7 322.8L630.8 324.5M637.4 44.5L638.0 48.9L638.7 53.2L639.4 58.5L639.9 62.0L640.6 67.2L641.3 72.5L641.7 76.0L642.4 81.2L643.0 86.5L643.4 90.0L643.9 95.2L644.5 100.5L644.9 104.0L645.4 109.2L645.9 114.5L646.4 119.7L646.7 123.2L647.2 128.5L647.6 133.8L648.0 139.0L648.3 142.5L648.7 147.7L649.1 153.0L649.4 158.2L649.8 163.5L650.0 167.0L650.4 172.2L650.7 177.5L651.0 182.8L651.3 188.0L651.5 193.2L651.7 196.8L652.0 202.0L652.2 207.2L652.5 212.5L652.7 217.7L652.9 223.0L653.1 228.2L653.3 233.5L653.4 237.1L653.6 242.2L653.7 247.5L653.9 252.7L654.0 258.0L654.2 263.2L654.3 268.5L654.4 273.8L654.5 279.0L654.6 284.2L654.7 289.5L654.8 294.8L654.9 300.0L654.9 305.2L655.0 310.5L655.0 315.8L655.1 321.0L655.1 324.5" stroke="#101010" stroke-width="1" fill="none" stroke-linejoin="round"/>
<path d="M397.0 324.5v7M397.0 44.5h-7M465.4 324.5v7M397.0 114.5h-7M533.8 324.5v7M397.0 184.5h-7M602.1 324.5v7M397.0 254.5h-7M670.5 324.5v7M397.0 324.5h-7" stroke="#555" stroke-width="1.2" fill="none"/>
<text class="t" transform="translate(397.0 343.2) scale(0.92 1)" text-anchor="middle">28.00</text>
<text class="t" transform="translate(465.4 343.2) scale(0.92 1)" text-anchor="middle">29.00</text>
<text class="t" transform="translate(533.8 343.2) scale(0.92 1)" text-anchor="middle">30.00</text>
<text class="t" transform="translate(602.1 343.2) scale(0.92 1)" text-anchor="middle">31.00</text>
<text class="t" transform="translate(670.5 343.2) scale(0.92 1)" text-anchor="middle">32.00</text>
<text class="t" transform="translate(386.4 46.3) scale(0.92 1)" text-anchor="end">0.60</text>
<text class="t" transform="translate(386.4 116.3) scale(0.92 1)" text-anchor="end">0.50</text>
<text class="t" transform="translate(386.4 186.3) scale(0.92 1)" text-anchor="end">0.40</text>
<text class="t" transform="translate(386.4 256.3) scale(0.92 1)" text-anchor="end">0.30</text>
<text class="t" transform="translate(386.4 326.3) scale(0.92 1)" text-anchor="end">0.20</text>
<text class="ax" x="531.4" y="382.0" text-anchor="middle">A: x1</text>
<text class="ax" style="font-size:12.7px" transform="translate(348.8 183.8) rotate(-90)" text-anchor="middle">B: x2</text>
<text x="531.3" y="38.7" font-size="15" text-anchor="middle">y1</text>
<clipPath id="c0"><rect x="396.0" y="43.5" width="275.1" height="282.0"/></clipPath><g clip-path="url(#c0)">
<rect x="463.3" y="232.2" width="36.6" height="10.8" fill="#fff" stroke="#222" stroke-width="1"/>
<text class="cl" transform="translate(481.6 241.1) scale(0.97 1)" text-anchor="middle">3737.52</text>
<rect x="501.1" y="155.9" width="36.6" height="10.8" fill="#fff" stroke="#222" stroke-width="1"/>
<text class="cl" transform="translate(519.4 164.8) scale(0.97 1)" text-anchor="middle">3795.91</text>
<rect x="538.0" y="85.9" width="36.6" height="10.8" fill="#fff" stroke="#222" stroke-width="1"/>
<text class="cl" transform="translate(556.2 94.8) scale(0.97 1)" text-anchor="middle">3854.31</text>
<rect x="601.5" y="162.6" width="36.6" height="10.8" fill="#fff" stroke="#222" stroke-width="1"/>
<text class="cl" transform="translate(619.8 171.4) scale(0.97 1)" text-anchor="middle">3912.70</text>
<rect x="634.4" y="165.9" width="31.4" height="10.8" fill="#fff" stroke="#222" stroke-width="1"/>
<text class="cl" transform="translate(650.1 174.7) scale(0.97 1)" text-anchor="middle">3971.1</text>
</g>
<circle cx="397.0" cy="44.5" r="2.6" fill="#f00" stroke="#800" stroke-width="0.6"/>
<circle cx="670.5" cy="44.5" r="2.6" fill="#f00" stroke="#800" stroke-width="0.6"/>
<circle cx="397.0" cy="324.5" r="2.6" fill="#f00" stroke="#800" stroke-width="0.6"/>
<circle cx="670.5" cy="324.5" r="2.6" fill="#f00" stroke="#800" stroke-width="0.6"/>
<circle cx="533.8" cy="184.5" r="2.2" fill="#f00" stroke="#800" stroke-width="0.6"/>
<text x="524.2" y="185.2" style="font-size:8.8px;font-weight:bold">5</text>
<rect x="35.0" y="44.7" width="273.5" height="276.4" fill="none" stroke="#333" stroke-width="1.2"/>
<path d="M35.0 60.3h-7M35.0 121.6h-7M35.0 182.9h-7M35.0 244.2h-7M35.0 305.5h-7M50.8 321.1v7.3M109.9 321.1v7.3M170.8 321.1v7.3M231.8 321.1v7.3M292.9 321.1v7.3" stroke="#222" stroke-width="1" fill="none"/>
<text class="t" transform="translate(24.6 61.1) scale(0.92 1)" text-anchor="end">4030</text>
<text class="t" transform="translate(24.6 122.4) scale(0.92 1)" text-anchor="end">3942.5</text>
<text class="t" transform="translate(24.6 183.7) scale(0.92 1)" text-anchor="end">3855</text>
<text class="t" transform="translate(24.6 245.0) scale(0.92 1)" text-anchor="end">3767.5</text>
<text class="t" transform="translate(24.6 306.3) scale(0.92 1)" text-anchor="end">3680</text>
<text class="t" transform="translate(50.8 338.5) scale(0.92 1)" text-anchor="middle">-1.000</text>
<text class="t" transform="translate(109.9 338.5) scale(0.92 1)" text-anchor="middle">-0.500</text>
<text class="t" transform="translate(170.8 338.5) scale(0.92 1)" text-anchor="middle">0.000</text>
<text class="t" transform="translate(231.8 338.5) scale(0.92 1)" text-anchor="middle">0.500</text>
<text class="t" transform="translate(292.9 338.5) scale(0.92 1)" text-anchor="middle">1.000</text>
<text class="ti" x="170.3" y="40.6" text-anchor="middle">Perturbation</text>
<path d="M50.8 229.8L56.7 232.9L62.6 235.6L68.5 237.9L74.4 239.9L80.3 241.5L86.3 242.7L92.2 243.6L98.1 244.2L104.0 244.4L109.9 244.2L116.0 243.7L122.1 242.8L128.2 241.5L134.3 239.9L140.4 238.0L146.4 235.7L152.5 233.0L158.6 230.0L164.7 226.6L170.8 222.8L176.9 218.7L183.0 214.3L189.1 209.5L195.2 204.3L201.3 198.8L207.4 192.9L213.5 186.6L219.6 180.0L225.7 173.1L231.8 165.7L237.9 158.1L244.0 150.0L250.1 141.6L256.2 132.9L262.4 123.8L268.5 114.3L274.6 104.5L280.7 94.3L286.8 83.8L292.9 72.9M50.8 260.4L56.7 258.7L62.6 257.0L68.5 255.3L74.4 253.6L80.3 251.8L86.3 250.0L92.2 248.2L98.1 246.4L104.0 244.5L109.9 242.6L116.0 240.8L122.1 238.9L128.2 236.9L134.3 235.0L140.4 233.0L146.4 231.0L152.5 229.0L158.6 227.0L164.7 224.9L170.8 222.8L176.9 220.7L183.0 218.6L189.1 216.5L195.2 214.3L201.3 212.2L207.4 210.0L213.5 207.7L219.6 205.5L225.7 203.2L231.8 201.0L237.9 198.7L244.0 196.3L250.1 194.0L256.2 191.6L262.4 189.3L268.5 186.9L274.6 184.4L280.7 182.0L286.8 179.5L292.9 177.1M50.8 224.0L56.7 223.8L62.6 223.7L68.5 223.6L74.4 223.5L80.3 223.5L86.3 223.4L92.2 223.3L98.1 223.2L104.0 223.2L109.9 223.1L116.0 223.1L122.1 223.0L128.2 223.0L134.3 222.9L140.4 222.9L146.4 222.9L152.5 222.9L158.6 222.8L164.7 222.8L170.8 222.8L176.9 222.8L183.0 222.8L189.1 222.9L195.2 222.9L201.3 222.9L207.4 222.9L213.5 223.0L219.6 223.0L225.7 223.1L231.8 223.1L237.9 223.2L244.0 223.2L250.1 223.3L256.2 223.4L262.4 223.5L268.5 223.5L274.6 223.6L280.7 223.7L286.8 223.8L292.9 224.0" stroke="#111" stroke-width="0.9" fill="none"/>
<circle cx="170.8" cy="222.8" r="2.6" fill="#000"/>
<text class="pl" x="288.8" y="69.1" text-anchor="middle">A</text>
<text class="pl" x="288.8" y="174.1" text-anchor="middle">B</text>
<text class="pl" x="288.7" y="221.4" text-anchor="middle">C</text>
<text class="pl" x="54.9" y="226.7" text-anchor="middle">A</text>
<text class="pl" x="64.7" y="220.9" text-anchor="middle">C</text>
<text class="pl" x="54.8" y="257.4" text-anchor="middle">B</text>
<text class="h" transform="translate(7 10.5) scale(1 .87)" xml:space="preserve">a Y<tspan font-size="11.5px">1</tspan>(Theoretical plates of ETR):</text>
<path d="M469.6 410.1V686.0M401.3 479.1H674.6M538.0 410.1V686.0M401.3 548.0H674.6M606.3 410.1V686.0M401.3 617.0H674.6" stroke="#a0a0a0" stroke-opacity=".85" stroke-width="1" fill="none"/>
<rect x="401.3" y="410.1" width="273.3" height="275.9" fill="none" stroke="#a8a8a8" stroke-width="1"/>
<path d="M669.0 686.0L666.1 682.6L664.4 680.5L661.8 677.4L659.2 674.4L657.4 672.2L654.5 668.8L652.4 666.3L650.1 663.6L647.3 660.3L645.6 658.3L642.7 655.0L640.4 652.3L638.3 649.8L635.3 646.4L633.6 644.4L630.8 641.2L628.5 638.5L626.3 636.0L623.4 632.7L621.6 630.7L618.7 627.4L616.5 625.0L614.1 622.2L611.4 619.2L609.5 617.0L606.4 613.6L604.6 611.6L601.7 608.4L599.4 605.9L597.0 603.2L594.3 600.3L592.3 598.1L589.2 594.7L587.5 592.8L584.4 589.4L582.4 587.2L579.6 584.3L577.2 581.7L574.8 579.1L572.1 576.2L570.0 573.9L567.0 570.7L565.1 568.7L561.9 565.3L560.2 563.5L556.9 560.1L555.0 558.1L552.0 554.9L549.9 552.8L547.0 549.8L544.8 547.4L542.0 544.6L539.7 542.1L537.0 539.4L534.5 536.9L532.0 534.3L529.4 531.6L526.9 529.1L524.3 526.4L521.8 523.9L519.2 521.3L516.7 518.7L514.0 516.1L511.5 513.6L508.9 511.0L506.3 508.4L503.8 505.9L501.1 503.2L498.7 500.8L495.8 498.0L493.5 495.8L490.6 492.9L488.4 490.8L485.3 487.7L483.3 485.8L479.9 482.5L478.2 480.8L474.7 477.5L472.8 475.6L469.6 472.6L467.4 470.5L464.5 467.7L462.0 465.3L459.4 462.8L456.5 460.1L454.3 457.9L451.1 454.9L449.1 453.1L445.7 449.9L443.7 448.0L440.6 445.1L438.2 442.9L435.5 440.3L432.6 437.7L430.3 435.6L427.1 432.5L425.2 430.8L421.8 427.7L419.6 425.6L416.7 423.0L413.9 420.4L411.5 418.3L408.2 415.3L406.3 413.5L403.0 410.5L402.5 410.1M593.4 686.0L590.9 683.1L588.9 680.8L585.8 677.4L584.1 675.4L581.3 672.2L578.9 669.6L576.7 667.0L573.8 663.8L572.1 661.9L569.0 658.4L567.0 656.1L564.4 653.2L561.9 650.4L559.7 648.1L556.7 644.7L555.0 642.9L551.9 639.4L549.9 637.2L547.2 634.3L544.8 631.6L542.5 629.1L539.7 626.0L537.8 623.9L534.6 620.5L532.8 618.5L529.8 615.3L527.7 613.0L525.1 610.1L522.6 607.5L520.3 605.0L517.5 601.9L515.4 599.8L512.3 596.5L510.6 594.6L507.3 591.2L505.5 589.2L502.5 586.0L500.4 583.8L497.6 580.8L495.2 578.4L492.7 575.6L490.1 573.0L487.7 570.5L485.0 567.6L482.8 565.3L479.9 562.3L477.8 560.1L474.7 557.0L472.8 554.9L469.6 551.7L467.8 549.8L464.5 546.4L462.8 544.6L459.4 541.2L457.7 539.4L454.3 536.0L452.5 534.2L449.2 530.8L447.4 529.0L444.1 525.6L442.3 523.8L439.0 520.5L437.2 518.6L433.9 515.3L432.0 513.5L428.7 510.1L426.9 508.3L423.5 504.9L421.8 503.2L418.4 499.8L416.6 498.0L413.3 494.8L411.4 492.9L408.1 489.7L406.1 487.7L403.0 484.7L401.3 483.0M534.4 686.0L531.3 682.6L529.4 680.5L526.6 677.4L524.3 674.8L521.9 672.2L519.2 669.1L517.3 667.0L514.1 663.6L512.3 661.6L509.4 658.4L507.2 656.0L504.7 653.2L502.1 650.4L500.0 648.1L497.0 644.8L495.2 642.9L492.1 639.4L490.1 637.3L487.3 634.3L485.0 631.8L482.5 629.1L479.9 626.3L477.7 623.9L474.7 620.8L472.9 618.7L469.6 615.3L467.9 613.5L464.8 610.1L462.8 608.0L459.9 605.0L457.7 602.6L455.0 599.8L452.5 597.1L450.1 594.6L447.4 591.7L445.2 589.4L442.3 586.3L440.3 584.3L437.2 581.0L435.4 579.1L432.1 575.6L430.3 573.8L427.1 570.5L425.2 568.5L422.1 565.3L420.1 563.2L417.1 560.1L415.0 557.9L412.1 554.9L409.8 552.6L407.0 549.8L404.7 547.4L402.0 544.6L401.3 543.9M484.2 686.0L481.6 683.1L479.5 680.8L476.5 677.5L474.7 675.6L471.6 672.2L469.6 670.0L466.9 667.0L464.5 664.4L462.1 661.9L459.4 658.9L457.4 656.7L454.3 653.3L452.5 651.5L449.4 648.1L447.4 645.9L444.6 642.9L442.3 640.4L439.8 637.7L437.2 634.9L435.0 632.5L432.0 629.4L430.1 627.4L426.9 624.0L425.2 622.2L422.0 618.7L420.1 616.7L417.1 613.6L415.0 611.3L412.2 608.4L409.8 605.9L407.3 603.2L404.7 600.5L402.4 598.1L401.3 596.9M439.8 686.0L437.2 683.1L435.0 680.8L432.0 677.6L430.3 675.7L427.1 672.2L425.2 670.1L422.3 667.0L420.1 664.6L417.5 661.9L415.0 659.1L412.7 656.7L409.8 653.6L407.9 651.5L404.7 648.1L403.0 646.2L401.3 644.4" stroke="#101010" stroke-width="1" fill="none" stroke-linejoin="round"/>
<path d="M401.3 686.0v7M401.3 410.1h-7M469.6 686.0v7M401.3 479.1h-7M538.0 686.0v7M401.3 548.0h-7M606.3 686.0v7M401.3 617.0h-7M674.6 686.0v7M401.3 686.0h-7" stroke="#555" stroke-width="1.2" fill="none"/>
<text class="t" transform="translate(401.3 704.7) scale(0.92 1)" text-anchor="middle">28.00</text>
<text class="t" transform="translate(469.6 704.7) scale(0.92 1)" text-anchor="middle">29.00</text>
<text class="t" transform="translate(538.0 704.7) scale(0.92 1)" text-anchor="middle">30.00</text>
<text class="t" transform="translate(606.3 704.7) scale(0.92 1)" text-anchor="middle">31.00</text>
<text class="t" transform="translate(674.6 704.7) scale(0.92 1)" text-anchor="middle">32.00</text>
<text class="t" transform="translate(390.7 411.9) scale(0.92 1)" text-anchor="end">0.60</text>
<text class="t" transform="translate(390.7 480.9) scale(0.92 1)" text-anchor="end">0.50</text>
<text class="t" transform="translate(390.7 549.8) scale(0.92 1)" text-anchor="end">0.40</text>
<text class="t" transform="translate(390.7 618.8) scale(0.92 1)" text-anchor="end">0.30</text>
<text class="t" transform="translate(390.7 687.8) scale(0.92 1)" text-anchor="end">0.20</text>
<text class="ax" x="535.6" y="743.5" text-anchor="middle">A: x1</text>
<text class="ax" style="font-size:12.7px" transform="translate(353.1 547.3) rotate(-90)" text-anchor="middle">B: x2</text>
<text x="536" y="404.4" font-size="16.4" text-anchor="middle">y2</text>
<clipPath id="c1"><rect x="400.3" y="409.1" width="274.9" height="277.9"/></clipPath><g clip-path="url(#c1)">
<rect x="520.4" y="529.8" width="36.6" height="10.8" fill="#fff" stroke="#222" stroke-width="1"/>
<text class="cl" transform="translate(538.7 538.5) scale(0.97 1)" text-anchor="middle">3132.81</text>
<rect x="480.5" y="571.3" width="36.6" height="10.8" fill="#fff" stroke="#222" stroke-width="1"/>
<text class="cl" transform="translate(498.8 580.1) scale(0.97 1)" text-anchor="middle">3309.65</text>
<rect x="450.0" y="601.9" width="36.6" height="10.8" fill="#fff" stroke="#222" stroke-width="1"/>
<text class="cl" transform="translate(468.3 610.7) scale(0.97 1)" text-anchor="middle">3486.49</text>
<rect x="423.6" y="627.9" width="36.6" height="10.8" fill="#fff" stroke="#222" stroke-width="1"/>
<text class="cl" transform="translate(441.9 636.7) scale(0.97 1)" text-anchor="middle">3663.32</text>
<rect x="402.9" y="653.4" width="36.6" height="10.8" fill="#fff" stroke="#222" stroke-width="1"/>
<text class="cl" transform="translate(421.2 662.2) scale(0.97 1)" text-anchor="middle">3840.16</text>
</g>
<circle cx="401.3" cy="410.1" r="2.6" fill="#f00" stroke="#800" stroke-width="0.6"/>
<circle cx="674.6" cy="410.1" r="2.6" fill="#f00" stroke="#800" stroke-width="0.6"/>
<circle cx="401.3" cy="686.0" r="2.6" fill="#f00" stroke="#800" stroke-width="0.6"/>
<circle cx="674.6" cy="686.0" r="2.6" fill="#f00" stroke="#800" stroke-width="0.6"/>
<circle cx="538.0" cy="548.0" r="2.2" fill="#f00" stroke="#800" stroke-width="0.6"/>
<text x="528.5" y="548.8" style="font-size:8.8px;font-weight:bold">5</text>
<rect x="31.5" y="406.9" width="273.7" height="276.4" fill="none" stroke="#333" stroke-width="1.2"/>
<path d="M31.5 422.3h-7M31.5 483.5h-7M31.5 544.7h-7M31.5 605.9h-7M31.5 667.2h-7M47.3 683.3v7.3M106.4 683.3v7.3M167.3 683.3v7.3M228.3 683.3v7.3M289.4 683.3v7.3" stroke="#222" stroke-width="1" fill="none"/>
<text class="t" transform="translate(21.1 423.1) scale(0.92 1)" text-anchor="end">4000</text>
<text class="t" transform="translate(21.1 484.3) scale(0.92 1)" text-anchor="end">3725</text>
<text class="t" transform="translate(21.1 545.5) scale(0.92 1)" text-anchor="end">3450</text>
<text class="t" transform="translate(21.1 606.7) scale(0.92 1)" text-anchor="end">3175</text>
<text class="t" transform="translate(21.1 668.0) scale(0.92 1)" text-anchor="end">2900</text>
<text class="t" transform="translate(47.3 700.7) scale(0.92 1)" text-anchor="middle">-1.000</text>
<text class="t" transform="translate(106.4 700.7) scale(0.92 1)" text-anchor="middle">-0.500</text>
<text class="t" transform="translate(167.3 700.7) scale(0.92 1)" text-anchor="middle">0.000</text>
<text class="t" transform="translate(228.3 700.7) scale(0.92 1)" text-anchor="middle">0.500</text>
<text class="t" transform="translate(289.4 700.7) scale(0.92 1)" text-anchor="middle">1.000</text>
<text class="ti" x="166.8" y="402.2" text-anchor="middle">Perturbation</text>
<path d="M47.3 533.3L53.2 538.2L59.1 543.0L65.0 547.7L70.9 552.3L76.8 556.7L82.8 561.1L88.7 565.4L94.6 569.6L100.5 573.7L106.4 577.7L112.5 581.6L118.6 585.4L124.7 589.1L130.8 592.7L136.9 596.2L142.9 599.6L149.0 602.9L155.1 606.1L161.2 609.2L167.3 612.2L173.4 615.1L179.5 617.9L185.6 620.6L191.7 623.2L197.8 625.7L203.9 628.1L210.0 630.4L216.1 632.6L222.2 634.7L228.3 636.7L234.4 638.6L240.5 640.4L246.6 642.1L252.7 643.7L258.9 645.2L265.0 646.6L271.1 647.9L277.2 649.1L283.3 650.2L289.4 651.2M47.3 539.6L53.2 544.1L59.1 548.5L65.0 552.7L70.9 556.9L76.8 561.0L82.8 565.1L88.7 569.0L94.6 572.8L100.5 576.6L106.4 580.3L112.5 583.9L118.6 587.4L124.7 590.8L130.8 594.1L136.9 597.3L142.9 600.5L149.0 603.5L155.1 606.5L161.2 609.4L167.3 612.2L173.4 614.9L179.5 617.5L185.6 620.1L191.7 622.5L197.8 624.9L203.9 627.2L210.0 629.4L216.1 631.5L222.2 633.5L228.3 635.4L234.4 637.3L240.5 639.0L246.6 640.7L252.7 642.3L258.9 643.8L265.0 645.2L271.1 646.5L277.2 647.7L283.3 648.9L289.4 649.9M47.3 558.8L53.2 562.5L59.1 566.1L65.0 569.6L70.9 573.0L76.8 576.3L82.8 579.4L88.7 582.5L94.6 585.4L100.5 588.3L106.4 591.0L112.5 593.6L118.6 596.1L124.7 598.5L130.8 600.8L136.9 603.0L142.9 605.0L149.0 607.0L155.1 608.8L161.2 610.6L167.3 612.2L173.4 613.7L179.5 615.1L185.6 616.4L191.7 617.6L197.8 618.7L203.9 619.6L210.0 620.5L216.1 621.2L222.2 621.9L228.3 622.4L234.4 622.8L240.5 623.1L246.6 623.3L252.7 623.4L258.9 623.4L265.0 623.2L271.1 623.0L277.2 622.6L283.3 622.1L289.4 621.6" stroke="#111" stroke-width="0.9" fill="none"/>
<circle cx="167.3" cy="612.2" r="2.6" fill="#000"/>
<text class="pl" x="51" y="530.8" text-anchor="middle">A</text>
<text class="pl" x="55.7" y="539.1" text-anchor="middle">B</text>
<text class="pl" x="51.5" y="555" text-anchor="middle">C</text>
<text class="pl" x="284.8" y="618.3" text-anchor="middle">C</text>
<text class="pl" x="275.8" y="646.7" text-anchor="middle">B</text>
<text class="pl" x="285" y="646.7" text-anchor="middle">A</text>
<text class="h" transform="translate(12.8 383.2) scale(1 .87)" xml:space="preserve">b Y<tspan font-size="11.5px">2</tspan> (Theoretical plates of TNF):</text>
<path d="M468.9 768.6V1045.0M400.6 837.7H673.7M537.2 768.6V1045.0M400.6 906.8H673.7M605.4 768.6V1045.0M400.6 975.9H673.7" stroke="#a0a0a0" stroke-opacity=".85" stroke-width="1" fill="none"/>
<rect x="400.6" y="768.6" width="273.1" height="276.4" fill="none" stroke="#a8a8a8" stroke-width="1"/>
<path d="M451.2 1045.0L452.5 1041.5L453.8 1038.1L455.2 1034.5L456.9 1030.2L458.6 1026.0L460.1 1022.5L461.5 1019.1L463.0 1015.6L464.5 1012.2L466.1 1008.7L467.7 1005.3L469.3 1001.8L471.1 998.4L472.9 994.9L474.8 991.4L476.9 988.0L479.1 984.5L480.8 982.0L482.8 979.4L485.7 975.9L487.7 973.9L491.1 971.0L493.9 969.0L497.2 967.3L501.3 965.8L504.7 965.1L509.8 964.9L515.0 965.5L518.4 966.2L522.2 967.3L526.9 968.9L530.3 970.3L533.7 971.8L537.2 973.4L540.6 975.1L544.0 977.0L547.4 978.9L550.8 980.8L554.1 982.8L556.9 984.5L559.7 986.3L562.8 988.2L566.2 990.4L569.6 992.6L573.0 994.8L575.7 996.6L578.2 998.4L581.5 1000.6L584.9 1003.0L588.3 1005.3L590.7 1007.0L593.5 1008.9L596.9 1011.3L600.3 1013.8L602.9 1015.6L605.4 1017.4L608.8 1019.9L612.3 1022.4L614.8 1024.3L617.4 1026.1L620.8 1028.6L624.2 1031.1L626.6 1032.9L629.3 1034.9L632.7 1037.4L635.9 1039.8L638.3 1041.5L641.3 1043.8L642.9 1045.0M519.5 768.6L518.3 772.1L516.7 776.4L515.1 780.7L513.7 784.1L512.4 787.6L511.1 791.1L509.7 794.5L508.1 798.4L506.4 802.6L504.7 806.6L503.2 810.1L501.7 813.5L500.1 817.0L498.5 820.4L496.8 823.9L495.0 827.3L493.2 830.8L491.2 834.2L489.4 837.4L487.7 840.0L485.7 842.9L483.0 846.3L480.8 848.9L478.1 851.5L475.7 853.6L472.3 855.9L468.9 857.7L465.5 858.8L460.3 859.7L455.2 859.6L450.1 858.9L446.7 858.1L442.4 856.7L438.2 855.1L434.7 853.7L431.3 852.1L427.9 850.4L424.5 848.7L421.1 846.8L417.7 844.9L414.3 842.9L411.4 841.2L408.6 839.4L405.7 837.6L402.3 835.5L400.6 834.4M404.1 1045.0L404.6 1039.8L405.0 1034.6L405.3 1029.5L405.6 1024.3L405.8 1020.8L405.9 1015.6L406.0 1010.5L406.0 1005.3L405.9 1000.1L405.7 994.9L405.6 991.4L405.2 986.3L404.8 981.1L404.2 975.9L403.7 972.4L403.0 967.3L402.3 963.5L401.4 958.6L400.6 955.0M563.7 768.6L563.1 773.8L562.8 777.3L562.3 782.4L561.8 787.6L561.5 792.8L561.2 798.0L561.0 801.4L560.8 806.6L560.7 811.8L560.6 817.0L560.7 822.2L560.8 827.3L561.0 832.1L561.3 836.0L561.7 841.2L562.2 846.3L562.8 850.9L563.3 855.0L564.2 860.2L564.8 863.6L565.9 868.8L566.7 872.2L567.9 877.1L568.9 880.9L570.0 884.3L571.3 888.5L572.8 893.0L574.1 896.4L575.5 899.9L576.9 903.3L578.4 906.8L580.0 910.3L581.6 913.7L583.3 917.2L585.1 920.6L587.0 924.1L589.0 927.5L591.0 931.0L593.1 934.4L595.2 937.7L596.9 940.4L598.7 943.1L601.0 946.5L603.4 950.0L605.4 952.8L607.2 955.2L609.8 958.6L612.3 961.9L614.0 964.1L616.5 967.3L619.1 970.5L620.8 972.6L623.5 975.9L625.9 978.7L628.0 981.1L631.0 984.5L632.7 986.6L635.5 989.7L637.9 992.3L640.2 994.9L643.0 997.9L645.0 1000.1L648.1 1003.3L649.9 1005.3L653.2 1008.7L654.9 1010.5L658.3 1013.9L660.0 1015.7L663.4 1019.1L665.2 1020.9L668.6 1024.3L670.3 1026.0L673.7 1029.3M597.5 768.6L597.5 773.8L597.5 779.0L597.7 784.1L597.8 789.3L598.1 794.5L598.4 799.7L598.7 803.1L599.1 808.3L599.6 813.5L600.2 818.7L600.7 822.2L601.4 827.3L602.0 831.4L602.8 836.0L603.7 840.9L604.5 844.6L605.4 849.1L606.4 853.2L607.2 856.7L608.6 861.9L609.5 865.3L610.6 868.8L612.1 874.0L613.3 877.4L614.4 880.9L615.7 884.3L617.4 888.9L619.0 893.0L620.4 896.4L621.8 899.9L623.3 903.3L624.9 906.8L626.5 910.3L628.1 913.7L629.8 917.2L631.6 920.6L633.4 924.1L635.2 927.5L637.1 931.0L639.1 934.4L641.1 937.9L643.0 941.0L644.7 943.8L646.4 946.6L648.5 950.0L650.8 953.4L653.1 956.9L654.9 959.7L656.6 962.2L659.0 965.5L661.4 969.0L663.5 971.9L665.2 974.2L667.7 977.6L670.3 981.1L672.0 983.3L673.7 985.5M626.0 768.6L626.3 773.8L626.7 779.0L627.1 784.1L627.6 788.9L628.0 792.8L628.7 798.0L629.3 802.9L629.9 806.6L630.7 811.8L631.2 815.2L632.2 820.4L632.8 823.9L633.9 829.1L634.6 832.5L635.8 837.7L636.6 841.2L637.9 846.1L638.8 849.8L639.8 853.2L641.3 858.3L642.4 861.9L643.5 865.3L644.7 869.1L646.3 874.0L647.6 877.4L648.8 880.9L650.1 884.3L651.5 887.8L653.2 892.1L654.9 896.2L656.5 899.9L658.1 903.3L659.6 906.8L661.3 910.3L662.9 913.7L664.6 917.2L666.3 920.6L668.1 924.1L669.9 927.5L671.8 931.0L673.7 934.4M651.0 768.6L651.5 773.1L652.0 777.2L652.7 782.4L653.2 786.5L653.9 791.1L654.7 796.2L655.3 799.7L656.2 804.9L656.9 808.3L657.9 813.5L658.6 817.0L659.8 822.2L660.5 825.6L661.8 830.6L662.7 834.2L663.6 837.7L665.0 842.9L666.0 846.3L667.0 849.8L668.6 854.9L669.7 858.4L670.8 861.9L672.0 865.4L673.7 870.2" stroke="#101010" stroke-width="1" fill="none" stroke-linejoin="round"/>
<path d="M400.6 1045.0v7M400.6 768.6h-7M468.9 1045.0v7M400.6 837.7h-7M537.2 1045.0v7M400.6 906.8h-7M605.4 1045.0v7M400.6 975.9h-7M673.7 1045.0v7M400.6 1045.0h-7" stroke="#555" stroke-width="1.2" fill="none"/>
<text class="t" transform="translate(400.6 1063.7) scale(0.92 1)" text-anchor="middle">28.00</text>
<text class="t" transform="translate(468.9 1063.7) scale(0.92 1)" text-anchor="middle">29.00</text>
<text class="t" transform="translate(537.2 1063.7) scale(0.92 1)" text-anchor="middle">30.00</text>
<text class="t" transform="translate(605.4 1063.7) scale(0.92 1)" text-anchor="middle">31.00</text>
<text class="t" transform="translate(673.7 1063.7) scale(0.92 1)" text-anchor="middle">32.00</text>
<text class="t" transform="translate(390.0 770.4) scale(0.92 1)" text-anchor="end">0.60</text>
<text class="t" transform="translate(390.0 839.5) scale(0.92 1)" text-anchor="end">0.50</text>
<text class="t" transform="translate(390.0 908.6) scale(0.92 1)" text-anchor="end">0.40</text>
<text class="t" transform="translate(390.0 977.7) scale(0.92 1)" text-anchor="end">0.30</text>
<text class="t" transform="translate(390.0 1046.8) scale(0.92 1)" text-anchor="end">0.20</text>
<text class="ax" x="534.8" y="1102.5" text-anchor="middle">A: x1</text>
<text class="ax" style="font-size:12.7px" transform="translate(352.4 906.1) rotate(-90)" text-anchor="middle">B: x2</text>
<text x="535.3" y="762.9" font-size="16" text-anchor="middle">y3</text>
<clipPath id="c2"><rect x="399.6" y="767.6" width="274.7" height="278.4"/></clipPath><g clip-path="url(#c2)">
<rect x="462.0" y="836.3" width="36.6" height="10.8" fill="#fff" stroke="#222" stroke-width="1"/>
<text class="cl" transform="translate(480.3 845.1) scale(0.97 1)" text-anchor="middle">3144.67</text>
<rect x="518.2" y="961.2" width="36.6" height="10.8" fill="#fff" stroke="#222" stroke-width="1"/>
<text class="cl" transform="translate(536.5 970.0) scale(0.97 1)" text-anchor="middle">3144.67</text>
<rect x="567.9" y="912.4" width="36.6" height="10.8" fill="#fff" stroke="#222" stroke-width="1"/>
<text class="cl" transform="translate(586.2 921.2) scale(0.97 1)" text-anchor="middle">3227.81</text>
<rect x="600.3" y="881.2" width="36.6" height="10.8" fill="#fff" stroke="#222" stroke-width="1"/>
<text class="cl" transform="translate(618.6 890.0) scale(0.97 1)" text-anchor="middle">3310.95</text>
<rect x="624.0" y="850.0" width="36.6" height="10.8" fill="#fff" stroke="#222" stroke-width="1"/>
<text class="cl" transform="translate(642.3 858.8) scale(0.97 1)" text-anchor="middle">3394.09</text>
<rect x="636.2" y="808.9" width="36.6" height="10.8" fill="#fff" stroke="#222" stroke-width="1"/>
<text class="cl" transform="translate(654.5 817.7) scale(0.97 1)" text-anchor="middle">3477.23</text>
</g>
<circle cx="400.6" cy="768.6" r="2.6" fill="#f00" stroke="#800" stroke-width="0.6"/>
<circle cx="673.7" cy="768.6" r="2.6" fill="#f00" stroke="#800" stroke-width="0.6"/>
<circle cx="400.6" cy="1045.0" r="2.6" fill="#f00" stroke="#800" stroke-width="0.6"/>
<circle cx="673.7" cy="1045.0" r="2.6" fill="#f00" stroke="#800" stroke-width="0.6"/>
<circle cx="537.2" cy="906.8" r="2.2" fill="#f00" stroke="#800" stroke-width="0.6"/>
<text x="527.7" y="907.5" style="font-size:8.8px;font-weight:bold">5</text>
<rect x="33.7" y="767.0" width="273.3" height="276.3" fill="none" stroke="#333" stroke-width="1.2"/>
<path d="M33.7 782.5h-7M33.7 843.7h-7M33.7 904.9h-7M33.7 966.1h-7M33.7 1027.4h-7M49.2 1043.3v7.3M108.5 1043.3v7.3M169.4 1043.3v7.3M229.9 1043.3v7.3M290.9 1043.3v7.3" stroke="#222" stroke-width="1" fill="none"/>
<text class="t" transform="translate(23.3 783.3) scale(0.92 1)" text-anchor="end">3890</text>
<text class="t" transform="translate(23.3 844.5) scale(0.92 1)" text-anchor="end">3640</text>
<text class="t" transform="translate(23.3 905.7) scale(0.92 1)" text-anchor="end">3390</text>
<text class="t" transform="translate(23.3 966.9) scale(0.92 1)" text-anchor="end">3140</text>
<text class="t" transform="translate(23.3 1028.2) scale(0.92 1)" text-anchor="end">2890</text>
<text class="t" transform="translate(49.2 1060.7) scale(0.92 1)" text-anchor="middle">-1.000</text>
<text class="t" transform="translate(108.5 1060.7) scale(0.92 1)" text-anchor="middle">-0.500</text>
<text class="t" transform="translate(169.4 1060.7) scale(0.92 1)" text-anchor="middle">0.000</text>
<text class="t" transform="translate(229.9 1060.7) scale(0.92 1)" text-anchor="middle">0.500</text>
<text class="t" transform="translate(290.9 1060.7) scale(0.92 1)" text-anchor="middle">1.000</text>
<text class="ti" x="168" y="762.7" text-anchor="middle">Perturbation</text>
<path d="M49.2 950.5L55.1 952.3L61.1 954.0L67.0 955.5L72.9 956.9L78.8 958.0L84.8 959.1L90.7 959.9L96.6 960.6L102.6 961.1L108.5 961.5L114.6 961.7L120.7 961.7L126.8 961.6L132.9 961.3L138.9 960.9L145.0 960.2L151.1 959.5L157.2 958.5L163.3 957.4L169.4 956.1L175.5 954.7L181.5 953.1L187.6 951.3L193.6 949.4L199.7 947.3L205.7 945.1L211.8 942.7L217.8 940.1L223.9 937.3L229.9 934.4L236.0 931.4L242.1 928.1L248.2 924.7L254.3 921.2L260.4 917.4L266.5 913.6L272.6 909.5L278.7 905.3L284.8 900.9L290.9 896.4M49.2 978.4L55.1 976.7L61.1 975.1L67.0 973.5L72.9 972.0L78.8 970.6L84.8 969.2L90.7 967.9L96.6 966.6L102.6 965.4L108.5 964.2L114.6 963.2L120.7 962.1L126.8 961.2L132.9 960.3L138.9 959.4L145.0 958.6L151.1 957.9L157.2 957.3L163.3 956.7L169.4 956.1L175.5 955.7L181.5 955.2L187.6 954.9L193.6 954.6L199.7 954.4L205.7 954.2L211.8 954.1L217.8 954.0L223.9 954.0L229.9 954.1L236.0 954.3L242.1 954.4L248.2 954.7L254.3 955.0L260.4 955.4L266.5 955.8L272.6 956.3L278.7 956.9L284.8 957.5L290.9 958.2M49.2 982.6L55.1 982.0L61.1 981.4L67.0 980.7L72.9 979.9L78.8 979.0L84.8 978.1L90.7 977.1L96.6 975.9L102.6 974.7L108.5 973.5L114.6 972.1L120.7 970.7L126.8 969.1L132.9 967.5L138.9 965.8L145.0 964.0L151.1 962.2L157.2 960.3L163.3 958.2L169.4 956.1L175.5 954.0L181.5 951.7L187.6 949.3L193.6 946.9L199.7 944.4L205.7 941.8L211.8 939.1L217.8 936.4L223.9 933.5L229.9 930.6L236.0 927.6L242.1 924.5L248.2 921.3L254.3 918.1L260.4 914.8L266.5 911.3L272.6 907.9L278.7 904.3L284.8 900.6L290.9 896.9" stroke="#111" stroke-width="0.9" fill="none"/>
<circle cx="169.4" cy="956.1" r="2.6" fill="#000"/>
<text class="pl" x="286.6" y="891.9" text-anchor="middle">A</text>
<text class="pl" x="276.8" y="899" text-anchor="middle">C</text>
<text class="pl" x="286.8" y="955" text-anchor="middle">B</text>
<text class="pl" x="53.1" y="947.7" text-anchor="middle">A</text>
<text class="pl" x="52.4" y="978.3" text-anchor="middle">B</text>
<text class="pl" x="63" y="974" text-anchor="middle">C</text>
<text class="h" transform="translate(6.3 740.6) scale(1 .87)" xml:space="preserve">c Y<tspan font-size="11.5px">3</tspan>(Theoretical plates of RPV):</text>
</svg></div></body></html>
